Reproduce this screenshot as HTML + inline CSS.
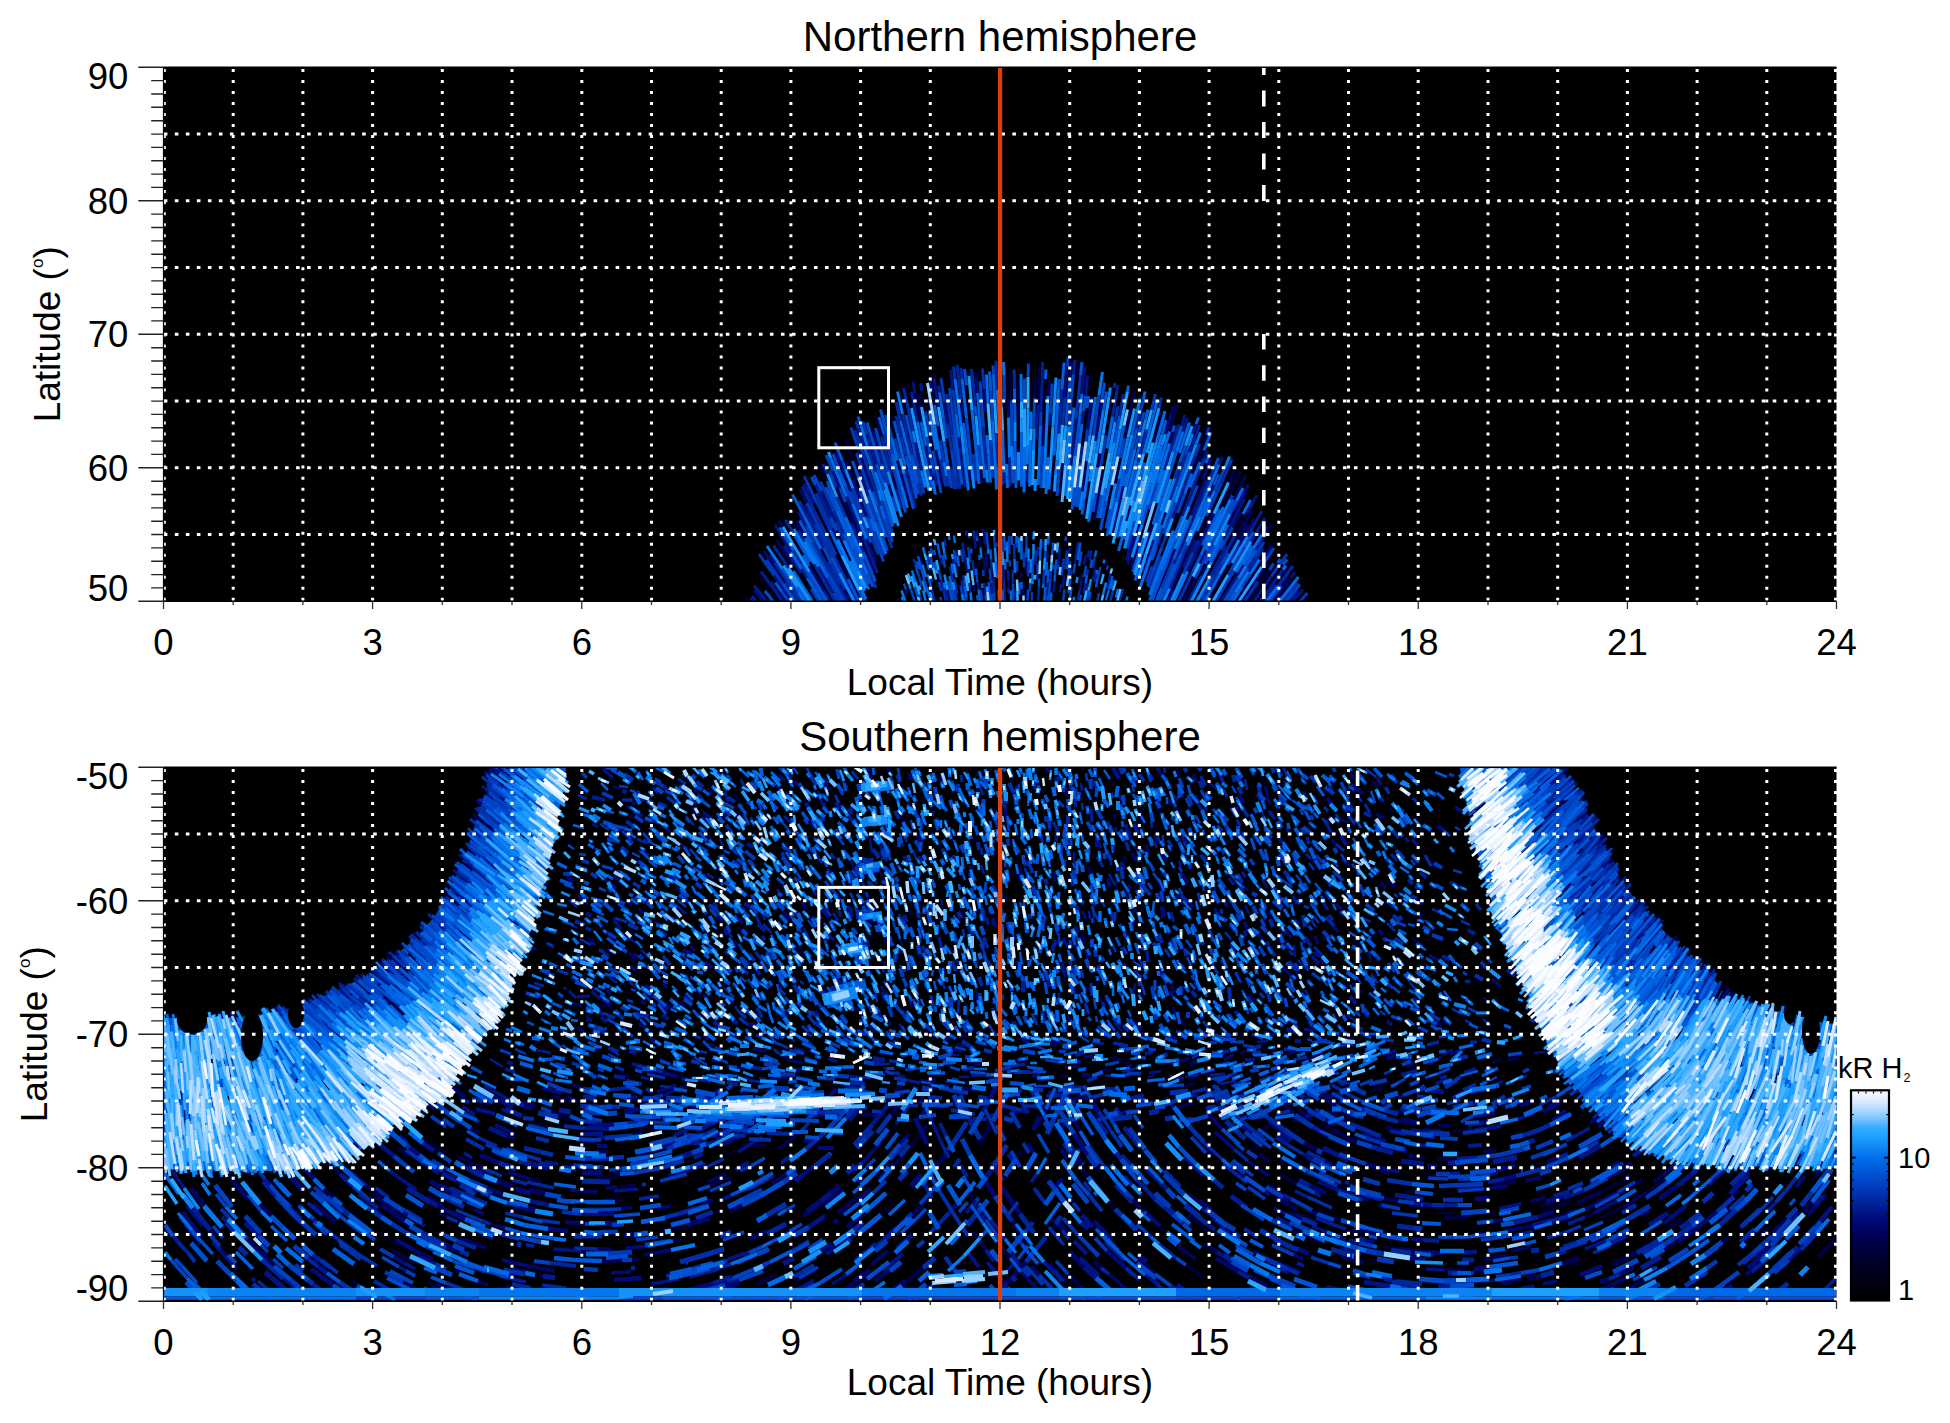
<!DOCTYPE html><html><head><meta charset="utf-8"><title>Auroral maps</title><style>html,body{margin:0;padding:0;background:#fff;overflow:hidden}svg{display:block}text{font-family:"Liberation Sans",Arial,Helvetica,sans-serif;fill:#000}</style></head><body>
<svg width="1950" height="1423" viewBox="0 0 1950 1423">
<rect width="1950" height="1423" fill="#fff"/>
<defs><linearGradient id="cb" x1="0" y1="1" x2="0" y2="0"><stop offset="0" stop-color="rgb(0,0,0)"/><stop offset="0.122" stop-color="rgb(0,0,25)"/><stop offset="0.21" stop-color="rgb(0,0,50)"/><stop offset="0.3" stop-color="rgb(0,0,80)"/><stop offset="0.389" stop-color="rgb(0,10,120)"/><stop offset="0.479" stop-color="rgb(0,40,160)"/><stop offset="0.568" stop-color="rgb(0,70,200)"/><stop offset="0.677" stop-color="rgb(0,110,235)"/><stop offset="0.779" stop-color="rgb(30,160,255)"/><stop offset="0.817" stop-color="rgb(50,170,255)"/><stop offset="0.864" stop-color="rgb(120,195,255)"/><stop offset="0.902" stop-color="rgb(170,215,255)"/><stop offset="0.949" stop-color="rgb(220,235,255)"/><stop offset="1.0" stop-color="rgb(250,252,255)"/></linearGradient></defs>
<rect x="1851" y="1090.3" width="38" height="210.2" fill="url(#cb)" stroke="#000" stroke-width="2.2"/>
<path d="M1852 1257.5h1.6M1888 1257.5h-1.6M1852 1232.4h1.6M1888 1232.4h-1.6M1852 1214.5h1.6M1888 1214.5h-1.6M1852 1200.7h1.6M1888 1200.7h-1.6M1852 1189.4h1.6M1888 1189.4h-1.6M1852 1179.8h1.6M1888 1179.8h-1.6M1852 1171.5h1.6M1888 1171.5h-1.6M1852 1164.2h1.6M1888 1164.2h-1.6M1852 1114.7h1.6M1888 1114.7h-1.6M1858.5 1091.4v2M1866 1091.4v2M1873.5 1091.4v2M1881 1091.4v2" stroke="#000" stroke-width="1.2" fill="none"/>
<path d="M1852 1157.7h4M1888 1157.7h-4" stroke="#000" stroke-width="1.8" fill="none"/>
<text x="1898" y="1168" font-size="29">10</text>
<text x="1898" y="1299.5" font-size="29">1</text>
<text x="1838" y="1078" font-size="29">kR H<tspan font-size="12.5" dy="3.5" dx="1">2</tspan></text>
<rect x="163.5" y="67.3" width="1673.0" height="534.0" fill="#000"/>
<defs><clipPath id="clipT"><rect x="163.5" y="67.3" width="1673" height="534"/></clipPath><clipPath id="clipB"><rect x="163.5" y="767.3" width="1673" height="534"/></clipPath></defs><g clip-path="url(#clipT)"><g transform="scale(0.5)">
<path stroke="#00000b" stroke-width="6" d="M2148 815l6-61m268 164l8-20m-141 27l5-19m-89 39l9-48m-143 61l2-79m-36 25l-1-61m-414 335l-20-32m30 58l-44-71m-28 71l-52-70"/>
<path stroke="#000011" stroke-width="6" d="M1974 870l-3-45m91-2l2-96m250 75l3-11m-304 110l-4-95m-381 144l-7-16m791 26l19-48m-39 168l21-48m-117 32l18-58m34 173l19-44m53 69l44-78m-102 78l24-51m-846 51l-13-17"/>
<path stroke="#000017" stroke-width="6" d="M1960 763l-3-32m-106 92l-7-41m93 35l-4-46m154 77l4-90m251 200l17-52m-194-14l9-76m-78 98l4-63m-153 57l-10-91m-218 127l-24-68m758 216l33-64m-163 85l32-87m-147 22l16-78m-618 141l-44-75m203 109l-23-60m646 119l37-72"/>
<path stroke="#00001e" stroke-width="6" d="M2177 792l6-46m-167 52l-1-47m197 120l9-54m0 0l7-41m-326 159l-9-58m481 162l32-81m-11 13l17-45m12 97l29-65m-106 103l33-86m-697 144l-34-68m0 0l-21-44m-41 135l-31-49m100 31l-14-26m663 34l23-64m188 95l35-51m45 70l9-11m-92 33l53-75m-65 75l54-78m-889 78l-46-80m-67 80l-36-48"/>
<path stroke="#000026" stroke-width="6" d="M1938 752l-2-14m-146 139l-13-51m694 123l5-11m-77-50l16-42m-695 135l-31-84m414 97l5-83m168 182l23-74m-21 148l7-23m151 60l36-59m-100 59l38-76m-910 76l-14-16"/>
<path stroke="#00002e" stroke-width="6" d="M1868 756l-2-11m-54 85l-9-42m20 28l-9-40m650 143l3-8m-454 17l0-27m-147 0l-7-35m-154 56l-16-42m-35 82l-18-41m803 97l32-69m-2 123l25-46m-798 132l-24-49m695 63l38-81m20 41l17-33m-90 105l15-32"/>
<path stroke="#000036" stroke-width="6" d="M2154 754l3-34m-87 52l0-18m-282 88l-3-10m74-7l-5-23m15 8l-4-24m158 15l-2-65m149 290l9-63m340 156l22-34m-37 6l25-41m-241 114l16-44m167 84l49-77m-106 77l42-75m-149 75l28-70"/>
<path stroke="#000036" stroke-width="5" d="M1997 1136l-1-30"/>
<path stroke="#00003f" stroke-width="6" d="M1952 753l-1-9m-188 129l-14-47m635 121l29-77m-107 15l16-61m-441 57l-5-29m244 134l5-60m106 41l10-51m206 98l34-70m-778 103l-30-72m-76 86l-13-22m117 83l-28-61m822 143l44-64"/>
<path stroke="#000049" stroke-width="6" d="M2096 792l2-34m-255 56l-5-28m198 57l0-83m40 49l1-35m323 150l8-23m-615 79l-10-35m705 54l7-14m-38 121l26-48m-85 22l26-57m-101 27l9-25m3 109l15-36m201 71l31-42m-31 77l35-45m-883 45l-13-25"/>
<path stroke="#000049" stroke-width="5" d="M1961 1095l-2-19m-3 59l-1-10"/>
<path stroke="#000152" stroke-width="6" d="M2077 774l1-41m-9 63l1-24m-228 72l-12-58m419 91l20-93m70 79l16-53m-16 77l6-23m-150 71l5-28m257 58l10-23m67 122l9-16m-87 1l14-29m-745 66l-34-82m674 125l29-67m169 110l11-16m-207 48l23-47m-666 47l-41-85"/>
<path stroke="#000152" stroke-width="5" d="M2004 1077l-1-11m-158 63l-5-21m75 34l-3-17m74 33l-2-20m63 53l0-22"/>
<path stroke="#00045f" stroke-width="6" d="M2342 829l5-17m-641 148l-14-37m125 81l-22-83m90 50l-13-71m92 68l-3-32m204 47l8-61m16 117l16-94m263 54l23-48m8 79l5-10m-21 38l16-28m-21 50l17-31m-242-7l8-31m-650 65l-19-35m-4 92l-34-53m194 63l-23-57m679 65l15-29m126 82l37-49m-250 49l33-75m-793 75l-22-30"/>
<path stroke="#00045f" stroke-width="5" d="M1949 1183l-2-13"/>
<path stroke="#00076b" stroke-width="6" d="M2140 759l3-36m-216 123l-5-46m95 35l-1-37m175 84l13-84m-119 94l2-44m-473 158l-14-27m101 3l-15-39m99 51l-7-25m162-9l-2-20m540 151l31-54m-44 18l17-32m-916 31l-8-13m13 124l-30-42m106 58l-29-49m645 3l13-42m2 43l28-87m176 155l52-77"/>
<path stroke="#00076b" stroke-width="5" d="M1971 1145l-3-30m75 39l0-9m9 2l0-32m-151 89l-6-24"/>
<path stroke="#000a78" stroke-width="6" d="M2164 788l6-55m-40 62l5-63m-180 54l-3-33m-87 33l-5-32m35 93l-6-43m82 21l-3-47m207 81l9-65m147 74l11-39m64 129l16-40m-668-27l-8-29m-60 81l-15-38m62 128l-27-73m39 23l-30-90m755 127l27-51m-86 95l17-37m-202 37l21-92m-706 151l-13-21m224 24l-19-48m522 51l24-81m120 79l13-27m108 27l23-34m-845 111l-18-34m-153 34l-19-24"/>
<path stroke="#000a78" stroke-width="5" d="M1954 1073l-2-12m-90 36l-3-13m-44 105l-3-10m145 0l-2-14m19-32l-3-31m46 76l0-17m77-37l1-19m68 56l2-13"/>
<path stroke="#001384" stroke-width="6" d="M2171 792l4-41m-269 29l-5-40m-71 46l-4-23m51 51l-9-58m232 95l1-24m63 21l3-26m196 30l7-23m-4 34l9-27m10 32l7-20m46 81l7-15m-36 3l6-15m-273 30l10-94m-229 77l-5-40m-75 66l-12-56m-203 122l-20-40m72 9l-14-34m70 50l-17-48m146 17l-13-69m531 139l29-71m6 33l10-23m66 56l20-36m10 79l10-16m-87 26l41-80m-131 108l31-74m-661 43l-34-83m-18 86l-10-22m6-13l-28-62m-14 66l-20-39m3 43l-15-28m-15 80l-32-54m0 124l-8-11m8-38l-11-16m127 76l-29-52m616-13l14-50m18 74l22-64m60 55l25-55m-17 63l36-79m171 91l8-11m-5 60l21-25m-28 25l18-22m-154 22l45-74m-150 74l11-25m-763 25l-37-53"/>
<path stroke="#001384" stroke-width="5" d="M2137 1114l3-20m-170-5l-3-31m-16 39l-2-21m-14 70l-5-30m11 69l-2-9m45 12l-2-21m26-8l-2-29m101 55l2-22m8-33l3-32m0 87l2-17m3 8l3-26m22-23l1-11m8 66l4-21m5-31l4-21m14 50l4-22m-159 67l-1-26m-233 26l-2-6"/>
<path stroke="#001c91" stroke-width="6" d="M2234 781l2-11m-89-21l3-29m-65 22l0-18m-206 61l-2-14m-33 11l-3-15m-6 77l-12-60m250 95l3-70m6 15l3-82m295 162l19-54m-70 90l28-91m-196 78l4-35m-400 35l-11-36m-1 38l-19-60m-5 27l-12-38m-107 126l-6-11m57 62l-30-65m172 46l-10-36m38 35l-21-84m63 40l-5-24m63 28l-8-60m86 52l-1-22m46 19l0-35m291 108l19-53m0 0l26-71m-25 119l23-62m0 0l11-28m-11 91l17-40m107 107l22-36m-32 19l28-47m-35 37l29-51m-138 83l12-25m-671 25l-24-58m-56 48l-44-84m-1 135l-34-54m46 64l-11-18m152 8l-28-70m622 52l8-21m62 49l34-64m79 95l34-48m-40 65l25-35m-32 35l13-17m-25 17l36-52m-883 52l-13-23m-81 23l-44-61m12 61l-26-33m6 33l-10-12m3 12l-6-7"/>
<path stroke="#001c91" stroke-width="5" d="M2176 1114l2-13m-27 15l5-31m-70 12l1-16m-154-9l-1-11m-17 51l-2-9m-28 27l-4-14m27 12l-2-10m22 72l-5-29m5-1l-2-10m45 40l-2-24m32-40l0-11m16 46l-1-21m78 51l1-25m72 20l4-19m2 14l2-12m4-48l4-20m31 76l7-30m-211 57l-1-19m-113 19l-6-27"/>
<path stroke="#00269d" stroke-width="6" d="M2228 776l2-10m-201 11l0-24m-34 27l-3-59m-45 51l-4-34m-19 19l-2-21m-4 24l-4-30m-103 63l-4-17m-94 92l-3-8m92 13l-10-42m23 41l-10-44m117-28l-4-40m32 52l-3-40m171 95l6-88m101 54l9-52m5 51l8-44m26 70l7-32m-3 98l16-65m-297 74l-2-46m-21 53l-6-86m-143 56l-9-38m-32 73l-20-72m-12 71l-16-50m-80 54l-9-20m115 83l-20-58m179 25l-6-46m106 41l-1-58m321 85l31-89m34 82l23-56m25 165l16-30m-781-5l-20-44m-27 24l-31-63m-1 99l-12-22m-7 11l-19-32m6 96l-30-45m55 35l-15-25m74 43l-32-59m51 85l-24-46m683 53l36-86m51 62l27-51m3 27l22-38m18 44l14-21m-13 29l29-45m30 74l30-40m-209 72l27-53m-690 53l-23-45m2 45l-32-60m10 60l-43-77m-31 77l-26-39"/>
<path stroke="#00269d" stroke-width="5" d="M2076 1111l1-17m-82 0l-1-9m-45-9l-2-15m-17 55l-5-31m-34 6l-2-11m-58 49l-4-11m59 59l-4-17m24 4l-6-31m15 56l-6-31m40-8l-4-29m39 17l-2-19m6 66l-2-27m17 3l-1-26m7 50l-1-26m10 29l-1-10m9-10l-1-28m46-11l1-29m69 53l2-14m46 25l4-16m-38 56l4-22m-83 22l2-29m-143 29l-2-9m-41 9l-6-27m-16 27l-7-26"/>
<path stroke="#002fa9" stroke-width="6" d="M2029 753l-1-14m-60 39l-3-41m-55 21l-3-25m-190 125l-5-16m89 0l-9-38m34 58l-15-69m87 29l-5-34m12 81l-7-47m227 28l5-55m8 58l5-59m11 23l7-66m69 93l6-32m82 4l5-21m90 75l5-15m-19 87l10-25m-19-4l9-25m-50 69l10-32m-365-38l-1-21m-90 34l-8-53m-83 65l-10-39m-21 41l-13-46m-27 85l-28-85m-110 143l-5-9m15-40l-5-10m34 58l-10-23m41-12l-14-34m32 93l-17-40m169-3l-6-24m54 6l-10-54m16 54l-4-21m16 27l-7-44m12 43l-3-25m532 13l21-47m-141 177l9-24m-19 21l13-37m-542 40l-29-84m1 97l-20-53m-48 25l-17-37m1 65l-31-62m24 10l-23-47m21 105l-34-67m31 12l-25-52m55 171l-27-52m28 32l-37-73m98 90l-25-58m572 58l24-63m242 91l30-38m-107 38l28-41m-113 41l41-75m-87 75l29-61m-783 61l-53-79"/>
<path stroke="#002fa9" stroke-width="5" d="M2132 1118l2-17m-105 17l-1-31m-27 28l-1-8m-137 33l-7-29m83 65l-1-10m136-7l1-32m26 30l1-15m23-8l2-17m3 21l2-20m42 32l2-11m10-3l4-24m23 28l3-9m22 73l8-26m-248 26l-2-25"/>
<path stroke="#0038b6" stroke-width="6" d="M2135 732l1-18m-235 81l-2-19m-165 93l-8-26m133 23l-8-43m38-19l-7-48m30 72l-6-48m103 26l0-22m59 73l0-21m13 16l1-28m19 3l3-60m48 71l2-21m126 9l7-27m16 21l8-32m-110 146l11-63m-40 12l3-24m-189 97l-5-76m-67 52l-9-63m-17 55l-7-43m-81 36l-10-40m-75 16l-13-38m-67 153l-22-46m55 61l-27-60m86 71l-21-57m32 2l-25-73m28 131l-21-56m25 37l-9-26m34-27l-12-41m20 45l-13-42m83 60l-17-73m121 48l-5-54m57 62l-3-60m229 85l8-37m175 74l30-66m18 33l4-8m45 123l18-30m-86 15l23-44m-678 18l-24-72m5 110l-18-48m4-20l-9-25m-17 33l-27-69m-47 104l-40-80m15 79l-17-33m-64 99l-30-43m48 60l-33-48m760 44l12-32m18 44l13-30m0 0l11-27m20 28l19-42m4 52l40-81m26 74l33-56m-7 65l14-24m47 17l31-44m25 96l16-18m-184 18l37-63m-70 63l28-51m-744 51l-27-49m22 49l-11-19m-28 19l-16-26"/>
<path stroke="#0038b6" stroke-width="5" d="M2053 1094l0-22m-20 24l0-9m-14 21l-1-36m-13 31l-1-26m-14 19l-2-27m-49 7l-1-9m-95 104l-5-18m26 10l-2-8m20 27l-4-18m46 24l-3-17m5-47l-4-25m7 72l-1-11m13-36l-5-30m31 58l-1-12m16 27l-3-30m55 6l0-21m14 13l0-30m8 48l1-30m3 60l0-17m27 2l1-29m19-1l0-8m9 9l1-9m6 21l2-17m12 17l4-28m79 81l6-23m-32 23l4-18m-134 18l0-20m-37 20l-1-14m-62 14l-2-24m-48 24l-5-24m-66 24l-4-15"/>
<path stroke="#0042c2" stroke-width="6" d="M2143 794l4-45m-91 5l1-27m-48 57l-1-33m-21-2l-1-18m-208 124l-7-25m12 45l-5-20m131 0l-8-60m66 59l-7-91m25 79l-3-59m21 31l-1-36m66 58l1-40m66 14l5-51m47 112l11-81m173 121l6-19m-107 6l18-74m-47 92l8-39m-225 15l-1-91m-62 135l-4-46m-14 41l-10-95m-22 117l-8-53m-4 53l-4-26m-27 20l-14-73m-23 40l-6-29m-40 23l-6-24m-3 59l-14-47m0 0l-11-40m-60 83l-7-19m-8 15l-10-27m0 34l-14-32m-9 72l-15-32m63 54l-11-28m25 31l-13-33m102 49l-9-29m18 0l-22-80m101 72l-16-85m37 75l-4-23m183 23l3-84m29 100l5-58m180 85l16-53m40 60l14-37m9 24l17-42m34 11l21-47m10 93l13-26m-110 105l10-23m-45-16l23-63m-97 92l15-55m-484 42l-15-45m5 63l-21-59m-12 42l-14-34m-55 10l-12-26m-10 103l-28-52m40 41l-16-32m120 28l-34-90m562 140l28-77m121 33l13-23m27 68l16-25m23-15l25-38m-9 44l8-13m24 77l29-35m-62 35l25-32m-110 32l29-45m-160 45l9-22m-643 22l-37-66m-2 66l-47-78m-24 78l-14-20"/>
<path stroke="#0042c2" stroke-width="5" d="M2131 1082l1-9m-42 42l1-13m-115-5l-3-33m-19 18l0-9m-73 43l-2-9m-14 4l-3-14m-50 82l-4-12m25-28l-2-10m7 24l-5-14m20 35l-4-13m15-35l-6-24m24 58l-5-20m13-5l-5-25m27 15l-4-25m47 65l-2-14m67-18l0-12m6 69l0-22m39-21l1-26m12 54l0-18m21 21l2-21m33-18l3-25m10 33l3-20m18 27l4-22m23 26l6-24m46 70l1-3m-71 3l2-9m-7 9l2-8m-14 8l2-15m-36 15l3-25m-36 25l1-13m-39 13l1-25m-67 25l-1-19m-3 19l-1-16m-11 16l-2-14m-62 14l-4-23m-22 23l-2-10m-51 10l-9-27"/>
<path stroke="#004ccd" stroke-width="6" d="M2204 798l5-33m-92 15l2-22m-117 20l-3-60m-66 53l-4-33m-207 113l-6-18m78 32l-6-23m105 35l-6-40m65-5l-2-20m99 5l0-60m83 94l3-41m32 12l4-30m3 24l3-24m168 72l4-13m79 86l9-21m-78 9l12-34m-118 56l20-89m-44 27l10-53m-89 79l7-57m-243 38l-5-37m-84 30l-13-55m-33 54l-18-65m-3 105l-24-79m-17 110l-12-33m-74 48l-8-16m41 32l-10-24m20 60l-22-48m103 38l-10-29m24-4l-16-50m58 96l-8-31m24 24l-19-71m25 50l-21-85m24 76l-15-66m16 45l-13-57m39 68l-9-44m70 35l-10-77m112 75l-1-26m119 78l5-44m1 38l11-86m-6 87l5-39m26 49l6-38m3 50l8-46m225-20l9-22m52 146l18-30m-77 12l38-77m-126 104l10-25m-68-29l11-39m-61 66l11-45m-33 26l8-38m-19 41l11-57m-615 182l-32-47m114 8l-16-31m50 9l-25-57m50 101l-31-71m39 77l-11-25m16 14l-24-58m577 15l9-27m18 89l32-75m-31 24l10-28m44 40l16-33m8 18l19-38m-6 34l24-45m108 47l6-8m5 11l8-10m-126 85l29-47m-160 47l32-76m-46 76l29-73m-603 73l-11-23m1 23l-23-46m-105 46l-25-36m-19 36l-17-22"/>
<path stroke="#004ccd" stroke-width="5" d="M2106 1094l0-9m-2 25l2-16m-54 21l1-21m-29-4l-1-18m-13 30l-2-36m-65 41l-1-10m-72 13l-2-10m-32 94l-7-20m9-36l-4-15m9 15l-7-26m13 49l-6-23m15 2l-5-20m45 50l-2-8m7 34l-5-26m61-50l-1-10m22 84l-3-30m62 25l0-24m56 1l2-27m1 55l1-16m11-31l3-28m24 67l3-24m0 0l1-9m17-21l5-29m16 92l2-12m0-47l3-17m8 56l3-17m-98 46l1-10m-142 10l-2-14m-23 14l-3-14m-23 14l-2-8"/>
<path stroke="#0056d6" stroke-width="6" d="M2161 751l3-27m-182 59l-3-40m-211 125l-10-34m118 18l-7-42m92 56l-6-80m75 58l-1-67m128 77l3-25m47-10l6-36m51 86l10-44m50 44l8-29m80 86l6-15m-10-10l14-36m-76 39l17-52m-18 76l8-25m-81 17l11-48m-47 41l12-62m-353 76l-7-44m-36 9l-10-48m-102 83l-11-31m-45 24l-14-35m-61 149l-24-45m107-15l-16-39m81 45l-17-53m258 43l-2-37m36 43l-2-93m134 146l4-31m92-5l17-69m47 69l21-65m11 44l24-68m25 187l34-73m-92 58l18-44m-18 87l36-88m-70 15l8-24m-20 92l22-64m-109 22l16-77m-444 58l-16-49m-22 39l-13-36m-39 52l-32-73m-41 100l-24-45m-12 60l-28-46m5 129l-13-19m67-33l-12-21m14 13l-30-52m135 53l-29-66m42 120l-25-55m779 8l20-32m-53 104l12-19m-159 19l11-28m-25 28l25-64m-668 64l-36-60m25 60l-30-48"/>
<path stroke="#0056d6" stroke-width="5" d="M2096 1089l1-11m-54 16l0-12m-61 37l-1-20m-89 20l-3-12m-10 0l-4-20m-12 91l-3-12m6-31l-2-9m8 13l-3-15m49 9l-3-21m18 83l-4-24m24-20l-1-14m91 41l0-14m37-43l1-23m28 65l1-16m45-27l6-35m10 82l3-17m0 46l3-15m41-2l7-27m-3 27l5-19m-88 44l4-30m-42 30l2-19m-15 19l3-30m-85 30l-1-25m-24 25l-1-10m-114 10l-3-9"/>
<path stroke="#0060df" stroke-width="6" d="M2287 799l3-16m-35 0l2-12m-133 8l4-54m-37 33l1-19m-103 60l-2-50m-100 88l-8-52m39 90l-6-47m21 8l-9-79m188 106l5-83m25 90l6-55m32 55l11-76m100 46l5-21m6 31l12-48m78 46l5-13m-38 71l20-61m-165 52l11-64m-66 54l5-39m-56 63l4-48m-34 62l3-73m-38 55l0-42m-74 91l-8-90m-7 52l-8-76m-8 98l-11-94m-73 88l-19-90m-14 78l-20-80m9 89l-16-66m1 56l-12-46m-13 164l-9-28m42-39l-18-64m173 60l-4-50m27 47l-4-56m38 67l-1-23m29 20l0-66m33 63l2-45m122 111l11-60m23 28l14-64m-1 32l6-25m16 55l20-77m80 64l15-42m-4 28l20-51m0 109l18-40m-6 107l9-19m-19 29l11-25m-107-36l18-56m-75 86l5-22m-17 45l9-33m-69-25l8-46m-414 76l-16-47m-5 36l-9-26m-34 60l-33-75m10 89l-24-51m-18 38l-33-64m-6 104l-21-34m73 51l-44-79m655 68l21-68m-17 85l8-25m141-14l37-73m16 96l32-54m-17 39l19-32m-41 106l19-30m-75 30l31-56m-814 56l-39-62m28 62l-20-30"/>
<path stroke="#0060df" stroke-width="5" d="M2190 1112l3-11m-150 18l0-25m-10-7l0-15m-19 22l0-11m-115-3l-1-9m-39 124l-6-21m7-8l-5-18m50 33l-6-29m8-5l-4-20m62 49l-1-9m30-11l-2-31m19 14l-1-21m55 41l0-12m27 4l2-27m99 24l1-8m17 64l7-25m-196 25l0-23m-62 23l-3-25"/>
<path stroke="#006ae8" stroke-width="6" d="M1922 851l-12-93m36 84l-2-21m32-14l-3-58m14 130l-2-37m58-38l-1-56m20 109l0-34m98 6l4-41m228 101l9-24m-48 38l13-40m-46 64l19-64m-26 21l17-62m-18 111l12-43m-37 18l15-58m-167 94l7-74m-117 71l0-21m-11 33l-1-25m-5 17l-3-85m-4 50l-4-88m-7 100l-3-43m-10 30l-3-39m-81 82l-5-28m-7-5l-12-70m3 51l-13-75m-124 69l-13-43m-29 142l-32-78m109 89l-19-60m64 72l-12-44m68 17l-6-28m72 20l-9-73m65 71l-3-57m58 63l1-90m10 78l2-93m31 108l4-74m2 65l2-32m30 45l5-48m77 59l8-40m0 0l6-33m26 44l18-76m-16 95l18-73m37 83l20-63m-14 26l24-79m69 113l30-71m35 73l13-26m0 52l15-28m5 98l18-29m-111 16l34-71m-53 48l35-80m-46 77l25-59m-82 56l30-84m-49 108l12-35m-40 3l23-81m-530 141l-24-65m-15 35l-28-71m22 111l-36-84m41 165l-9-19m12-31l-10-24m555 51l21-62m-2 76l16-43m0 0l32-86m-24 79l24-64m153 73l19-30m47 20l6-8m-14 73l39-50m-65 50l24-32m-947 32l-12-19"/>
<path stroke="#006ae8" stroke-width="5" d="M2097 1078l1-12m-17 32l1-20m-44 27l0-30m-61 33l-1-11m-13 19l-2-21m-51-9l-2-15m-59 36l-3-13m-15 69l-7-22m28 13l-7-25m45 48l-2-12m142-19l-1-28m37 3l1-13m19 68l1-8m120-41l2-8m-402 85l-4-10"/>
<path stroke="#0577ee" stroke-width="6" d="M2198 790l7-46m-197 7l-1-27m-202 104l-10-45m202 39l-2-42m279 45l6-28m3 75l8-32m159 95l9-22m-82-21l8-24m-82 75l21-74m-73 30l5-24m-18 83l13-59m-25 31l14-71m-47 49l14-89m-76 111l7-77m-27 97l3-29m-22-39l4-90m-29 107l1-42m-14 72l1-39m-30 30l-1-28m-5 23l-2-80m-186 50l-5-23m-71 165l-17-48m25 22l-6-21m94-5l-8-34m132 24l-2-25m114 36l5-94m68 138l5-37m3 15l10-71m7 71l10-63m100 75l25-83m-18 40l10-34m109 148l40-82m-102 78l15-38m-24 59l9-21m-40-32l30-88m-784 181l-31-46m94 35l-40-69m49 75l-28-50m104 76l-38-80m41 63l-28-61m35 99l-10-21m16 23l-28-60m770 63l26-42m-20 14l15-25m-145 72l28-61"/>
<path stroke="#0577ee" stroke-width="5" d="M1889 1107l-4-23m-34 101l-6-24m170-37l-1-30m43 29l0-26m4 49l1-28m3 50l0-9m141 31l6-25m20 30l4-17m16 26l3-11m-108 11l1-10m-205 10l-2-19m-15 19l-2-16m-72 16l-6-23m-35 23l-8-23"/>
<path stroke="#0d84f4" stroke-width="6" d="M2218 793l3-18m-115 78l6-98m212 135l7-22m-37 83l19-67m-65 56l16-71m-43 54l8-38m-10 20l11-61m-57 78l7-52m-150 13l0-39m-102 64l-6-57m-114 96l-8-30m-94 60l-15-38m112 95l-27-91m172 34l-5-46m94 30l0-57m33 78l1-24m70 40l9-87m29 52l12-81m29 137l11-52m51 50l21-74m18 79l21-64m9 47l9-27m0 0l32-89m37 201l31-62m-85 63l25-58m-48 45l26-65m-109 29l10-34m-15 107l20-66m-35 48l19-72m-471 27l-27-87m20 82l-21-68m671 169l38-68m-14 46l31-53m-102 131l26-48m-37 48l41-80m-81 80l25-57m-40 57l12-27m-630 27l-30-58"/>
<path stroke="#0d84f4" stroke-width="5" d="M2091 1102l0-12m-24 18l0-20m-246 89l-3-9m75 1l-4-20m20 31l-3-16m7-9l-5-27m30 10l-3-23m57 10l-2-29m163 70l2-12m24 19l3-15"/>
<path stroke="#1592f9" stroke-width="6" d="M1944 821l-6-69m105 113l0-28m163 32l12-76m38 82l13-58m102 74l13-39m-44 72l6-20m-52 2l24-90m-189 64l3-29m-18 70l4-54m-18 80l6-94m-51 37l1-73m-99 73l-5-58m-114 56l-15-72m-162 99l-4-11m17 90l-19-46m203 33l-20-93m227 82l2-71m42 84l2-33m203 56l26-82m33 160l10-25m-51 13l13-35m-91 20l15-55m-49 67l14-65m-498 52l-9-22m-132 140l-28-43m52 13l-35-59m148 92l-16-35m553 8l27-86m-18 89l14-45m176 33l34-58m-881 121l-44-68"/>
<path stroke="#1592f9" stroke-width="5" d="M2067 1079l1-16m-162 55l-2-10m-30 39l-2-8m23 41l-2-11m82 15l-1-11m32-43l-1-27m83 36l2-24"/>
<path stroke="#1e9fff" stroke-width="6" d="M1854 874l-11-60m150 52l-4-67m251 60l15-76m38 76l10-39m-254 75l0-78m86 181l7-66m31 106l14-91m24 29l10-53m65 38l20-76m122 142l29-62m-190 105l15-53m-36 31l14-55m-14 76l7-27m-13 31l6-25m-20 39l21-90m-663 88l-18-31m152 127l-34-70m793 93l46-70m-98 70l31-54"/>
<path stroke="#1e9fff" stroke-width="5" d="M2114 1105l2-20m-25 5l1-12m-104-9l0-9m-167 104l-5-17m13 27l-6-22m16 37l-8-26m10 17l-3-9m25 24l-3-11m17-44l-4-20m304 61l2-8"/>
<path stroke="#2ca7ff" stroke-width="6" d="M2043 837l0-33m13 13l0-63m144 153l6-38m-19 78l6-39m-74 26l6-84m-64 30l1-23m-174 26l-11-69m326 176l16-85m42 106l6-26m0 0l20-77m5 200l21-62m73 107l13-26"/>
<path stroke="#2ca7ff" stroke-width="5" d="M1871 1090l-3-12m-15 42l-4-13m87 75l-5-31m59 3l-3-29m82 34l1-9m32-8l1-17m99 43l5-20m19 33l6-20m-64 43l5-23m-138 23l0-21"/>
<path stroke="#4ab3ff" stroke-width="6" d="M2005 860l-2-46m175 113l9-56m-206 9l-5-73m148 197l7-74m116 67l5-23m16 51l18-64"/>
<path stroke="#4ab3ff" stroke-width="5" d="M1872 1159l-6-24m72 31l-3-20m12 24l-4-29m117 25l1-9m173 47l7-26m-38 26l3-14"/>
<path stroke="#74c1ff" stroke-width="6" d="M2248 851l7-32m-130 107l4-46m116 151l9-38m25 15l15-57m38 74l8-25m-53 76l22-73"/>
<path stroke="#74c1ff" stroke-width="5" d="M1818 1168l-6-18m223 33l-1-24m85-9l2-16m13 38l3-21m84-4l3-10m-385 67l-3-10"/>
<path stroke="#99d0ff" stroke-width="6" d="M1869 849l-14-83m-120 241l-18-52m443 20l12-92m20 103l9-52m23 36l12-57"/>
<path stroke="#99d0ff" stroke-width="5" d="M2110 1101l1-14m-68-5l0-10m-124 39l-1-11m161 48l1-27m23 4l1-15m-57 94l0-13m-70 13l-2-20"/>
<path stroke="#baddff" stroke-width="6" d="M2149 975l10-88"/>
</g></g>
<path d="M164.3 68.9V601.3M233.2 68.9V601.3M302.9 68.9V601.3M372.6 68.9V601.3M442.3 68.9V601.3M512 68.9V601.3M581.8 68.9V601.3M651.5 68.9V601.3M721.2 68.9V601.3M790.9 68.9V601.3M860.6 68.9V601.3M930.3 68.9V601.3M1069.7 68.9V601.3M1139.4 68.9V601.3M1209.1 68.9V601.3M1278.8 68.9V601.3M1348.5 68.9V601.3M1418.2 68.9V601.3M1488 68.9V601.3M1557.7 68.9V601.3M1627.4 68.9V601.3M1697.1 68.9V601.3M1766.8 68.9V601.3M1835.5 68.9V601.3" stroke="#fff" stroke-width="3" stroke-dasharray="3 8.02" fill="none"/>
<path d="M163.8 134.1H1836.5M163.8 200.8H1836.5M163.8 267.6H1836.5M163.8 334.3H1836.5M163.8 401.1H1836.5M163.8 467.8H1836.5M163.8 534.5H1836.5" stroke="#fff" stroke-width="3" stroke-dasharray="3.6 7.42" fill="none"/>
<path d="M1263.8 201V67.3" stroke="#fff" stroke-width="3.6" stroke-dasharray="16 15.5" fill="none"/>
<path d="M1263.8 334.1V601.3" stroke="#fff" stroke-width="3.6" stroke-dasharray="15.4 15.8" fill="none"/>
<path d="M1000.1 67.3V601.3" stroke="#dc400c" stroke-width="4.2" fill="none"/>
<rect x="818.8" y="367.7" width="69.7" height="80.1" stroke="#fff" stroke-width="3" fill="none"/>
<path d="M163.5 67.3H1836.5M163.5 601.3H1836.5" stroke="#000" stroke-width="1.6" fill="none"/>
<path d="M163.5 67.3V601.3" stroke="#000" stroke-width="1.2" fill="none"/>
<path d="M138.3 67.3H163.5M151.2 80.6H163.5M151.2 94H163.5M151.2 107.3H163.5M151.2 120.7H163.5M151.2 134.1H163.5M151.2 147.4H163.5M151.2 160.8H163.5M151.2 174.1H163.5M151.2 187.4H163.5M138.3 200.8H163.5M151.2 214.1H163.5M151.2 227.5H163.5M151.2 240.9H163.5M151.2 254.2H163.5M151.2 267.6H163.5M151.2 280.9H163.5M151.2 294.2H163.5M151.2 307.6H163.5M151.2 320.9H163.5M138.3 334.3H163.5M151.2 347.7H163.5M151.2 361H163.5M151.2 374.4H163.5M151.2 387.7H163.5M151.2 401.1H163.5M151.2 414.4H163.5M151.2 427.8H163.5M151.2 441.1H163.5M151.2 454.4H163.5M138.3 467.8H163.5M151.2 481.2H163.5M151.2 494.5H163.5M151.2 507.9H163.5M151.2 521.2H163.5M151.2 534.5H163.5M151.2 547.9H163.5M151.2 561.2H163.5M151.2 574.6H163.5M151.2 587.9H163.5M138.3 601.3H163.5" stroke="#222" stroke-width="1.4" fill="none"/>
<path d="M163.5 601.3v7.6M233.2 601.3v3.6M302.9 601.3v3.6M372.6 601.3v7.6M442.3 601.3v3.6M512 601.3v3.6M581.8 601.3v7.6M651.5 601.3v3.6M721.2 601.3v3.6M790.9 601.3v7.6M860.6 601.3v3.6M930.3 601.3v3.6M1000 601.3v7.6M1069.7 601.3v3.6M1139.4 601.3v3.6M1209.1 601.3v7.6M1278.8 601.3v3.6M1348.5 601.3v3.6M1418.2 601.3v7.6M1488 601.3v3.6M1557.7 601.3v3.6M1627.4 601.3v7.6M1697.1 601.3v3.6M1766.8 601.3v3.6M1836.5 601.3v7.6" stroke="#333" stroke-width="1.3" fill="none"/>
<text x="128.4" y="88.5" text-anchor="end" font-size="36.5">90</text>
<text x="128.4" y="213.8" text-anchor="end" font-size="36.5">80</text>
<text x="128.4" y="347.3" text-anchor="end" font-size="36.5">70</text>
<text x="128.4" y="480.8" text-anchor="end" font-size="36.5">60</text>
<text x="128.4" y="601" text-anchor="end" font-size="36.5">50</text>
<text x="163.5" y="654.9" text-anchor="middle" font-size="36.5">0</text>
<text x="372.6" y="654.9" text-anchor="middle" font-size="36.5">3</text>
<text x="581.8" y="654.9" text-anchor="middle" font-size="36.5">6</text>
<text x="790.9" y="654.9" text-anchor="middle" font-size="36.5">9</text>
<text x="1000" y="654.9" text-anchor="middle" font-size="36.5">12</text>
<text x="1209.1" y="654.9" text-anchor="middle" font-size="36.5">15</text>
<text x="1418.2" y="654.9" text-anchor="middle" font-size="36.5">18</text>
<text x="1627.4" y="654.9" text-anchor="middle" font-size="36.5">21</text>
<text x="1836.5" y="654.9" text-anchor="middle" font-size="36.5">24</text>
<text x="1000" y="695.3" text-anchor="middle" font-size="37">Local Time (hours)</text>
<text transform="translate(59.9 334.3) rotate(-90)" x="0" y="0" text-anchor="middle" font-size="37">Latitude (<tspan font-size="17" dy="-17">o</tspan><tspan dy="17">)</tspan></text>
<text x="1000" y="51" text-anchor="middle" font-size="42">Northern hemisphere</text>
<rect x="163.5" y="767.3" width="1673.0" height="534.0" fill="#000"/>
<g clip-path="url(#clipB)"><path fill="#0056d6" d="M492 760L491 767L486 790L478 815L468 848L452 885L436 915L414 940L392 958L362 978L332 993L300 1006L263 1014L231 1018L209 1018L164 1018L150 1018L150 1170L164 1170L246 1170L291 1170L314 1164L348 1158L365 1147L382 1139L393 1125L410 1119L424 1106L444 1099L456 1074L470 1053L490 1028L505 1001L518 968L530 932L540 895L552 846L560 805L566 769L567 760ZM1556 760L1558 767L1573 790L1588 816L1604 847L1620 880L1635 900L1655 921L1676 946L1696 964L1707 970L1727 997L1753 1003L1776 1011L1788 1012L1819 1022L1837 1024L1850 1024L1850 1170L1837 1168L1796 1165L1744 1167L1692 1163L1657 1154L1622 1137L1587 1102L1561 1067L1545 1040L1527 992L1508 950L1496 915L1485 880L1473 837L1460 769L1458 760Z"/>
<path stroke="#00000b" stroke-width="4.5" d="M1790 1253l9-9"/>
<path stroke="#00000b" stroke-width="3.5" d="M884 1149l7-8"/>
<path stroke="#00000b" stroke-width="3" d="M1553 796l17-17m-1083 11l17 12m-29 28l22 20m982-48l22-21m67 79l25-23m-110 34l28-26m7 59l20-17m-17 7l29-28m46 41l23-29m-21 7l17-21m-13 29l22-22m-14 14l11-11m-19 82l24-30m-33 16l19-26m-92 29l16-15m-1104-8l22 22m-40 8l26 23m-108 12l12 13m22-19l14 11m-13-16l11 10m117-26l18 16m1032 10l18-24m72 15l15-14m39 40l6-12m-1312 13l23 19m-110 16l16 21m-83-45l7 19m-38 0l2 18m30-9l8 23m1536-23l4-18m-1380 71l24 19m-252-5l3 26m1497 4l14-17m134 2l10-37"/>
<path stroke="#00000b" stroke-width="2.5" d="M1469 818l18-13m70-5l15-13m-18 67l22-28m-93 21l11-9m-1026 15l13 11m-28 31l11 8m-6-1l26 25m-128 54l17 15m-7-29l15 13m-1-1l30 27m1282 0l7-12m-1333 13l30 24m1437 62l3-12m-175 2l16-20"/>
<path stroke="#000011" stroke-width="3.5" d="M702 1091l18 0"/>
<path stroke="#000011" stroke-width="3" d="M482 808l12 12m1025-13l30-26m24 56l21-22m-16 23l13-16m-75 20l18-21m-19 30l23-25m-1074 24l9 9m-24 26l16 15m1103-8l18-16m-2 38l15-14m11 58l25-28m-32 26l16-18m-43 7l12-11m-29 23l20-22m-43-1l16-17m-1087 3l31 28m-101 1l28 25m-73 19l26 24m72-27l20 19m1164-33l23-30m18 52l14-24m84 58l3-14m-1387-9l28 25m-113-8l19 22m-131 5l2 28m92-38l10 15m3 1l10 17m45 0l18 16m1291-44l19-28m140 49l5-23m-173 38l18-22m-73 48l8-7m-1291-12l9 9m1304 20l10-10m35 28l14-14m100 31l8-16m31 29l5-11m-76 4l5-11"/>
<path stroke="#000011" stroke-width="2.5" d="M1556 837l15-16m20 43l19-20m-113 2l19-16m70 63l16-18m-14 31l30-30m-43 53l18-22m-1230 92l21 18m-5-54l15 14m1320 25l10-18m-154 44l29-24m-47 25l18-15m-1229 9l13 12m-124-10l8 24m-51 16l5 26m100-26l18 27m1406 66l5-13"/>
<path stroke="#000017" stroke-width="5" d="M552 1134l4 1m1012 133l14-5"/>
<path stroke="#000017" stroke-width="4.5" d="M909 1289l10-8"/>
<path stroke="#000017" stroke-width="3.5" d="M1305 1038l7-4m-785 4l10 6m-58 30l11 5m995 155l20-3"/>
<path stroke="#000017" stroke-width="3" d="M533 778l21 19m-37-26l15 11m-8 30l33 23m914-12l22-19m48 27l21-21m5 23l21-21m-16 12l12-11m11 45l14-16m-1143 12l19 17m1100 14l17-16m-2 37l13-15m-4 42l17-23m-40 46l23-27m-1114 1l20 15m-65 5l19 14m-38-42l14 15m-71 41l17 14m-14-16l16 17m12-27l21 18m56-20l17 14m1115-13l21-23m-20 67l24-30m-98 36l9-10m-1276 30l12 25m-65-7l4 18m8 2l4 15m190-44l34 28m1285-17l4-14m43 78l9-34m-1574 11l12 34m66-6l17 29m1386 11l8-14"/>
<path stroke="#000017" stroke-width="2.5" d="M495 820l9 8m988-16l27-24m-1045 79l12 11m-43 14l16 13m1152-14l10-12m-2 42l11-12m-1131 36l21 18m-194 28l17 20m1358-5l6-10m-1509 61l2 24m81-36l9 15m26-6l21 21m1337-27l10-19m112 71l3-16m33 81l4-15"/>
<path stroke="#00001e" stroke-width="5" d="M1287 1100l16-4m-809 86l21 7"/>
<path stroke="#00001e" stroke-width="4.5" d="M379 1233l21 13"/>
<path stroke="#00001e" stroke-width="4" d="M1385 1027l7 5m-78 136l18 8m180 59l14-3"/>
<path stroke="#00001e" stroke-width="3.5" d="M1410 1023l8 4m-537 115l15-18m470 136l12 3"/>
<path stroke="#00001e" stroke-width="3" d="M501 784l33 22m-45-37l18 14m-19-1l28 26m-13 29l26 28m983-63l25-23m29 32l15-15m8 66l18-20m-1162 47l25 22m1073-23l11-12m71 69l18-24m-1191 37l29 22m-52-34l15 16m-20-20l20 21m-36-9l11 11m-26-7l9 8m-68 27l14 14m94-34l27 21m1129-27l19-20m57 22l10-16m2 26l13-18m-6 23l13-22m93 72l4-16m-96-17l11-19m-135 23l17-17m-56 48l17-15m-1234 11l14 14m-40-19l6 7m-112 0l4 34m-26-34l4 36m75-8l11 32m165-37l29 19m1141-13l13-12m81 2l14-27m123 17l5-19m-84 92l5-15m-1324-21l10 7m-173 13l4 11m-82-26l2 30m-18-24l4 42m94 10l9 22m1376-41l30-26m16 48l10-17m87 5l6-17m-1565 45l2 8"/>
<path stroke="#00001e" stroke-width="2.5" d="M1520 788l22-20m-1009 1l7 6m-40-6l33 23m-48-18l18 14m-18 4l19 14m-14 0l23 17m1028-12l10-12m28 66l15-14m-22 8l24-22m-48 37l18-19m-1119 38l21 15m22-6l28 24m968-43l16-13m112 82l18-23m-1222 12l11 12m-45 45l9 8m18-20l21 19m-16-38l33 26m1193-9l24-26m29 18l8-12m-4 43l14-27m-153 44l18-12m-1222 0l20 19m-72 48l14 19m63-56l11 9m25-8l32 25m1377 42l6-31m-31 89l14-26"/>
<path stroke="#000026" stroke-width="5" d="M692 1148l12-4m401 54l10 11m-234 6l14-13"/>
<path stroke="#000026" stroke-width="4.5" d="M1601 1192l23-12"/>
<path stroke="#000026" stroke-width="4" d="M879 1116l21-2m380 45l20 12m124 4l24 2m-45 14l12 1m-1074 14l23 18m796 2l7 6"/>
<path stroke="#000026" stroke-width="3.5" d="M629 815l9 5m88 335l11-5m342 60l17 19m341-16l18 0"/>
<path stroke="#000026" stroke-width="3" d="M474 832l13 12m-4-9l9 8m41-8l12 9m931-33l15-11m40 34l24-22m-13 21l24-24m-17 1l16-15m18 40l11-11m-27 41l20-17m-1130 26l15 15m-13 3l19 16m1092-10l27-27m-1103 56l15 13m-98 3l14 15m-18-9l17 17m-106 33l17 17m2-25l8 9m78-40l12 11m1236 5l8-11m46 65l10-20m-17 2l9-15m-1249 16l18 15m-74 4l14 12m-53-24l12 11m-14-10l14 11m-90-16l11 15m-31-6l15 23m-35-30l13 24m-51-24l11 36m-14-36l4 16m-59-5l6 40m52-24l4 17m5 16l8 22m60-49l15 16m32-12l19 13m1205-3l13-9m33 0l27-27m26 49l20-30m33-5l11-21m82 20l6-22m-1528 85l14 23m-52-46l6 27m-88-12l2 14m0 10l0 12m31 21l4 13m1584-45l6-20m12 64l12-43"/>
<path stroke="#000026" stroke-width="2.5" d="M1260 775l4 10m-763-1l17 13m-31-30l20 16m649 41l0 11m407-21l16-15m-1110 93l30 27m1095-26l12-13m-6 15l13-13m-7 7l13-13m-151 103l12 6m304 51l2-12m-115-1l8-14m-1402-1l19 24m-75 1l4 19m4-8l10 29m1364 45l21-22m6 24l16-16m27 33l13-15"/>
<path stroke="#00002e" stroke-width="9" d="M859 921l19-2"/>
<path stroke="#00002e" stroke-width="5" d="M1005 1114l12-2m-459 5l23 4m435 38l5-8m231-6l5 4m-1030 24l6 8"/>
<path stroke="#00002e" stroke-width="4.5" d="M462 1106l11 7m-51 25l23 15m464-4l11-14m126 102l10-13m488-13l27-10"/>
<path stroke="#00002e" stroke-width="4" d="M1373 1086l14-6m95 135l14-2m-113 34l16 2m-947 9l9 4m505 22l8 11"/>
<path stroke="#00002e" stroke-width="3.5" d="M1353 1105l13 5m-42-22l10-2m-112 18l16-9m182 187l24 1"/>
<path stroke="#00002e" stroke-width="3" d="M1538 824l29-24m3 32l16-15m4 43l15-16m-17 23l14-11m-23 0l25-23m-35 36l14-15m-49 14l11-8m-1062 0l26 19m1043 2l26-28m-10 66l22-22m31 20l14-17m7 44l16-20m-29 8l17-17m-44 27l22-28m-394 10l1 5m-785 13l22 21m-55-31l26 21m-85 36l13 12m-2-17l20 19m-9-33l23 19m828-22l3 7m412 11l21-29m65 74l12-22m-1466 25l16 30m-81-29l4 40m-42-42l0 12m20-3l1 22m184 7l16 9m1238-34l22-23m14 41l15-23m19 5l12-21m101 48l3-21m16 3l3-12m-81 74l9-22m-114-3l28-24m-48 34l22-25m-1437 43l6 21m1570 1l7-16"/>
<path stroke="#00002e" stroke-width="2.5" d="M1466 794l18-13m-957 29l24 18m933 21l18-16m-491 38l6 7m-545-37l23 21m998 46l19-22m75 17l29-30m-746 48l3 6m-555 68l33 35m-24-33l18 19m1314-44l7-12m-102 46l14-15m-1370 20l3 31m114 12l23 27m1-2l21 19m1295-43l16-23m-1491 70l1 30m-1 11l0 16m1536 12l12-24"/>
<path stroke="#000036" stroke-width="5" d="M743 1091l9 1m322 66l16 23m109-14l11 9m-114-9l4 4m-696 40l6 4m252 16l25-6m982 3l13-9m-1357 69l17 11m1295-5l16-8"/>
<path stroke="#000036" stroke-width="4.5" d="M635 1132l22-5m664-3l11 6m-504 63l8-6m352 28l19 15m111-18l23 8m198-13l25-9m-1136 85l13 5"/>
<path stroke="#000036" stroke-width="4" d="M1381 799l4 4m-548 264l16 2m493-29l10-1m-520 50l2-3m-260 62l12 1m747 37l18 6m-867 2l21 7m783 29l25 11"/>
<path stroke="#000036" stroke-width="3.5" d="M1325 787l2 6m-85 57l3 6m-449 89l7 8m252 135l1-1m-254 10l15 0m-338 8l16 9m-104 101l19 12m936 2l13 4m115 40l22-2m-823-30l10-2m554 58l5 3"/>
<path stroke="#000036" stroke-width="3" d="M1540 795l25-26m-376 24l4 9m374 4l9-10m13 58l15-18m-27 16l13-12m-17 23l28-26m-61 27l8-11m-11-7l14-12m-1024 43l14 14m-75-27l18 16m-23-32l18 17m-20 4l11 9m-31 23l14 11m-10-6l7 6m33-1l10 10m1136 21l22-24m-45 27l15-16m-93 6l17-17m-1036 18l16 16m-27-28l32 31m-50 0l15 13m-130 12l25 25m4-36l15 13m27-19l14 14m-13-14l17 17m40 18l9 8m1151-11l19-28m0 20l14-20m73 64l9-27m-47 9l12-21m-15 9l8-15m-42 16l8-15m-1369 43l10 10m-62-34l31 39m-62-27l2 4m15 38l6 15m102-29l9 8m1298-3l17-25m49 44l15-39m20 22l10-39m37 29l3-12m-77 74l9-22m-132 16l11-9m-1198 2l13 13m-260-15l2 16m-11-22l5 38m74 9l6 13"/>
<path stroke="#000036" stroke-width="2.5" d="M1557 804l15-16m-2 25l15-14m-8 38l15-17m-974 31l9 7m513 43l3 10m66-22l2 9m448 59l17-21m-1219 8l24 21m-54-39l16 14m-27-5l12 10m-31 10l12 9m-50 29l16 15m-11-32l14 11m1230-25l10-12m9 36l23-27m66 57l11-19m-22 15l16-27m-117 54l10-7m-1131-18l14 12m-149 3l20 17m-76-9l15 23m-75-42l7 17m-55-1l2 28m1486 4l21-32m-85 55l30-26"/>
<path stroke="#00003f" stroke-width="5" d="M629 1099l7 1m-212 59l19 12m171 2l18-1m-36 6l22-1m-13 23l16-1m1105 3l13-12m79 67l17-17m-1106 60l13-5m577 4l2 1"/>
<path stroke="#00003f" stroke-width="4.5" d="M600 1158l10 0m752-19l19 6m26 11l18 2m12 1l20 0m49 23l10-2m-761 105l22-10"/>
<path stroke="#00003f" stroke-width="4" d="M992 808l2 7m317 43l3 5m-354 46l3 10m-103 91l2 7m249 40l12 3m65 19l9-2m-109 39l12 0m-246-7l7-10m592 32l22-1m54 42l25-9m-50 15l25-6m-249 2l17 10m288 33l9-4m-647 77l24-3"/>
<path stroke="#00003f" stroke-width="3.5" d="M1175 765l4 11m-22 31l3 6m104 245l13-6m95 39l11-4m-84 32l9-4m-85-29l9 11m-233-1l5 10m256 25l12-6m329 93l22-11m-437 58l18 12"/>
<path stroke="#00003f" stroke-width="3" d="M1560 794l10-10m-19-1l11-10m-48 17l24-21m-1032-1l17 12m-19-7l22 16m-36-13l10 8m-24 32l13 11m134 8l11 4m268-24l3 10m670 10l15-16m-42 34l13-13m-70 0l21-19m-1030 39l28 23m-55 10l17 14m20 6l25 23m995-19l23-25m101 66l27-27m-27 20l15-16m-76-14l30-29m-50 34l30-24m-1164 27l27 23m-73 10l26 17m-21 12l28 28m38-55l17 15m1055 8l14-14m97 0l22-23m89 71l9-19m-16 6l5-8m-92 7l18-24m-1263 55l32 28m-83-59l13 13m-61 6l14 21m-35-18l15 24m-20-15l15 24m-95-27l5 35m171-27l31 23m1147-18l10-8m134 57l8-9m-1492 11l4 34m106 2l16 29m1319-5l8-8m51-10l15-35m3 60l4-12"/>
<path stroke="#00003f" stroke-width="2.5" d="M1561 847l21-21m-101 22l20-20m-621 42l5 11m-437 13l20 18m-132 80l25 21m1181-12l13-13m-950 17l8 5m-352 9l8 11m-48-13l8 21m1494 30l16-37m36 75l8-33m-33 11l7-21m-1554 18l2 22m-29 33l5 35m1428-36l19-18m25 27l25-26"/>
<path stroke="#000049" stroke-width="5" d="M1335 1104l14-6m-99 3l13 12m-285 32l15-24m266 33l10 7m379 32l18-13m-198-2l12-1m-1073 10l13 9m1301 22l9-8m-95 43l23-13m-46 25l23-12m-1243 25l25 12m485-4l21-18m379 25l17 6"/>
<path stroke="#000049" stroke-width="4.5" d="M891 1115l9-12m-502 45l11 8m883-21l10 7m-978 47l12 11m-91 38l13 13m171-49l12 6m224 10l23-5m856 9l23-8m212 12l8-8m-66 25l8-6m-1289 7l15 7"/>
<path stroke="#000049" stroke-width="4" d="M1254 836l4 6m-134 14l1 5m-383 68l5 5m-117 24l4 3m696 145l19 10m-799-5l17 4m175 30l23 1m782-19l4-2m-1184 61l15 11m341 81l6-2m-377 5l8 6"/>
<path stroke="#000049" stroke-width="3.5" d="M1261 768l4 8m-356 133l2 6m374 25l3 7m-660-16l5 4m453 52l3 4m-42 66l13 5m487 45l15-7m-623-12l1-2m-205 13l11-9m-63-3l4-2m-135 11l18 6m397 88l9 15m-266-19l22-10m-112 11l16-2m-105-6l11 3m-214-19l12 11m1104 44l10 0m0 0l16-1m140 29l16-8m-182 32l26 0m-91 7l18 3m-400-38l13 16m-618-8l21 12m992 31l16 2"/>
<path stroke="#000049" stroke-width="3" d="M1541 785l15-14m-1022-2l31 23m-80-18l28 19m-9 29l25 20m207-30l10 6m785 1l31-29m-7 68l21-22m-56 21l14-14m-1090 76l27 23m239-37l5 7m835-3l19-20m28 1l13-15m33 75l13-13m-21 13l21-27m-41 24l26-25m-584 34l5 6m-675-10l24 25m-25-21l21 16m-85 26l25 26m31-63l15 12m-12 9l28 31m1179 14l20-22m-1179 6l14 14m-33-21l31 24m-269 51l2 26m33-55l5 25m106-2l14 20m-3-51l20 23m677-22l12 5m25-1l8 2m136 28l15-3m354-18l29-24m0 32l28-22m174 39l4-26m-35 38l5-25m-105 40l24-27m-61 17l20-20m-1355 25l18 19m-71 0l10 32m-1-26l6 23"/>
<path stroke="#000049" stroke-width="2.5" d="M539 775l23 17m-69 24l16 14m84-15l7 3m869-6l23-19m38 29l25-29m-723 77l3 5m-373-13l27 21m808 13l7 7m182-20l8-7m152 69l11-14m-82 3l27-32m-278 35l2 5m-251-17l0 11m-735 47l12 10m47-21l9 8m751-16l0 6m474 15l16-18m34 32l19-30m-38 31l18-27m-59 29l13-15m-1038 17l7 2m-255-5l28 25m-40-7l28 26m-76-20l16 20m-112 24l0 32m95-51l18 28m1279-31l15-13m-10 10l13-12m52 9l8-11m60 11l6-12m37 78l10-33m-211 7l35-24m-1397 89l9 32m1395-54l12-12m193 8l5-15"/>
<path stroke="#000152" stroke-width="5" d="M1396 1112l13-4m-167 8l15-1m-191-14l17-4m-447 57l13-3m86-24l17-11m435 5l13-3m173 50l17 4m-201 23l17 14m-271-41l13-18m-688 54l11 12m13-11l17 17m537-9l19-15m155 23l15 21m637 7l20-13m-129 30l25-8m-53 21l14-3m-57-17l23-3m-647 0l11-8m-130 13l17-7m87 35l23-15m634 8l20-3"/>
<path stroke="#000152" stroke-width="4.5" d="M1331 1115l18 9m-50-14l13 9m-424-14l12-19m20 49l7-10m375 17l16 8m14-20l25 12m28-15l16 4m82 21l13-2m-3 35l22-4m-239 17l20 11m-387 9l18-18m650 3l24-11m198 25l13-15m-33 44l7-7m-581 5l12 8m-123 9l11 11m-473-12l6-1m-36 2l20-1m-83 15l14 2m-98-7l6 2m-203-21l16 15m26 22l8 6"/>
<path stroke="#000152" stroke-width="4" d="M1178 808l1 6m-91 52l4 9m297 6l7 7m-314 45l2 11m-496-5l7 3m99 46l9 8m409 79l16 1m258-17l11-4m-37 55l18-3m-59 9l21-6m-41 9l8-2m-514-30l17 2m-350 33l19 11m1133 63l14-8m-32-8l9-4m-226 21l21 4m-938-17l18 8m495 40l13 18m263 28l8 4m-30-18l18 10m-486-5l9-4m-125 27l26-4m126-7l21-11m752 30l16-5m41-5l19-10"/>
<path stroke="#000152" stroke-width="3.5" d="M1372 782l6 5m-223 2l1 9m-62-18l1 6m-208-19l3 7m-153 154l11 4m351 93l2 6m-454 40l18 4m5-1l13 1m28-15l8 2m148-19l7 3m145 10l8 4m480 0l12-2m-238 45l21 16m-77-22l10 10m-63 3l20-7m-121 14l9 14m-302-42l3-3m-324 70l25 12m296-19l21-16m238-6l9-18m158 37l9 9m75 4l12 7m36-45l13 6m89-2l14 1m39-4l13-5m311 60l7-9m-203 26l24-15m-376 6l17 10m-53-28l8 6m-111 22l16 17m-250-46l11-14m-478 44l16 9m-195 34l7 7m184-33l18 9m962-16l24 1m79 21l10-3m228 10l9-8m-701 47l13 13m-500-36l14 1m826 43l22 1"/>
<path stroke="#000152" stroke-width="3" d="M503 783l15 13m-46 18l17 14m-12-8l14 12m-2-6l14 14m886-32l4 4m163-7l19-15m-15 24l9-8m9 26l17-17m-2 63l19-19m-49 20l23-19m-41-10l30-30m-1043 52l13 9m-60-10l26 19m-44-41l9 6m-12 16l25 20m313 11l5 5m762 6l24-29m54 60l13-16m-37-2l7-9m-746 22l6 10m-451-23l31 28m-151 42l27 25m16-43l7 6m7-1l16 13m-8-6l23 20m-19-19l9 8m42-33l9 10m367 2l5 9m765-5l8-9m30 14l15-16m33-11l11-12m-3 19l9-13m52 70l8-16m-67-6l19-26m-1238 29l18 19m-159 11l23 22m-39-37l12 16m-27 1l12 21m-30-20l6 14m-61-34l4 18m-26-2l2 14m53 30l11 34m27-63l13 25m20 1l22 23m259-56l7 4m119 20l17 3m314 7l9 0m55-13l7-1m-2 14l12-5m142 0l16-3m10-9l15-6m169 10l10-5m218-12l16-32m75 90l4-25m-171 72l22-30"/>
<path stroke="#000152" stroke-width="2.5" d="M734 795l5 5m582 30l5 11m247-28l10-11m9 47l9-8m-128 11l10-12m-172 1l7 8m-460 29l2 5m-368-17l20 19m-57-24l18 16m263 24l3 5m162-14l2 13m688-13l18-19m-16 35l14-15m-170 42l7 6m-87 0l8 9m-1001 28l8 8m-7-3l25 21m1160-44l24-26m131 96l9-15m-1379 0l9 8m-33-22l10 12m299 60l9 4m469-6l11-2m652 8l5-23m63 47l7-39m-655 25l14-4m-352 2l8 1m753 42l24-24m200 21l7-36"/>
<path stroke="#00045f" stroke-width="9" d="M859 914l18-3"/>
<path stroke="#00045f" stroke-width="5" d="M1321 1095l18 11m-109-10l16-2m-540 18l17-2m-140 0l14 1m-145-23l13 9m129 55l14 0m41-1l24-5m403 10l6 8m231-37l16 9m-450 43l15-16m-365 27l16 3m-48-12l15 5m-137 10l23 16m-132-31l18 21m-93-14l13 18m177-1l24 15m219 15l10 0m96-24l12-6m8 34l17-8m80-4l18-15m661 61l10-2m-185-25l23 6m-868 35l14 3m202-10l11-4m769 7l11-2"/>
<path stroke="#00045f" stroke-width="4.5" d="M1063 1087l12 23m-543 15l16 4m894 24l16 0m165 16l8-6m-510 16l5 6m-354-1l15-10m-473 30l21 18m367-5l9-3m-9-10l11-4m90 16l20-14m0 0l13-10m390 36l9 6m55-21l12 6m5-9l18 8m28 10l28 7m320 24l9-7m-369 4l23 7m-525-18l15-10m-440 15l19 10m574 23l19-21m108 35l3 2"/>
<path stroke="#00045f" stroke-width="4" d="M1169 799l2 7m-52-36l1 5m309 88l8 4m-343 28l-1 10m-271 85l5 4m345-10l1 9m180-3l5 4m78 29l6 2m-391 17l6 4m290 72l15-8m-189-3l12 16m-224-35l14 2m-86 15l11 1m-39 8l22 2m-76 0l21-1m-141-3l25-13m-195 1l18 6m650 17l12 13m44-14l4 4m338 24l17-10m-46 23l13-5m-242 3l11 5m-628 16l18-8m-526 44l15 19m610-33l18-14m548 17l8 1m132-6l15-5m59 46l21-11m-227 17l24 3m-144 11l22 9m-56 2l23 12m-90-40l18 13m-59-1l18 16m-855 17l11 9m278-2l10 0m403-18l6 8m585 4l19-7"/>
<path stroke="#00045f" stroke-width="3.5" d="M1130 777l4 9m-266-13l4 6m-95 12l8 5m-77-8l4 7m231 44l4 10m194-37l1 9m97 11l3 7m-82 14l7 8m-305 43l3 9m403-1l4 4m144-16l7 5m-298 25l1 9m-392 2l5 6m-110 6l9 6m715 24l9 10m-238 42l6 2m-62-22l3 10m-318 24l14 2m15 4l6 3m69 1l9 1m323 4l8-2m54 6l7-2m313 21l1-1m-270 13l8-4m-106-9l14 17m-127-5l8 14m-181-8l5-8m-351-12l10 5m-80 45l13 5m387 4l7-10m487-13l20 4m238 58l22-18m-326 30l19 6m-909 38l26 10m4-24l12 3m15-22l18 4m518 11l9 10m347-25l10 1m108 22l18-5m51 11l22-10m5-17l24-15m-77 53l11-5m-70 11l20-4m-481 17l16 18m-468-33l14 0m-147 28l23 8m-233-39l14 14m4 34l6 5m71-9l12 7m728-2l4 4"/>
<path stroke="#00045f" stroke-width="3" d="M1561 794l13-14m-38-1l10-9m-17 26l25-17m-314 16l1 11m-161-13l2 6m-539-22l20 15m-76-19l12 9m365 51l7 7m34-7l0 5m703 30l5-5m-20-13l11-14m-12 43l11-14m-19 9l25-25m-35-5l10-9m-29 11l26-27m-651 36l5 9m-425-14l29 26m-78-9l15 13m-23-1l21 19m702-3l8 10m400-18l21-24m1 38l18-21m-13 8l9-10m26 55l14-17m-33 7l16-19m-19 19l11-12m-44 13l25-34m-716 49l2 6m-470-17l10 10m-112 57l17 16m41-49l6 5m-5-5l13 12m73-8l22 20m1088-16l11-14m9 9l17-20m29 23l26-32m-12 59l14-23m125 49l0-3m-238 5l26-22m-926 1l6 9m-105 23l9 4m-269-4l15 22m-16-54l15 18m-16-19l19 19m-42 14l13 18m-17-27l20 34m-80-48l5 19m-47-2l3 40m1 3l3 12m38-26l3 42m355-51l7 6m701 1l11-5m476 17l7-30m42 74l11-38m-221 55l28-32m0 50l5-5m71 24l18-33"/>
<path stroke="#00045f" stroke-width="2.5" d="M1548 776l12-11m-30 21l13-13m-332-4l3 9m-147 9l0 10m-137-26l3 12m-424-8l16 12m401 21l2 6m187 0l0 6m437 50l24-22m-1134 56l20 20m18-12l30 30m495-47l2 7m108-20l1 6m95-8l3 10m373-5l24-24m9 58l15-19m-223 38l7 5m-142-5l4 5m-829 3l20 17m-59-12l15 12m-24 15l16 12m-13-25l25 19m211 9l10 4m448 1l3 10m145-14l6 8m283-39l14-15m88 50l13-15m5 11l15-24m-491 51l3 5m-228 7l10 5m-79-19l3 6m-41-22l8 7m-181-9l9 6m554 47l12-7m62 7l6-1m476 14l6-36m-47 53l5-19m-165 51l17-18m-986-17l15 3m-394 56l4 15m74-32l18 24m11-23l21 20"/>
<path stroke="#00076b" stroke-width="9" d="M851 945l17-2"/>
<path stroke="#00076b" stroke-width="5" d="M1520 1105l13-4m-208-4l18-3m-24 22l10-3m-247-16l15 1m-181-10l1-2m-150 30l18 3m-25-19l17 4m-297 51l19 8m534-33l7-14m783 62l7-10m-171 31l18-13m-130-23l10-4m-247 27l16 7m-325-7l12 18m-30-26l12 18m-136 3l11-10m-39 4l9-7m-66 2l6-4m-308-12l22 10m-261-1l15 18m266 7l21 5m152 14l23-7m124 5l4-3m175-16l7 10m50 38l14 15m-639-22l15 6m-137 44l5 4m388-15l26-9m-24 15l21-7m60 6l11-5m44-3l16-11"/>
<path stroke="#00076b" stroke-width="4.5" d="M1028 1144l9 14m372-2l4 0m177-33l10-7m24 64l6-5m-23 3l16-9m-352 22l18 10m-432-18l6-6m-323-12l9 2m-62 21l15 6m-72-13l21 12m107 37l10 1m213 6l15-9m259-10l11 14m257 0l23 8m192-23l15-5m144 16l20-16m55 22l7-8m5 7l1-2m23-16l18-21m-80 81l15-13m-83-20l19-14m-77 46l14-7m-206-12l6 0m-922 14l18 4m1070 9l9-3"/>
<path stroke="#00076b" stroke-width="4" d="M1356 787l7 7m-170-20l3 7m-287-8l2 7m-86 4l3 7m-60 1l5 4m-92-11l8 8m32 21l7 4m82 1l4 9m103 7l6 9m223 1l2 11m-129 12l3 11m-301-22l6 4m-9 3l2 6m-92 31l4 4m84 11l7 5m61-9l5 8m16-24l4 5m350-20l4 12m218-10l5 5m-65 71l5 6m-408-15l3 8m153 29l1 6m91 17l4 7m-529-16l4 3m-6 20l6 2m437 49l8 0m298-17l6-2m149 56l12-6m-349 5l16 18m-158-26l7 13m-117-18l5 13m-40-30l15 1m-15 37l11-17m-241 6l9 1m-214-8l6 3m-23 10l8 3m94 20l16 2m218 2l15 0m235-19l13 20m227-22l11-1m119 11l18 1m157-4l7-5m13 41l2-1m-254 2l15 4m-816 54l20 2m1-15l24 0m-15 15l28-1m-13-14l22-1m664 6l20 9m177-2l10-1m82-11l13-6m0 0l14-7m29 19l8-5m96 30l10-9m-352 21l12 1m-121 2l9 4m-87-1l22 14m-207-6l8 9m-167-11l16-13m-244 4l27-5m-323-2l19 13m490 33l8-6m10-7l20-15m-7 27l17-13m503 9l20 2m10-6l18 0m156 0l14-7"/>
<path stroke="#00076b" stroke-width="3.5" d="M1196 795l3 12m-50-8l3 4m-192-9l6 9m-272-15l4 5m440 29l1 7m237-15l8 4m-52 22l5 6m-205 7l4 8m-82 11l1 10m-28-23l1 6m-58 0l2 6m-237 44l8 8m59-20l5 7m508 26l3 8m-245-4l4 11m-159-27l6 8m-302 1l10 7m-16 1l5 4m356 47l1 12m328 3l7 8m-370 21l6 4m-40-40l4 7m-167 16l5 3m18 53l18-2m91-25l10 2m519 13l8-4m84 41l13-3m-111 18l16 3m-31-4l10 2m-35-12l14-3m-93-16l17 14m-466 8l18-1m-283-13l9 4m-50 6l2 0m-6 0l10 1m151 33l22-8m-19 12l15-6m359 10l6 10m412-37l9-1m-4 2l20-4m184 79l12-11m-175-6l16-4m-57 12l24-3m-260-25l21 15m-407-13l19-21m-275 46l12-1m-48 3l28 2m-90-20l23 7m-336 49l7 8m248 2l19 8m188-37l14-3m7 7l15-4m130 8l2-2m375-15l12 10m263 24l10 0m20-3l17-3m218 1l9-8m-496 30l25 13m-169 10l18 16m-106-18l18 19m-511-25l27 5m-343 27l1 2m224-15l23 9m226-4l27-7m756-1l26-2"/>
<path stroke="#00076b" stroke-width="3" d="M1551 792l20-14m-26 9l16-14m-23 7l13-11m-77 29l9-8m-333 2l1 5m-210-22l0 11m-151-12l2 10m-179 2l7 3m-81-9l10 8m-74 39l10 9m223-3l4 10m235-15l4 11m161 0l3 12m461-22l17-15m-2 43l12-12m-45 16l29-25m-1067 29l27 21m-44-15l26 17m-59-44l17 13m-25 0l33 28m629 4l3 10m6 6l4 9m404-1l30-30m-8 32l26-25m-3-8l14-14m30 46l13-14m-39 48l9-12m-11 16l19-22m-20 11l25-26m-38 7l16-16m-347 25l6 11m-836-15l28 30m-56-3l18 17m-109 27l10 10m27-24l17 13m4-5l9 7m-7-24l13 11m-1-21l19 17m-18-3l16 12m545-23l3 6m702-11l21-29m-10 29l8-12m-2 14l10-13m-6 22l15-19m-3 34l18-31m24 60l12-25m-179 14l16-17m-128 30l7 5m-582 1l8 5m-96-24l7 9m-216-13l11 3m-223-4l17 16m-34-11l29 30m-51-27l25 23m-33-25l21 21m-21-25l15 16m-41-10l2 3m-115 13l2 30m216-14l21 15m375 3l16 3m-7 6l14 0m120 9l6 2m21-36l8 2m9 18l16 0m75 3l15-1m1 4l6-3m34 2l11-4m143-6l9 0m509 30l8-37m-11 51l4-13m-866-6l7 1m-753 52l2 26m161-30l13 15"/>
<path stroke="#00076b" stroke-width="2.5" d="M1542 787l14-11m-208-6l7 10m-872 59l9 8m39-12l12 11m393-29l3 6m10 9l5 10m384-24l11 5m190 1l24-21m-429 43l7 10m-226 18l4 7m-68-20l4 12m-409 25l8 6m57 5l25 22m139-44l9 8m128 20l5 6m47-28l8 9m339-8l5 7m28-14l4 3m330-1l21-24m-17 16l15-16m-1 25l13-13m-9 19l14-14m27 59l8-10m-34-1l25-31m-68 35l13-16m-1190 34l15 13m-62 19l23 18m356-4l7 6m-1-21l3 5m42-4l4 4m701 10l6 3m34-20l20-22m54 12l12-14m44 16l11-14m31 26l8-14m-37 51l17-30m-915 24l6 6m-21 1l10 8m-95-24l6 3m-40 57l9 2m62-25l9 1m81 3l10 3m754 21l32-25m-1359 68l11 39m-19-36l7 27m60-14l20 34m-12-31l16 25"/>
<path stroke="#000a78" stroke-width="9" d="M859 871l21-3"/>
<path stroke="#000a78" stroke-width="5" d="M1548 1108l12-5m-101-8l17-8m-382 18l8 12m-69-11l21 2m-42 3l18 0m-47 1l13-25m-81 31l12 26m-180-42l8-6m-15 11l9 1m-44-9l16-9m-97 22l26-5m-157-10l20 10m-103 41l14 11m164-34l26 0m48 21l14-3m398-9l14 21m181-34l10 8m274-8l13-10m-55 49l4 0m-88 6l10 1m-526 19l10-12m-339-1l20 0m-87 16l16 4m-245-21l17 18m-117 35l15 19m171-35l14 10m421-8l14-10m725 1l24-9m112 40l10-7m50 37l16-14m-348 9l16 2m-130-12l13 6m-171 0l9 8m-839-4l22 17m-96 13l13 12m376 0l26-2m50-3l10-3"/>
<path stroke="#000a78" stroke-width="4.5" d="M1270 1086l21 18m-547 31l20-13m732 48l19-4m-40 33l14-1m-31-11l24-2m-426 4l6-10m-210-7l19-18m-567 14l12 13m125 27l24 11m17 15l9 3m41-11l26 4m536-9l18 19m100-22l14 10m133 11l15 4m5-38l9 2m179 7l10-3m87 12l22-17m103 54l15-15m-48 13l15-13m-23 23l17-15m-185 22l22-9m-128 3l16-2m-664-13l13-9m-18 6l11-7m-323 30l6 2m-91-17l11 5m-39-24l18 10m-103 19l22 16m-112-34l16 18m377 11l28-2m83 7l14-5m980 15l13-10"/>
<path stroke="#000a78" stroke-width="4" d="M1352 784l4 8m-29 6l6 8m-95-28l2 4m-550 15l7 6m181 28l3 12m556-17l8 5m-558 15l1 6m-199 16l7 2m-129 6l6 6m248 26l8 10m164 0l2 9m167-21l1 12m-87 13l-1 9m-12-2l7 11m-387 1l8 3m-89 46l9 6m20-38l5 3m91-3l4 7m430-7l1 10m39 37l2 5m-63 14l7 4m-15-16l10 8m-121 8l9 8m-326-11l5 5m-59-1l10 7m149 5l10 5m651 62l25-4m-114-5l10-4m-225-7l7 10m-52 6l12-3m-85-17l19 0m-171 1l8 1m-76 3l8-9m-15 18l12 0m-25 8l27-1m-180-9l12 1m-62 2l14-1m-77-19l20 5m-67 32l20 9m82 12l10 0m110-12l24-14m-18 25l25-13m70 16l16 0m66-4l6-7m336-11l9 8m27 0l12 8m16 15l14 7m247-6l16-8m213 37l9-11m-199-5l12-8m-114 16l12-3m-40 0l22-3m-117-5l19 4m-602 7l20-16m-248 3l12 1m-146 1l25 14m-274 24l16 20m379-12l16 0m-4 9l20 0m-16-9l16 0m125-14l18-8m127 46l21-18m44-7l10-11m185 9l16 15m246-26l14 2m-9 37l12 1m171-27l23-12m-194 51l20 1m-103-4l19 6m-92 8l22 10m-182-22l19 17m-732-11l10 6m296 26l27-8m28 18l23-10m-19 3l11-4m556-1l20 6m197-9l14-3"/>
<path stroke="#000a78" stroke-width="3.5" d="M1384 787l5 5m-232-25l6 10m-117-12l2 7m-254 9l9 9m-173 8l5 6m370 5l2 12m121 7l3 11m93-15l3 6m115 29l7 6m-241 13l2 9m-250-30l4 8m-183-21l8 7m-84 29l11 8m18-5l5 5m101 19l5 2m383-24l3 4m33 20l1 7m161-22l6 6m47 30l4 5m-51-11l6 8m-94-10l5 9m-603 54l7 10m53-33l6 6m124 11l10 8m171-26l3 12m42-6l4 10m153 10l4 7m41 38l10 4m-399-28l8 10m-46-1l4 5m-94 2l7 1m-92 47l15 5m113-8l10 2m400 1l15-2m168-15l14-5m1 48l17-8m-96 26l16 9m-272-39l8 16m-408-7l20-8m-26 5l19-7m-52 14l14-2m25 51l21-7m378-13l3-5m150 9l19 17m129-16l23 8m352 44l11-12m-40 12l7-7m-398 4l17 7m-82-5l17 11m-31-22l14 11m-196-3l15 21m-404-26l25-7m-252 16l20 10m-278 17l12 16m199-21l19 12m61-9l10 4m18 13l25 7m672-28l17 13m336 4l19-6m26-14l21-11m-156 60l14-1m-689 2l4-2m-165-3l22-2m-37 27l20-1m-129-12l26 6m304 18l22-14m227 17l9 8m249-5l14 3m90-10l12 0"/>
<path stroke="#000a78" stroke-width="3" d="M1542 792l19-15m-258 14l3 6m-65 0l3 6m-87-7l4 12m-383-33l7 6m-237-13l18 14m-68-14l6 6m-33 65l20 17m-15-56l22 18m32-17l14 11m83-6l11 7m66 1l3 7m808 16l18-18m-13-12l31-26m-15 38l29-28m-12 13l18-19m-14 48l23-23m-8 18l9-8m-22 24l28-31m-35 37l14-14m-65 5l31-28m-351 60l7 10m-169-14l1 12m-543-29l23 17m-25-6l19 16m-22 0l20 16m-22-23l16 12m-41 12l25 23m108-23l10 8m25 14l5 5m264-26l-1 5m119 2l2 8m80-1l4 8m129-11l2 6m46-2l3 8m8-29l9 8m53 5l8 8m228-17l12-14m31 23l9-8m20 49l7-10m-13-7l12-12m-42 25l27-26m-31 32l15-19m-70 5l10-10m-130 32l11 6m-306-41l-2 9m-56-3l2 6m-388 14l5 5m-299 6l11 9m-66 25l21 19m50-46l12 10m-3-14l21 16m164 14l5 3m273-31l2 6m-1 24l5 5m393-29l8 8m389 13l8-22m102 72l6-18m-88-9l6-10m-73 21l24-32m-872 12l5 8m-212 5l5 4m-144-9l33 26m-47-6l12 11m-33-23l8 8m-98-5l25 23m-116-32l5 19m-19 5l6 29m2-18l7 31m68-9l7 9m2-31l16 21m622-21l15 3m43-1l11 1m40-10l5 1m23 15l9-1m55 22l6-3m70-15l10-6m196 10l11-7m19-7l7-4m136 72l11-11m-20-6l25-23m-1211 13l26 17m-128-22l22 26m9 8l8 11m1395-5l9-20m52 17l8-22m8 72l17-43"/>
<path stroke="#000a78" stroke-width="2.5" d="M1542 790l26-22m-41 28l28-23m-226 4l5 6m-68 14l5 7m-6-18l3 11m-214-19l4 7m-281 1l6 7m-292-26l10 7m-16 20l11 7m118 25l7 5m102-29l9 5m422 28l3 6m129-14l2 5m248 5l30-26m1-9l8-9m30 81l8-8m-27 4l20-19m-44-7l29-28m-37 56l16-19m-299 14l7 10m-664-1l9 8m-154-38l22 19m-28-11l12 12m-29 31l16 16m177-4l4 4m43-13l9 8m446-24l0 6m47 10l5 7m52-13l2 7m172 10l3 11m146-32l25-26m3 47l14-15m31 35l12-14m-23 32l23-29m-284 31l2 11m-86-33l6 9m-121 1l2 8m-87 2l3 10m-381-15l7 8m-106-20l5 9m-85 3l9 6m-38-26l32 26m-183 36l23 17m11-16l25 26m179-27l9 3m68-5l4 4m214-2l3 5m410-23l7 11m191 0l9 8m160-27l8-12m59 62l7-13m-16 9l10-18m-50 20l12-18m-108 20l15-17m-314 9l3 5m-114 0l2 6m-5 23l7 3m-464-17l4 7m-140-2l8 6m-236-6l21 18m-73-16l14 16m-96-18l4 16m-41-15l2 32m-11-24l2 37m573 5l15 4m273-6l8 0m136-14l14-4m260-3l9-5m373-5l4-17m-1244 56l6 3m-266 36l23 28m1268-14l24-21m44 46l6-12"/>
<path stroke="#001384" stroke-width="5" d="M805 1105l15 3m-53-15l7-7m-40 25l13-9m-17 0l10 1m-327 33l21 15m55-23l18 8m189-5l23-11m-6 3l21-12m115 9l13-15m322 51l20 19m75-46l14 10m30 9l25 12m382 34l18-19m-71 11l14-11m-216 3l13-2m-87-15l23 3m-277 5l20 20m-175-27l11 19m-17-4l8-11m-199 15l8-6m-136-14l25-8m-161 11l17 4m-80-1l25 11m-73 18l18 10m-97-31l21 19m-64 11l19 18m492 4l15-10m-3-16l10-8m250 29l7 7m-6-14l10 12m557-2l19-12m111 18l19-20m-101 31l13-10m-63 47l22-13m-325-16l17 5m-277 12l12 11m-199-29l15-14m-129 29l11-6m-529 14l21 18m0 0l6 5m486 5l21-11m-1 1l16-9m363 4l10 7m251-6l12 0m323 13l9-8"/>
<path stroke="#001384" stroke-width="4.5" d="M1420 1089l24 3m-1066 51l16 13m5-20l8 7m176-9l20 0m269-9l16-20m461 19l21 8m11 13l26 6m172 7l22-12m129 22l1-2m-167 32l20-8m-1339 33l15 15m242-5l16 4m12-36l23 5m654 18l8 6m61-12l16 8m2-1l26 11m495-31l8-9m-8 31l17-20m-615 45l15 10m-93 7l20 16m-79-27l19 18m-25-35l13 13m-344 1l18-8m-548-5l8 9m87 43l2 1m18 0l6 4m14-4l7 4m644-8l8-8m341 7l16 4m0-12l26 4m53 5l20 0"/>
<path stroke="#001384" stroke-width="4" d="M1113 768l6 11m-334 14l4 4m-129-32l5 6m-19 29l7 8m40-1l6 8m137-13l4 11m11-6l1 5m245 26l0 9m85-10l4 6m155-7l5 9m-225 17l3 8m-377-27l6 5m-167 65l5 3m153-13l9 6m96-3l3 11m307-21l2 5m78-15l4 6m145 7l5 8m-81 49l7 8m-52-23l4 11m-303-26l5 10m-165 2l1 6m-84-17l2 8m623 61l6 8m-46 20l7 6m-31-1l12 4m-51-9l6 6m-239-9l2 8m-109-18l1 6m-93-6l4 7m-87 3l6 2m-9 10l8 4m-75-22l7 4m-11-18l10 8m-67 8l6 5m-11-15l8 9m-97 46l6 2m455-3l13-1m94 2l6-1m37-17l8 2m-5 4l8 0m116 10l10 0m145 49l21 4m-59-3l15 6m-37-22l18-7m-183 12l15-2m-99 20l6 11m-278-20l9-10m-162 13l12 1m-101 28l18 1m-10-13l24 1m65 6l13-5m1 5l30 1m-18 12l9-4m0 0l15-7m687-7l22 3m-15 12l22 1m-7-13l10 0m32-3l26-4m314 65l8-9m-227-1l18-10m-299 22l6 3m-586-26l14-8m-204 0l13 2m-134-1l15 10m-90-2l18 15m-145 31l15 16m73-16l9 8m364-13l21-6m17-6l24-11m221 24l10-12m438 2l18 2m67 4l22-5m240 42l11-10m-187 13l21-8m-143 12l14-1m-119 22l10 2m-19-36l27 7m-332 15l18 19m-75-19l15 18m-33-26l10 13m-96 3l20-16m-48 6l16-12m-162 24l9-3m-314-6l11 6m-134 7l19 15m-39-34l20 19m-29 2l3 3m1073 6l12 3m172 1l22-5"/>
<path stroke="#001384" stroke-width="3.5" d="M603 769l10 9m20 34l10 4m162-13l8 9m244 17l-1 13m40-3l5 9m25-24l1 12m151 1l7 9m127-6l6 5m-234 10l5 9m-285-8l5 9m-181-19l8 7m100 41l5 8m383-3l3 8m66-11l4 8m120 39l5 3m-108 6l6 5m-30-37l9 7m-54 3l1 6m-379 4l2 7m-43-13l8 6m-58 5l1 6m-200 46l13-1m2-5l8 8m282-7l3 9m72-41l3 4m89 12l0 11m142-16l7 6m189 44l5 4m-154-11l4 7m-172-16l-1 9m-437 50l10 2m155 11l12 3m19-22l9 4m99 3l8 0m226 11l14 3m259-25l10-4m65 69l15-6m-62-9l14-2m-50-18l12-5m-68 29l9 3m-82 5l14-3m-139-15l16-3m-207 20l11-1m-71 3l11 25m-179-39l16-14m-277 20l10 4m-27-27l24 13m-32 10l19 5m-32-7l12 8m122 23l20 0m117-4l16-9m-13-5l15-10m-14 42l24-15m134-13l7-10m400 40l12 7m153-36l16-2m232 55l12-11m-393 22l15 5m-156-27l8 7m-509-5l13-5m-92 27l24-2m-236-9l15 10m-27-19l12 9m-137-1l16 18m-108-25l11 16m229 31l12 7m551-21l10 15m288-12l20 10m18 8l15 6m205-7l19-5m-125 49l18 1m-333-25l21 19m-122-12l10 13m-17 10l15-16m-294 2l21-8m-150-1l20 0m-62-3l28 2m-164 5l16 8m-34 3l13 7m-94-7l19 14m314 3l28-5m421 2l14 13m62 4l2 1m71-11l13 6m185 5l22-1m-14-15l14-1m47 11l18-3"/>
<path stroke="#001384" stroke-width="3" d="M1556 793l17-14m-31-3l10-8m-36 19l19-18m-158 8l4 8m-431-20l1 7m-84-7l2 6m-51 20l4 12m-320-6l21 18m-34-45l15 12m-17 4l16 11m-18-25l27 23m-41 42l15 13m106-26l6 3m63-3l9 8m499-6l6 8m86-24l3 7m66 14l5 3m70 4l4 4m46-35l10 6m79-3l25-27m-14 22l22-22m0 50l13-14m7 48l14-14m-28 13l17-14m-22 24l19-17m-25 5l21-19m-22 25l9-9m-13 0l21-21m-23 29l31-28m-45 18l30-30m-402 32l2 6m-111-26l0 8m-593 13l32 21m-38-41l15 13m-33 15l23 17m-26-2l24 20m-21-16l18 16m206 1l9 8m162-33l5 6m134 30l1 8m103-23l4 4m233-25l2 6m237 21l22-21m-21-6l12-14m-8 28l29-28m-26 43l30-30m-28 17l10-10m-6 24l18-18m-16 10l13-13m0-5l7-9m10 18l9-9m-6 28l13-13m24 57l11-12m-22-9l15-18m-60 36l18-22m-33 4l20-24m-22 13l25-31m-26 38l17-25m-21 33l13-15m-467 22l3 7m-82-14l3 8m-91 2l2 5m-270 3l5 7m-77-44l7 8m-188 5l16 15m-126 49l16 18m-5-23l11 9m-5-13l18 15m-2-9l15 13m-10-34l19 16m-9-21l14 14m-3-8l26 22m-26-23l11 9m45 13l29 30m137-53l10 7m448-19l1 11m280 12l4 6m66 8l7 5m204-36l27-30m-14 55l24-35m-14 22l23-32m-19 18l22-25m5 56l12-19m-3 6l11-17m39 44l6-13m-80 21l17-27m-376 38l9 2m-318-15l2 7m-131-20l7 8m-512 23l22 17m-26-48l20 17m-60 8l13 13m-21-41l9 9m-10-6l7 7m-7 13l11 12m-12-29l8 9m-11 11l23 25m-93-35l8 27m-11-31l9 18m-18-17l11 36m0-5l3 14m62 4l20 33m68-37l26 18m248-17l11 6m23 13l16 4m17-16l8 2m162 7l8 2m187-35l12 2m573 20l16-38m0 44l19-24m65-2l8-38m30 55l1-10m-208 57l11-12m-16 22l10-9m-125-21l15-7m-465-1l16-2m-763 36l21 31m-91-38l11 32m10-4l7 18m69-10l13 22m1290-24l10-10"/>
<path stroke="#001384" stroke-width="2.5" d="M1552 776l7-7m-10 23l16-13m-281 2l7 6m-82-4l10 7m-396-12l5 5m-305-15l12 9m-22 9l13 11m-34-29l19 13m192 31l9 6m310 15l-1 6m94-12l2 6m119-27l3 10m86 3l3 5m198-5l27-29m19 42l16-15m-3 19l9-9m4 44l12-12m-35-14l19-18m-23 45l26-24m-52 11l12-11m-295 31l5 9m-87-40l5 7m-111-3l0 12m-190 2l3 9m-7-30l3 8m-13-13l2 13m-412 13l16 12m-17-23l25 17m-27-7l15 13m-22 13l11 9m-1-20l21 22m460-3l1 6m303 0l4 9m338-10l19-23m-18 16l16-18m-9 26l24-27m29 66l12-17m-24 22l27-29m-37 27l23-22m-58 33l24-33m-62 6l27-27m-286 41l1 12m-10-12l4 4m-10-22l7 7m-48 17l4 9m-11-20l3 10m-338 4l2 5m-243-37l10 7m-31 25l7 4m-12-20l7 5m-46-1l6 3m-191 2l18 18m-106 34l24 23m60-60l19 17m-5-15l20 16m128 8l4 1m4-11l7 4m546-19l2 8m9 12l-1 8m5 1l1 9m30-10l5 9m401-25l16-21m35 35l23-32m3 23l7-10m43 24l9-17m17 33l8-17m-35 13l9-13m-364 22l11 8m-244-1l8 9m-480-17l5 4m-61 2l6 1m-189 4l26 23m-71-47l15 16m-64-13l14 14m519 57l16 2m81-19l10 2m-4-5l14 0m0 22l10 0m180-4l12-2m24 6l14-2m58-33l11-1m266 12l11-1m-600 30l12 1m-289 4l12 2m955 58l13-12m165 6l10-28"/>
<path stroke="#001c91" stroke-width="12" d="M829 993l29-7"/>
<path stroke="#001c91" stroke-width="6" d="M863 869l14-2"/>
<path stroke="#001c91" stroke-width="5" d="M1310 1090l12-2m-207 20l8 12m-158-12l9 20m-39-22l14-1m-247-8l19 1m-138-1l13 2m-37 11l12 2m-66-3l17 7m182 28l3-2m357 1l10 15m-6-16l8 14m32-13l13 16m436 0l11-5m123 21l9-9m-110 18l9-5m-106-17l24-5m-218 23l11 6m-79 10l16 12m-461-33l10-7m-28 10l5-3m-254-14l12 3m-67 3l20 9m-221 5l13 15m-83 12l17 22m212 8l22 11m1236-21l9-6m-48 46l20-11m-98-10l14-4m-115 17l12 0m-26 13l12 0m-236-18l12 8m-130-21l19 18m-113 16l4 5m-145-33l5-4m-563 11l18 13m36 24l7 4"/>
<path stroke="#001c91" stroke-width="4.5" d="M1289 1085l15 13m-597 11l16-9m-136 59l22 0m134-30l21-15m360 13l16 21m232-1l21 6m64 6l20-1m52-16l6-2m-85 34l10 0m-12-11l12-1m-65 33l28 4m-99-35l13 6m-775-3l14 2m-37-6l14 3m-102 27l19 9m-20-14l25 11m-68-11l22 14m-70-8l19 14m92-6l10 4m11 31l2 1m667-37l20 18m334 4l24-6m241 48l19-18m-187-4l16-8m-68 18l7-2m-692-3l20-16m-341 45l2 0m-12-1l12 2m-242 6l15 11m1073-7l26 2m46 0l20-1"/>
<path stroke="#001c91" stroke-width="4" d="M1219 773l5 11m-562 1l6 5m-46 1l5 1m-35 5l13 3m248 19l9 10m56-11l5 6m142 35l-2 7m-109-11l-1 6m-70-13l0 12m-244-10l9 6m-7 41l8 4m177 6l2 4m76 4l3 7m76-12l1 11m48-36l4 11m372-16l5 4m55 46l7 4m-33 22l8 4m-145-23l6 9m-255-6l-4 11m-16-3l-1 5m-277-29l7 7m228 54l3 9m27-15l0 13m75-27l3 6m34-3l3 9m369-7l8 6m-473 35l3 12m-265-10l4 5m-6-12l8 7m-139 20l6 1m-39 42l11 2m4-27l7 2m110 13l16 3m111-11l12 2m8-18l6 1m72 32l17-1m6 4l10 0m71-23l14-4m69 6l10-3m233 21l16-4m47 2l12-4m-243 43l11 11m-119-23l19-5m-98 1l18-1m-60-2l18-2m-32-11l11 2m-28 37l14 0m-228-8l17 2m-51-14l19 4m-44 6l24 1m-113-20l20-3m-126 12l19 7m169 37l27 1m-26 14l9-4m27-25l21 1m189-7l6 13m152-15l9 13m15 21l12 14m256-38l16 3m17 2l12 1m33 9l14-1m45-10l20-8m86 29l12-8m-157 34l16-3m-149 13l22 6m-32-16l4 1m-212-3l18 19m-31-23l8 9m-172-20l7 12m-46 1l11 20m-151-35l11-8m-210 12l22 0m-112 11l1 0m-328 47l13 17m130-39l14 12m809 8l7 7m26-23l19 17m37 4l12 8m127 2l6 2m79-35l14 0m56 31l19-4m35-8l17-7m181-4l10-11m-24 70l16-14m-345-18l16 1m-55 38l8 2m-95-18l7 3m-66 6l11 6m-114-2l5 4m-154-30l8 11m-252 14l17-6m-514-27l16 15m910 29l20 13"/>
<path stroke="#001c91" stroke-width="3.5" d="M1378 798l6 3m-127-6l7 7m-44-28l2 6m-131-1l6 9m-23 7l2 12m-19-30l3 4m-26 2l2 7m-57-6l4 11m-259-3l5 10m-31-8l5 7m-56-3l7 6m-3 16l9 3m163-20l4 10m21-4l4 5m-3 2l3 5m239-12l1 13m15 0l4 6m23-4l4 10m131-23l6 8m51 4l5 9m16-29l8 8m65 61l6 6m-208-7l3 6m-123-2l3 7m-221-30l8 9m-220 14l9 7m-34-42l5 3m65 60l5 4m37 6l5 12m36-14l2 5m195-31l3 7m454-10l10 5m-229 57l4 10m-88-3l1 11m-209-25l3 12m-178 9l7 7m-9-29l3 4m-40 11l4 3m-45 42l7 7m63-37l6 9m-4 4l5 6m8-21l6 10m130 9l2 5m47 8l2 6m292-6l5 11m7-23l4 7m155-26l7 4m-14 37l7 5m-57-1l7 7m-134-6l6 7m-43-9l5 10m-100-17l1 12m-214-7l2 8m-178 7l10 6m-219 41l10 3m150-30l7 4m339 20l14-2m-13-18l7 3m126 5l8-2m62 1l14-2m66-10l6 0m-69 56l20 19m-31-36l16-8m-183 34l21-4m-45-15l6 14m-19-8l10 20m-124 1l10-15m-186-17l11 3m-15 17l16 3m-275 8l15 9m-15 31l8 5m469-16l8 16m59-4l5 8m263-25l12 8m278-4l24-13m227 56l12-16m-275 28l15-5m-205 4l18 5m-87-9l13 6m-24-2l21 11m-190-21l17 18m-101-21l6-8m-556 19l19 7m-58-26l14 7m-116-7l13 12m-65 20l13 12m690 2l14 19m311-21l21 8m0 0l9 3m222-13l16-7m-307 58l9 4m-232 0l10 10m-375-4l25-7m-215 6l27 6m-52-14l11 4m-128 21l12 7m344-17l17-6m128 23l14-9m260-2l9 7m15-12l18 13m651-8l10-10"/>
<path stroke="#001c91" stroke-width="3" d="M1550 787l14-13m-17 10l17-15m-29 15l18-16m-30 28l24-24m-31 5l10-8m-197 15l4 9m-50-26l4 9m-169 19l5 6m-68-13l-1 8m-401-8l5 5m-167-3l10 9m-25 21l17 15m-10-31l12 9m16 14l11 8m262-19l8 8m22 13l6 9m183-43l3 6m42 9l2 13m6-4l3 8m140-29l4 5m323-6l22-24m-21 46l27-32m-25 27l16-15m10 14l28-30m-11 46l24-20m-12 17l14-14m3 58l13-16m-27-2l15-16m-16 27l9-8m-9-7l21-18m-45 7l10-12m-18 18l18-18m-25 12l21-19m-39 27l17-16m-155 17l6 7m-91-7l5 5m-69 13l4 5m-17 1l5 7m-372-28l7 11m-9 6l4 12m-8-35l4 12m-12 14l7 7m-69-36l4 4m-83 22l7 4m-18-34l6 3m-218-4l16 15m-24 33l17 14m189-10l7 8m38 13l4 6m102-9l5 8m2-10l0 6m237-11l2 12m92-6l3 10m43-10l1 6m103-19l7 11m258 3l25-29m-24 20l15-16m-14 23l14-14m-13-12l9-8m-7 35l16-16m-7-1l14-17m-12 27l24-28m-16 42l20-24m-14 4l14-15m33 73l12-13m-12 5l10-11m-35-8l10-11m-16 15l10-10m-20 10l26-28m-28 30l25-30m-45 36l8-9m-46-4l28-31m-62 57l28-28m-485 28l4 6m-347-30l4 7m-293-8l11 11m-22-15l13 12m-44 12l25 21m-83 12l29 22m-14-27l15 13m-13-16l22 20m-19 0l26 25m-21-36l10 10m-10-17l9 8m40 6l11 10m715-35l2 5m94 2l7 10m48-7l3 5m121-3l4 4m182-22l24-27m-10 52l20-25m-13 18l12-14m-4 21l12-14m24 2l10-13m-9 25l21-30m-16 13l10-17m15 44l19-26m-24 38l7-10m-38 21l18-26m-41 39l25-34m-311 29l12 3m-401-5l10 9m-48-8l8 7m-91-13l6 5m-62 10l10 7m-60-35l3 5m-316 21l15 14m-59-33l19 21m-92-24l16 15m-23 6l26 25m-43-45l10 13m-15-17l9 14m-105 30l3 26m226-1l35 23m238-20l10 1m180-19l12 3m18 15l18 4m101-11l19 1m170 2l15-1m114-30l14 1m87 33l7-2m129-5l14-12m117 14l9-16m117 14l3-16m-52 56l8-39m-38 35l10-24m-48 33l9-16m-57 2l29-28m-99 40l19-18m-25-12l32-28m-556 31l18 0m561 35l25-23m109 55l8-35"/>
<path stroke="#001c91" stroke-width="2.5" d="M1562 798l11-9m-106-9l13-10m-310 22l8 8m-97-17l1 8m-66-5l2 10m-177-17l7 9m-71-22l9 6m-68 20l4 4m-233-14l24 21m-31-17l24 18m-20 30l15 13m1-44l9 8m97 26l5 3m88-23l7 9m12 13l3 7m174-8l7 8m29-35l0 5m270-13l4 7m135-3l9 9m164-12l28-22m-2 37l33-33m-21 17l12-11m-12 42l24-22m-14 14l21-25m-12 30l16-15m-16 1l11-10m-7 10l8-9m-4 46l16-18m-301 25l3 6m-143-25l2 6m-46 10l0 7m-2 9l6 11m-134-20l3 9m-15-1l2 7m-52-24l3 6m-48 17l3 5m-8-23l4 3m-46 5l7 7m-117-30l7 4m-233 28l18 16m-32-31l21 15m-34-19l20 19m211 13l5 3m61 16l4 10m12-31l4 6m32-5l3 5m241-1l0 8m32 9l1 8m20-7l4 12m430-26l12-12m22 6l15-19m18 10l7-8m0 79l18-24m-37 26l20-22m-20 10l28-32m-31 31l23-27m-324 4l4 4m-316 14l1 9m-40-22l1 6m-141-3l5 11m-41-10l4 5m-51-1l2 5m-82 12l8 7m-41-8l7 5m-16-5l10 7m-39-32l7 4m-31 15l8 5m-115-8l16 15m-68 4l21 19m-82 14l23 22m5-24l17 17m11-45l24 21m-11-11l24 22m-12-30l34 25m128 2l7 7m34-20l7 5m12-1l9 6m66 8l5 4m15-12l9 8m326-3l0 11m162-44l5 10m72-10l8 9m-1 21l5 8m313-29l29-31m42 53l8-14m19 33l9-18m-133 39l10-10m-124-2l8 7m-592-2l6 6m-290 3l6 4m-307-36l6 7m-11 1l20 19m-26-6l12 12m-6 6l23 25m158-6l13 8m34-17l14 3m90 24l8 2m110-1l7 1m108-14l16-1m-6 4l11 1m80-27l12 3m118 31l9-1m8-3l16-4m49-14l10-1m115 26l9-3m199 3l7-4m69 4l21-15m-277 21l9-2m-95 4l10-3m-45 0l17-3m-305 4l18 1m-105 0l18 2m-113-7l18 1m-541-1l7 21m1378 29l25-22m74 27l16-35"/>
<path stroke="#00269d" stroke-width="9" d="M856 865l18-3"/>
<path stroke="#00269d" stroke-width="5" d="M1453 1099l10-6m-196 24l13 9m-23-19l10 10m-59-9l20 1m-22 0l10-2m-67 6l10-2m-47 8l20-2m-29-28l13 1m-138 7l9 2m-269 20l8 1m-82-22l7 2m-261 32l20 16m85 4l13 5m73-36l16 0m31 3l21-4m45 20l22-10m150 8l7-7m27 25l9-11m317-24l19 18m486 46l18-18m-585 4l16 16m-131-6l6 8m-208-16l8-8m-42 3l17-14m-82 35l20-11m-134-16l16-2m-68 21l28 1m-111-19l17 6m-50 14l26 11m-32-9l12 6m-26 7l18 9m-137-10l22 18m73 18l23 12m322-11l19-10m68 6l9-8m104 3l12-14m27 2l6 8m8-7l14 19m240 6l24 11m99-24l16 2m266 7l13-9m28-1l16-15m7 53l21-18m-223 31l13-4m-23-21l8-1m-165 2l28 5m-71-8l21 7m-510-10l9-7m-391 12l9 4m-230-8l8 8m61 25l5 4m1079-2l28 3m350 14l18-16"/>
<path stroke="#00269d" stroke-width="4.5" d="M1384 1110l14 4m-818-8l20 1m-76 41l17 4m265-3l19-17m29 13l18-20m206 26l1-2m192-29l21 15m56-12l18 7m0 0l9 4m-5-2l11 4m137 1l21-7m0 0l11-5m-336 55l9 8m-269-21l6-8m-485 40l12 5m209 14l17-6m308 26l12-16m23 2l5-8m124-10l22 18m28 10l5 3m62-18l15 6m305-12l14-8m180 24l3-3m-46 43l17-16m-18-9l15-14m-47 12l15-13m-97 12l10-7m-26 19l21-12m-26 12l21-12m-49 38l11-5m-229-24l20 3m-123 16l11 5m-188-31l7 7m-81-2l9-11m-415 31l4 0m-178-27l19 7"/>
<path stroke="#00269d" stroke-width="4" d="M1258 785l3 11m-23-9l4 7m-9-19l2 7m-36-1l4 7m-306-13l3 7m-114-9l6 10m-155 8l6 10m-15 38l5 5m25-41l9 4m59 18l6 8m89-17l3 5m244-6l0 12m233 1l4 6m59-21l7 3m-87 55l7 8m-90-24l5 7m-18-1l3 8m-146 10l2 5m-23-23l2 5m-48-24l1 8m-37-1l6 9m-75-9l6 9m-258-11l7 6m23 35l8 8m299 16l3 6m68-4l2 5m40-17l1 6m36 1l7 9m1-29l2 8m63-2l7 8m82 16l3 8m30-12l2 12m94-11l3 4m-19 18l4 3m-157-16l7 7m-40 4l7 9m-45-11l3 9m-134 16l2 7m-163-16l3 4m-295-33l10 4m198 58l4 3m7-1l6 10m152-34l4 10m23 6l3 9m210 5l4 6m-41 14l1 9m-33 5l6 6m-314-8l8 5m-19 11l9 8m-178-34l10 4m-30-7l8 9m-13 29l8 4m176-2l7 3m100 3l11-4m50-11l12 8m-12 20l12-1m40 4l16 0m126-10l17-1m78-12l10-3m-9 8l9-2m84 6l15-2m95 4l13-4m2 36l16-3m-40-3l11-5m-40 15l12 2m-52 18l21 6m-192-29l10-1m-129-11l10-4m-35 11l12-2m-71 20l19 4m-94-13l14 1m-85 9l10 1m-18-25l16 1m-19 34l8-9m-22 1l11 0m-37 3l24-1m-156 2l15 1m-43-26l7 3m-27-11l16 3m-59 5l28 1m-139 9l11 2m81 25l21 2m137 7l23 1m11-2l19-14m-8 13l27 1m325-1l8 11m117-21l22 18m41 11l18 9m460 31l11-14m-193-2l20-13m-303 15l17 8m-31-15l14 7m-265 12l16 21m-37-23l11 15m-155-43l18-21m-163 50l7-3m-526 37l8 9m3 1l8 9m433-28l27-8m200 14l7-7m19 19l18-19m295 16l14 8m174-32l12 0m362-5l12-16m-17 66l15-16m-306 41l11-2m-395-5l9 8m-342 1l9-5m-10-21l17-10m-259 22l26 3m-314-6l21 19m-105-37l11 12m185 27l16 9m0 0l3 2m119-8l19 4m36 5l28 1m132-13l15-6m536 6l16 7m102-7l26 3m162 11l9-3"/>
<path stroke="#00269d" stroke-width="3.5" d="M1279 797l5 6m-9-37l7 10m-81 0l4 10m-26 3l3 8m-36-27l7 10m-83 3l2 9m-344 5l7 5m-38-21l6 6m-81 13l10 0m-6 21l9 7m260-17l4 8m22 1l2 4m56-16l2 5m253 0l3 4m5-10l6 10m76-10l4 4m63 18l8 9m-4-33l9 7m-128 63l7 6m-115-41l4 7m-46-5l3 9m-211 17l2 7m-72-4l6 9m-8-6l2 4m-66-26l4 12m-106 30l9 2m167 11l2 9m10-35l3 6m-2-5l5 5m33 1l3 9m4-1l4 9m-1 6l2 7m302-9l1 5m103-23l6 9m-5 17l8 9m142-22l5 6m-83 48l5 7m-218-16l1 7m-264-10l6 8m-16 3l1 5m-164-8l6 7m-36 6l4 5m17-5l8 7m183 21l2 12m53-47l6 7m4 29l-3 8m9-10l1 6m67-39l2 11m19 11l1 13m103-14l5 9m89-30l7 9m11 10l5 5m74 17l7 4m-76 33l13 3m-41-23l4 3m-186 2l3 5m-24-23l3 8m-332-6l5 9m-155-2l8 3m33 49l14 5m53-25l7 4m167 10l13 1m211-19l15 3m156 3l9 0m43-3l13-2m78 1l12-3m101 63l25-13m-102-2l13-6m-138-2l9-1m-15 4l19 11m-36 13l21 12m-28-26l18-4m-24 28l18 12m-37-36l15-8m-22 27l14-3m-98-19l14-3m-107 23l12 19m-88-25l18 0m-85 10l19-2m-24-4l13 2m-56-7l10 1m-178-14l8-6m-288 14l9 2m10 36l18 8m69 11l24 2m209-26l10-10m392 17l21 19m12-10l14 12m40-16l15 9m360 32l15-12m-333 21l18 5m-140-36l19 15m-158 3l7 9m-387-23l20-9m-85 40l20-3m-132-14l27 6m-42-8l15 4m-151 4l13 10m-156 24l15 17m86-3l9 7m104-26l11 5m23-2l9 4m6 9l11 3m-2-23l18 4m19 20l12 2m508-9l7 9m117-35l14 12m345 7l23-7m-21 22l17-5m29 20l17-7m-29-6l15-6m-108 16l6-1m-112 28l10 1m-233-34l17 14m-75 10l8 6m-395-4l17-6m-65 12l18-4m-110-24l24 1m-72-4l8 1m-227 12l11 9m-60 14l15 13m269-9l24 3m349 12l21-18m508 1l16 0m186 10l10-6"/>
<path stroke="#00269d" stroke-width="3" d="M1546 793l20-18m-37 9l18-15m-19 9l12-10m-13 14l15-14m-129 30l7 8m-213-41l8 9m-93-7l2 6m-163 2l1 7m-110-11l6 8m-180 0l8 5m-108 11l9 4m-71-4l10 7m-47-3l17 11m-23 25l23 22m-15-47l17 11m-17 14l9 7m-7-15l21 15m7-36l15 13m291 19l7 6m217-10l2 12m10-24l4 7m180-9l3 6m67 11l2 7m56-40l5 9m161 3l10-8m-2 29l17-14m-7-21l20-20m-11 52l29-25m-9 30l13-14m-4 42l19-19m-23 1l12-13m-14 20l17-16m-20 33l12-13m-20 18l15-17m-21 15l26-27m-27 27l33-27m-42 30l22-26m-29-11l19-20m-230 22l8 7m-11 20l4 4m-58-25l7 4m-66-7l4 7m-127 3l6 10m-33 11l3 8m-11-41l-1 12m-36 11l4 12m-30-29l1 6m-186-4l8 10m-328-20l16 15m-44-2l26 20m-64 38l20 17m-6-30l9 7m-3-7l9 8m872 6l4 5m78-24l6 2m15 11l11 5m108-4l8-9m21-9l18-21m-12 47l16-21m-13 11l11-11m-2-5l12-14m-7 33l28-27m-16 30l12-14m-8 17l15-19m-15 14l13-17m-3 24l12-13m7 45l12-16m-15 17l18-19m-40 17l17-19m-26 15l16-22m-39 16l17-21m-183 1l4 4m-128 10l4 9m-34 6l4 7m-220-31l3 10m-74 2l4 11m-233 4l7 8m-18-1l5 6m-150-15l5 2m-18-24l5 2m-152 14l16 13m-24-34l19 19m-26 9l8 8m-12-33l16 14m-25-6l17 16m-19-14l30 28m-122 30l19 20m12-15l24 21m16-58l13 12m-8 19l23 20m197-16l6 4m230-16l8 9m58-5l3 8m220-20l1 9m89 4l3 7m234-16l5 1m113-14l18-21m5 15l15-19m5 48l8-10m-6-8l23-27m-19 20l25-31m-19 25l15-18m8 51l18-31m-16 10l17-23m16 37l10-22m-6 26l8-14m-8 12l9-14m21 36l6-10m-43 6l6-12m-302 8l5 3m-226 26l7 3m-54-12l5 4m-142-18l5 11m-127-9l9 7m-67-6l3 5m-59 19l12 5m-128-29l9 5m-52 13l10 5m-281-34l22 23m-26-1l14 14m-16-2l14 17m-37-22l13 20m-37-36l5 8m20 30l24 35m293-19l9 3m13-4l16 2m121-19l5 5m68-10l14 2m8 26l16 3m2-2l13 0m393-13l14-3m25 11l7-2m131-24l7 0m127 77l20-21m-365-17l14-5m343 55l7-6"/>
<path stroke="#00269d" stroke-width="2.5" d="M1520 790l26-22m-37 18l25-18m-35 16l22-16m-165 26l6 8m-117-23l2 11m-23 0l3 7m-63-32l1 8m-241 9l4 9m-187-12l4 9m-270 20l12 10m150 21l9 4m40-27l8 9m5-5l9 7m43-10l3 9m150 9l3 7m244-21l1 7m6 8l1 5m383-16l18-18m-5 6l27-23m11 69l13-14m-28 14l22-25m-22 38l26-26m-46 0l23-25m-30 26l21-18m-24 18l20-19m-24 31l17-15m-22 2l11-11m-475 35l0 10m-94-32l1 7m-70-6l5 11m-74-9l7 9m-19-7l4 6m-372 16l31 25m-37-28l11 8m101 20l8 7m131 10l5 5m40-27l4 9m142 10l4 10m97-38l2 11m0 12l0 12m97-24l6 10m171-7l6 6m-2-4l3 5m80 11l8 4m202-11l28-32m-27 10l26-22m-25 24l14-12m-10 15l24-24m-22 38l8-11m-6 19l10-10m-5-2l19-20m-9 31l11-14m-5-18l15-14m-9 33l15-18m2 30l12-14m3 33l13-16m-28 8l14-19m-17 23l21-28m-35 23l18-21m-18 21l18-19m-241 18l8 8m-81 16l8 8m-11-35l5 7m-27 24l4 4m-154 4l6 10m-125-11l3 7m-21-6l-2 8m-158-38l5 12m-24-5l5 11m-31-24l5 10m-39-9l6 6m-87 26l6 4m-280-2l9 8m-28-14l19 15m-89 30l11 11m3-18l17 16m29-38l19 16m-19-9l19 15m136-7l10 3m208 8l5 7m43-20l4 3m10-24l7 11m119 6l5 12m426-15l7 9m269 3l23-33m27 40l12-21m-13 32l19-31m-603 45l9 7m-162-25l-1 13m-219 5l9 7m-188 3l7 5m-173-32l19 20m-103-4l16 17m265 40l9 3m8-29l11 7m93 22l13 2m131-2l15 1m321-20l11-5m399 63l12-10m-17-5l18-19m-22 36l21-20m-383-12l16-7m-587 7l9 1"/>
<path stroke="#002fa9" stroke-width="9" d="M855 871l21-3m-20 47l18-2"/>
<path stroke="#002fa9" stroke-width="6" d="M862 823l15-2"/>
<path stroke="#002fa9" stroke-width="5" d="M1453 1108l20-5m-57-11l9-6m-76 0l17 8m-17 17l15 6m-69-2l8 6m-88-22l15-4m-60-2l18-2m-23 28l11-2m-216-22l5 13m-43-20l11 2m-78 1l20 3m-135 19l9-7m-79 8l12-4m-16-12l17 1m-101 13l24 1m-68 0l20 4m-52 32l19 7m80-18l28-2m90-2l12-7m213 23l6-8m0 0l13-20m7 6l6 11m67-5l8-18m33 39l8 12m33-39l9 12m147-10l19 13m-1-22l10 6m4 23l5 3m108-20l20 1m296 57l6-7m-294-5l10-1m-474-12l13-21m-108 35l8-9m-333 65l28 0m118 0l11-4m36-17l19-11m329 5l8 8m0 0l13 13m124 0l20 11m-12-23l18 9m127 1l9 1m204-9l24-14m39 16l11-9m3-11l10-9m17 17l15-14m56 10l11-14m-54 57l14-13m-113 12l20-13m-313 16l18 3m-361 14l7 8m-107-8l12-10m-230-3l19-6m-44 13l25-7m-188-11l4 1m-17 25l20 4m-184-30l21 15m-66 6l8 6m494 23l17-9m871 1l22-14"/>
<path stroke="#002fa9" stroke-width="4.5" d="M1308 1110l17 10m-314-8l9 16m-584-24l20 14m30 26l15 7m40 1l12 3m27 3l20 0m10 0l14-1m43-8l24-8m186-8l14-18m230 21l9 12m59-22l15 16m109 17l11 5m77-33l16 3m-30 46l25 4m-181-22l14 11m-777 7l19 8m-21 2l9 4m-295 22l15 19m163-35l23 17m11 7l16 10m9-1l23 11m941-9l21 4m41-39l20 0m146 31l19-10m89-9l17-15m7 30l19-18m27 21l12-13m-12 1l10-10m7 37l14-15m-47 15l13-12m-22 26l13-12m-215 3l27-9m-325 16l26 12m-262-7l11-14m-575 13l25 9m-52-6l11 5m-17-29l17 8m-147 25l14 11m-60 0l19 15m1357 0l15-7m0 0l16-8"/>
<path stroke="#002fa9" stroke-width="4" d="M1391 775l6 8m-213-15l3 4m-68-7l4 9m-48 15l1 5m-12-13l-1 11m-54-9l5 10m-56-9l0 8m-149-18l8 11m-37-18l5 5m-97 5l7 8m-40-4l9 6m-40-13l9 6m93 28l4 8m8-12l4 3m252 10l5 11m23-15l0 5m195 8l5 5m177 1l4 5m-33 31l7 6m-97-20l7 11m-166 2l2 12m-17-29l5 10m-247-2l4 6m-74 14l5 3m-97-7l6 8m-126-22l7 3m-26 11l11 0m128 35l5 5m2-9l8 5m184 9l6 10m330-15l3 7m10 27l4 5m-101-10l8 7m-66 0l1 7m-438-27l8 6m-27 19l4 4m-15-35l10 5m-95 42l11 5m278-9l7 10m53-8l3 5m224-3l2 5m354-1l8 5m-2-18l5 6m-4 71l9 3m-62-28l11 6m-134-5l6 7m-349 3l4 7m-66-21l7 10m-32-14l3 6m-36 25l12 8m-36-25l5 6m-172-25l3 5m36 54l9 2m80 11l15 1m189-25l8 2m3 19l16-4m204-1l15-3m139-7l5-3m118 51l13-8m-21 13l13-3m-52-18l15-11m-205 15l9-5m-16 10l20-1m-106 10l18-7m-42 5l15-1m-60-15l12-1m-74 3l12 0m-95 0l20 3m-144 20l25-1m-135-5l20 1m-80 3l24 1m-71-6l13 1m-64-19l16 4m-49 26l11 1m-128 31l18 13m42-24l18 10m52-11l13 3m93-19l28 1m19-2l26 1m-23 15l15 1m28-8l19 1m-5 8l22 1m408-20l14-1m270 14l24-3m101 18l10-6m220 42l12-16m-262 21l15-6m-67-7l26-7m-223 4l22 10m-186 16l9 8m-38-15l7 7m-44-4l13 16m-162-19l15 24m-82-23l13-12m-215-16l13-4m-23 7l10-3m-357 22l8 7m-112 41l10 11m134-25l14 11m139-29l13 3m42 6l20 2m80 4l16-4m277 2l13 20m8-35l3-3m36 38l13 15m35-33l16 18m697-34l9-10m-47 73l14-11m-713 21l18 19m-112-37l11 15m-154 0l12-7m-126 5l13-4m-240-4l23 8m-163-10l17 13m-149-19l6 8m251 21l16 6m392 2l10-7m582-4l10 0"/>
<path stroke="#002fa9" stroke-width="3.5" d="M1310 776l6 6m-45-16l3 7m-69 20l7 6m-73-25l5 7m-33 12l2 5m-275-14l4 9m-175 4l10 8m166 23l5 11m160 0l0 7m40-30l2 12m261-13l2 5m22 52l8 9m-105-7l4 9m-104-27l1 6m-66 8l3 9m-48-18l5 12m-248-26l6 5m-9-6l4 3m-56-2l8 7m-100 7l9 6m-14 16l7 4m192 2l6 8m144 11l0 11m51-32l3 12m56 19l1 5m19-6l3 4m28-36l7 10m48-2l4 12m69-19l7 7m115 22l7 6m-634 31l9 7m-112-3l7 9m-124 31l6 5m164-11l9 5m108-18l6 9m280-17l2 7m31 10l2 13m75-12l1 13m38-7l2 9m115-20l8 6m23-17l4 5m-357 45l3 8m-84-23l0 7m-96 19l8 5m-26-33l4 7m-15 19l9 5m-243-7l10 9m171 21l12 4m2 16l17 1m59-1l12 2m46-1l6 1m169-7l14 1m66-31l10-1m95 1l15-3m243 55l7-5m-130 14l13-4m-25 10l12 0m-96-14l11 5m-58 5l16 11m-72 1l20-2m-32-19l10-1m-30-10l9 11m-12-12l16 19m-136-7l15-4m-123 16l12 25m-125-23l9 1m-170-2l19-11m-90 2l23-6m-149 57l27 8m482-17l6 10m60-7l17 23m-9-49l17-4m-3 15l11 16m244-9l21 7m231 47l17-10m-327 15l24 11m-32-42l9 5m-454-1l7-7m-122 8l11-5m-94 3l21-6m-36 22l4-1m-37-14l28-3m-64-2l20 1m-111 2l20 8m-33 4l16 7m-53-27l15 9m-86 23l9 8m-111-28l6 7m-44 30l12 13m93 8l8 6m71-26l17 10m34-10l26 11m56-1l22 3m407-20l1-1m40 13l10-13m31 25l15 18m9-42l7 8m484 22l17-7m181-17l11-12m-321 77l22-1m-163-16l17 6m-245-23l15 16m-72 10l17 19m-357-22l2 0m-327-7l16 10m-34-23l18 13m-24 25l13 9m-10-8l17 11m103 1l17 6m1121-5l16-7"/>
<path stroke="#002fa9" stroke-width="3" d="M1521 796l15-13m-17 9l25-24m-158 19l3 7m-153-19l5 10m-53 10l4 10m-44-30l3 7m-160 5l-1 11m-155-3l4 8m-191-21l6 1m-160-1l15 11m-21-2l28 23m-34-37l21 16m-33 26l14 11m-2-22l24 18m-22-23l29 24m-24-27l19 17m-8-14l26 18m-12-15l14 12m-4 6l9 8m201-8l4 4m383 1l5 11m117-8l1 8m85-23l5 4m14-6l7 9m169-20l30-27m-25 23l15-14m-4 19l13-12m0 22l11-10m-9 10l23-23m-12 34l22-23m-19 29l13-13m-6-7l11-11m8 59l10-11m-19 27l26-23m-50 20l15-16m-18 22l18-19m-18 4l29-28m-31 11l12-12m-13 13l10-9m-17 29l17-20m-22 4l25-27m-35 32l20-20m-129 18l6 11m-115-11l6 7m-57-8l3 5m-89 8l3 5m-45 3l4 12m-52-12l4 12m-177-47l5 12m-125 7l5 11m-104-25l11 6m-210 11l18 15m-50-34l32 31m-35-19l25 19m-44 28l17 13m-14-34l15 14m22 17l9 8m250-11l4 8m345-11l3 11m-2-6l6 10m205-15l5 2m77-7l5 3m169 6l31-28m-25 26l11-9m5 20l22-24m-12 17l15-16m-13-15l12-11m-10 43l14-17m-13 17l11-12m26 58l7-9m-13-24l15-19m-34 25l19-22m-26 46l16-20m-17 18l26-28m-36 7l27-32m-32 30l21-21m-26 39l31-29m-43 17l20-20m-194 21l8 6m-35-5l3 4m-206 6l5 8m-47-10l4 7m-52-21l5 11m-10-4l1 8m-64-26l3 11m-52 6l1 10m-123-5l4 4m-263 7l9 6m-154-35l21 19m-37-13l24 23m-30-14l25 22m-33-4l11 9m-11-17l19 18m-39-10l17 16m-73 16l18 16m-18-12l28 26m-12-25l19 17m-18-15l20 13m-17-25l23 22m3-33l31 27m-27-33l15 14m-12-15l17 17m-7-24l20 15m-3-15l17 15m-3-16l19 15m118-5l11 4m95 7l5 2m62 11l4 3m14-18l6 9m57-13l5 8m180-3l3 6m131 2l4 11m78-35l6 10m30 7l2 6m10 6l4 5m31-35l4 8m127 6l5 3m172-2l18-26m-16 14l22-28m-10 26l20-25m-17 38l19-20m-11 18l13-15m6 29l19-25m-12 15l17-20m-3 15l11-14m-9 29l11-17m-3-4l7-10m2 41l12-23m-9 14l9-13m-11 38l15-27m-29 25l11-18m-41 22l23-28m-33 26l23-28m-127 32l5 3m-153 17l12 2m-142-7l11 5m-165-13l8 10m-74-23l5 12m-112-2l7 9m-112-25l8 8m-12-15l6 8m-14 7l7 9m-13 2l7 6m-64 5l9 4m-14-23l5 5m-7-12l8 7m-26-16l5 4m-15 8l7 6m-96-13l6 4m-31 16l6 1m-15-24l7 5m-265-3l27 28m-35-31l14 15m-17-13l36 23m-44-28l10 8m-12-4l16 15m-20-3l26 31m-39-22l11 19m-15-8l11 19m-15-48l5 7m-10-9l11 15m283 43l14 5m61 6l18 4m112-35l11 5m1 2l10 3m106 17l15-2m84-4l14 0m225-19l11 2m54 22l9-4m278 11l15-13m12 50l15-16m-29 36l18-16m-15 9l10-9"/>
<path stroke="#002fa9" stroke-width="2.5" d="M1536 779l11-11m-26 17l17-17m-31 29l31-26m-172-2l10 8m-31 12l4 10m-212-4l3 12m-8-22l2 7m-131 5l4 6m-108-28l2 4m-381 15l10 7m-28-33l14 11m-28 9l11 10m-12-14l29 22m-38 1l18 15m-6-4l20 16m90-10l9 6m16-4l7 8m328-10l3 8m119-29l1 7m80 25l0 11m8-29l6 6m114-9l3 6m28-2l4 5m10-9l3 7m171-15l27-24m-3 54l21-22m10-3l10-13m8 65l14-17m-22 29l21-24m-25-9l28-23m-30 35l8-10m-13 26l11-11m-243-1l6 9m-29-4l5 7m-110-6l6 8m-12 2l8 8m-22-40l3 6m-514 28l5 4m-26-24l9 8m-191-9l23 20m-37 1l13 10m-30 30l14 14m-9-31l25 28m-22-29l16 16m-14-23l20 17m-6-6l17 16m-14-12l23 20m-8-32l29 21m105 3l12 4m200-11l4 5m35-24l2 5m203 1l5 9m39 5l0 8m87-38l2 9m108 24l7 8m8-43l4 6m63 8l4 3m17-10l8 2m124 23l31-26m-14 17l22-22m-18 12l14-14m6 40l25-26m-19 17l24-30m-23 1l14-17m-3 32l10-10m24 59l19-23m-25 28l22-25m-46 27l25-31m-33 7l8-11m-48 12l15-14m-116 6l9 4m-165 34l3 12m-83-39l6 7m-20-4l3 5m-103 2l5 10m-57-19l0 12m-27-21l1 8m-20 1l1 8m-6-4l1 11m-29-4l5 10m-22-25l1 8m-81-17l2 10m-305 9l11 6m-164 2l31 26m-47-29l14 15m-99 38l18 17m-4-28l25 26m1-36l22 20m48-15l14 12m155-26l5 4m156 13l3 4m8 11l6 4m67-15l6 8m19-2l2 8m5-35l2 5m16-7l5 7m145-3l1 11m31-10l1 8m35 13l5 6m220-32l5 7m9 5l4 7m49-1l7 8m194 1l24-27m-10-1l10-12m19 43l8-14m8-16l15-19m-11 33l15-22m-13 30l16-26m13 31l8-17m-15 43l18-33m-251 35l7 4m-20-15l10 5m-82-3l5 4m-78 24l5 2m-20-21l6 8m-95-7l7 10m-125-28l3 9m-229 8l7 4m-60 9l6 3m-120-1l9 3m-98-25l5 2m-237-8l12 13m-67-9l17 18m-18-6l13 14m-18-21l11 12m-33 16l21 29m-6-26l18 26m194-24l11 5m82 0l10 5m81-8l8 2m165-13l7 1m155 4l11 5m339 24l9-4m210 20l16-12"/>
<path stroke="#0038b6" stroke-width="12" d="M826 1003l23-6"/>
<path stroke="#0038b6" stroke-width="5" d="M1402 1106l19 4m-40-7l8-5m-25 11l11 5m-315-3l14 23m-19-18l12-26m-63 28l9 3m-59-26l10 22m-152-15l12 1m-52-15l17 1m-261 37l19 5m107 14l23-7m180 10l9-10m96 1l8 16m23-34l12-23m330 22l20 10m466 53l11-14m-352 8l10-1m-335 17l15 14m-175-11l11 17m-222-31l13-9m-53 26l18-9m-131-28l10-1m-365 35l19 20m-50 0l16 17m34-17l21 19m-2-13l13 12m466 2l16-9m364-13l9 8m24-13l19 15m0 0l10 6m55-8l20 9m267 12l25-11m-225 27l17 3m-519-11l12-10m-279 13l24-2m-179-7l11 5m-170-4l14 12m236 36l6 1m736-7l15 6"/>
<path stroke="#0038b6" stroke-width="4.5" d="M1336 1106l23 11m-559-15l10-10m-367 27l11 8m-60 29l12 10m32-13l13 9m271-35l23-13m80 18l20-21m632 47l22-3m0 0l25-6m12-1l17-7m93 57l13-9m-75 1l23-12m-67-4l11-4m-30 1l2 0m-62 14l22-1m-44 2l22-1m-25-11l14 0m-87 5l17 5m-114 3l17 10m-119-22l20 20m-757-34l16 9m163 62l12 0m-6-7l12-1m477 9l10 10m663 30l15-13m-15 9l20-19m-23-4l7-7m-71 29l10-7m-361-13l21 5m-108 22l9 4m-656-19l10 0m-48 9l14 1m-172-24l24 11m-159 23l9 8m1416 1l8-5m36-3l14-12"/>
<path stroke="#0038b6" stroke-width="4" d="M1325 787l9 7m-136-28l3 5m-111 8l1 10m-232 5l1 5m-181-13l6 3m-83 4l11 5m301 14l7 10m45 1l2 8m128-23l6 11m118-6l8 8m50 0l4 7m63-22l8 5m81 52l8 5m-46-18l8 9m-70-11l3 5m-127 26l3 7m-331-36l4 8m-104-1l9 10m-43-7l6 6m-9-15l10 8m-23 2l8 6m-125 5l7 1m-47-7l12 4m-5 25l6 4m20-13l4 6m2 7l11 5m10-7l10 5m2 0l6 6m17-7l7 7m19-25l6 5m75 15l7 7m130-13l3 12m79-12l3 9m24-3l1 5m20 11l-2 11m37-30l5 3m73-10l1 6m94-6l5 3m-4 10l4 8m16-13l9 8m67-1l6 10m11-14l8 7m58 24l11 4m-20-12l7 4m-57 21l7 8m-57-29l5 6m-67-11l6 6m-12 18l4 5m-49-7l3 7m-295-10l2 9m-31-15l4 7m-152 11l6 11m-69-11l6 8m8-3l8 5m10 16l8 8m182-23l3 9m23 2l1 9m24 9l0 11m94-38l3 10m26-12l3 8m75 13l3 7m272 23l10 5m-74-16l6 7m-60 6l4 4m-89 9l7 2m-13-21l2 6m-5 14l9 4m-30-1l10 0m-16-26l0 6m-72 14l4 6m-96-22l3 7m-84-1l7 7m-153-27l6 5m-28 24l9 7m47 37l18 2m38-34l14 4m64 10l8 1m158-5l9 0m74 26l14-2m174-12l9-4m94 46l12-3m-96 9l24 1m-62-4l9-6m-23-20l18-4m-87 6l19 14m-108-4l17-5m-124 18l10 15m-305-31l15-1m-97-3l5-4m-11 24l19 4m-39 3l21 0m-30 1l13 1m-43-2l11 0m-20-19l16 7m-26 5l23 3m-81-4l20 0m-58-25l17 7m-23 18l10 4m-112-5l21 15m-29-6l15 11m238 8l13 1m109-15l13-13m178 17l8 16m6 10l9 16m37-46l20-2m168 13l17 14m-15 5l10 7m82-4l27 10m74-26l18 1m73 19l22-8m3-1l11-5m-217 42l15 5m-68-7l18 9m-24 6l21 11m-264-29l7 9m-129-25l5 11m-241-9l13-5m-69 11l27-5m-31-3l26-4m-334 33l21 18m7 12l11 8m224-8l10 0m325-20l16-18m143 50l20 20m-4-18l12 13m291-50l16 2m357 37l19-20m-38 34l9-8m-265 31l14-2m-29-35l14-2m-142 35l17 4m-98-32l22 10m-377-8l7-6m-172 29l18-8m-364 9l9 5m-30-4l18 10m-23-33l14 8m-55-16l9 7m76 40l11 5m182 1l26-2m823-12l16-1"/>
<path stroke="#0038b6" stroke-width="3.5" d="M1449 774l5 2m-113 6l4 8m-13-26l3 8m-22 24l4 8m-45-24l5 10m-27-22l4 7m-75 3l4 10m-216-15l2 7m-56-7l2 7m-78 4l6 11m-44-12l7 10m-114-18l4 3m-4 6l10 6m-37 1l12 5m-95-23l5 5m48 38l8 6m14 14l7 6m72-22l10 6m294 6l-1 5m185-14l7 10m0-25l4 6m75 34l3 5m-26 23l5 8m-42-25l4 6m-92 4l6 10m-28-5l4 6m-27-15l1 6m-14-18l1 6m-189 16l4 8m-24-6l2 5m-136-33l6 8m-31 2l9 7m-24-11l6 6m-50-5l6 7m-93 10l6 5m113 31l7 7m34-11l6 8m31-20l8 8m29-9l7 10m99-22l4 6m36 2l3 11m52-8l2 6m15 18l3 4m115-28l2 11m98 17l4 8m35-46l4 7m53 62l3 10m-34-26l4 5m-21-13l3 4m-53 16l6 10m-56-26l4 11m-89-11l1 6m-6-12l6 8m-141 21l2 8m-13-33l3 5m-81 20l0 9m-31-41l7 6m-144-2l3 7m-122 1l8 5m-7 30l10 5m-8 25l8 5m200-13l7 6m-1-29l3 7m25 20l7 9m44-37l1 5m116 6l2 4m83 14l2 6m73-15l0 9m11-20l3 5m91-17l7 5m125 59l10 5m-68 0l11 6m-126-10l4 3m-84 7l12 4m-211-22l3 6m-74-21l8 9m-95-3l4 4m-76 17l5 3m-86-11l4 3m-92-17l8 5m189 49l10 1m23-14l7 3m24-12l12 5m219 4l7 1m172-10l6 0m6 29l9-1m183 2l8-4m73 4l6-3m-7 20l9-3m-128 9l15-5m-50 21l19 6m-55-24l21 12m-215-6l8 1m-62-14l7 12m-108 5l10-1m-98-9l15-2m-83 25l15 2m-24-21l19 3m-142 2l17 0m-19-2l10 0m-60-2l13 0m-29 18l15 5m-53-3l13 3m-23 18l22 1m82-20l22 0m339 2l6 10m141 5l15 16m27-30l14-6m5 16l19 15m116-3l18 4m56-27l15-8m-14 65l22-2m-26 14l26-2m-56-11l20 1m-82 15l18 4m-136-11l17 12m-23-20l5 3m-14-22l20 16m-84 3l19 18m-320-17l11-12m-13 0l9-9m-165 32l21-9m-71-1l27-7m-334 12l8 6m-45 0l10 10m-45-5l10 10m-78 19l10 12m284-2l12 3m78-29l24-1m165 1l9-5m191 15l15 21m136-17l14 13m231-32l18 4m-8 4l26 3m331 5l13-12m-99 36l9-6m-162 19l8-1m-159-14l14 3m-103 33l9 4m-223-22l12 13m-269 4l19-11m-104-1l13-5m-22 6l19-6m-88-21l22-3m-385 22l10 9m-22-23l7 7m809 41l8 7m217-8l18 7m139-3l16-1m158-15l24-13"/>
<path stroke="#0038b6" stroke-width="3" d="M1527 778l12-10m-25 8l11-8m-29 20l26-19m-285 8l4 7m-40 6l6 11m-21-3l4 9m-292-39l2 13m-111 0l3 5m-65-11l4 5m-30-7l6 3m-221-1l12 9m-16 20l13 10m1 0l29 28m82-3l13 3m23-9l8 9m93-28l5 11m-2-23l10 7m0-8l5 9m42 9l4 5m33-19l6 8m72 5l3 11m48 5l2 5m86-38l6 6m7 32l0 9m16-26l5 9m103-16l5 8m13-14l6 7m303 19l18-21m-14 11l23-20m5 14l30-27m-24 34l27-23m-22 6l19-16m-1 63l18-22m-37 9l8-9m-9 28l12-11m-14-9l9-8m-17 20l10-10m-10 7l25-29m-29 37l27-27m-441 40l1 10m-166-13l5 11m-15-35l4 8m-49-12l3 5m-33 4l6 10m-62 18l4 7m-26-40l5 5m-233 4l7 1m-74-7l10 7m-46-7l32 28m-35 0l21 19m-36-26l25 17m-34-9l28 23m-40 15l15 16m-12-18l19 18m-18-22l13 12m9-4l20 19m-7-55l24 18m135 15l4 6m27-5l11 6m74-26l5 7m-2-15l5 6m4 20l6 4m21-2l6 7m22-9l3 6m4-38l7 10m5-5l3 5m20 27l2 6m61-17l10 8m255-1l3 5m49-6l0 6m24-28l3 5m30 4l3 4m60-20l4 12m192-12l26-27m-21 44l16-16m-13 26l14-11m21 17l9-10m-9-23l19-21m-13 18l13-14m-5 47l17-22m34 65l12-13m-22 11l9-16m-31-16l9-11m-17 17l10-9m-19 35l11-14m-17 6l11-12m-19 18l14-14m-19 3l27-32m-31 48l19-21m-21 22l21-32m-28 28l13-17m-22 14l10-12m-13-5l23-25m-43 19l23-27m-178 20l10 4m-103 21l4 9m-154-35l2 12m-31 1l6 7m-28 16l2 4m-660-31l11 11m-14-21l15 13m-26 1l15 16m-18-24l30 24m-31-21l7 6m-11 4l25 23m-41-6l13 12m-26-12l12 11m-73 20l28 24m-14-24l12 11m-10-14l27 21m-16-25l8 8m-5-9l25 24m-2-39l20 18m-15 12l17 17m-16-51l16 16m-11-11l24 22m-18 4l27 23m-11-38l22 20m88-11l12 4m113 7l10 7m27-26l7 4m38-14l3 5m97 5l3 10m3 7l8 10m19-34l5 9m66-11l3 9m38 16l-1 12m161-30l1 11m132 1l3 5m0-2l6 9m30-26l9 7m67-17l7 9m68 0l4 3m146-8l11-11m-6 29l16-18m-15 0l19-23m-16 25l27-32m-25 40l14-15m-8 16l20-25m-15 39l15-18m-15 1l12-14m-8 16l7-9m-4 0l24-28m-17 33l16-23m-12 44l14-22m0-12l10-14m-10 52l10-15m-8 15l11-20m6-7l8-13m13 54l14-31m-27 32l19-38m-91 40l23-31m-177 24l8 4m-37 25l12-2m-111-5l10 5m-26-19l7 5m-102-7l4 6m-345-14l4 11m-58 16l6 7m-135-29l10 5m-14 4l6 4m-33 5l12 2m-79-12l11 6m-21 4l10 0m-252-24l28 29m-64-31l18 22m-20-25l13 13m-13-13l21 16m-22 6l13 17m-15-22l13 15m-13-5l11 13m-15-36l21 18m-25-18l18 20m-18-15l10 12m-11-6l9 10m-9-10l12 14m-14-6l8 9m-14-3l14 19m-33-42l12 16m13 31l19 29m-14-14l14 18m-11-44l26 28m163-20l11 4m65 12l12 3m10 0l6 2m113-13l11 5m377 2l14-3m0 14l11-2m18-25l8 1m22 3l5-2m155 7l15-3m201 17l27-21m-13 26l21-16m15 46l11-9m-15-9l14-11m-16 22l16-11m-16 9l14-11m-221-1l14-7m-45 6l13-5m-156 2l14-7m-1057 23l6 31m1425-7l11-11"/>
<path stroke="#0038b6" stroke-width="2.5" d="M1546 797l19-20m-441-12l1 7m-39 1l1 8m-20-13l3 10m-51 6l-1 9m-212-27l4 8m-155 4l6 4m-42 4l9 1m-127-15l34 24m-42 2l21 21m-36 12l24 21m-22-40l18 17m3-25l23 19m-20 2l29 24m89-18l9 8m151-17l6 7m48 0l6 10m43-20l2 11m24-10l2 9m40-26l1 6m53 10l2 12m36-15l1 6m218 7l8 9m183-11l5 3m57-25l15-13m34 16l11-12m-8 76l26-22m-44 27l22-24m-26 4l22-18m-116 31l9 3m-51-13l4 5m-63-1l3 4m-14-14l5 8m-50 13l5 6m-33-39l2 4m-25 21l7 6m-442-24l4 4m-55-11l4 4m-42 10l4 4m-35-11l7 8m-200 9l9 10m-13-29l13 10m-31-14l23 16m-31-6l13 11m-15-8l17 13m112 31l12 3m72-3l8 7m30 2l6 8m63-12l5 4m60-16l3 5m36-1l6 9m154 1l5 12m75-26l3 8m7 15l4 7m36-35l3 6m82 9l2 6m16-29l10 7m56 15l5 8m196-30l25-29m-18 57l30-29m-24 40l28-25m-22 19l9-8m-2-23l16-15m-11 21l21-24m-13 44l10-11m4-3l10-10m11 42l10-13m-30 36l12-11m-12-15l16-18m-29 39l14-17m-25 5l20-25m-30 26l24-24m-106 49l5 5m-256-8l3 12m-55-18l6 5m-35-19l3 6m-21 3l7 6m-149 0l2 5m-18-18l5 12m-11 10l2 5m-73-15l6 9m-15-36l4 11m-89-13l5 7m-74 17l5 9m-196-10l5 3m-111-25l19 20m-37 11l20 19m-43-12l9 8m-64 25l26 25m-7-24l29 25m-16-53l32 30m221-6l5 2m7 2l8 9m89-25l6 5m9 8l4 6m21-26l4 9m-4 10l5 6m38-4l2 7m59-17l3 6m246-26l8 6m-3 7l4 6m0 5l3 10m35-31l5 5m15 18l7 10m29-25l4 10m82-3l6 7m22-1l3 5m18-6l5 6m205-18l20-25m9 18l21-20m37 30l7-10m19 11l8-13m5 43l6-11m-37 6l15-26m-17 26l6-10m-324 20l4 5m-113-8l1 6m-60 16l6 5m-90-4l8 6m-33-7l9 7m-10-2l11 7m-100-17l7 11m-94-10l3 6m-69-6l8 10m-76-2l9 10m-132-27l7 7m-25-24l6 2m-202 15l16 18m-61-26l27 24m-70-15l10 10m-37 7l10 9m-22-31l18 17m-50-17l21 32m269 0l11 8m121 4l13 8m62-3l11 2m105 7l8 3m62-27l11 3m79 10l13 2m153 17l8-1m11-36l8 0m82 0l15 1m-14 33l18-3m267 34l17-14m-25 11l10-8m-26-15l26-22m-4 62l12-11"/>
<path stroke="#0042c2" stroke-width="5" d="M1417 1116l18-6m-184 8l20-9m-178 10l15 24m-20-31l13 20m-124-28l15-3m-43 16l20-1m-90-26l8 1m-41 9l15 1m-187 8l24-10m-46 9l21 4m-24 4l25-7m-47-24l15 8m-35 21l10-1m-141-21l17 10m156 43l23-6m7-12l20-8m-17 24l21-8m-11 18l11-4m267-15l13-22m138 47l12 15m196-38l20 9m-182 44l8 9m-93-34l1 1m-10 19l15 19m-33-14l9 13m-59-26l11-17m-471 35l16 3m-177 1l20 13m-189-26l17 22m27 29l10 10m141-20l12 7m320-28l18-9m219 15l9-11m473 13l26-2m205 15l11-9m2 38l17-13m-53 19l19-12m-75 23l25-12m-304-19l23 7m-349 4l18-21m-136 40l11-9m-92-13l14-9m-65 14l11-5m-334 19l17 7m-163-10l19 15m-91-19l20 20m120 5l10 6m342 0l9-2m-2 10l15-5m177 5l18-16m519-3l22-1"/>
<path stroke="#0042c2" stroke-width="4.5" d="M600 1107l12 0m745 35l15 5m9-3l22 5m108-11l12-3m136 54l8-6m-212-20l10-1m-1023 32l9 4m-45-32l8 6m30 63l13 6m61-4l23 5m55-9l10-1m711-18l17 6m7 0l25 8m448 2l7-8m-22 22l16-17m-270 30l14-4m-281 26l17 7m-63-24l16 9m-111-8l19 15m-511-33l26-4m-397 25l17 14m42 5l15 10m360-5l17-5m14-5l24-9m525 19l18 7m410-8l23-17"/>
<path stroke="#0042c2" stroke-width="4" d="M1359 775l7 9m-87 10l7 7m-70-18l7 9m-100 3l1 10m-45-13l-1 9m-94-2l-2 8m1-30l5 10m-37-6l4 9m-15 5l3 10m-8-18l2 11m-47-21l1 5m-33 2l2 7m-107-8l3 7m-35-16l8 8m-73 6l7 5m219 19l4 11m99 12l9 8m70-9l3 11m-2-14l4 9m-3-15l-2 11m8-10l3 5m34-5l4 8m38-22l2 10m3-21l4 7m29 20l3 8m24-26l1 5m21 11l0 11m65-10l9 7m62-10l11 8m-59 23l2 5m-6 0l6 7m-35-14l5 12m-38-16l5 11m-47 19l7 9m-181-43l3 10m-126-13l-1 9m-35-4l4 9m-146 10l8 8m-14-32l6 5m-57 10l4 5m-106 20l5 2m92 6l7 6m37-14l10 8m43 3l4 3m146 16l3 13m0-21l4 11m55-7l1 5m146-23l3 8m77 18l10 5m1-31l1 6m4 7l6 10m58-23l4 3m3-10l3 7m39 22l8 3m121 28l7 6m-130-3l10 6m-109-22l4 5m-17 2l3 9m-74-4l3 5m-31-13l3 6m-52-1l0 8m-6 12l3 9m-11-23l2 10m-24-32l2 8m-115-8l4 11m-37-7l3 9m-58 19l7 9m-7-5l2 5m-58-7l4 6m-51-24l11 7m-21-16l5 5m-47 0l9 7m-71-21l9 6m-45 28l6 4m-36-1l10 4m-47 31l6 3m106-30l10 8m64-12l2 7m1 11l6 4m-5-21l6 9m106 1l3 5m106 19l3 9m21-33l1 5m2 0l1 7m37 0l1 6m0 8l4 11m0-40l3 7m51 6l3 11m91-9l4 11m17-10l4 6m73-28l4 10m20 9l9 8m70-21l2 10m-1-4l8 10m-12 18l2 8m-53 21l10 6m-55-21l5 7m-248 11l7 2m-189-23l6 8m-14-23l7 10m-73 22l12 6m-35-30l9 8m-35 10l12 3m-142-4l8 2m-41 37l11 3m7-19l13 4m16 4l14 5m26 8l11 0m111-13l14 6m86 0l10 2m64-6l13-4m-5-4l7 2m70-1l10 2m-7-2l9 2m47-5l10 0m304 9l16 0m10 52l14-3m-26-21l9-4m-115 4l8-1m-157 23l10 0m-39 6l13-2m-153-29l12-2m-79 37l17-2m-39-32l8 1m-112 23l21 2m-72 6l18 1m-21-10l16 1m-59-11l9 1m-90-2l12 3m11 25l10 0m15-3l13-4m45 9l23 1m-3-4l13 1m36-3l29 1m70 36l11-13m186 2l13 18m88-42l21-6m14 13l18 16m303 10l13-6m-14 20l26-11m-120 19l28-1m-111 15l16 4m-254-27l10 12m-61 0l13 15m-158-19l9 16m-629 0l12 11m-4 22l9 7m5-22l17 14m58-9l10 6m0 0l4 2m761 1l8 7m286-8l16-2m2 17l17-3m-12-23l19-4m87 33l23-12m-38 12l25-12m-95 44l18-3m-303-25l17 10m-98 19l16 12m-217-14l12-1m-175-18l18-10m-61 15l11-5m-22 10l11-5m-15 20l19-8m-218-9l16 2m-66 7l25 7m-119-6l23 12m-185-28l8 8m339 34l14 1m809-10l10 1"/>
<path stroke="#0042c2" stroke-width="3.5" d="M1258 793l7 7m-168-12l-1 9m-154-16l2 7m-107-19l2 10m-140 53l8 9m63-39l8 7m19 23l5 9m10-22l5 5m-4-2l4 7m40 0l9 6m33 2l0 10m36-28l3 11m37-4l3 9m109-13l3 4m164-18l3 5m-108 49l5 9m-131-16l1 9m-9-19l4 8m-32 23l1 5m-80-26l2 6m-45 6l8-1m-79-17l3 10m-101-2l5 4m-61 4l4 3m-4-6l8 8m93 40l8 7m93-12l5 3m16-2l3 7m14 4l3 8m41-17l0 6m20-4l1 8m29-24l1 5m62 3l5 10m50-18l0 10m219-1l6 9m10 33l6 6m-167-26l4 8m-12 10l3 10m-15-11l2 6m-194-15l2 9m-104-14l5 6m-25 21l5 10m-30-23l7 8m-17-24l2 5m-38 24l7 8m-149-16l8 5m-30-31l5 6m-76 66l13 4m19-4l5 4m12-15l12 4m97 13l8 6m8-44l5 4m10 3l10 8m87 16l3 10m31-41l4 9m14 24l4 5m35-21l4 8m190-10l1 5m46-7l2 5m155 14l8 9m22 30l8 2m-106 0l5 0m-15 5l13 1m-91-3l9 3m-109-3l5 2m-66-1l11 10m-187-23l4 6m-37-1l8 4m-110-28l10 4m-50 3l6 6m-51 23l11 5m216 9l6 2m382 2l10-5m34-5l9 0m15 20l8-3m-4-3l14-4m-4 14l13-3m-3 4l17-8m53-17l14-2m129 7l14-2m-160 48l17 7m-66-15l11-6m-17 7l13-7m-186 28l9 13m-85-38l14-1m-28 26l5 11m-50-29l21-3m-80 12l13-2m-14-16l10 1m-78 10l15 2m-98-19l9-1m-147 23l18-1m370 31l11 19m186-11l9 8m14-21l16 12m46-10l11 5m380 43l14-13m-489 17l10 7m-495-24l14-8m-67 32l12-4m-440-1l18 21m-40-11l13 16m-45-17l10 13m73-1l15 13m53 15l8 6m92-38l15 6m308 23l12-7m114-5l10-10m33 3l8-9m13 35l8-9m156-17l2 2m70 5l10 7m15-21l23 15m105 16l8 2m44-33l2 0m15 32l16 0m130-7l19-8m-8-15l24-13m80 67l19-14m-542 11l10 7m-168-6l10-13m-279 7l13-6m-39-7l21-8m-291 29l21 7m-92-11l17 10m-224-8l7 7m-11-6l16 18m618 22l17-10m457-7l23 9"/>
<path stroke="#0042c2" stroke-width="3" d="M1554 798l20-17m-25 15l16-18m-24 18l14-11m-38 10l17-14m-38 14l32-27m-179 18l5 4m-53-12l5 6m-8-16l6 10m-125 8l0 12m-7 1l4 8m-138-22l2 6m-132-4l3 10m-89-3l6 7m-77-19l4 5m-144-17l11 6m-103-8l13 10m-30 15l15 13m-25-19l25 19m-28-13l34 25m-37-22l13 13m-16-11l18 16m-31 17l36 30m-32-32l29 24m-22-16l22 18m-5-50l17 14m-16-5l30 23m-21-1l26 17m-22-37l14 12m86-3l12 3m100-25l10 5m57 10l5 11m-3-29l7 7m374 5l4 10m25 8l1 5m60-9l8 8m3-29l5 3m29 14l7 6m209-17l14-11m8 11l25-23m-22 18l25-21m-15 25l15-14m-14 27l21-22m-14-1l7-6m16 70l10-10m-15 19l24-21m-43-7l25-22m-27 56l28-25m-37 10l22-20m-221 25l2 6m-288-2l4 10m-248-12l2 6m-43-13l3 10m-12 4l7 6m-91-16l9 5m-49-11l11 2m-62 2l11 3m-107-4l19 18m-21-38l12 10m-15-12l21 19m-49 16l25 20m-36-44l15 11m-40 48l16 13m-13-27l15 13m-11-7l23 22m-18-19l11 11m-10-8l11 12m-8-40l17 17m-16 6l32 27m-29-44l22 18m-21-10l12 13m-9-29l19 15m-17 7l27 24m-25-41l16 15m-2-9l30 27m-24-21l26 19m-26-4l15 11m92-15l12 6m75-20l8 6m195-20l7 5m85 24l1 7m11-35l-1 11m106-8l1 8m56-10l4 6m83-9l9 8m16 16l4 5m17-11l8 9m51 5l9 5m22-5l6 3m16-10l5 5m161-6l15-16m-11 13l27-24m-4 20l26-27m6 84l24-26m-30 16l16-15m-21 4l11-14m-13 26l24-26m-25 32l19-23m-44 9l17-20m-20 13l28-32m-48 28l15-16m-180 11l3 5m-473 1l4 12m-106 12l5 4m-29-4l5 8m-12-16l3 4m-62-9l6 10m-34-23l3 6m-29 21l10 3m-209-34l26 25m-70-13l29 27m-31-18l30 26m-36-41l18 16m-21-21l25 22m-29 11l17 17m-19-26l30 26m-30-32l16 14m-18 0l16 13m-20-20l15 15m-26-11l19 17m-97 27l15 14m-6-14l30 28m-7-27l30 30m-23-46l8 7m-6-4l9 8m-6-12l19 18m-16-21l10 8m12-11l28 22m-24-20l15 13m-11 4l24 21m-6-30l27 21m-26-21l22 20m-12-27l13 11m101-17l10 2m112 0l6 4m17-1l3 6m110 5l4 6m91-3l5 8m157 2l2 6m98-25l0 10m68-23l6 10m140 16l10 7m219-33l25-31m12 35l20-30m-8 25l22-30m-20 51l18-21m-17-5l13-20m-10 45l21-30m-19 11l15-19m-6 18l14-18m-12 12l13-19m-7 45l20-31m-14 43l15-24m2 22l8-14m0 18l13-27m-59 32l17-32m-39 32l10-13m-214 33l7 5m-13-24l7 3m-41 7l8 3m-172-5l6 10m-145-7l3 4m-20-1l4 9m-124-22l5 7m-10 5l6 9m-173-17l8 8m-129-15l8 10m-14 9l12 4m-110-14l7 1m-188-8l8 9m-43-2l13 10m-19 1l15 14m-18-28l29 27m-32 2l9 9m-10-13l9 8m-22-14l17 17m-41-13l17 30m-22-27l9 13m-12-42l9 10m-23-9l19 34m-13 18l13 27m4-16l15 28m-6-36l8 11m200 4l13 2m70-6l7 4m64-17l10 3m33-23l9 9m175 19l7-1m113 4l13-2m13 1l13 1m89-15l11 1m128 18l11-1m334-5l9-8m142 53l9-26m-184 14l18-16m-448-1l19-1m-25-1l13 0m-839 2l19 26m1260 17l13-14"/>
<path stroke="#0042c2" stroke-width="2.5" d="M1236 797l4 6m-8-17l4 7m-178-22l5 10m-271-15l6 8m-82-3l7 9m-93 10l5 2m-120-24l17 11m-25 11l13 9m-15-8l11 9m-48 28l30 31m-13-39l30 24m-29-13l21 21m-17-29l30 24m-2-43l24 20m144-6l4 4m-3 14l8 6m92-40l2 6m48 28l7 9m13-32l2 7m41 13l2 10m390-43l8 6m0 3l3 6m40-11l3 6m9 8l6 10m144-24l29-24m-26 30l26-23m-15 47l27-31m-13-1l9-10m18 22l18-19m-11 36l9-8m14 50l22-25m-27 5l14-16m-40 6l21-18m-40 40l10-10m-25-1l28-31m-313 33l7 9m-12 10l4 4m-11-8l7 8m-67-34l3 6m-18 22l7 9m-87-19l2 5m-69-13l-1 12m-51-27l4 12m-60 13l4 7m-50-2l5 7m-60-4l4 6m-19-36l5 6m-23 14l9 8m-49-20l6 2m-12 3l9 7m-79-22l11 6m-27 6l8 4m-45-8l6 2m-33-6l6 4m-93 17l19 14m-27-15l28 23m-44-26l9 8m-34 45l23 20m1-55l21 20m-13-11l11 9m89-14l10 4m25 0l7 3m260 12l5 9m5 3l3 9m2-39l2 11m1 7l3 6m67 6l4 13m57-24l1 8m4-10l1 5m300-11l4 6m209-20l26-22m-8 59l29-27m-25 21l14-15m102 61l9-12m-55-6l17-20m-32 8l18-22m-42 25l14-17m-14 23l9-10m-17 18l10-13m-29-6l22-20m-174 17l7 2m-30 13l8 3m-92 0l2 9m-68-28l2 13m-41-2l3 11m-12 12l4 9m-5-26l6 8m-64-2l4 4m-70-26l1 5m-54 24l2 5m-42-16l4 11m-6-5l4 12m-146-19l3 11m-127-28l5 5m-144-8l12 4m-30 4l12 4m-89-1l25 23m-59-28l26 21m-27-26l32 27m-35 2l16 16m-19-18l10 9m-13-26l20 16m-44 7l21 17m-108 23l18 21m33-40l31 26m-29-7l19 21m-7-47l17 15m19-16l10 10m7-14l31 25m242-5l4 4m47-25l6 4m-3 27l4 6m24-3l6 7m2-27l3 6m79-16l4 6m34 26l4 9m103-35l5 8m69 18l2 10m146-19l6 11m15-36l5 9m21 18l5 6m-2-23l4 4m35-12l9 8m53 12l7 6m250 4l16-20m-13-13l18-26m24 55l14-25m31 48l10-20m-15 27l9-22m-65 14l14-22m-19 15l7-12m-33 16l12-17m-29 27l24-35m-322 27l4 8m-241-6l1 6m-49-2l4 11m-134-31l0 5m-51 28l7 7m-28-5l8 5m-18-10l7 6m-20-29l8 10m-64-14l3 9m-184-5l8 5m-245-4l13 13m-34-9l13 12m-22-16l18 16m-33-7l18 23m-18-28l12 13m-13-22l26 28m-35 34l20 30m284-20l10 4m121-13l8 1m213 0l10 3m170-11l9-1m286 20l17-6m168 18l20-19m-44 35l20-16m-29 9l33-30m-121 12l8-4m-463 9l18 0m-131-4l10 1m-638 29l13 20m1314 2l11-10"/>
<path stroke="#004ccd" stroke-width="5" d="M1385 1097l13-4m-58-1l18-5m-38 24l15 9m-227-5l10-2m-82-21l6 13m-120 0l18-1m-55-8l15-1m-205-4l20 4m-75 12l14-3m-40 21l14-1m2 14l12-2m31 10l9-3m-7-2l12-4m143 17l1-1m44-8l13-16m250 11l7 9m0 1l11 13m423-16l23-13m-624 54l8-11m-65 8l14-17m-175 28l24-14m-162-13l10-1m-203 20l17 10m-175 18l11 11m446-20l16-8m185 13l10 17m106-24l9-13m682 18l9-8m-95 55l14-8m-245 30l26 2m-454-31l8 11m-316 14l27-7m-519-25l16 18m1243 25l24-1"/>
<path stroke="#004ccd" stroke-width="4.5" d="M1581 1108l6-5m-733-3l10-14m-408 32l15 10m-81 3l16 15m13 9l8 6m65-11l17 6m255-34l12-10m403 35l17 17m199-25l15 3m7-8l16 1m177 5l8-5m-148 38l26-3m-36-8l28-2m-150 33l21 7m-114-23l20 14m-126-17l9 10m-213 7l8-10m-610 17l9 7m215-5l18 2m-3 8l26 1m42-3l21-3m840 20l13-2m71 55l17-6m-735 7l22-17m-703 20l9 10m941 5l3 3m425 0l23-8"/>
<path stroke="#004ccd" stroke-width="4" d="M1427 790l9 5m-68 3l6 5m-45-26l7 4m-44-16l5 8m-24 12l3 6m-40-23l6 10m-77 0l5 11m-102 10l1 10m-42-19l4 11m-14-4l-1 8m-45-15l3 4m-5-4l2 6m-58 0l3 6m-97-8l2 5m-55-20l9 7m-51 1l4 3m-125 32l9 3m33-7l7 3m66-3l6 5m69 0l2 9m136 2l4 6m15-40l3 8m32 18l4 10m19-16l4 5m84-1l7 6m78-1l4 7m28-2l3 7m131-40l3 4m51 8l7 11m-93 36l6 9m-44-13l2 10m-62-19l3 4m-29-9l3 5m-15-5l5 11m-116-4l1 7m-29 19l2 5m-101-21l3 6m-60 2l9 9m-33-12l3 6m-17 4l3 6m-240-34l4 5m-53 29l12 5m22 17l8 5m2-4l9 8m37-22l8 5m76 22l3 6m60-3l5 8m58-15l4 8m82-35l4 8m40 13l3 8m46-2l1 12m173-33l6 12m41 5l6 10m169-33l8 4m18 15l8 7m-188 34l4 4m-5-15l3 9m-213 11l3 6m-92-34l3 9m-58 14l5 7m-55-31l2 7m-208 67l9 8m135-9l3 7m96-18l3 4m76-9l0 9m63-24l3 6m0 3l1 11m38-19l7 10m14-18l4 7m245 10l8 5m9-5l4 5m92 50l9 3m-172-9l7 5m-164-7l4 7m-62 0l9 6m-35-16l4 12m-77-13l6 5m-116 9l8 2m-79-7l9 6m-57-27l10 7m-30-1l6 8m-33 16l4 4m-50-18l4 2m-144 49l12 5m-1-23l13 2m64-12l13 2m85 3l13 3m203 8l13-1m5 5l6 0m126-27l7 1m112 12l11 3m50 23l15-6m197-1l7-4m-71 35l17-3m-203 9l11-2m-236-24l14 1m-252 31l17 1m-26-2l28-1m-65 5l26 1m-37-3l13 0m-105-33l16 1m-26 11l18 1m-61 20l14 6m-128-10l21 8m156 6l12-2m8 32l19-5m62-30l13 1m27 2l21 0m10 13l14 1m67 11l12-16m48 3l8 16m112-10l5 9m43-27l5 9m454 59l9-4m-167 4l18 2m-97-28l16 7m-602 13l23-13m-298 15l13 6m-323 31l8 11m671-21l14-11m0 0l2-1m105 20l2-3m265 16l15 10m32-22l13 6m89 5l25 4m52-34l14 0m-218 65l24 11m-322-9l10 12m-360-26l22-2m-197 21l15 6m-59-5l22 11m411-6l22-14m148 16l12 14m6-11l4 4m328-2l25 6"/>
<path stroke="#004ccd" stroke-width="3.5" d="M1302 774l6 5m-103 16l5 5m-53-12l3 13m-87-14l2 12m-33 0l2 7m-65-35l3 9m-296 13l7 7m6 27l7 5m33-27l7 9m56-2l6 9m30 1l5 5m35 5l2 8m24-8l2 6m50-24l6 9m71-8l3 9m51-18l1 8m8 19l3 7m20-36l6 11m152 7l2 7m9-6l1 6m14-23l11 5m-9 0l5 9m-2-16l5 9m62 16l7 6m30 20l7 7m-32-3l6 6m-91 0l4 7m-34-6l3 10m-137-25l3 8m-84 11l5 10m-33-4l5 7m-219-38l6 6m-6 21l5 6m-57-28l5 8m-153 34l4 7m10-5l4 2m319 22l1 6m22-16l-1 11m141-18l4 11m166-15l3 6m116 46l10 7m-16-26l8 4m-188-1l4 7m-49-14l5 4m-5 8l4 12m-90-1l3 6m-47-14l-3 12m-31-31l2 9m-92 5l0 7m-89-22l5 10m-17 16l5 5m-38-13l5 12m-12-15l4 5m-11 7l5 11m-120-34l12 2m101 54l3 5m166-7l4 6m27-7l4 6m104-17l3 11m14 10l3 11m11 0l5 11m6-29l3 9m38 2l3 6m0-24l9 9m84-14l1 5m0 5l6 9m45-7l5 5m13-20l4 9m85 62l8 1m-26-21l5 3m-59-5l3 6m-28-5l6 7m-37-5l10 5m-99 6l9 8m-20-35l9 9m-19 1l3 12m-16-10l5 8m-222 11l9 6m-57-8l10 8m-249-38l6 5m-32 33l5 2m-14-17l7 2m-80-23l10 4m-91 60l11 6m33 5l14 3m9-21l15-1m19-5l12 9m118 13l7 3m61-10l7 1m194-19l7 4m8 20l17-1m15-14l10-2m30 4l8-1m187 6l17-1m51 4l7-3m111-15l7-1m36 25l16-8m59 28l14-9m-146 4l14-5m-128 5l8-3m-42 13l10-2m-151 7l15-2m-71-10l8-2m-42 17l9-21m-97 16l21 3m-135-17l11 1m-118 14l8 1m-45 11l21 0m-47-28l13 2m-13 10l10 0m-34 16l11 0m-82-28l18 6m-130 36l12 7m23 11l25 8m828-23l11 4m99-15l14-1m57 67l14-4m-203 3l19 6m-57-23l25 12m-228-14l10 12m-153-5l9 15m-241 4l20-9m-173-20l22 1m-167 23l16 8m-257 32l6 8m0 0l15 16m258-30l25 9m9-5l16 5m2-16l19 5m72-6l26-2m261 19l15-14m55-14l12 18m-4-20l12 17m105 9l15 16m355-8l20-2m304-30l5-6m-271 45l12-3m-43 20l17-3m-53 5l12 0m-116 7l13 4m-38-11l13 4m-110-9l18 10m-227-23l16 19m-28-6l11 14m-250-30l11-5m-98 35l21-5m-523-1l15 17m159 15l69 0m194 0l44 0m199 0l154 0m0 0l43 0m117 0l104 0m-47-2l7 4m108-14l19 4m298 8l49 0"/>
<path stroke="#004ccd" stroke-width="3" d="M1557 789l14-13m-26 3l14-12m-19 17l15-16m-27 19l19-17m-22 6l10-8m-19 9l10-9m-89 25l7 6m-33-21l7 7m-88-10l4 7m-146 3l3 11m-37-7l6 8m-27-3l5 9m-53-15l6 12m-72-35l3 9m-84 23l1 10m-44-18l6 6m-36-5l5 8m-26-15l2 8m-32-6l2 5m-11-1l9 8m-114 2l10 8m-177-39l5 4m-12-4l9 7m-12 9l21 16m-31-14l11 9m-12-27l23 18m-27 5l27 18m-31-25l18 14m-19-9l20 14m-47 18l29 22m-22-17l27 24m-11-11l18 16m-17-23l22 17m-13-29l23 22m-22-10l9 8m-9-9l20 17m187-35l4 6m52-2l5 6m32-12l8 8m69-3l3 12m17-23l9 7m73 16l2 5m-1-12l1 7m26-19l5 7m100 5l1 6m106 2l3 11m19-2l4 12m23-34l5 6m234-19l13-10m0 34l18-15m-1 22l25-24m-20 26l23-19m-19 8l25-29m-2 34l15-16m15 65l8-7m-46 7l21-24m-33 11l9-8m-23 0l29-25m-435 15l5 5m-66 6l5 10m-72-12l-1 10m-8 6l2 7m-95-36l3 9m-126-1l6 9m-72-5l7 6m-8 16l4 7m-51-37l6 3m-169 2l17 14m-27-17l31 28m-31-22l16 13m-18-21l17 17m-28 6l33 25m-47-25l24 23m-26-53l17 14m-17 0l30 24m-36-8l25 19m-48 16l34 26m-30-44l34 31m-34-19l22 20m-8-30l29 28m-26-1l12 10m-7-34l9 7m-7 1l23 22m-15-41l13 8m-7 4l20 17m-11-10l23 20m-21-20l20 17m-10-33l25 22m97 10l9 7m24-21l9 7m29-17l7 5m222-15l3 9m186 5l0 8m176-1l3 12m265-36l26-22m-13 31l11-14m7 39l7-10m-5-24l11-12m17 72l17-22m-23 23l16-21m-20 23l23-27m-50 25l24-26m-30 28l12-14m-14 17l11-11m-14 0l18-24m-163 11l7 7m-8 29l5 3m-38-21l4 6m-108-19l9 8m-68-12l7 9m-121 5l4 9m-48-14l3 13m-67 8l1 11m-100-9l4 12m-132-32l9 7m-113-4l7 4m-28-9l7 4m-56 1l9 7m-13-15l4 3m-176-11l18 15m-22-11l27 23m-29 3l17 14m-20-20l20 22m-28-23l23 22m-33-22l27 24m-101 21l21 18m-21-17l22 19m6-30l13 12m-5-5l31 27m-13-53l29 28m-18-14l28 28m-27-30l12 11m-7-6l27 24m-20-35l25 23m-24-17l30 27m-29-9l9 8m-4-11l25 26m-23-23l24 21m-20-30l26 25m-14-38l10 7m-7-11l12 12m-1-1l17 15m-8-11l15 14m101-18l7 4m21 15l9 7m50-40l8 7m17-7l9 8m23-3l10 7m83 23l3 4m113-18l4 8m20-5l5 11m91-15l2 12m115-19l5 8m118 15l2 9m97-8l8 7m17-16l5 3m3-21l8 6m152 12l22-36m-20 11l16-23m-7 46l18-24m-9-2l16-20m-8 54l20-23m-19 10l18-19m-15 19l20-22m7 0l26-30m-16 48l22-28m-21 19l15-20m4 48l13-18m-1-4l11-19m42 62l8-14m-73 12l20-25m-26 21l11-23m-44 14l25-32m-31 35l22-26m-23 24l10-13m-220 16l10 4m-19-10l6 5m-69 18l5 6m-9-27l5 8m-209 7l6 9m-74-6l4 10m-33-1l6 8m-9-2l7 4m-82-15l6 11m-26-31l1 6m-190 17l5 10m-58-29l6 7m-38 6l5 2m-109-9l5 4m-151-19l26 25m-57-25l27 24m-27-11l20 19m-24-18l17 14m-19-23l17 13m-17-8l16 15m-31-8l16 10m-20-23l15 13m-30-7l10 10m-14-14l16 17m-23-7l28 25m-28-11l17 14m-26-21l27 24m-31-39l17 17m-20-25l19 17m-27-2l20 22m-25-11l18 20m-20-16l16 16m-17-19l7 9m-42-29l22 32m12 24l12 20m-3-31l12 15m0-19l27 33m-27-30l9 11m309 7l7 2m30-21l10 6m80 12l16-3m127-14l14 4m19 9l6-1m32-23l10 3m41 0l6 1m-6 22l16 2m83-20l13-1m38 2l12 4m35 12l13-4m37 14l13-8m10-12l8-3m118 10l15-4m129 14l18-17m18 19l21-19m1-16l16-18m34 49l19-35m8 39l21-34m56 42l5-24m-154 26l10-10m-29 43l9-8m-16-4l11-11m-17 18l20-21m-25-6l30-26m-30 33l31-26m-32 19l32-27m-37 22l27-27m-41 35l12-9m-790 5l18 4m-501 16l12 15m-37-3l6 15m-118 23l4 16m1633-47l6-31m-2 58l14-31"/>
<path stroke="#004ccd" stroke-width="2.5" d="M1518 790l21-22m-34 20l24-20m-158 23l4 12m-27-38l4 6m-26 7l5 8m-44-15l4 9m-8 11l8 9m-124-3l0 7m-4-12l3 4m-137-2l-1 12m-152-20l0 7m0-4l3 6m-64-23l8 9m-33 9l4 6m-286-27l16 14m-41 18l28 22m209-22l7 10m75 20l5 7m7 1l4 3m14-12l9 9m158-27l3 7m78-7l2 12m139 11l0 5m132-2l5 9m161-36l29-24m22 34l14-13m-319 41l3 12m-43 9l3 4m-49-1l2 8m-69-35l1 7m-9-10l3 11m-18-6l0 7m-62 17l3 10m-69-13l4 11m-33-1l3 9m-18-30l3 6m-97-7l4 10m-104-9l3 5m-42-16l6 9m-41 5l8 6m-16-16l9 9m-139 1l18 16m-34-12l24 21m-26-44l9 8m-17 27l18 13m-33-45l14 11m-23 10l15 11m-37 35l14 14m3-11l12 11m-2-43l25 19m-3 5l16 15m-8-41l9 9m113 14l11 7m160-7l5 12m68 0l2 5m110-37l5 6m189 22l2 7m47 0l4 8m20-17l3 9m71-36l7 9m77 1l5 3m-1 2l5 4m152-20l11-11m12 27l22-22m-4 42l11-12m-7-19l13-13m2 71l29-34m-64 13l10-9m-264 20l4 6m-166 2l8 10m-111-32l3 7m-30-7l5 10m-24 21l2 12m-27-17l6 10m-83-29l3 10m-15-13l3 7m-43-3l5 6m-47-12l6 9m-59 3l5 9m-64-19l5 4m-8 16l8 7m-14-26l5 3m-275 17l24 27m-26-25l10 9m-17-27l21 15m-34-6l16 14m-25-10l36 30m-135 26l19 22m44-43l22 18m-3-4l12 11m4-27l23 20m3-3l29 27m-19-56l20 19m-5-22l28 25m106-17l7 2m2 17l10 7m0-21l10 2m71 17l7 7m66-18l9 7m9-5l3 11m47-8l5 7m42-8l2 7m31 0l5 8m-1-23l5 10m1 5l0 7m16-30l-1 6m2 5l2 9m39-28l2 6m62 2l3 8m148 5l5 6m132-11l4 4m122-21l9 7m136 6l17-23m-16 32l27-29m-20 38l22-24m-13 18l28-29m-11 39l22-23m-22-13l18-22m-11 55l11-15m-9-2l25-26m-22 13l13-15m20 36l14-24m-13 32l12-23m-11 3l11-15m-7 26l18-25m-1 26l8-13m-26 29l14-27m-262 55l8 1m-79 5l13 0m-27-11l11 5m-87 2l7 5m-15-31l2 5m-46 18l7 8m-100-25l3 7m-4 1l2 7m-22-5l8 11m-55-4l3 5m-86-26l4 5m-14 12l6 6m-32-20l4 9m-305 1l6 6m-105-6l10 5m-24-2l7 3m-198-24l20 18m-33-8l9 8m-11 9l11 11m-25-15l11 9m-14-18l12 14m-16 0l10 14m-11-12l16 18m-32-16l24 27m-25-49l13 28m8 27l12 16m238-9l15 5m15-8l10 4m377-2l15 1m59-19l10 3m8-10l9 1m-7 7l13-3m12-1l6 0m320-3l8-5m2 18l6-5m167 10l27-24m-21 30l10-9m149 3l4-20m-155 61l16-16m-237-4l8-4m-1086 20l21 24m-18-7l16 23"/>
<path stroke="#0056d6" stroke-width="12" d="M839 991l27-7"/>
<path stroke="#0056d6" stroke-width="9" d="M871 822l21-3m-32 50l19-2m-33 81l17-3"/>
<path stroke="#0056d6" stroke-width="7" d="M833 995l17-5"/>
<path stroke="#0056d6" stroke-width="5" d="M1317 1090l13-3m-267 5l18-2m-446 62l16-3m469-14l12 16m680 41l11-14m-224 1l21-12m-532 10l17 21m-79-28l10-17m-88 32l12 20m-59-32l8-9m-24 8l4-5m-483 28l17 11m-80-38l20 18m-27-25l7 7m-61 59l13 12m54-24l22 17m94-13l20 8m149 8l14-2m211 0l22-18m-16-3l21-19m19 32l7-7m256 19l9 8m533-22l17-14m18-7l12-13m-112 68l19-12m-995 33l14-3m-380-29l10 9m-120 28l8 8m1080-6l21 8"/>
<path stroke="#0056d6" stroke-width="4.5" d="M1496 1086l3-1m-137 17l22 8m-106-24l15 13m-483-7l5-6m-15 4l4-4m-303 65l26 9m993-15l9-3m-5 7l6-2m20-22l21-11m30 32l9-6m137 44l4-4m-339 4l22 2m-983 12l11 5m-81 14l11 7m195-22l28 0m56 23l19-5m-2-7l21-7m185 26l15-14m376-3l16 8m2 8l22 10m461-2l13-13m13-24l17-22m-68 82l18-16m-289 21l28-4m-224 16l23 8m-523-18l22-13m-146 18l22-5m-118-9l28 1m-48-3l20 2m-111 2l23 8m1213 30l17-11"/>
<path stroke="#0056d6" stroke-width="4" d="M1210 766l5 11m-37 7l5 10m-56-21l5 9m-136-12l3 12m-66-9l1 9m-4 11l2 10m-55-14l0 7m-21 1l3 12m-241-37l7 5m-19-10l11 2m-9 56l10 6m32-4l9 7m-2-28l7 3m-3 27l6 6m120-12l3 4m192-25l-1 9m170 21l1 7m20-16l6 11m29-5l6 5m50-24l3 5m29 6l5 8m-3-34l8 8m-8 27l5 11m121-23l8 5m-121 18l5 11m-15-19l6 9m-12 2l5 7m-87-8l4 5m-130-6l2 13m-6 3l1 7m-24-29l0 8m-109 7l4 7m-43-2l1 12m-21-12l4 11m-35-3l3 8m-20-28l8 9m-88 16l6 6m-76-5l5 3m100 33l4 9m83-5l3 4m1-13l3 8m4-32l4 7m63 6l6 12m79-9l2 7m87-11l0 5m48 6l4 11m132-1l4 4m20-23l5 5m20 26l4 5m-7 5l8 8m-73 10l5 9m-52-9l5 9m-46-27l5 9m-44-11l6 8m-155-23l1 11m-30 21l5 10m-39-11l2 9m-28-37l0 9m-77 1l3 6m-72 3l4 4m-91 0l12 5m-33-18l5 7m-35 22l8 8m100 20l4 8m12-29l6 11m-3-3l6 8m136-16l5 6m23-16l-1 12m49 18l1 9m53-23l2 12m278 8l4 5m11-30l10 7m27-12l6 4m16 2l7 5m6-7l10 9m-196 41l4 4m-28 4l5 4m-35 0l8 5m-36 1l9 1m-103-30l1 12m-12-17l4 12m-122-3l3 11m-43 9l5 5m-55-33l4 5m-249 20l7 2m115 42l18 2m27-18l12 1m57-14l8 6m75 5l7 1m23-11l10 2m204 10l9-3m65 12l15-4m55-15l11 0m-9 15l7-3m108-18l6 1m88 62l8-6m-76-17l9-3m-111 20l21 10m-165-11l15-5m-259-7l9 2m-165 21l20 3m-52 1l25-1m-35-16l8 2m-32 10l13 0m-26-17l7 3m-57 24l25 1m-68-4l27 1m-33-13l15 2m-69 51l20 2m24-30l24-3m51 1l18 1m-2 18l6-2m35-24l17-11m-10 23l15-11m29 11l16 0m12-1l3-2m5 0l13 1m479 34l22 10m-715-14l26-4m-33 18l14-1m-310 29l9 8m176-9l19 5m21-1l19 3m604 16l22 17m228-18l19 1m71 15l20-4m85-34l19-11m53 64l20-14m-42 28l22-14m-200-3l16-2m-48 24l14 0m-56-20l16 2m-181-15l13 7m-417 27l15-11m-91-1l22-11m-91 15l12-3m-258 3l19 7m121 21l22 0m231 5l9-5"/>
<path stroke="#0056d6" stroke-width="3.5" d="M1374 768l8 9m-126-12l8 8m-41-4l3 6m-64 0l3 4m-32 2l2 6m-3-11l5 4m-42-12l0 9m-6-8l4 8m-48 18l3 7m-34-8l2 7m-15-35l5 5m-110 19l5 8m-58-33l5 11m-269 8l9 8m86 38l9 7m43-20l6 5m57-17l6 6m23 12l8 9m115-29l6 8m156 21l2 8m13-8l6 9m1-9l3 8m65-19l5 11m53-18l5 11m7 12l8 9m13-43l9 7m0 7l4 9m35 49l3 6m-12-17l1 5m-12-28l6 3m-18 0l5 8m-245 1l4 13m-35-13l6 10m-29 7l1 7m-1-6l2 11m-146-19l4 11m-28-16l3 10m-42-7l3 6m-58 12l2 8m-73-24l8 4m-57 7l6 6m-23-38l5 4m100 44l7 7m61 18l7 8m25-5l4 9m31-14l4 8m6-27l7 9m3-3l3 7m24-8l3 11m81-12l2 11m0-17l3 8m-2 14l1 7m56-25l3 6m8-13l2 10m99 12l2 7m198-4l8 6m91 35l5 7m-83-11l5 5m-133 3l5 4m-56-39l4 8m-16 10l2 7m-82 6l0 7m-3-27l2 5m-20-2l2 9m-68-25l-1 12m-2 14l3 6m-90-1l4 8m-17-32l4 8m-210 17l5 4m-17-29l9 6m-152 28l8 4m96 4l7 8m46 12l4 4m12 0l12 5m27-39l6 11m141-11l1 9m37 7l1 5m73-20l-1 13m52-2l7 11m4 8l6 10m89-12l2 5m5 1l4 4m58-22l7 6m140-7l9 9m102 39l7 3m-67-11l7 7m-128-15l6 3m-63-6l7 10m-23-8l4 4m-70 18l5 5m-23-23l2 5m-51-14l2 6m-68 29l9 2m-43-24l5 9m-24-22l1 8m-33 13l6 7m-173 6l9 5m-124-3l10 6m-17-25l9 6m-13 36l13 2m139-16l7 3m-3 17l16-1m83 6l17 0m52-25l14 0m52-2l14-4m1 28l8-1m6 7l11-4m63-11l13-1m53 19l11-4m30-21l10-2m-10 11l14-7m125 20l14-4m114 27l7-3m-49 8l16-6m-34-13l7-3m-120 18l10-3m-27-10l7-3m-53 6l16-8m-79 0l10-4m-135 8l7 12m-47 8l8 15m-160-19l6 15m-83-11l12 1m-73 3l14 2m-59-23l17 2m-28 26l24 0m-63-15l16 0m-22 14l22 0m-238-26l18 11m593 30l9 15m-5-25l9 14m533 10l3-2m-38 38l18-10m-78-4l3-1m-357 30l9 8m-38-37l15 16m-69 9l3 3m-244-2l15-13m-490-19l12 10m-119 55l16 15m265-3l14 2m5-39l26 1m181 13l8-5m352 0l12 11m206 4l27 7m71 5l12 0m175-3l21-13m-289 25l4 1m-249 6l9 8m-30-21l17 17m-797 16l13 9m-93 6l9 8m803 2l117 0m-81-5l8 6m611-1l122 0"/>
<path stroke="#0056d6" stroke-width="3" d="M1503 787l22-19m-208 18l7 10m-66-13l3 4m-226-13l3 9m-23 11l1 9m-13-12l3 9m-109-2l3 12m-21-18l1 9m-7-34l1 8m-105 21l2 5m-53-8l3 8m-18-11l6 5m-71-23l5 8m-115-2l20 17m-22-22l11 8m-15-8l15 9m-23 16l26 21m-28-41l29 24m-37-33l15 10m-26 5l17 15m-30 27l30 29m-23-24l26 19m-19-12l11 9m-8-39l9 7m-9 4l14 11m-12-6l26 22m-22-16l24 21m-22-20l33 26m-30-48l16 14m-1-15l16 12m-3-8l10 9m131-20l4 3m95 13l2 7m41-5l5 10m-1-22l5 6m81-4l1 5m12-4l1 7m9 17l4 8m106-19l3 6m17 10l5 11m25-25l3 7m8 1l4 12m147-11l7 11m1-45l3 9m1 27l5 7m77-16l3 6m169-20l30-29m-15 37l25-23m1 27l16-18m14 64l16-17m-24 22l22-23m-38 8l12-12m-20 13l9-11m-10 17l31-29m-45 31l16-17m-30-11l9-10m-10 12l8-9m-128 40l4 5m-99-36l7 7m-82-7l6 7m-129 23l3 8m-81-28l-1 10m-52-20l4 12m-77 12l2 6m-101-27l3 8m-38 6l5 8m-78-26l11 5m-90-8l5 5m-24 30l6 4m-93-32l11 9m-30-6l30 23m-31 0l25 20m-26-19l32 28m-40-43l24 21m-26-39l25 20m-29-7l18 13m-24-20l22 21m-27 5l24 19m-28-13l24 18m-24-36l10 7m-25-4l22 18m-38 24l17 17m-16-13l9 9m-2-8l27 24m-26-43l18 16m0-3l9 8m-7-28l9 8m-1 11l12 11m-12-35l30 29m-27 10l9 9m-8-9l21 19m-19-20l20 20m-17-50l29 25m83 3l11 6m23-23l7 5m109-24l6 10m127-1l4 10m29-4l4 6m53 7l2 7m87-23l-1 11m6-20l2 6m11 21l2 9m0-29l2 10m59-13l4 6m37 17l3 5m27-20l4 3m228 15l9 5m78-24l25-26m-17 15l24-22m-3 23l30-30m-30 52l16-18m92 65l9-12m-39-17l8-11m-17 32l26-31m-44 42l14-17m-37 4l23-28m-24 40l8-11m-10-8l14-15m-22 25l9-11m-298 8l6 7m-25-3l4 7m-24-13l7 6m-15-12l4 3m-108-6l3 7m-137-15l1 9m-105 13l-1 7m-10-21l4 8m-85 12l5 5m-33-35l4 7m-51 27l10 7m-125-22l9 6m-146-19l11 11m-11-18l17 15m-32 1l10 9m-25 2l28 23m-47-40l25 20m-26-5l30 29m-43-16l26 24m-37-25l27 23m-100 14l20 22m-12-22l11 9m18-9l26 19m-25-40l22 16m-19 3l12 10m6-25l20 20m-14-4l8 9m-5-35l22 21m12-17l29 25m-24-13l12 11m-8-31l18 19m-8 14l14 12m99-45l6 3m34-5l6 4m-1 6l7 6m-2 8l6 6m75-20l6 1m85 1l7 9m28 15l6 8m1-34l7 10m221 16l5 7m81-44l2 13m27 23l9 8m-4-17l2 7m46-21l3 8m40-8l4 5m48 12l3 5m284-16l20-21m-5 26l14-17m-12 24l10-13m-6 10l11-14m-8 4l17-20m-11 29l18-25m-17 20l12-14m24 23l15-22m-2 29l12-21m-3 14l12-27m-9 32l12-20m-3 19l8-13m-30 53l15-29m-34 8l18-36m-39 28l19-31m-20 35l18-24m-26 34l12-16m-15 5l16-21m-182 35l9 4m-212-21l4 8m-12 5l4 4m-4-7l4 6m-160-16l6 8m-106 7l7 7m-133-1l9 8m-48 2l10 6m-31-28l4 6m-22-9l6 7m-106-15l9 6m-201 18l6 2m-68-28l22 18m-31-3l16 12m-18 4l28 22m-109-50l20 19m-40 8l16 15m-18-32l13 12m-21 0l19 21m-23-18l28 31m-35-30l22 23m-29-40l12 15m-15-3l15 21m-23-16l16 21m-31-20l21 29m-31-49l15 23m-62-11l7 25m-21-22l3 24m-24 8l5 36m73-54l12 23m-7-16l6 15m4-21l13 23m-10-3l19 30m-17-41l10 21m-8-23l11 16m-10 3l10 22m-5-41l19 26m-18-26l18 31m-12-30l16 25m-11-18l22 34m-19-50l26 33m-22-35l9 10m232-9l9 7m4 21l7 2m62-23l8 2m26 17l16 4m112 7l17 3m-11-38l14 6m34 30l13 1m80-39l5 3m305 11l14 0m172 14l6-4m124-1l9-8m6 20l11-8m34-14l32-28m-11 31l19-26m31 11l18-29m8 50l11-22m48 47l2-12m-187 32l22-21m-38 17l28-26m-43 3l10-10m-421 14l7 0m-847 5l17 19m-161-23l2 32m-12 9l3 19m4 3l2 21m20-15l2 11m1424-29l21-23m-13 26l19-22m-3 23l22-24m79 31l12-28m66 29l8-23m-1573 36l5 11"/>
<path stroke="#0056d6" stroke-width="2.5" d="M1512 788l23-20m-100 4l12 5m-343-7l6 9m-195-12l2 7m-58 20l2 5m-24-15l6 7m-115-11l8 7m-26-15l6 3m-219 12l28 23m-38-1l28 26m-16 0l26 25m-14-41l12 9m5 0l11 10m65-28l10 3m10 16l8 1m-2 4l6 4m19-4l7 3m290-8l3 7m52-20l4 9m2 14l2 12m5-37l1 5m46-13l5 8m9 19l3 11m195-44l3 5m162 26l6 5m48-32l24-18m-7 33l20-17m-1 20l19-17m-3 16l13-11m22 65l22-24m-42 19l14-16m-19-5l20-17m-24 45l14-14m-211-17l4 9m-147 1l3 8m-60 15l5 12m-161-16l4 4m-15-34l2 6m-31-7l4 12m-6 9l1 7m-50 5l3 5m-115-23l4 11m-161 5l7 4m-145-22l24 18m-62-23l21 15m-36 9l30 26m-23 4l28 22m-26-28l10 9m-1 10l15 10m-13-18l18 15m175-44l4 5m173-7l3 7m114-3l1 6m77 0l3 11m6-16l1 5m180 3l5 10m22-21l6 7m55 21l6 8m12-14l3 6m124-23l7 3m100 29l25-26m-21-9l26-21m-25 30l19-16m0 23l12-14m-1 26l20-21m23 43l15-15m-35 22l18-21m-226 0l7 2m-8 22l10 6m-64-19l9 7m-22-6l11 7m-33-1l5 8m-197-3l4 11m-30-5l2 6m-65-10l2 11m-17 3l-3 8m-94-14l2 7m-39-33l3 12m-80 10l9 7m-37-7l3 4m-130-5l5 4m-224-16l14 11m-20 7l32 26m-37-29l26 22m-37-49l32 27m-106 39l9 8m5-4l18 18m-11-17l8 8m17-21l28 22m-6-14l20 23m3-36l15 13m-4-5l23 19m-23-26l16 15m204-7l5 5m20-8l7 5m29-5l4 4m151-20l2 8m0 1l1 7m30 16l3 7m69-8l3 6m46-31l2 8m35 13l3 9m19-30l4 12m34 10l3 6m23-25l3 5m44-8l4 10m160-13l3 6m25-2l6 7m34 10l7 10m10-5l7 3m134-38l20-30m-13 46l18-22m-9 37l13-15m-4 13l11-14m-7 22l19-28m27 20l13-23m-5 8l8-16m-8 32l16-21m-60 33l20-32m-29 31l24-30m-249 47l7 6m-372-11l0 9m-11 9l8 6m-10-36l0 6m-53-1l2 6m-71 1l4 9m-5-6l3 5m-20 8l7 2m-46-3l8 7m-37-5l13 3m-78-33l4 7m-132-3l12 5m-262-6l19 15m-32-12l10 10m-31-2l12 13m-17-8l13 10m-13 2l10 10m-12-31l27 24m-34-31l23 19m-23 0l20 16m-47-15l13 13m-15-4l20 25m-38-28l13 18m-18-30l9 14m-120 37l0 26m93-39l10 22m-1-33l17 34m-10-19l4 11m1-29l8 12m-1 8l13 20m-3-36l17 23m-1-28l19 23m20-12l32 23m314-17l6 1m1 16l12 2m8-2l11 1m43-21l8-1m186 15l13 0m129 0l14-1m6 0l14-3m51 8l13-4m54 9l17-1m123-23l10-3m42 25l18-5m81 4l15-13m-7 13l21-18m105-2l7-13m69 29l12-36m-8 6l4-14m33 87l4-11m-14-4l10-41m-104 28l20-32m-57 58l9-10m-71-14l18-16m-31 17l18-16m-31 17l19-17m-29 9l9-8m-230 10l10-3m-127 5l18-3m-231 4l16-3m-685 8l26 31m-79-30l21 29m-97-42l7 27m0 25l18 41m13-35l5 19m63-29l13 17m1264-15l27-23m-19 27l18-18m-15 20l23-24m66 52l9-20"/>
<path stroke="#0060df" stroke-width="6" d="M859 869l15-2m-15 51l13-2m-27 33l14-2"/>
<path stroke="#0060df" stroke-width="5" d="M1524 1115l18-8m-210 2l9 0m-120 9l15-5m-112-24l11-1m-14 13l9-4m-27-3l10-2m-308 8l19 4m-32-10l16 3m-104 22l14 0m-136-5l10 4m-75-30l13 4m-34 23l22 10m74 31l14 0m1112 15l6-6m-387-2l19 7m-901-8l9 5m-185 17l11 12m115 24l8 5m344-4l10-6m835 17l24-12m-269 28l9 3m-270 27l15 13m-161-47l9-10m-64 19l13-12m-322 13l22 0m-275-5l21 15m-77-10l12 11m-52 16l11 11m1219-12l22-1"/>
<path stroke="#0060df" stroke-width="4.5" d="M1482 1111l12-2m-190-24l15 11m-145 11l15 19m-344-15l9-11m-445 32l14 11m1087 4l10-2m147 38l14-11m-211 7l18-1m-701-4l8-6m-481 11l10 10m200 36l24 4m36 3l12 1m45-11l24-4m189 17l1-2m742 16l14-6m-375 6l24 14m-26-7l16 9m-412-23l13-10m-154 38l27-8m-265 12l19 7m441 0l10-9m808 27l12-8"/>
<path stroke="#0060df" stroke-width="4" d="M1322 775l8 7m-212 4l-2 11m-13 2l6 8m-39-33l1 11m-74 6l5 12m-25-24l1 9m-11-5l1 7m-39-8l1 8m-6-2l3 9m-109-24l2 8m-38-12l6 6m-20 16l7 9m-15-36l2 12m-7 3l5 8m-97 36l5 4m149-16l8 6m28 4l8 10m13-25l1 6m6-6l2 7m4 18l6 11m105-30l-3 8m53 15l0 7m73-35l3 12m25 18l3 6m35-33l3 6m12-6l4 11m171 30l3 5m-118 18l3 5m-121-12l3 12m-8-6l5 11m-201-44l6 10m-246 1l5 5m-163 37l7 7m89-20l5 3m15 28l7 9m72-30l6 6m47 23l8 8m195-26l4 9m39-6l3 12m51-23l4 11m25-13l2 6m95-13l7 11m121-3l6 9m38 18l5 6m28 5l5 3m-244-9l5 10m-61 11l1 6m-112-17l3 10m-178-15l2 6m-252-15l7 1m3 63l7 3m31 0l10 7m196 2l5 9m74-26l4 12m57-16l1 10m1-15l0 9m9-19l-1 9m32 13l5 7m360-27l4 4m61 44l11 5m-28-13l6 4m-144-5l2 7m-94 29l11 5m-16-34l6 8m-95-1l1 8m-18-3l4 6m-233-11l11 6m-71 9l9 7m-33-28l4 5m-86 19l9 7m-70-11l4 2m-63-21l7 2m-61 26l8 1m-20 24l13 4m49-21l13 4m3 15l14 5m35-2l9 1m56-2l9 1m129-26l14 4m44 20l8 1m54-19l6 4m283 23l10-4m208-13l15-4m-441 54l15 0m-124-21l1-2m-160 28l24-1m-44-15l15-1m-20-9l16-2m-46 30l13-1m-58 2l15 1m-160-17l14 5m208 25l16 0m-11-4l17 1m138 26l6 12m478-23l14 3m275 40l6-5m-584 0l11 12m-64-32l14 20m-215 5l15-14m-602 8l12 14m-122-20l15 21m182 38l2 1m596-31l16-20m147 33l9 8m45-11l14 12m378-8l17-7m170 22l20-20m-556 34l11 8m-40-13l11 8m-404 47l23-12m134 2l13-1"/>
<path stroke="#0060df" stroke-width="3.5" d="M1405 773l9 6m-223 15l7 9m-189-35l2 10m-84 19l5 10m-20-37l5 12m-32 3l4 8m-132 23l6 7m0-19l3 5m12 6l4 7m66 13l4 8m10-17l4 10m15-9l5 8m72-22l4 12m8-12l3 10m8 9l4 10m-2-38l1 12m13 13l2 7m49-28l3 13m177 9l1 5m-1-5l6 5m20-13l4 9m147-17l7 10m-121 54l3 5m-11-38l3 6m-48-2l8 8m-86-16l4 5m-114 4l2 9m-63-12l4 8m-20 3l1 6m-51-9l3 5m-43-18l6 11m-180-13l7 7m-19 18l5 3m-48-11l11 3m-45 12l6 5m-69-14l10 5m54 41l11 6m65-22l8 7m5 16l4 8m20-19l3 8m34-11l4 5m4-7l6 5m124-10l2 6m7-6l2 6m68-7l4 5m-2-12l4 6m11 20l-2 6m67-20l6 6m29 13l2 10m45-17l2 5m145-32l6 7m12-1l3 5m13-15l10 8m5-4l6 1m52 23l10 6m1-31l5 5m17 22l4 4m-24 40l4 4m-90-10l5 5m-199-18l6 11m-15-24l2 9m-92-6l-2 12m-6 19l7 9m-120-45l1 7m-72 25l5 5m-87-2l4 6m-120 25l6 4m121-30l6 7m17 24l6 7m118-29l4 6m35 15l2 8m15-2l2 12m93-43l5 9m78-3l1 5m14-16l5 10m83 12l6 11m11 25l9 5m-15-4l11 7m-68-21l6 7m-121-3l3 7m-52-4l3 5m-5-6l6 10m-90-15l0 9m-114-10l2 6m-43 17l4 5m-30-15l4 6m-112 4l11 6m-172 8l6 3m220 20l10 3m114 4l18 1m255-25l11-2m169 14l13-7m11 21l9-4m8-3l18-9m35-13l13 2m14 20l14-3m-1-4l10-9m-56 57l14-7m-66 13l12 0m-73-9l17-5m-35 18l19-3m-19-9l15-7m-244 17l11-1m-67-13l13 0m-288 15l19 0m-20-10l18 0m-19 1l12 0m-40-4l14 0m-107-18l9 4m-75 38l27 7m62 5l24-3m63 2l16-8m504 28l9 8m97-44l16-6m346 81l21-19m-401-15l16 8m-289 2l9-16m-167 24l15-16m-340 18l22 3m-129-18l22 11m63 55l10 2m-2-1l12 2m337-23l16-15m140 24l15-21m91 34l8 7m340-30l12-2m23 16l18-5m-428 34l21 18m-22-19l15 13m-376-22l9-5m-123 4l25-5m-240 11l20 9m-29 7l13 5m-201-21l17 17m-66 9l7 7m-30 13l44 0m217 0l54 0m184 0l41 0m0 0l158 0m633-18l26-4m78 22l66 0"/>
<path stroke="#0060df" stroke-width="3" d="M1540 789l22-19m-28 12l16-13m-163 5l7 5m-262-10l5 11m-157 1l7 8m-28-1l5 11m-22-26l2 5m-11-4l3 7m-183-11l5 10m-75-7l4 4m-16 14l7 10m-141-29l20 17m-38-7l12 7m-26 10l29 21m-35-32l20 16m-52 29l19 16m8-20l29 22m-29-41l26 21m-23 5l25 20m-21-42l24 21m-21-12l13 10m-13 6l30 26m-9-32l18 16m87-42l10 6m131 13l5 10m20 2l6 11m59-47l2 6m240 12l1 6m59-7l4 11m126-14l6 7m202-12l32-27m-22 18l16-13m2 28l16-15m15 28l24-28m-19 63l11-11m-24 23l21-21m-21-3l12-10m-26-3l25-28m-25 57l19-17m-27-11l24-24m-29 43l28-26m-33 41l30-30m-170-5l7 10m-13 18l5 4m-233-20l1 5m-70 4l0 13m-27-5l0 5m-210-13l3 6m-30 2l8 10m-31-22l7 7m-57-11l4 8m-8-14l6 10m-67-10l5 2m-35 24l11 5m-68-34l6 4m-81-3l10 8m-10 20l24 21m-34-50l30 23m-31-19l31 29m-33-24l9 8m-14 9l20 17m-20-13l16 12m-18-44l27 22m-30-20l30 22m-31 8l26 24m-27-20l32 21m-35-52l31 26m-76 38l12 10m-6-13l9 10m-1-22l12 11m1-23l14 15m-13 15l19 18m-11-42l32 28m-19-19l25 21m-25-24l28 23m63-26l5 3m71 5l5 8m104 0l4 5m116-8l3 4m282-18l5 7m109 10l5 8m252-8l22-21m-13 22l10-12m10 12l21-24m63 57l10-12m-22 10l14-18m-19 27l19-26m-41-1l19-22m-24 24l25-28m-49 30l11-12m-25 28l19-20m-20 22l16-15m-24 6l18-16m-27 3l28-26m-32 39l17-20m-177 27l6 5m-108-22l7 9m-102 15l2 10m-136-6l2 8m-318-25l9 5m-109-12l7 5m-169-8l18 14m-33 16l19 18m-38-46l16 15m-17 6l22 21m-22-49l13 12m-14 11l9 8m-12-21l16 17m-18-19l21 22m-26 0l32 28m-33-47l17 16m-28-17l9 8m-104 55l10 11m43-21l23 22m-19-22l12 11m-11-7l23 22m-16-14l13 13m1-28l29 25m-11-34l15 15m-11 0l30 27m-20-26l27 26m-27-34l13 12m186-29l8 2m170 2l8 7m96-1l4 6m73 1l2 7m8-17l2 6m24 5l1 9m22-31l4 9m269 12l4 10m60-28l6 11m67 25l7 6m100-26l24-25m-16 12l28-31m-20 27l20-25m-17 49l22-33m-15 41l21-19m-6 22l10-13m3-1l22-26m-9 42l21-27m-6 13l12-16m-8 6l18-29m-15 27l13-20m-7 25l20-29m-17 42l15-26m-7 22l18-29m3 41l10-19m1 10l5-8m31 48l5-13m-52-9l15-22m-59 52l6-9m-7 4l6-10m-10-13l9-14m-22 4l9-13m-148 19l10 5m-296-10l8 7m-144-5l3 6m-79 0l6 7m-10-16l1 11m-3 4l4 10m-21 7l11 5m-12-5l6 8m-44-40l1 6m-76 23l6 7m-92-34l6 9m-25-5l8 5m-46-1l8 8m-30-12l5 4m-19 5l6 4m-168-8l5 3m-151 2l10 9m-21-4l23 22m-37-5l29 25m-53-53l18 21m-18-7l22 18m-26-5l14 14m-21-27l21 26m-26-22l22 26m-33-28l18 22m-106-32l6 27m-21-9l1 23m-7-19l0 36m-25-60l3 22m0 32l2 12m7-38l2 20m2 8l1 18m1-37l3 40m-2-17l3 32m3-65l3 17m16 14l3 22m-2-19l1 22m2-47l3 42m30-24l13 37m0-44l12 38m-9-54l10 24m-5 2l9 27m-5-49l5 10m7-15l10 19m-6-14l7 10m-3 1l19 28m-5-42l8 9m-1-10l27 32m-26-13l15 19m-14-32l17 20m-2-22l24 24m195-10l12 6m32-22l8 0m62-5l10 3m60 2l5 3m29 25l13 1m55-36l12 6m32 5l13 3m26 8l8 1m-7 8l6-1m1 3l14-2m264-15l17 0m62 7l12-2m-8-14l12 3m80 0l10 0m173 18l10-8m-10 18l32-21m-24 21l32-27m5 10l19-18m-17 28l10-8m57-8l7-10m2 32l13-18m117 18l6-28m-111 69l8-13m-16-15l13-18m-44 22l17-17m-20 8l16-18m-28 37l26-22m-84 21l10-10m-18-12l9-8m-14 27l13-9m-22-4l31-22m-36 17l17-16m-442 15l18-2m-822 13l19 23m-30-8l10 13m-26-31l13 15m-18-3l20 25m-32-26l7 10m-17-28l19 28m-19-21l22 36m-111-16l4 28m-40-7l5 33m6-31l7 31m5-12l5 20m3-28l4 28m21-47l8 33m10-16l10 32m-8-38l9 27m26-27l8 20m6-32l14 29m1294-30l16-13m40 44l19-19m-14 20l19-19m31-7l15-31m4 54l8-19m-2-7l16-36m13 62l8-14m50 17l13-29m-2 40l5-12m-53 12l5-14m-18 15l7-14m-10 10l6-11"/>
<path stroke="#0060df" stroke-width="2.5" d="M1524 798l16-15m-226-5l7 9m-43-2l8 9m-187-16l5 12m-29-11l2 8m-159-17l3 6m-41 21l3 11m-20-27l4 9m-40-16l4 8m-175-14l10 5m-65 10l7 7m-88-8l26 22m-27-25l26 22m-59 9l19 15m-5-1l20 16m2-29l19 14m-5-9l12 10m25-1l11 3m49-4l7 6m83-22l9 5m77-4l7 11m62 15l7 10m34-17l6 11m32-20l9 8m0 8l4 4m2-23l1 11m3-17l8 10m47 9l1 9m33-14l2 7m74-15l4 7m140-15l4 3m25 2l4 5m188-13l22-17m-16 24l9-8m-8-4l17-14m-15 29l31-28m-31 39l14-15m35-11l15-12m-24 87l23-26m-53 6l27-24m-247 44l5 8m-37-10l9 9m-92-36l6 9m-9 6l3 4m-8-11l0 6m-11 2l3 6m-77 5l3 6m-52-23l2 11m-14 4l0 6m-6-21l1 8m-16-15l2 6m-78 18l1 5m-130-13l5 8m-175-26l5 3m-144 16l17 13m-20-31l19 14m-30 3l26 22m-30-25l12 9m-35-22l23 21m-42 27l15 14m39-30l25 19m125-9l9 8m15-19l4 3m19 3l4 8m18 0l6 5m24-18l5 6m4 13l5 6m2-7l9 8m160-5l-3 9m71-14l3 8m75-16l5 12m42-20l7 11m25 9l-1 10m30-10l8 9m5-9l2 9m1-30l2 5m41 9l2 5m17 0l3 12m262-30l24-24m55 44l19-20m-50 59l24-27m-100 16l7 7m-211-15l4 9m-46-2l7 5m-197 8l-2 6m-85-17l4 9m-34 6l6 9m-9-33l1 8m-1 23l1 10m-64-38l2 8m-44 13l5 9m-55-20l2 11m-107-3l4 4m-50-5l6 7m-160-19l17 14m-35 9l23 23m-27-17l29 28m-95 2l31 25m-30-20l30 27m-23-26l11 9m6-28l19 18m-18-25l18 19m-6-21l10 9m238-1l7 3m-4 2l4 6m51 5l5 7m91-32l6 10m6 20l4 4m115-35l2 7m74-8l4 9m14 11l3 9m129-23l4 5m80 19l3 7m12-21l3 8m303-27l15-16m-12 39l8-11m0 21l21-26m-12 12l10-14m83 65l15-21m-46 22l16-32m-19 26l8-14m-34 0l21-36m-56 30l28-28m-246 23l7 7m-62-5l9 7m-33 14l6 5m-150-14l2 6m-79 9l4 4m-26-19l1 9m-374-2l10 7m-40-19l6 3m-106 8l7 1m-127-16l28 26m-161-17l27 24m-39-24l27 26m-51-29l8 10m-9 1l15 21m-22-13l14 27m-58-40l4 14m-43 5l5 32m-10-34l1 30m50 7l5 17m14-10l4 13m16-49l12 23m-11 5l16 35m15-47l15 15m-6-15l12 16m-10-24l14 15m-10 12l6 10m381-38l13 3m94 25l9 1m537-16l10-3m230 8l9-8m72-13l17-39m8 52l13-20m103 11l3-14m-3 48l11-27m-28 44l11-40m-82 34l12-36m-27 32l13-25m-17 35l7-16m-14 25l14-25m-93 8l24-24m-29 26l27-29m-48 39l27-25m-36 23l29-24m-54 9l24-20m-1312 20l14 37m-24-35l7 25m-37-12l6 21m-16 19l5 19m27-14l9 25m1-47l13 32m1341-34l25-26m5 44l27-30m1 21l18-26m90 14l8-31"/>
<path stroke="#006ae8" stroke-width="9" d="M872 822l16-2m-40 132l19-3"/>
<path stroke="#006ae8" stroke-width="8" d="M1176 1292l104 0m385 0l49 0m0 0l122 0"/>
<path stroke="#006ae8" stroke-width="5" d="M1109 1094l18 1m-122 3l2-5m-35-6l14 2m-148 2l20 0m-33 26l12 0m-76-16l14-12m-25 22l20-1m-26-9l17 3m-80-7l7 3m282 55l13 23m73-55l12 19m598 38l20-17m-507 52l4 4m113 16l9 4m25 0l21 7m1 10l2 0m-834 34l24 4m224-9l17-8m99 22l18-13"/>
<path stroke="#006ae8" stroke-width="4.5" d="M1470 1090l26-4m-65 26l28 1m-33 31l18 2m116-7l11-5m-440 31l8 9m-28-9l17 20m-68-1l11 14m-663 36l21 11m76-26l19 6m729-16l19 11m130 19l6 0m282 40l17-11m-267-17l24 0m-939 22l10 2m-51-8l25 7m-92-33l9 5m-140 2l17 14m1087 24l11 2"/>
<path stroke="#006ae8" stroke-width="4" d="M1151 788l6 11m-104-12l2 9m-157-9l10 8m-144-18l6 5m-72-12l7 7m-59 0l9 7m-21 9l6 11m117-4l6 3m7 28l7 10m109-24l9 9m26 6l3 7m73-1l6 8m56-26l1 6m263 8l3 5m73-21l5 9m-2 35l10 6m-21 4l4 7m-6-14l7 8m-321 6l1 5m-55-9l5 11m-22-9l1 7m-38-42l2 7m-59 28l6 12m-62-37l5 10m-60-19l8 8m-12 7l8 6m-75 15l7 6m-33-31l9 9m-67 53l7 7m103-18l10 8m7-11l5 7m203-23l4 10m293 22l8 9m13 4l7 8m-104 19l4 9m-225-14l2 6m-10-35l2 7m-85 19l2 11m-24-2l2 10m-163-35l3 9m-51 5l7 3m-20-25l8 3m-61 28l8 5m154 35l5 7m23-35l6 8m19-6l5 11m33-6l1 7m22-12l2 5m4 6l3 9m9 4l5 9m-1-34l5 10m196-12l3 4m157 0l3 5m122 19l7 8m54-21l4 3m-1 7l4 5m-72 29l10 4m-143-17l7 9m-51 12l7 1m-36-9l4 6m-10-4l8 6m-90-20l0 12m-8-21l2 5m-59-8l4 11m-38-14l5 11m-33-3l3 10m-20 15l6 4m-76-21l4 11m-11 11l7 3m-102-17l4 10m-91 0l5 1m-99 26l10 6m36-24l14-2m32 9l7 10m195-17l8 3m291 19l6-1m51-14l7-2m-4 23l9-2m84-10l10 0m-260 46l17 2m-300-16l18 2m-56 21l13-1m-20 1l13-1m-34-15l26-1m-46 7l21-12m-40 7l19 3m-53 25l25 1m40-2l17 0m94 6l13 1m430 10l22 14m-13 0l24 14m-201-4l10 13m-692-20l13 8m252 36l19-6m364 13l10 12m86 9l13 10m323-22l28-6m135-8l15-11m135 39l13-15m-203 59l9-4m-96-4l23-7m-190 9l20 4"/>
<path stroke="#006ae8" stroke-width="3.5" d="M1423 790l5 6m-89-7l4 5m-121-11l5 4m-151-13l1 5m-110-5l4 12m-22-19l1 10m-8 6l1 5m-42 3l7 10m-101-28l3 4m-63-5l10 6m-45 8l7 7m-44-6l8 7m-56-29l9 7m39 48l9 6m74-6l6 5m-3-12l3 5m139 4l5 11m29-13l2 6m22-1l-1 11m61 1l5 7m3-35l3 10m2-19l3 10m19-8l0 6m106 5l1 6m-435 44l10 4m-19 1l9 5m-43 2l3 4m-28-3l10 7m-1 22l7 3m33-22l5 6m102-8l3 7m43 26l7-1m46-28l5 10m28-15l2 6m150 22l0 11m49-3l5 7m13-30l3 6m140-7l7 10m22-23l6 8m85-7l6 4m-133 65l4 6m-301-19l1 7m-103-17l3 5m-102 17l6 12m-16-30l5 4m-20 16l4 6m-80-25l3 6m-5 5l7 9m-136-16l5 6m-6 27l10 5m146 11l2 5m8-26l6 7m64 15l4 9m11-23l5 6m68 19l-2 7m182-12l0 5m28-25l2 7m313 36l7 6m-36-23l4 3m-147 20l5 6m-168-2l3 8m-41-14l5 12m-92-14l6 4m-18-2l4 7m-215 0l6 5m-94-27l8 5m-40 13l6 7m-77-20l5 4m106 50l8 3m44 11l17 4m46-12l9 3m25-14l12 3m2 8l8 1m17-5l10 0m183 11l17-1m137-23l14-6m116 24l14-7m32-16l18-8m66 71l17-9m-138-21l17-8m-35 11l7-1m-10-3l9-5m-48 33l11-5m-12 2l11-6m-45-11l11-5m-210 17l8 14m-343-1l10 0m-22 6l22-10m789 13l18-4m-854 43l19-5m-505 56l14 17m34-23l11 12m234 9l22 8m61 3l12 1m439-1l11 14m0-29l16 21m295-13l13 5m364-1l13-10m-986 38l26-10m-526 19l16 15m625 3l13-9m395 16l146 0"/>
<path stroke="#006ae8" stroke-width="3" d="M1027 769l0 9m-493 15l16 13m-18-38l21 15m-22-5l23 19m-25-29l34 25m-36-21l13 9m-19 18l17 14m-17-28l22 17m-23-15l19 14m-28-26l33 23m-35-5l12 10m-15-10l30 29m-34-33l13 12m-21 38l30 29m-25-29l23 19m-16-31l28 23m-18-38l15 11m-15-8l19 15m-19 8l9 8m-1-7l25 20m35-44l12 2m23-5l9 3m31-1l7 3m105-16l4 11m93-6l8 9m30 12l5 6m22-32l8 8m7 21l3 9m45-7l4 9m141-12l2 9m22-19l4 6m51-10l5 10m280-11l29-21m-23 17l26-23m-11 45l9-8m-5 7l12-11m5 28l19-21m-30 25l24-24m-26 36l24-23m-79 26l18-14m-128 20l4 4m-146-18l5 10m-87-14l3 8m-17-23l4 6m-6 29l9 8m-39-32l1 10m-93 9l1 10m-46-23l1 12m-70 9l0 8m-85-32l3 5m-4-17l3 4m-66 16l1 9m-71 2l7 5m-178-28l9 7m-11-5l17 16m-19-16l25 20m-30-19l11 12m-31-4l23 22m-32 3l18 16m-16-7l31 29m-22-34l25 19m-12-4l20 19m-16-40l20 16m-17-6l26 21m-20 3l13 13m70-13l6 5m0-19l10 8m8-26l6 6m227 7l3 12m71-10l3 12m184-29l2 7m93 21l2 7m71-9l6 11m212-26l16-15m21 10l30-27m81 90l25-29m-30 5l7-10m-55 36l8-8m-12 3l11-14m-24 15l10-13m-378-3l2 7m-106 2l1 7m-99-13l0 7m-92-12l0 6m-45 15l6 9m-72-8l6 11m-24-35l3 6m-87 17l8 6m-25-40l10 7m-16 19l8 6m-62-24l4 5m-26 25l10 2m-95-18l8 8m-25-28l9 8m-24-1l10 9m-12-6l28 26m-47-28l30 26m-47-2l23 23m-36-31l23 24m-69 28l29 28m-28-27l9 9m1-23l17 16m-12-7l25 20m3-37l26 22m-22-25l26 28m-25-35l9 7m-2 4l22 20m-22-15l11 8m-8 0l10 8m-10-19l22 17m-10-29l31 29m-16-18l30 23m103-16l7 2m148-14l5 11m45-16l7 8m42 3l2 8m118-10l5 10m49-12l2 12m26 5l0 6m13-32l3 11m10 3l5 10m74-1l0 7m256-5l6 7m145-37l23-30m-22 30l21-29m-12 30l17-24m-16 39l17-19m0 10l22-26m-18 33l15-19m45 20l14-19m-2 14l15-18m40 65l9-16m-53 13l6-11m-13 4l15-31m-17 55l19-33m-36 39l15-26m-31 9l14-19m-17 10l22-23m-43 22l19-25m-21 28l27-30m-32 25l18-17m-33 20l23-30m-268 26l7 6m-73-1l6 7m-21 4l9 7m-75-21l1 6m-93-16l3 5m-52 32l11 4m-85-30l1 7m-129-15l7 8m-75 19l11 7m-17-20l8 7m-18 2l6 8m-18 3l12 5m-24-4l12 8m-198-37l11 5m-146-5l8 9m-18-4l11 11m-18 5l24 29m-45-52l14 15m-23-9l19 17m-23-20l11 12m-23 16l9 8m-14-23l17 16m-20-11l10 7m-13 3l15 10m-19-29l17 17m-24-23l30 29m-38-31l18 16m-33 7l27 23m-46-33l11 12m-11 2l31 29m-33-35l11 15m-33-13l12 19m-17-45l16 25m-57-4l11 28m-11-39l7 18m-25-23l5 14m-44-10l3 34m-14 7l3 28m3-37l1 38m13-15l0 30m7-44l4 34m64-36l8 27m-6-31l12 30m-12-28l2 7m8-11l16 39m-14-12l5 13m10-30l16 22m-13-4l14 22m-4-34l22 29m-16-42l24 34m-20-38l11 14m-7 4l24 30m-24-21l16 21m-5-55l20 22m172-23l6 3m52 7l13 2m184 15l12 2m46 0l6 2m11-25l7 4m65 16l17 0m66-4l13-1m95 12l14 1m40-28l13 1m281-1l14-3m134 21l14-14m-13 19l14-11m2-3l10-8m6-8l24-34m5 61l12-16m-1-11l13-23m-5 54l12-18m30-4l10-17m53 16l4-24m32 26l4-18m-21 67l5-26m-9 29l3-12m-23-1l5-25m-37 41l6-13m-12 10l8-14m-15-3l3-12m-3 35l12-28m-17 20l7-18m-12 32l16-32m-34 33l19-33m-73 6l20-20m-61 19l9-8m-11 32l16-16m-25 15l17-17m-21-1l18-13m-39 24l10-7m-25-13l29-22m-29 21l11-9m-1247 18l23 30m-31-6l22 29m-24-46l8 8m-13 11l22 28m-31-44l7 12m-8-31l16 23m-31-23l28 30m-29-1l8 14m-11-34l17 27m-42-9l6 19m-7-43l4 13m-14 4l12 40m-21-37l6 19m-28-21l10 26m-17-41l2 15m-14-15l4 35m-14-30l2 40m-17-2l1 20m42-19l7 31m6-33l6 24m1-30l15 35m19-21l9 20m3-38l18 36m4-29l6 10m-3-3l10 15m0-21l8 11m1279-13l17-17m-10 22l25-26m12 33l16-17m22-1l14-17m10 34l9-33m-5 23l19-31m-17 28l17-32m3 48l8-21m36 3l7-16m-5 48l8-16m7-5l10-31m-3 53l5-13m-2-21l9-31m2 43l5-17m-1 51l5-11m-65 12l13-28"/>
<path stroke="#006ae8" stroke-width="2.5" d="M1277 766l3 12m-211-9l3 9m-72 4l2 6m-50-25l2 11m-167 2l6 11m-22-15l9 9m-40-12l9 8m-60 22l4 6m-152-36l14 11m-31 8l26 22m-75 18l27 24m-3-39l32 25m-32-1l29 27m-23-64l20 16m-7 10l27 23m-20-28l15 10m69 4l10 6m60-14l7 6m20-15l8 10m17-8l9 9m13 5l2 5m63-20l6 11m64 0l3 8m45 1l2 6m7-25l2 8m9-27l3 7m56 16l2 11m196-20l6 8m158 3l5 4m87 6l22-20m33 41l29-27m-153 37l9 6m-126-31l7 10m-23 20l0 6m-191-36l3 6m-23 23l5 8m-17-11l7 10m-26-29l5 7m-14 8l2 10m-59-4l2 5m-47 3l3 9m-70-16l3 12m-111-36l4 6m-17 8l8 7m-145-28l4 2m-93 30l26 18m-40-33l31 25m-31-13l29 21m-35-32l21 21m-53 2l28 23m-16-12l26 21m-24 6l25 23m-17-26l25 25m-23-51l28 28m-27-6l16 13m5-10l26 20m-19-41l22 18m-20-10l12 11m-9 5l14 12m23-19l11 4m37-17l12 3m77-13l6 4m17-9l5 3m118 8l6 4m21 1l4 9m99 10l3 5m15-40l1 7m10 6l2 9m19-22l1 5m168 2l4 4m98-1l2 6m271 17l20-22m13 17l27-27m25 70l9-11m-66-7l8-9m-16 23l16-18m-23 26l23-27m-27 0l16-18m-128 16l11 1m-205 17l5 7m-36 3l5 11m-36-41l3 8m-126 15l4 11m-38-14l4 9m-97-35l1 6m-31 29l5 12m-65-36l7 9m-27-21l10 6m-17 6l2 6m-62 9l7 5m-124 3l5 3m-17-24l8 5m-85 14l9 5m-80-33l29 21m-53-15l16 12m-18-8l23 22m-27 1l24 24m-24-57l32 23m-80 0l29 24m-29-15l11 11m8-1l21 24m-12-5l25 26m-18-14l24 20m-11-47l30 26m-25-26l23 22m101-30l7 3m97 19l6 6m16-6l8 7m33-14l5 9m49-16l3 10m133-13l0 12m141 7l1 7m28-9l0 11m9-1l2 8m31-8l2 7m20-42l6 11m-3-3l6 5m9-4l2 11m184 8l5 4m25 7l8 9m10-48l4 3m143 8l24-24m-19 50l26-33m-16 19l15-16m26 2l10-10m17 40l7-10m21-10l8-16m31 61l6-11m-46-12l14-22m-27 37l19-33m-57 17l20-23m-21 55l11-14m-18-14l10-13m-13 36l30-28m-45 9l10-12m-215 6l9 4m-28 2l5 6m-17-6l6 7m-242 20l10 5m-116-9l5 6m-25-33l4 11m-22-2l2 7m-38 1l4 7m-21-15l1 8m-57 2l4 3m-44-1l9 9m-32-26l7 8m-55-14l1 7m-5 2l4 12m-151 7l6 3m-43 3l11 5m-182-20l12 9m-50 3l17 14m-26-33l11 11m-12-10l24 26m-34-26l28 29m-33-22l28 22m-32-5l16 13m-32-38l20 19m-67-17l9 13m-12 7l10 15m-12-21l21 31m-25-49l13 17m-27-14l15 34m-38-30l4 10m-53 7l4 32m-28 5l1 14m59-32l7 37m24-29l13 40m17-48l6 13m-2-15l11 16m-8-27l21 29m-9-1l16 21m-5-16l8 12m-1-13l26 31m-14-28l16 20m-15-57l21 18m26 4l27 24m233-45l12 7m127 3l14 4m212 6l7 0m104-12l6 0m279 29l7-4m171-9l15-13m16 15l9-10m15-17l11-14m103 42l8-35m29 29l4-13m1 10l6-25m-2 50l3-14m-25 27l4-18m-38 11l6-17m-95 10l21-19m-91 24l17-14m-17 27l31-26m-334 13l10-2m-358-1l10 2m-460-6l15 7m-150 3l8 11m-10-11l24 29m-28-32l19 26m-24 0l13 18m-16-23l14 17m-75-42l10 39m-12-24l8 25m-69-13l4 32m-29-43l0 42m-19-57l0 16m65 34l4 17m70-24l6 11m1304-19l24-22m-23 37l23-23m-5 29l21-18m8 0l14-15m31 12l6-12m33 40l9-21m25 16l5-11m6 19l6-17m-5 9l12-34m-4 20l5-13m-3 38l11-24m-7 15l13-38m4 14l12-28m-1623 71l1 8"/>
<path stroke="#0577ee" stroke-width="12" d="M828 1000l27-8"/>
<path stroke="#0577ee" stroke-width="9" d="M873 788l21-3m-24 3l21-3m-23 2l19-2"/>
<path stroke="#0577ee" stroke-width="8" d="M479 1292l140 0m243 0l154 0"/>
<path stroke="#0577ee" stroke-width="6" d="M869 866l13-2m-13 52l13-2"/>
<path stroke="#0577ee" stroke-width="5" d="M588 1107l20 7m-33 39l24 1m827-31l18-9m-487 73l6-8m-331-11l15-3m-443 41l18 21m95-4l5 3m1388 6l10-7m21 22l4-4m-261 29l18-2m-184-20l13 4m-1057-8l7 7m1345 46l11-5"/>
<path stroke="#0577ee" stroke-width="4.5" d="M1169 1135l10 12m-389 14l16-12m-247 20l12 2m-217 66l10 7m854-14l22 14m80-8l19 7m-79 20l20 9m-24-17l9 5m-15 5l19 10m-414-12l19-15m-423 7l16 7"/>
<path stroke="#0577ee" stroke-width="4" d="M1286 783l4 6m-6-2l7 7m-51-12l3 5m-104 9l3 9m-506-30l4 3m-17 1l7 4m143 51l6 4m29-31l2 5m33 6l5 3m52-14l4 5m113-6l1 6m55-2l3 7m-2 1l3 10m348-26l7 9m-153 38l9 9m-65-1l5 8m-127 10l-1 6m-56-36l6 11m-276 5l5 11m-81 1l8 8m-108-11l9 7m118 24l8 6m2-7l5 6m79-2l3 5m139-10l1 9m53 1l1 11m41-19l1 8m117-9l2 6m67-11l8 10m152-17l7 6m-103 54l3 6m-150-32l1 5m-90 2l4 7m-70 5l3 10m-7-18l0 9m-108 7l3 5m-56-23l7 7m-53-2l6 9m-73 3l8 7m-150 24l7 3m-5-9l7 4m22-1l7 6m14-19l6 2m42-5l7 5m111 25l3 4m11-19l5 10m88-5l1 7m102 8l6 11m-4-21l3 5m14 9l1 10m16-35l3 6m66 3l0 9m219-9l7 6m94-29l8 7m-120 66l9 1m-72 1l8 4m-351-33l-2 8m-80 7l6 8m-117-15l6 6m-142-16l7 6m-48 18l7 1m-9 9l6 5m-25 3l6 4m140 13l7 2m57-19l9 0m76 22l16 1m67-19l9 2m50 8l15 0m321 18l18-2m-424 43l12 1m-101-37l12 2m-18 11l22-1m-222-9l7 4m-19 1l16 3m124 33l12 0m12 4l11 0m-7-4l22 0m47 11l19-20m722 40l20-10m208 30l9-11m-952 14l13-12m-376 28l17 6m-206 5l9 9m13-14l16 15m691 28l14 16m-373-12l24-5"/>
<path stroke="#0577ee" stroke-width="3.5" d="M1389 776l6 4m-332-11l5 7m-12-10l0 9m0 6l1 7m-285-12l8 10m-133-10l5 3m-59 36l7 4m11 13l7 5m31-23l9 6m93-19l2 8m89-2l6 9m9 18l3 6m9-23l8 8m-3 13l6 6m38-26l1 8m96-19l4 6m78 9l4 7m224 6l5 2m81-7l5 7m-53 21l6 9m-131-9l5 4m-152 12l4 12m-53-33l2 13m-78-12l3 10m-176 4l3 5m-27-20l7 6m-79-9l9 7m-85-7l5 6m100 32l6 5m70-1l5 6m2-15l6 7m188 25l0 7m61-9l-2 6m32-37l2 7m42 23l3 10m6-16l3 11m47 0l3 7m167-37l3 7m-31 43l4 4m-106 12l8 8m-30-12l3 8m-117-19l-2 10m-106 6l2 8m-51-15l2 7m-19-21l1 11m-124-8l6 7m-156 1l11 6m-17 3l5 8m45 3l9 5m9 23l5 4m77-2l2 9m22-39l4 11m35 13l2 6m30-9l6 7m316-12l7 10m-3-9l5 8m16-28l4 10m62 25l4 6m116-35l10 3m-152 65l5 2m-24-30l2 6m-105 18l9 5m-21-28l5 6m-236 5l6 9m-10 2l4 5m-11-7l5 7m-39-28l3 5m-148 25l13 6m-45-41l9 7m-23 10l10 6m-69-11l8 1m-119 17l6 1m-1 23l16 5m5-3l6 3m119-15l13 2m106 5l10 2m69-14l10 7m41-3l14 6m43 6l10-5m39-5l13-2m6 8l14-3m136 24l16-5m97-1l12-5m7-4l9-4m75 59l10-4m-122-26l11-6m-25 22l16-8m-22-2l17-8m-24 5l11-5m-12 23l8-4m-555 11l12 0m-15-1l10-6m-42-2l10 0m-23 1l14 5m-43 3l18 0m681 60l7 3m-698-13l24-6m-211 39l23 11m-282-23l8 12m-10-23l9 13m52 26l11 11m711 1l14 19m489-7l22-3m174-28l8-6m-1 48l15-10m-756 35l16-15m-799-4l6 8m37 38l148 0m23-7l16 9m1097-2l107 0"/>
<path stroke="#0577ee" stroke-width="3" d="M1503 797l23-20m-63 4l13-9m-17 5l10-8m-128 23l7 10m-74-3l4 5m-91-27l6 5m-19-11l2 6m-28 20l3 7m-115-28l-1 6m-25-9l2 4m-27-8l4 12m-195 14l7 7m-247-34l12 9m-38 3l37 25m-66-31l22 16m-29 47l22 20m-10-33l19 16m-18-2l19 17m-4-50l22 17m-19 3l15 13m200-1l7 2m112-24l6 8m86 4l0 9m28-34l3 7m169-6l2 10m25 1l1 10m60-24l6 10m255-7l20-17m-13 19l32-23m-31 52l26-28m-15 26l25-20m-21 6l30-25m-3 81l11-10m-23-5l23-22m-109 10l4 5m-71-1l3 8m-28-12l7 9m-100 7l2 11m-238-28l2 10m-60 14l2 12m-43-24l2 5m-322-7l8 8m-16-21l7 10m-84-7l11 8m-13-2l23 21m-31 6l22 16m-35-40l31 25m-59-16l30 23m-64 22l14 12m6-6l26 27m-21-47l24 18m-21-29l19 15m-14 1l13 10m8 9l27 30m-26-31l14 14m-7-15l27 23m95-26l6 6m21-25l5 3m147 13l6 7m2-18l1 6m59 7l4 8m91-33l7 10m42 5l3 12m17-16l5 10m-3 9l4 8m10-40l1 8m26-2l0 9m19-12l-1 11m268-10l8 7m181 1l23-24m-22 44l15-13m-11-12l8-9m-5 2l16-15m0 79l24-24m-36 0l10-9m-10 7l9-9m-13 24l22-23m-22 16l13-12m-25 19l9-11m-55 6l17-15m-20 22l18-21m-22 9l10-11m-145 23l6 11m-176 2l3 9m-241-32l-1 7m-209 12l8 10m-8-9l5 5m-61-1l8 3m-23-21l7 5m-22-11l6 5m-163 11l9 8m-19-4l19 15m-33-34l17 17m-35-2l8 8m-8-3l19 17m-29-29l30 23m-43-22l28 31m-75 4l22 17m-4-4l25 23m-22-49l18 18m-3-11l20 20m-16 3l12 11m-8-16l23 25m-18-29l9 8m-5-25l23 22m-20-20l9 8m-4-15l16 13m-8 5l24 25m-22-43l23 19m-13-16l14 10m-10-4l29 25m216-14l3 5m49-18l5 7m27 13l6 10m183-21l4 10m39 10l2 11m160-30l5 11m129 4l8 6m77-11l9 7m30-19l3 5m60-9l17-18m30 18l24-29m25 46l14-14m-3 21l19-28m-7 7l25-31m8 31l19-28m93 85l2-12m-27 15l8-28m-25 31l10-19m-37 17l13-25m-74 22l19-31m-24 10l11-15m-27 29l19-23m-24 35l24-24m-33-14l23-26m-31 34l17-20m-17 37l27-31m-38 14l24-24m-180 46l8 1m-65-27l3 5m-158 12l7 6m-200-19l0 6m-109-2l3 8m-100-18l8 6m-215-4l7 4m-91 19l12 4m-107-20l14 10m-22-13l15 13m-20 7l31 23m-41-30l27 21m-33-4l16 15m-25-38l8 8m-9 3l10 9m-36-19l31 29m-34-40l14 14m-16-6l29 24m-44-27l13 12m-20 6l14 13m-14-21l26 21m-28-34l21 23m-23 7l11 9m-27-24l13 13m-23 3l17 22m-20-56l23 23m-29 7l26 25m-57-35l16 23m-18-31l16 23m-19-16l13 20m-54-13l6 14m-6-23l3 12m-23-2l3 17m-7-30l5 18m-45-12l5 40m-12-20l1 28m-1-7l4 40m4-27l2 18m-1-50l1 12m8-9l2 14m11-2l2 34m21-29l2 12m-2-21l7 33m-7-42l3 14m6-8l8 27m-1-26l8 42m2-37l9 19m2-8l6 24m-5-22l4 12m3-12l4 11m9-22l4 12m1-34l14 22m0 6l12 16m-12-23l10 12m-3-16l25 34m-17-34l12 16m-10-18l21 34m-12-21l20 22m-18-30l8 9m-8-16l25 28m-18-5l19 23m-18-30l23 26m43-55l9 8m26 15l28 20m212-20l13 6m4-17l6 2m22-2l11-2m0 17l11 3m3-30l6 3m291 0l10 0m18 17l9-1m420-17l11-3m49 20l21-17m-19 22l24-20m-5 34l12-11m-7 10l17-14m-15 8l21-16m10 10l17-14m-7 16l21-22m4 25l24-25m-23 27l18-21m67-3l4-11m2 27l10-34m-10 45l10-36m24 32l6-34m-1 36l8-38m-5 13l5-23m3 51l4-22m0 13l6-19m15 18l3-15m5 54l10-30m-14 22l6-29m-6 41l6-26m-28 35l6-21m-12 6l13-40m-17 20l4-20m-38 21l9-28m-37 39l11-24m-17 10l11-23m-33 27l21-29m-21 39l12-18m-15 24l15-19m-24 20l27-29m-30 12l13-18m-33 20l10-12m-17 34l11-11m-21 11l15-17m-43 12l23-22m-24 25l11-11m-16 9l11-11m-14 17l10-11m-16 13l29-27m-35 29l23-23m-24 1l28-25m-37 43l19-18m-23 8l17-13m-1047-9l17 2m-215 4l18 19m-33-7l18 24m-31-10l12 16m-31-30l11 12m-12-13l21 29m-26-27l15 21m-16-38l9 11m-12 26l14 24m-16-54l19 21m-22-6l24 29m-31-20l14 29m-32-27l7 19m-14-45l4 14m-13 7l4 14m-39-20l6 27m-22-41l4 29m-5-20l2 17m-3-5l3 34m-17-28l4 39m-20-52l1 32m-2-20l1 12m20 13l5 34m10-46l5 34m-5-4l3 17m-2-23l5 25m-4-56l9 27m-2 1l7 27m5-35l9 29m-9-49l13 34m-12-28l4 12m-2-12l7 25m-4-4l6 15m2-26l12 37m-10-54l12 30m-11-2l4 12m2-7l6 19m5-21l7 19m-2-13l5 13m0-38l6 15m26-4l14 22m1-45l16 20m-6 3l11 14m-10-38l16 18m2-11l9 11m1258-9l23-20m5 19l27-32m-15 60l10-10m-5 10l13-14m-12 7l26-27m-10 37l15-18m10-17l6-11m0 46l19-38m-6 20l13-24m32 39l8-22m-3 2l9-18m-8 6l18-33m-14 45l9-22m-5 42l17-34m1 9l10-32m-4 31l12-30m1 28l9-33m-6 47l9-27m0 7l7-25m-11 71l6-16m-95 19l5-11m-14 5l3-8m-45 4l13-17"/>
<path stroke="#0577ee" stroke-width="2.5" d="M1504 778l11-8m-85 21l3 3m-72-16l3 4m-146 4l3 3m-76-26l4 12m-53 6l4 10m-21 4l-1 4m-50-6l2 5m-6-25l0 9m-61 15l6 10m-17-23l2 3m-134 8l1 3m-66-27l9 9m-118-9l5 5m-137 12l18 16m-10 28l28 28m123-38l8 9m220-4l7 9m13-23l5 12m15-24l3 8m-3 11l0 8m41-12l0 10m27-5l2 3m55 10l2 3m117-2l7 8m5-19l5 4m14-17l1 3m21 15l0 5m97-16l4 4m25 0l6 9m-5 8l4 8m169 25l9-8m-25-6l20-20m-24 23l32-26m-38 20l19-21m-243 28l5 9m-75-23l1 2m-38-5l2 5m-115 1l1 3m-127 7l1 2m-153-10l6 6m-61 11l3 4m-50-3l8 7m-58-5l9 6m-37-32l2 3m-16 22l8 8m-74-32l17 17m-46-3l30 23m26 19l10 2m369-1l1 7m13-18l1 9m111 15l2 11m74-37l1 4m80 22l5 2m4-28l0 2m33 17l3 4m34-25l2 2m48 21l4 1m111-8l3 3m74-19l21-21m45 72l19-21m-61 31l22-22m-32 13l16-18m-215 24l4 3m-19-2l5 4m-167-18l0 6m-8 2l1 3m-123-20l2 7m-312 1l4 8m-27 13l6 6m-52-24l4 7m-32-22l4 3m-51 6l8 10m-143 10l12 10m-26-16l29 24m-30-35l27 27m-31-24l20 16m-23 6l27 27m-28-32l17 13m-77-5l26 27m-4-6l18 12m-12 2l25 21m-15-51l15 13m-15-4l22 24m-9-21l10 10m11-21l31 28m-7-19l19 14m46 3l2 1m97-12l4 7m10-22l5 4m28 6l9 8m28-15l7 10m9 6l5 5m-2-13l6 10m44-15l5 8m62 15l8 10m84-40l1 7m45-3l2 6m16 15l0 10m245-3l5 5m1-37l2 4m57 25l7 6m31-38l2 6m23 9l2 2m285 12l13-20m54 55l14-25m-75 6l9-14m-30 11l14-22m-29 41l11-14m-33-9l8-11m-314 43l4 3m-118-36l1 6m-128-5l2 6m-27 7l3 5m-144-9l7 9m-187 11l8 4m-145-10l4 1m-59 9l9 4m-33-12l11 5m-18 7l7 3m-69-11l12 10m-17-20l14 11m-15-23l12 13m-14-5l15 13m-23-19l22 19m-33-10l28 25m-46-26l29 24m-32-15l11 11m-13-21l25 20m-54-29l9 8m-10 2l11 8m-37-3l21 18m-53-21l12 13m-48-4l6 11m-50-23l7 19m-66-11l-1 25m13-1l2 13m4-10l2 18m14-8l0 34m6-42l4 26m-4-27l3 28m29-25l7 27m11-23l6 25m2-42l5 16m-3-15l7 16m7-21l6 11m8 8l22 27m-20-30l27 30m10-37l12 13m-2-16l28 23m-19 3l25 20m-23-43l13 10m5-13l32 22m-25 1l15 13m120-8l15 7m27-24l6 2m16-10l6 2m240 24l15 0m110-25l3 1m11 16l3 0m65-4l7 0m14-5l12 1m154-7l6-1m177 6l8 0m154 11l7-5m-4 14l26-20m34-16l25-30m-22 62l18-18m18-11l10-16m42 12l20-34m29 72l7-35m12 11l2-11m4 5l5-19m35 51l4-20m-51 58l7-23m-71-2l8-16m-57 29l10-12m-19 20l12-14m-14-11l15-14m-33 29l11-12m-27 5l25-23m-37 22l29-27m-36 47l26-28m-46 12l16-15m-17 12l12-10m-23 3l13-12m-23 6l21-16m-638 12l18 3m-578 18l14 11m-19-10l20 13m-70-32l27 31m-49 0l18 22m-31-46l18 31m-27-37l14 19m-86-17l3 30m-6 2l7 39m-45-27l0 20m13-20l2 21m77-19l5 15m-4-3l12 26m1336-39l19-18m-19 24l15-15m-10 20l15-17m11-2l12-11m0 17l26-27m-23 22l18-19m-5 32l18-19m-15 6l12-14m-5 22l13-18m-5 17l17-30m11 20l9-18m28 19l16-30m-12 36l14-31m7 43l8-17m-3 1l13-40m10 63l11-30m3 40l11-24m-11 36l5-15m-64 17l7-17m-34 8l7-17m-66 17l11-17"/>
<path stroke="#0577ee" stroke-width="2" d="M1349 767l2 3m-49 10l2 2m-4-11l2 4m-96 21l3 3m-53-8l2 4m-99-21l3 4m-33 19l-1 6m-8-35l1 4m-41 1l1 4m-72 13l1 4m-14-3l3 2m-75 3l2 3m-125 29l3 2m110-6l2 3m41-12l1 3m1 12l4 3m25-14l1 5m191-9l1 5m185 8l4 4m40-25l2 4m-1 13l3 3m29-21l2 2m69 49l3 3m-175-2l3 4m-9 14l2 2m-69-32l1 3m-91 12l2 5m-126-23l2 6m-58 18l2 3m-118-26l2 3m-19 18l4 4m-46-9l1 2m-51-13l2 1m-20 13l5 1m183 42l2 1m31 11l1 4m46-13l0 3m50-17l1 2m-1 15l1 3m262-33l4 4m51 21l1 6m102-7l2 2m3-14l3 1m-171 30l3 5m-17-9l2 4m-53 2l2 4m-10 14l1 5m-150-25l1 3m-2 26l1 3m-88-27l2 6m-43-16l1 3m-56 21l2 5m-7 3l2 2m-60 3l3 4m-35-21l2 5m-32-19l2 3m-173 65l5 2m39-19l3 2m26 18l3 3m95-38l2 2m16 5l4 3m35 24l2 2m34-19l1 2m4 6l2 3m108 5l2 4m1-18l3 5m180 5l1 5m1-18l1 2m145 13l3 5m10-28l1 2m33 22l2 2m1-20l2 2m132 29l3 1m-94-2l2 3m-109 8l3 4m-183 2l2 5m-98-19l2 3m-41-10l2 3m-68 31l4 3m-14-7l3 2m-64-3l4 2m-13-28l1 5m-213 4l3 0m-15 7l4 2m-38 55l5 2m61-24l5 4m20 16l4 2m30-38l3 0m179 17l3 0m89-4l6 2m25 10l3 0m44-24l5 4m-1 30l8 0m12-4l6 0m74-20l2 0m39 8l5-1m112-8l4 0m176 26l8-2"/>
<path stroke="#0d84f4" stroke-width="12" d="M834 998l23-6"/>
<path stroke="#0d84f4" stroke-width="9" d="M860 823l20-3"/>
<path stroke="#0d84f4" stroke-width="8" d="M208 1292l148 0m69 0l54 0m537 0l43 0m221 0l146 0m0 0l66 0m107 0l66 0"/>
<path stroke="#0d84f4" stroke-width="6" d="M864 820l15-2m-17 99l15-2"/>
<path stroke="#0d84f4" stroke-width="5" d="M1478 1106l9-5m-585 9l14-22m-145 18l12 0m323 34l10 13m-286 20l8-7m-656 28l11 14m342 3l18 3m299 5l17-14m931 70l8-8m-117-3l14-9m-871-11l20-14"/>
<path stroke="#0d84f4" stroke-width="4.5" d="M457 1178l20 9m-127 8l17 14m-139 10l17 19m581-30l19-15m788 100l23-12"/>
<path stroke="#0d84f4" stroke-width="4" d="M1296 789l5 8m-34-23l7 10m-22-16l3 4m-226-4l2 12m-245 16l6 4m-33-19l4 10m-103-26l10 9m173 53l2 5m143-5l2 6m32-6l1 11m17-14l-1 12m79-35l0 9m139-8l4 10m69-8l7 7m60-5l6 11m-50 27l3 6m-30 13l3 4m-80 6l7 10m-57-11l2 4m-162 3l1 10m-184-11l2 10m-27-15l4 7m-104-40l5 5m-64 24l8 4m-18-29l9 3m-13 9l10 7m-72-12l3 4m93 55l4 3m106-31l6 4m-1 11l7 4m65 11l3 11m275 23l5 9m-66-21l5 9m-150-11l2 9m-102-2l3 5m-65 11l3 12m-115-31l9 7m-89 29l7 5m148 4l6 6m4-8l5 5m22-23l4 3m52 20l3 8m-2-20l4 7m109 7l4 10m-2-26l6 11m0 7l2 7m85-25l0 7m161-2l7 8m19-19l5 9m208 31l12 3m-152 18l10 8m-96-32l4 6m-29-7l8 10m-183 10l3 7m-457 13l8 6m29 14l10 1m57-15l10 4m25 7l8 3m225-1l16 1m35-12l14 2m-7-3l13 2m180 12l13-3m263 55l10-1m-251 5l10 9m-457-18l20 0m-35-10l16 0m-39 2l21 0m-61 13l25 1m-37 7l11 0m426 64l9 9m-383-20l5-3m-92 1l19-5m355 104l18 19m-135-14l15-1m701 5l23-12"/>
<path stroke="#0d84f4" stroke-width="3.5" d="M1376 789l4 9m-164-31l6 8m-377-4l8 10m-74 17l5 8m-63-31l5 5m-77 11l4 5m136 5l10 6m31 4l1 6m42 15l7 11m77-34l-1 10m31 14l2 8m203-26l1 5m199-17l7 8m-175 52l8 10m-271-6l0 5m-4-16l1 11m-92-1l5 11m-109-8l7 9m-84-21l8 8m-8 1l10 7m-31-18l8 10m-16-19l6 3m-12 8l6 5m-12 5l5 6m86 30l8 10m43-25l2 8m-2 4l5 9m105-14l6 9m50-3l-1 10m76-21l1 6m286-4l3 5m120 25l6 4m-105 10l3 6m-297-6l-1 11m-114 10l0 13m-150-34l8 11m-114 3l7 6m-70 41l11 6m77-16l3 5m6-13l4 4m156 6l7 10m72-7l1 10m114-4l0 5m57-38l4 12m37 9l5 12m58 18l6 6m-118-13l6 9m-44-9l4 10m-104-15l0 5m-140 24l7 4m-179-6l4 4m82 28l7 3m88-23l6 2m49 19l9 2m127-21l12-3m111 19l15 0m146-8l17-8m1 14l11-1m18 1l9-4m-6-13l5 1m-4 4l8-4m137 52l17-6m-231-6l10-5m-34 28l9-3m-23-10l9-5m-37 5l16-8m-23 17l13-6m-31 17l11-5m-45 8l10 12m-155-28l14-3m-51-12l10-1m-240 29l23 0m-119 7l15 0m471 40l11 12m-978 16l15 21m149 11l19 14m154-1l11 2m834 39l16 3m-903 21l140 0m807 0l66 0"/>
<path stroke="#0d84f4" stroke-width="3" d="M1496 784l22-16m-54 29l24-16m-86 0l7 4m-375-21l-1 9m-59 5l2 5m-28-3l6 11m-148 2l4 8m-89-22l4 5m-178 1l17 14m-23-31l13 10m-15-7l10 7m-17-10l22 16m-29-16l24 21m-34-6l27 22m-36-6l29 27m-44-52l33 23m-31 36l24 23m-18-22l11 9m-10-16l30 24m-20-22l21 17m-19-14l13 10m-13-31l15 16m-12-26l25 20m-18-11l16 12m-12-14l14 12m-13-11l12 10m-7-6l12 11m-3-19l12 8m121 5l10 7m33 5l6 7m0-30l9 4m-2 21l4 5m5-4l4 5m72-20l7 9m13-19l7 10m46 10l3 5m16-26l7 7m50-2l1 5m53 2l0 5m38-17l2 12m155 7l4 8m4 4l4 7m199-44l5 4m41 30l13-11m0-12l25-21m-10 24l31-25m-26 35l25-23m19 71l24-27m-46 31l21-19m-62 17l11-10m-404 12l2 6m-35-37l1 7m-70 24l4 6m-133-14l2 4m-56-7l6 9m-60-9l8 9m-95 3l9 4m-168-18l29 22m-31-13l30 22m-36-39l26 27m-54 29l10 10m-10-14l10 8m-8-34l12 11m23 7l14 11m40-19l9 4m91-3l5 6m29 2l8 6m113 11l3 6m15-30l3 6m96-9l0 6m23-6l2 7m120 15l0 9m137-8l1 8m15-8l7 11m248-44l8-6m-6 17l16-17m30 39l28-23m-20 8l13-15m-13 5l14-12m-11 38l28-29m-20 32l12-14m13 41l8-8m-27 11l18-18m-74 13l17-19m-20 2l5-4m-295 36l3 5m-125-38l2 10m-230 21l5 8m-352-40l19 16m-49-16l33 27m-36-15l24 18m-30-17l28 28m-29-38l21 19m-39-4l17 14m-35-7l16 15m-30 30l13 12m-6-22l9 8m-6-14l19 17m-16-10l21 19m-21-37l16 15m-14 7l30 26m-25-18l13 13m-13-29l19 21m-18-7l11 9m-6-33l27 23m-21-19l28 29m-23-15l13 14m-8-37l20 17m-20 0l9 8m6-9l12 12m134-15l8 1m71 18l6 10m67-15l8 11m209-13l4 11m122-14l8 11m201-33l5 10m19 11l3 6m159-27l14-17m41 31l28-32m-20 23l21-25m-3 43l17-24m2 10l21-27m5 29l25-33m15 49l17-26m1 14l10-16m71 65l4-13m-8 19l6-30m-18 23l6-19m-42 15l12-24m-20 18l5-11m-9 25l5-11m-14 6l9-16m-52-9l20-32m-59 33l21-27m-29 32l18-21m-24 32l12-11m-14 2l25-26m-27 24l18-22m-26 21l20-22m-23 33l25-28m-36 11l20-28m-80 35l10-10m-60 14l12 0m-31 23l11-1m-60 1l10 2m-392-30l0 8m-3-16l1 10m-17 27l7 4m-42-39l1 5m-195 15l10 7m-77-1l10 5m-51-2l9 5m-201-35l22 21m-44 11l18 16m-21-34l15 14m-27 4l10 9m-16-38l16 16m-19-13l25 27m-30-33l9 8m-11 21l11 10m-14-18l28 25m-29-18l26 21m-31-36l10 7m-15 18l28 25m-30-52l29 28m-36-34l26 22m-31 1l27 24m-29-27l13 8m-18-16l22 20m-25-31l26 25m-26-5l10 10m-11-21l22 20m-28-15l14 14m-21-16l11 9m-36-10l19 18m-77-5l15 19m-29-38l11 18m-23 7l10 23m-12-51l12 22m-63-1l2 14m-16-5l2 14m-15-20l3 17m-16-19l2 18m21 21l5 40m-1-63l2 22m-1 3l1 38m1-63l5 37m13-28l6 23m5 0l3 12m0-22l9 27m-4-28l12 27m-9-33l5 15m3-16l5 19m3-19l14 33m-13-34l6 16m1-15l16 37m-15-30l8 27m-4-35l5 15m9 0l7 14m13-10l20 25m-19-43l15 21m-8-27l11 14m-10 1l8 11m6-19l12 16m-11-36l27 23m-16-14l20 22m-12-18l21 18m-17-29l11 9m62-8l16 13m-13 1l17 11m-1-12l12 10m128 3l7 2m65-32l6 4m85 8l11 3m1-11l13 3m360 4l12-3m169 5l6-2m64 1l7-2m167 21l20-16m-12 19l18-15m-6 7l13-10m-10 11l36-22m-13 28l24-21m-10 23l25-28m-24-2l15-13m-1 38l19-18m-14-5l24-29m-24 57l23-25m-20 12l29-30m-10 43l14-14m7-17l13-27m2 26l9-16m-9 42l21-32m-17 31l16-25m-12-1l18-26m-15 59l16-28m-15 21l19-32m15 8l5-15m20 12l5-17m4 22l5-21m3 31l2-11m-2 3l4-19m12 11l5-16m23 52l5-26m-1 13l6-24m-3 71l3-10m-5 5l5-19m-12 17l11-40m-13 46l5-32m-14 4l3-22m-12 24l4-11m-8 33l8-29m-12 29l7-42m-34 19l5-30m-15 35l5-21m-21 30l8-18m-9 15l13-36m-26 61l6-12m-39-17l10-15m-25 19l13-13m-13 25l14-17m-79 1l14-12m-32 19l17-17m-29 27l22-19m-102-4l17-8m-360 10l16-6m-815 5l14 11m-23 10l8 8m-9-19l16 14m-23 6l12 14m-28-22l10 13m-13-23l20 28m-23-11l8 11m-10-8l9 11m-16-31l23 28m-27-23l20 25m-22-36l22 34m-36-21l17 27m-21-32l9 14m-9 0l19 35m-24-68l12 29m-12-24l8 16m-8-12l15 26m-16-26l22 31m-25-4l5 11m-8-44l19 35m-20-4l15 39m-26-39l10 34m-10-39l5 24m-9-35l5 17m-17-25l7 25m-11-21l7 19m-27-13l8 19m-10-38l10 30m-11-29l3 14m-4 23l6 23m-9-41l4 14m-8-35l4 23m-21 2l3 28m-7-18l1 14m-20-27l2 42m-9-63l3 30m-4-19l5 25m-5 29l1 19m13-17l2 14m-2-8l3 13m-1-43l3 19m3 7l3 27m-1-38l3 35m0-53l4 23m-2-7l3 34m10-23l5 16m12-20l11 30m-9-53l10 30m-7-31l7 31m16-25l11 39m8-31l19 43m-10-40l12 28m-4-26l11 14m36-17l13 17m1261-22l13-13m-11 18l27-29m-18 14l17-17m-15 40l20-20m-19 16l13-15m-10 24l19-20m-19-3l22-20m-8 30l21-21m-14 33l17-16m-16 20l15-16m-1 20l8-9m-6 12l10-12m-7 4l9-11m-7 18l16-22m-16-7l21-23m-12 27l22-26m-9 49l14-24m-13 14l19-35m-15 28l10-19m10 5l8-16m-8 40l12-23m-10 7l10-26m7 22l7-14m-4 14l14-24m-10 30l8-16m-7 15l15-37m-11 27l15-31m-7 48l8-16m14 6l10-22m-9 13l5-25m2 38l10-26m-1 40l6-15m-4-10l8-29m-2 46l11-29m5 35l6-15m-1-12l3-12m1 15l5-12m-13 56l7-20m-64 19l14-27m-36 26l11-29m-23 31l16-29"/>
<path stroke="#0d84f4" stroke-width="2.5" d="M1400 783l10 4m-40 12l2 3m-41-24l3 2m-41-13l3 4m-59 0l3 4m-23 10l3 9m-54-13l3 5m-104-8l-2 10m-12-18l-1 10m-27 1l1 12m-55-1l2 2m-13-1l5 9m-30-26l0 3m-19 19l1 3m-97-24l5 9m-55-5l5 3m-48-16l3 5m-178-5l14 11m-25 10l12 11m-21-11l29 25m-50-14l10 7m-7 27l26 24m111-48l8 7m12-7l5 7m77 3l3 4m5-14l4 11m98-15l3 4m68 26l2 3m53-10l1 4m15-8l3 7m31-10l3 11m32-8l4 11m28-15l3 8m67 4l2 5m38-2l1 3m49-20l1 2m104 7l5 4m94 2l15-15m27 15l23-23m-21 23l13-12m9 56l25-31m-188 23l5 4m-163-23l2 3m-55 14l4 4m-123 5l0 2m-90-19l2 3m-92 10l1 4m-85-17l3 5m-12 1l4 4m-11 7l8 8m-148-22l11 7m-118 2l9 8m-14-31l11 8m-15 20l26 27m-28-61l22 17m-28 15l21 15m-38 13l23 20m-10-8l29 23m129-56l5 4m69 25l9 8m-4-36l9 8m15-8l0 5m7 2l5 3m59 8l2 7m63 7l4 6m4-4l2 9m48-35l-1 6m76-11l7 9m10 20l0 6m101-30l2 5m1 4l3 5m36 6l7 7m137-26l9 9m42 16l7 5m139-34l25-20m-13 36l27-29m-79 61l7 9m-262 12l5 5m-70-37l2 8m-132-6l-3 10m-12-1l0 12m-56 7l1 4m-122-19l3 9m-20-18l3 8m-36 6l2 2m-11-22l4 3m-101-5l7 5m-9 9l3 3m-141-12l11 3m-118 43l17 16m-9-24l21 18m-4-11l26 22m3-17l10 9m29-12l10 4m234 18l5 7m29-19l10 6m-8-14l4 5m3-17l2 6m44 27l4 8m8-36l3 4m75 11l1 8m3-9l3 7m30-7l0 4m127-26l2 3m154 28l7 8m54-29l11 7m61-5l3 3m107 22l5 2m58-40l9-13m5 46l8-9m-6 6l11-15m-9 1l10-13m-4 32l21-21m22 2l20-27m-16 28l18-25m97 74l5-18m-59 26l8-14m-76 14l19-28m-39 30l9-10m-9-23l16-21m-158 50l3 1m-59-26l7 5m-223 17l2 2m-136-8l2 6m-147-6l3 7m-35 2l6 2m-130-25l5 4m-19 10l11 7m-32-29l7 6m-66 16l2 1m-8-18l5 3m-8-9l4 4m-27 12l8 2m-45-7l6 2m-34-13l6 5m-147 18l28 22m-39-28l13 12m-39-25l15 13m-36 1l20 20m-40-19l19 15m-40-20l11 9m-15 2l19 15m-81-19l24 34m-38-37l22 31m-23-12l13 22m-46-36l4 17m-10-5l8 39m-15-48l7 33m-7-27l9 33m-14-29l6 29m-35-34l2 20m-5-23l2 18m-10-33l5 39m-11-3l3 40m-1-46l0 32m25-9l3 34m7-30l2 26m-2-28l2 12m31-4l6 19m-4-35l5 15m10-14l4 13m4-27l13 31m6-6l13 27m42-44l20 17m18-32l10 8m1-9l11 8m4-5l15 13m-6 10l14 12m10-28l9 7m237-11l12 7m52 19l10 4m147-22l8 0m184 6l16-1m30 7l13-1m117-17l7-1m2 31l7-3m17-8l14-3m53-5l13-6m69 8l11-2m100 7l24-17m7 12l15-13m1 27l26-20m-26-4l31-28m-1 40l12-13m-6 21l15-21m-13-9l23-32m-14 41l12-16m16 42l20-27m49 11l12-40m-8 28l7-28m-3 34l12-40m42 58l4-23m2 4l7-23m-6 16l5-22m-2 26l6-26m-5 78l5-19m-51 8l9-26m-10 36l13-40m-17 20l4-28m-26 31l6-33m-34 68l8-16m-14-18l5-11m-49 20l12-13m-21 18l14-14m-36 19l21-21m-26 27l30-30m-64 26l23-19m-32 11l10-7m-19 9l13-12m-914-8l13 1m-373 36l12 15m-20-21l13 20m-26-18l13 20m-13-44l23 30m-26-21l10 15m-24-8l16 36m-23-34l12 32m-12-55l4 11m-15 6l8 20m-13-18l13 40m-34-62l7 19m-11-20l6 17m-47 15l1 16m-13-26l1 24m-9 10l2 26m3-7l3 18m4-28l1 16m0-31l3 34m17-19l3 20m4-32l3 16m6-13l7 36m10-20l7 19m-6-36l6 17m-4-13l8 24m-5-4l4 12m-3-32l11 31m67-48l7 12m4 4l13 17m1260-16l24-25m-19 7l16-18m14 21l16-21m-13 25l23-26m-12 40l25-25m-19 39l21-21m18 7l12-23m-4 37l18-34m-16-1l17-37m-8 73l8-13m2-15l16-28m12 31l17-39m-7 58l7-12m51-4l4-11m-11 44l8-20m-42 18l4-11m-15 14l7-15m-15 10l11-28m-75 32l18-31m-27 26l9-15m-15 15l15-22m-19 23l8-13m-30 9l13-18"/>
<path stroke="#0d84f4" stroke-width="2" d="M1285 794l4 4m-202-7l2 6m-210-2l1 3m-3-7l1 3m-2-6l0 3m-61-5l0 2m-8 3l5 4m-124 0l3 3m-13 4l2 1m123 30l3 3m28-3l4 4m40-3l1 4m30-31l4 3m-4 1l1 2m12-1l1 3m30 16l1 3m3-17l3 4m74-4l1 5m7-21l1 3m45 4l0 4m9 23l1 3m6-2l2 6m-2-8l1 3m21-3l1 4m67-14l3 5m24 7l0 3m9-7l1 5m47-13l1 3m0-10l3 3m-2-18l1 2m108 56l2 3m-88 3l2 4m-4-24l2 4m-78 21l2 2m-10-15l1 3m-78-12l2 3m-3 1l1 4m-112 18l1 4m-15-37l1 5m-5 13l0 4m-92-4l1 3m-103-16l3 3m-4-10l2 1m-16 21l2 5m-81-9l3 3m-109 33l2 3m127-16l1 4m135 7l2 4m31 0l2 3m63 2l1 5m1 10l1 4m57-22l1 2m6-14l1 3m68 10l0 3m1 2l2 5m124 3l1 4m13-32l2 3m28 12l1 3m117-3l3 2m22 23l3 3m-13-7l3 1m-28 20l2 3m-64-7l2 2m-197-5l1 3m-307-13l2 4m-7-2l2 4m-35 20l1 2m-15-28l2 3m-68-1l3 2m-58 6l3 2m-57-5l2 1m-18 38l3 1m170 13l5 3m173-7l2 3m137-13l1 5m61 22l1 2m4-35l1 6m19 7l4 4m90 0l2 4m48-2l3 2m16-5l2 1m66-1l3 4m57-21l4 3m-43 71l4 1m-23-20l2 1m-48 5l5 2m-18 1l2 2m-22-11l3 3m-33-2l5 3m-71 7l3 3m-37-28l4 4m-8 23l3 3m-125-10l2 5m-5-1l2 2m-27 3l2 4m-8-34l0 3m-52 3l1 2m-9 14l2 3m-14 1l2 5m-17-22l2 4m-92 15l4 3m-108-2l2 4m-193 39l7 2m3-8l3 1m105-17l4 3m30 19l6 1m217-3l8 0m33-21l3 2m45 5l4 0m22-4l4 1m9 6l4 0m106-1l6 0m52 4l5-2m24 4l8-1m13 8l6-4m132 5l6-2m64 1l8-4"/>
<path stroke="#1592f9" stroke-width="12" d="M823 1000l23-6"/>
<path stroke="#1592f9" stroke-width="9" d="M861 788l19-3m-9 36l16-2m-46 130l17-2"/>
<path stroke="#1592f9" stroke-width="8" d="M164 1292l44 0m148 0l69 0m194 0l44 0m0 0l41 0m0 0l158 0"/>
<path stroke="#1592f9" stroke-width="6" d="M865 787l11-2"/>
<path stroke="#1592f9" stroke-width="5" d="M1176 1098l15-4m-410 0l13 3m372 46l16 17m-273 4l9-11m-434 23l13 5m-255 1l18 22m1050 27l9 4m-510 17l17-10"/>
<path stroke="#1592f9" stroke-width="4.5" d="M1066 1098l12 21m696 75l8-9m-586-21l18 16m-412 82l19-11m833 48l22-12"/>
<path stroke="#1592f9" stroke-width="4" d="M1160 787l3 9m-157-4l0 9m-89-22l6 8m-150 7l8 7m-192 15l8 6m186-21l5 10m6-6l4 5m89-3l3 11m235-11l4 6m170 55l4 7m-58-13l1 6m-201-18l4 11m-180 9l6 11m-19-40l4 8m-7 8l5 6m-98-16l7 9m-45 16l7 7m-121 3l3 6m64-7l11 7m43 26l7 8m14-40l8 10m-2-11l8 7m401-8l1 8m139 30l4 4m40-16l3 4m-7 42l3 8m-6-20l1 5m-511 5l4 7m-63-8l8 4m-87-22l6 8m-158 22l5 1m33 0l12 3m95 22l6 5m140 5l8-3m130-5l0 11m19-34l4 8m118-11l7 10m26-7l2 5m148 28l2 4m25-27l4 5m107-1l4 5m53-15l10 8m-264 41l5 5m-45-6l3 6m-188 0l4 10m-11-5l2 5m-77-28l3 6m-16-8l2 6m-128-5l8 9m-41 10l7 5m-54-15l8 4m-161 53l16 3m252-33l6 2m31 7l6 2m58-9l7 5m56-8l8 4m70 18l10-1m18-5l8 0m82-6l10 2m280 1l10-3m-463 37l11 2m-188 6l30-1m-88 17l19 0m-65 2l24-1m-74-1l11 3m174 57l13-14m-28 47l12-11m-619 59l8 8m357 37l14-1m333-14l11-1"/>
<path stroke="#1592f9" stroke-width="3.5" d="M1039 788l-1 5m-21-4l2 10m-27-21l0 8m-3-2l5 11m-102-4l5 7m-33-23l3 6m-264 24l8 5m148 8l7 5m34 11l7 8m23-13l3 6m25-31l6 10m5 6l7-1m-3-9l3 6m146 2l0 12m366-4l5 4m-7 13l7 3m-25-2l4 4m-425 20l8 9m-374 10l10 3m173-8l4 9m76 28l2 5m8-44l0 6m178 18l1 12m1-20l1 7m19-7l7 9m-4 10l2 10m96-9l4 4m45-39l7 7m192 15l6 5m-5-13l9 7m32 3l11 6m-61 32l11 7m-191 3l0 9m-83-9l0 6m-163-25l1 12m-17-26l3 7m-74-1l3 11m-5 12l3 7m-33-24l2 6m-38 12l8 9m-13-15l11 4m-203-18l9 10m68 37l9 7m32-8l4 8m48-18l3 8m462 12l3 7m16-6l3 5m82-25l9 8m83 62l6 2m-300-31l6 8m-48-8l2 8m-71 23l8 1m-48-13l1 5m-7 2l12 5m-268-34l5 4m-153-4l6 7m-33 23l11 5m209 29l10 2m127-7l14 1m-12-13l13 2m349 24l11-5m-9 5l8-4m-7-1l15-7m-5 6l13-6m-12 11l16-8m14-21l9-4m-5 25l17-8m-54 20l12-6m-14 18l11-6m-13 9l10-5m-43-8l9-4m-20 13l17-8m-20 30l12-6m-15-14l17-8m-501-5l17 1m-68 29l17 0m-198-12l8 1m173 47l25-13m494-3l11-5m311 59l11-5m-146 82l28 1m-479-7l16-18"/>
<path stroke="#1592f9" stroke-width="3" d="M1457 787l22-19m-490 22l2 8m-67-11l4 4m-12-20l5 12m-103-8l6 8m-101-3l4 5m-20-20l10 7m-184 9l32 25m-35-27l34 23m-50-26l10 9m-8 33l19 15m-18-21l25 20m-23-21l9 7m-6-13l20 16m-19 12l13 11m-10-32l32 22m21-26l10 4m130-8l6 7m2 28l5 10m130-19l6 6m98-5l3 6m21-28l4 8m108-13l0 7m368 12l13-12m7-9l22-17m27 84l12-13m-16 6l10-9m-33-7l32-27m-68 30l16-12m-205 28l4 6m-67-23l6 8m-12 14l2 7m-378-27l3 9m-188 1l8 5m-137-20l9 8m-19 19l27 22m-30-30l19 15m-69-25l30 21m-17 38l33 25m-32-43l26 22m-19-28l28 31m-22-22l26 21m-20-5l26 24m-24-52l26 25m-24-15l20 16m-10-4l11 10m-7-3l10 9m111-28l9 4m151-12l6 8m197-8l0 6m171-4l2 5m135 19l5 4m229-2l18-18m-18-9l14-17m-6 47l19-15m-19-11l8-9m18 74l14-17m-17 16l11-14m-16-1l10-10m-14 20l14-14m-14 9l9-10m-12-15l9-9m-12 40l26-28m-31 1l9-9m-53 34l17-17m-23 10l15-15m-19-6l16-17m-306 51l4 4m-86-24l3 8m-377-11l9 9m-257-15l9 8m-24-16l31 28m-31-19l23 19m-37 8l12 11m-13-29l18 15m-18-27l15 13m-16-4l17 20m-20-33l30 30m-46-4l11 8m-13-1l11 9m-14-19l27 26m-31-15l31 28m-32-52l21 21m-27-21l21 21m-38 40l27 18m-15-37l13 10m-5-8l25 23m-19-2l31 25m-28-39l13 12m-4-30l9 8m-6 2l15 16m-5-19l11 9m60-2l11 5m365-12l1 8m206-13l2 8m203 3l3 4m172-20l16-14m-9 15l13-14m-12 15l23-23m40 37l17-19m-17 29l19-18m0 27l11-17m45-8l11-14m158 73l4-15m-22 5l0-4m-7 22l3-13m-24 8l6-21m-15 22l6-24m-12 8l4-11m-8 15l6-19m-27 25l14-25m-60 18l14-22m-15 35l16-32m-21 33l7-12m-8-5l12-25m-49 40l13-15m-26 1l15-18m-16 22l7-9m-29 8l27-27m-35 18l20-25m-364 46l12 3m-218-17l6 10m-601-22l25 28m-31-17l35 26m-78-12l24 24m-28-43l19 20m-25-16l25 20m-26-17l23 19m-32-24l21 19m-24 1l19 14m-19-22l25 21m-25-16l10 10m-11-34l26 25m-29-16l14 11m-26-3l17 13m-23-6l17 14m-20-18l25 23m-25-19l24 19m-45-25l31 28m-34-37l21 21m-24-2l26 22m-28-27l27 20m-65-16l12 16m-16-23l16 23m-24-32l8 16m-16-27l16 33m-17-30l12 22m-47-24l6 11m-24-5l8 35m-22-22l3 17m-5-15l3 28m-27-30l3 21m-16-33l2 21m-1 37l0 34m3-48l3 15m-2-30l0 32m11-30l4 37m-3-42l3 20m-1 8l3 30m2-31l1 12m2-37l2 14m11 10l4 40m4-44l4 26m6-25l6 21m-5-24l4 16m2-12l9 41m-6-33l5 11m5-25l9 28m-9-13l9 31m0-46l7 23m-4-17l10 26m-9-23l11 26m-11-30l13 31m-11-27l10 28m-6-58l3 6m9-4l15 24m-14 3l18 38m-17-53l14 31m8-11l21 23m-2-44l21 24m-19-27l21 22m-17-3l24 32m-21-53l31 28m-30-10l20 22m-19-26l8 9m-6-3l13 13m-6-15l9 8m-5-1l30 30m-24-44l16 12m-14-11l22 17m-20 1l9 10m31-16l26 18m3-50l13 12m266 13l10 3m101-19l9 4m259-4l14-5m123 21l11-1m319 8l7-2m11-1l17-15m-3 18l16-15m2-5l29-25m-18 47l17-14m-14-12l26-22m-22 27l13-12m10 32l19-17m-11 22l17-20m-13 11l11-11m-9 2l13-13m-12 29l22-20m-16 6l14-17m-7 18l17-20m-13-2l13-22m2 43l17-27m18 26l17-32m-15 18l20-36m-14 36l10-19m-7 30l5-13m-2-6l12-26m-7 48l12-27m-2 33l11-41m-10 21l3-11m-2 20l7-29m-6 39l10-36m-10 9l7-19m-4 24l10-32m-6 60l5-24m-4 16l3-14m3 24l3-11m1-15l7-31m-3 46l7-31m11 28l5-19m1 33l8-25m14 17l4-20m2 30l4-21m-4 11l9-39m-2 51l3-14m-2 4l3-15m-3 32l3-8m-10 2l8-33m-9 72l10-33m-20 1l4-12m-8 14l5-24m-7 40l7-23m-14 16l3-22m-3 17l4-18m-5 29l3-14m-11 6l3-11m-6 33l11-39m-19 37l13-36m-42 26l9-28m-15 18l6-42m-9 58l5-12m-8 6l6-11m-7 11l10-27m-13 10l14-39m-22 51l14-35m-17 21l13-32m-21 53l16-33m-30 36l20-37m-26 44l18-28m-21 18l11-17m-13-4l10-15m-16 42l25-31m-34 9l25-29m-30 46l22-23m-27 7l13-17m-13 35l23-23m-25-5l16-16m-21 50l26-27m-28 18l29-27m-38 10l17-16m-18 33l12-11m-28 3l13-13m-1109-5l11 5m-186 29l27 22m-44-53l30 28m-36-26l28 31m-40-15l7 10m-13 1l8 10m-8-11l26 33m-27-59l20 22m-34-27l20 25m-26 9l22 35m-32-42l17 32m-18-23l20 37m-20-69l18 24m-22-23l17 25m-29-21l10 37m-12-15l11 23m-14-48l9 41m-21-22l9 25m-21-33l5 16m-19-33l5 13m-12-3l8 32m-22-37l0 18m-1 8l4 30m-17-26l5 36m-24-68l4 34m-5-5l2 22m-4-23l1 28m-8-22l2 26m10-15l4 43m7-52l0 20m1-7l2 14m1-27l6 39m-6-14l3 19m9-31l3 12m-1-23l2 14m3-5l5 39m0-49l4 17m-1-1l12 33m-2-27l10 31m2-50l10 29m0-32l3 12m-2-2l13 38m-8-45l9 30m-7 3l5 12m-4-43l5 13m-3-10l6 21m-5-28l10 30m0-16l6 15m-4-7l10 29m-2-46l18 41m-15-46l7 16m0 6l8 12m5-33l20 32m-8-11l17 21m-12-46l17 24m-4-21l16 20m4-19l15 21m1232-18l25-30m-3 48l32-27m-28 24l12-12m-7 14l16-15m-5 15l8-9m-7 15l11-12m-10 16l27-23m-19 23l18-19m-18 14l28-32m-25 17l19-20m6 16l8-11m-4 26l13-18m-7 27l6-10m-5 14l15-33m-11 33l7-15m-6-6l8-16m-4 12l17-32m-13 33l17-36m-2 38l15-31m-12 19l10-17m5 33l9-16m-8 11l9-18m-5 17l8-13m2 0l18-35m-17 52l8-19m-7 12l7-14m1 21l20-37m-8 22l8-18m-4 40l11-21m-3-1l11-41m-10 55l15-39m-14 27l7-29m14 37l7-17m11 13l4-18m-27 57l14-41m-19 37l9-20m-30 28l12-28m-13 27l11-23m-13 19l17-35m-18 28l4-11m-48 11l6-14m-33 21l5-10m-7 5l18-37m-29 44l6-14m-38 8l10-12m-1481 9l1 10"/>
<path stroke="#1592f9" stroke-width="2.5" d="M1170 791l4 12m-45-27l2 4m-100 13l-1 7m-13-30l3 7m-23-4l1 6m-34-7l4 7m-79-7l3 4m-15 15l0 3m-37-24l4 11m-61-11l3 3m-248 14l16 15m-28-27l18 14m-28-12l34 25m-49 11l23 22m4-15l17 12m0-23l9 7m98 13l4 3m61-30l7 11m50 16l6 9m18-14l6 10m24 5l3 7m26-45l1 5m177 6l3 10m84-12l1 5m95-6l6 7m190 3l7 8m4-1l4 2m75-17l11-9m5 30l8-9m-8 40l14-15m-271 28l1 2m-97-4l2 7m-82-28l1 6m-9-9l3 9m-23-14l0 4m-4-7l-1 9m-110 1l3 10m-78 13l5 6m-48-6l7 7m-9-32l7 9m-132-12l6 11m-176 1l20 20m-22-31l20 17m-28-11l16 13m-20 16l19 17m-8 11l8 7m13-23l3 3m110-6l10 4m-7 18l3 4m101-12l4 10m115 2l1 2m110-16l2 3m95-11l2 5m90 9l2 5m162-8l8 10m100-3l6 4m30-10l7-8m29-4l24-19m18 77l12-13m-24-9l12-16m-14 4l18-20m-29 50l26-31m-64 32l18-15m-246-11l3 6m-34 19l4 5m-38-20l3 12m-165 6l-2 10m-52-4l5 11m-72-48l4 12m-52-2l2 5m-82 4l4 4m-146-4l11 6m-60-2l8 5m-51-20l7 5m-78 16l18 19m-24-45l24 21m-33 7l12 10m-35-26l20 13m-72 32l9 8m40-6l18 17m-12-10l15 17m243-40l6 7m33 19l2 4m18-17l2 4m3-19l5 7m63-12l5 8m89-4l0 5m50 12l1 11m159-33l4 11m65 3l5 11m23-25l2 3m127 5l3 2m34 4l4 3m163 2l16-20m-8 39l16-21m186 62l3-22m-81 19l22-41m-80 36l14-20m-32 27l20-32m-52 4l23-30m-33 42l23-22m-86 28l16-15m-80 19l11 1m-440-24l2 5m-19 4l3 5m-53-21l2 12m-6 22l5 5m-52-24l1 5m-91-15l2 2m-142 7l7 7m-26-17l10 7m-44 16l2 2m-214 5l24 18m-32-21l22 20m-22-39l31 25m-33-34l13 12m-21-6l18 17m-19-27l18 18m-79 0l22 17m-29-14l33 25m-46-12l22 18m-82-22l20 30m-65-43l10 27m-22-8l6 30m-12-29l5 38m-12 0l4 27m16-35l1 22m20-15l8 22m-5-37l4 14m30 5l16 30m-11-35l6 11m17-34l11 14m0-20l21 22m-17 11l19 23m-14-37l17 28m-17-33l8 8m5 4l21 19m-20-28l9 9m23-25l12 10m-9 19l24 21m48-54l18 16m-2 17l10 3m25-4l11 5m107-32l6 2m46-4l10 4m38 27l8 1m2-28l7 1m26 10l5 0m390-2l5-2m10-7l7 1m54 17l7-2m4 0l8-2m116 6l6-3m202-2l26-25m-26 17l15-12m-13 29l18-15m6-2l27-20m-16 20l16-15m-10 20l16-12m-15 18l9-8m-7-4l15-14m-14 12l16-14m-4 4l13-13m-4 43l13-14m11-3l17-29m-8 38l7-12m-7 17l14-18m11 13l19-37m-16 29l6-10m20 5l8-17m-1 23l10-32m-4 53l8-25m10 24l8-31m13 6l3-30m0 55l5-32m-1 10l3-19m5 31l5-25m-1 30l3-22m14 19l6-35m6 76l4-14m-40 19l9-29m-25 23l5-13m-20 9l9-22m-33 28l12-30m-17 21l7-21m-47 32l11-18m-29 23l7-9m-33-11l9-10m-17 25l8-9m-21-5l20-22m-21 17l17-18m-27 38l11-9m-36 3l9-9m-540-15l10-2m-192-1l8 1m-495 4l21 19m-39-9l29 20m-40-1l13 13m-23-30l12 14m-31-14l10 13m-24-1l22 28m-40-49l23 27m-25-30l23 28m-28-35l21 32m-21-30l10 15m-14 8l9 14m-16-24l23 34m-29-47l6 17m-20-6l7 19m-21-4l6 22m-25-34l11 28m-12-14l15 37m-51-34l1 20m0 19l2 12m23-37l10 30m0-25l3 12m-3-10l11 38m-4-23l6 19m-2-34l8 29m5-22l5 17m2-28l9 31m-7-15l5 13m22-24l15 31m-13-32l20 34m1320-18l22-24m-15 10l22-23m2 15l19-21m-11 39l16-19m6 18l21-34m-13 15l16-30m19 36l5-13m2 25l16-36m-3 34l18-38m13 50l22-35m-19 12l9-28m-6 31l5-11m30 44l5-11m-24 11l11-30m-23 29l13-27m-24 23l10-17m-18 21l17-35m-48 34l8-13m-34 18l14-31m-51 28l18-28"/>
<path stroke="#1592f9" stroke-width="2" d="M1258 767l4 4m-167 0l0 4m-80 22l1 3m-6-30l0 5m-113 17l3 4m-170-14l4 3m-23-12l4 1m-39 58l4 3m48-16l2 2m61-14l3 3m104-8l1 5m34 29l2 4m24-23l2 5m17-9l4 4m38-2l1 2m22 8l1 2m76 8l2 3m172-18l2 4m114 53l2 1m-30-35l3 4m-10 22l2 2m-17-22l2 4m-174 9l1 2m-182 10l1 5m-2-7l1 3m-15-28l1 3m-32 17l1 3m-50 0l1 2m-50-6l2 5m-53-4l2 3m-76-20l3 5m-30-13l3 3m-6-1l5 2m-15 20l3 1m-93-24l3 2m37 48l4 4m64-2l2 2m31-14l3 4m14 23l2 3m118-6l2 2m83 1l0 3m10-19l2 4m15 1l1 4m50-11l2 4m14-11l1 2m11 25l2 4m62-27l2 2m69 5l2 1m104-5l2 1m32 22l4 3m106-30l3 1m-46 56l4 3m-59-15l4 3m-118 7l3 2m-12-9l2 1m-138-16l1 5m-6 31l0 3m-39-17l-1 3m-162 2l-1 3m-58-4l2 4m-224 36l3 3m32-3l2 2m136-12l3 4m9 12l3 3m116-20l2 3m154-12l2 5m5 23l2 4m90 0l4 4m65-43l2 2m23 13l2 3m191 19l3 1m-20 21l3 3m-51-20l4 3m-58-1l3 3m-88 12l2 3m-45-15l3 3m-53 3l2 3m-108-16l2 3m-9 35l5 2m-16-24l0 4m-75 6l3 3m-153-11l2 2m-119-13l4 2m-180 3l3 1m109 36l4 0m37 14l5 1m5-24l4 3m91 12l4-1m48 14l7 0m279 1l6-1m109 10l5-2m35-22l5-2m131 1l4-1m40 6l5-4"/>
<path stroke="#1e9fff" stroke-width="8" d="M1059 1292l117 0m316 0l107 0"/>
<path stroke="#1e9fff" stroke-width="5" d="M349 1179l12 10m1297 51l15-9m-895 10l14-8m-591 58l8 9"/>
<path stroke="#1e9fff" stroke-width="4.5" d="M739 1189l14-7m-558 110l7 8"/>
<path stroke="#1e9fff" stroke-width="4" d="M1102 786l2 13m-288-22l6 11m-126 9l4 6m307 29l0 5m71-3l-1 12m35-8l1 7m88-45l6 6m-110 72l2 10m-93-29l5 5m-42-17l1 9m-68 6l6 3m-243 6l9 3m442 17l3 12m212-21l10 6m13 29l4 5m-36 34l6 7m-284-24l2 7m-73-21l1 6m-91 19l2 6m-183-15l7 2m-98 45l6 3m3-21l8 8m283 8l6 9m120-17l1 5m86-6l0 8m76 13l4 7m3-35l2 10m117 45l6 6m-81-28l6 8m-114 0l4 9m-13 6l4 8m-422-24l7 7m-177-12l5 3m251 60l11 1m537-10l7 1m63-1l14-3m-653 53l17 0m-28-10l17-1m-53 13l22 0m-74-10l17-1m57 20l30 1m-20 3l27 1m41 127l15-10m-489 45l17 10"/>
<path stroke="#1e9fff" stroke-width="3.5" d="M1286 777l5 5m-144 4l4 10m-23-8l1 5m-125-9l1 8m-136-6l9-1m-15-18l5 10m-55 16l4 4m-75-6l7 10m-36-29l7 7m-30-2l6 10m-100 21l10 4m70 17l11 7m203-14l-1 10m35-28l2 12m100 18l3 6m26-40l3 6m77 3l3 7m176-11l6 9m-139 65l3 6m-267-19l1 12m-33-6l7 9m-108-15l2 5m-19-1l5 4m-18-32l5 11m-16 62l9 9m115-8l6-1m126-23l2 7m23 12l2 10m429 20l4 4m-98-9l4 4m-615-1l5 11m-100 38l4 5m168 0l1 11m77-15l1 7m188-10l1 12m397 2l9 8m-125-6l5 6m-135 18l7 3m-102-13l1 7m-89-9l2 9m-84-1l4 6m-423-14l8 5m886 78l16-7m-169-4l11-5m-26 14l8-4m-15-11l17-8m-30 13l18-8m-57 37l14-2m-22-7l15-8m-416 1l10 0m-118 12l23 0m-25-6l12 0m-26 2l17 0m-59 6l17 0m-26 0l11 0m260 76l17-20m-768 18l12 18m412 19l16 0m12-1l16-1"/>
<path stroke="#1e9fff" stroke-width="3" d="M1488 789l26-21m-641 24l6 9m-137-14l8 4m-197-19l12 10m-23 1l16 10m-22-25l27 21m-29 5l25 19m-46-1l26 21m-16-22l33 29m-25-11l22 16m-17-13l16 13m133-14l7 6m74 1l5 6m62-36l3 4m295 0l4 9m299 18l4 4m59-27l27-27m-10 40l10-10m-9 12l20-20m-24 29l9-11m-25 34l21-21m-44-2l16-14m-299 18l-1 11m-201 20l1 6m-60-13l3 7m-8-14l3 5m-216-5l5 7m-139-1l11 4m-63-1l22 19m-30-49l22 17m-34-3l29 27m-46-6l23 22m-33 22l32 28m-26-33l20 17m-13-30l22 17m-20-2l10 9m-8-12l9 8m-7-32l9 8m4 4l11 8m-7-4l12 11m-8 3l14 12m89-51l8 7m249 27l4 8m86-5l0 9m162-10l4 6m228-5l6 10m22-26l6 3m58-20l5 5m32 17l14-13m-12 24l16-16m-14 6l12-13m41 41l25-25m-31 34l17-17m-52 16l20-21m-27 1l9-10m-153 12l5 7m-99 8l4 5m-142-19l1 5m-162 5l-4 12m-22-21l0 8m-74-2l4 9m-63-9l6 10m-301-16l22 20m-33 6l12 11m-18-38l9 7m-15 8l17 14m-19-34l22 20m-30-20l19 16m-23 20l16 15m-17-15l12 10m-14-12l11 11m-29-7l15 11m-46 29l22 18m-2-56l15 16m-15 14l15 13m-2-38l18 15m-14-4l16 18m-9-26l26 21m-23-8l30 26m47-13l9 7m126-25l6 4m16-16l6 6m20 28l4 5m145-20l3 9m9-20l1 8m27-3l3 6m20 9l-1 12m92-12l2 12m66-15l0 12m5-32l4 9m167-13l8 6m235 13l22-23m-18 32l20-19m-18 6l10-12m55 29l23-24m171 53l4-14m-26 0l4-8m-6 28l5-19m-23 17l16-25m-20 30l5-13m-10 7l18-29m-39 24l6-10m-22 17l19-30m-24 35l8-13m-11 12l21-37m-44 30l18-34m-20 22l9-18m-14 30l6-11m-34-2l13-15m-28 22l10-7m-22-12l15-16m-35 26l14-12m-19 24l10-9m-58-15l11-11m-25 48l10-4m-194-35l2 6m-248 3l0 7m-60 17l6 5m-109-16l5 3m-138 0l9 5m-29 1l6 5m-299-29l10 10m-19-16l10 9m-13-5l12 13m-23-11l32 27m-35-22l11 8m-12-9l24 17m-27-17l15 13m-16-6l25 23m-26-8l21 22m-23-27l9 8m-9-19l25 21m-34-34l22 18m-31-12l30 26m-41 3l11 9m-12-44l12 11m-16-10l19 20m-25-19l25 26m-47 2l19 21m-23-33l23 19m-26-32l22 24m-47-22l16 15m-22-13l24 21m-93-4l6 11m-8-12l6 17m-12-17l9 22m-9-43l18 25m-53-8l3 12m-7-11l9 32m-14-44l7 23m-7 0l6 23m-19-22l2 22m-6-28l4 23m-11-20l3 21m-12-23l4 24m-9-26l0 12m-5-25l4 40m-15-7l3 34m7-29l0 22m4-13l2 26m2-12l2 19m1-39l2 20m8-24l1 14m3-23l1 20m0 5l1 24m0-22l3 20m5-22l6 28m-3-35l3 26m-3-16l6 32m2-39l13 37m18-27l12 40m-6-59l12 23m20-37l13 17m-9 7l11 19m4-35l23 33m-17-9l22 26m-15-52l26 28m-15-19l24 32m-19-13l11 14m-4-52l14 11m-11 24l13 13m5-16l19 11m-6-21l14 11m-13 6l18 14m-9-52l21 16m-15-13l10 7m-9-1l15 10m-15 5l34 25m24-42l11 9m846-11l7-2m226 5l19-17m-14 14l8-6m-3 17l21-19m9 11l14-11m2 27l22-20m-15 15l9-8m-8-5l22-21m-16 39l19-19m-14 11l26-22m-20 11l13-11m-6 44l11-10m-8-10l29-28m-21 23l9-11m-8 31l25-26m-25 30l20-20m-19 9l8-8m2 13l23-33m-23 26l17-16m-15 6l9-11m-6 4l21-24m-10 32l10-15m-6 21l17-25m-1 19l19-31m-5 49l9-16m-3-12l18-25m-16 34l17-32m1 56l10-19m21 6l5-22m-5 6l5-29m-4 34l4-23m14 25l4-17m-1 38l6-29m-4 22l6-22m8 14l2-12m10 22l4-20m1 16l7-29m3 22l9-28m-1 50l1-14m-7 38l5-21m-12 20l6-31m-12 43l7-25m-23 13l9-39m-9 47l6-19m-10-4l6-27m-6 48l9-33m-14 24l7-35m-8 29l7-37m-15 54l4-11m-8 13l6-23m-16 18l10-28m-10 35l16-39m-21 28l7-21m-9 12l7-16m-18 11l10-38m-11 57l9-20m-47 20l17-36m-19 23l14-27m-19 38l13-22m-13-4l7-10m-20 42l15-18m-20 14l8-8m-8-4l20-19m-25 27l10-10m-14-6l21-22m-22 18l21-24m-22 26l11-9m-15 23l29-31m-34 28l13-14m-20 22l9-8m-12-8l22-26m-23 24l16-15m-26 30l12-11m-21-2l26-24m-34 43l18-20m-25 2l16-15m-1227 29l7 6m-31 3l8 6m-10-31l21 15m-35-20l21 15m-25-4l24 21m-28-12l8 9m-9-5l29 23m-31-44l17 14m-23 13l24 24m-29-56l23 25m-44-31l14 20m-17-7l11 14m-11-18l11 15m-13 6l16 18m-24-47l20 22m-25-11l24 27m-31-6l19 26m-20-41l17 24m-35-21l11 30m-16-16l11 30m-13-49l7 25m-11-21l11 36m-17-43l8 25m-12 1l14 39m-24-74l4 13m-6-10l7 23m-22-19l6 23m-8-14l15 39m-31-28l6 29m-10-55l12 38m-16-10l2 16m-14-26l0 22m-6-16l3 34m-7-58l1 16m-13-9l1 12m-2-16l3 39m-8-24l2 42m-7-12l2 20m4-31l3 41m11-15l2 13m-1-30l6 31m-2-11l3 21m7-26l4 25m-4-49l3 38m1-29l1 14m1 8l4 18m5-42l7 34m-1-15l4 18m-4-41l12 34m-12-28l10 29m-10-7l4 11m-3-41l5 24m4-6l6 19m-5-24l12 34m-12-47l14 35m-9-10l4 15m-3-14l5 22m-5-34l9 29m-5-44l11 34m-9-25l3 14m1-10l5 20m-3-17l9 33m-8-40l7 17m-1 8l7 17m8-40l8 22m-6-27l8 23m-7-9l9 28m-6-13l5 14m1-40l5 13m-3-10l13 36m-9-37l18 37m-1-36l15 27m6-40l9 13m-6 0l11 16m-3-1l9 12m-6-18l7 9m1276-24l29-30m-27 27l21-21m-8 33l8-8m-6-4l18-21m-15 45l7-7m-4 4l22-21m-12 34l21-22m-15 10l9-11m-6-15l15-16m1 23l11-12m-3 17l11-14m-11 27l21-31m-21 43l13-17m-4-14l8-12m1 13l15-30m-13 25l9-20m-1 35l7-12m-4-4l16-37m-11 55l14-27m-14 23l10-24m15 25l13-31m-10 40l8-18m-8 27l5-11m7 9l16-34m-9 1l6-11m-3 25l7-17m-3 31l17-38m-15 34l12-30m-11 35l13-23m-4-1l6-17m-2 41l13-20m-5 23l14-36m-11 11l6-19m2 26l7-27m0 35l13-30m-12 40l5-11m-11 29l9-25m-15 21l8-19m-29 21l14-37m-37 36l6-13m-45 19l8-18m-9 17l22-40m-28 38l16-42m-30 36l14-24m-20 24l12-20m-22 16l15-23m-20 25l17-29m-1519 27l1 10"/>
<path stroke="#1e9fff" stroke-width="2.5" d="M1071 777l0 5m-38-2l0 6m-103-1l0 3m-105-1l3 9m-41-28l6 6m-54-8l2 5m-208 34l14 11m-12-2l11 9m118 1l3 2m3-12l6 7m0-14l11 6m25 6l8 9m135-4l4 4m163-1l7 10m19 0l0 3m28-16l2 5m190-10l4 9m198 9l13-11m10-14l26-24m-1 51l23-22m9 60l9-10m-41 1l31-28m-357 15l0 8m-34-9l6 11m-160 14l0 3m-26-19l1 7m-35-27l3 4m-37 15l3 12m-9-5l5 4m-69-1l5 9m-141-24l4 3m-72 7l4 3m-70 2l10 6m-96 28l23 22m-19-25l19 15m-16-17l16 13m8-20l21 19m97-24l9 7m194 6l4 8m173 2l3 6m29-28l5 11m-3-10l1 12m61 5l1 6m120 3l8 9m95-46l3 5m13 10l2 3m189 1l11-10m8 63l7-10m-288-22l4 4m-264 13l2 4m-11 18l4 9m-129-43l6 8m-46-2l0 2m-132 3l9 9m-9 14l9 9m-126-48l3 1m-107 11l21 19m-32-25l21 16m-26 7l8 8m-14-14l30 25m-34-29l16 15m-44 10l20 19m-15 3l21 16m15-16l16 12m-4-38l25 24m-23-20l20 17m114-9l5 2m13 15l5 3m222-17l6 10m50-3l2 6m25-14l1 9m32-5l1 4m1-10l0 4m105-9l0 5m170 9l4 11m7 3l3 6m236-38l6-6m-1 15l20-22m10 37l18-16m-6-4l22-28m-21 27l19-21m-19 32l28-32m0 47l22-26m151 49l4-13m-7 27l4-16m-14 23l9-26m-64 10l17-29m-55 42l12-18m-16-2l8-11m-22 25l12-15m-189-1l5 2m-23-10l3 2m-232 33l5 2m-53-29l6 8m-71 3l2 2m-27-5l0 5m-34-19l1 6m-30 14l5 7m-49-23l4 5m-24-3l2 4m-77 11l7 6m-24 6l3 2m-46-8l3 3m-230-24l3 0m-131-2l16 13m-19 11l13 11m-33-19l29 20m-53-44l32 27m-61-3l27 22m-42-22l24 20m-89-21l10 11m-44-22l6 11m-48 1l7 22m-13-25l6 19m-42-8l3 26m-17-27l2 12m-7-25l2 12m18 14l5 40m-4-33l1 14m8-1l2 13m47-15l4 18m-2-13l8 25m6-42l14 30m-14-25l9 31m1-23l15 32m4-46l11 15m-5-19l14 17m-9 13l25 31m4-63l14 12m3 14l14 13m-11-29l28 22m-13-6l15 10m-4-10l34 25m7-52l14 11m151 9l4 3m63 2l4 1m20-16l3 4m37 10l4 1m9 11l13 1m114-37l6 2m14-3l5 0m-3 1l4 2m30 22l4 0m58-18l3 2m199 14l3-1m93-7l11-2m124-7l10-1m132-4l23-20m-8 42l18-16m29 11l26-19m2 26l25-25m-7 35l12-13m8 12l14-18m-11 21l10-10m-4-12l13-19m-6 26l24-32m-16 22l7-12m-4 35l11-17m7-13l12-27m-11 49l11-26m-5 26l15-33m-4 25l11-37m-2 40l5-20m-1 30l5-18m-1 1l5-22m-3 30l4-20m0 7l6-35m-4 29l5-17m-3 16l5-27m18 60l5-38m2 38l4-34m32 11l4-26m-6 78l7-33m-17 29l4-17m-8 14l4-18m-64 29l11-24m-50 5l9-18m-17 23l7-13m-8 7l8-16m-22 32l21-32m-36 23l12-13m-18 14l11-11m-27 22l19-15m-62-14l32-27m-50 57l8-7m-1255 10l17 18m-21-41l16 25m-18-12l27 32m-32-25l19 23m-26-19l24 34m-37-56l12 16m-20 9l26 33m-45-48l23 33m-28-42l15 37m-21-41l7 17m-10 10l11 28m-15-34l14 38m-77-54l8 41m-12-28l6 42m-6-50l1 16m-4-25l6 27m-33 38l2 16m0-33l5 31m1-18l2 19m2-39l3 22m5-28l4 32m0-6l2 18m1-32l6 36m-1-36l9 33m-7-45l5 26m5-27l7 25m30-28l3 11m5-13l7 21m14 1l17 26m1-41l10 15m1-11l14 17m-7-23l12 21m-10-11l8 11m1295-15l19-20m-16 29l9-9m6-4l26-28m-16 54l12-14m-4-10l12-11m-9 40l5-6m-4-16l10-10m-10 26l22-24m-20 10l20-19m8 17l20-34m-18 27l15-21m53 40l12-30m-10 37l17-35m-9 2l12-38m-8 67l9-18m-1 13l14-29m2 17l4-11m3-1l9-33m1 82l15-29m-23 29l8-17m-37 11l10-21m-20 26l18-30m-77 24l9-18m-48 20l13-17"/>
<path stroke="#1e9fff" stroke-width="2" d="M1340 791l2 2m-209-21l2 5m-134 7l0 2m-59-2l1 3m-14 12l1 5m-11-32l1 2m-7 0l3 5m-13 15l3 4m-78-22l2 4m-116 8l3 3m-44 3l3 5m-54 14l4 1m7-6l4 4m-2 14l3 2m95-5l4 4m124-23l2 2m0 22l1 5m16 5l3 4m62-20l2 4m13-5l4 4m34 6l0 3m51-22l1 5m112-2l0 3m4 3l2 2m108 52l3 4m-51-17l3 4m-99-24l2 3m-35 9l1 4m-50 12l0 3m-76-13l0 3m-38-22l1 3m-89 30l1 5m-57-20l3 3m-119 12l4 3m-32-3l5 3m-12-29l3 1m-20 62l5 2m125-11l2 2m7-3l4 4m14-4l2 3m34-18l2 3m74-9l0 4m24 7l1 4m10 10l-1 4m62-14l2 3m81 2l3 3m97-9l1 3m3-6l2 2m84 9l1 6m29-28l2 2m115 28l4 3m5-28l2 2m-269 34l1 3m-119 34l4 4m-40-22l0 3m-55-20l1 4m-1 28l0 4m-23-37l0 3m-69 28l2 3m-56-22l2 2m-31 21l2 3m-65-13l3 5m-91-22l2 1m-31-11l2 2m93 53l3 2m-1 4l2 2m150-15l2 4m15 10l1 4m109 7l1 3m78-30l2 4m16 16l1 4m269-6l2 5m136 12l3 2m-202 24l4 3m-25-6l3 3m-154 3l2 2m-49-18l3 4m-95 5l2 4m-180-23l2 4m-44 22l2 2m-17-20l4 4m-210 27l3 1m233-3l6 4m91 4l3 2m17 21l8 0m409-10l6-1m73 0l4-1m36 17l3-2"/>
<path stroke="#2ca7ff" stroke-width="6" d="M873 786l14-2m-22 4l15-2m-11 34l12-2m-33 132l15-2m-16 3l14-2"/>
<path stroke="#2ca7ff" stroke-width="5" d="M998 1090l20 0m-608 166l25 12m813 13l18 9"/>
<path stroke="#2ca7ff" stroke-width="4.5" d="M404 1122l18 16m87 18l9 4m91-1l4 0m830-5l14 0m-1028 91l22 10"/>
<path stroke="#2ca7ff" stroke-width="4" d="M692 837l11 4m14-38l6 6m87 2l5 9m42 9l7 11m433 23l7 6m-112 9l4 9m-14-31l4 8m-220-23l1 8m-212 44l8 8m266-12l2 9m206-9l8 9m153 35l9 9m-177 7l5 9m-80-12l1 8m-11-20l5 10m-259 15l3 12m-214-38l10 5m16 46l4 7m124 3l10-3m266-10l2 7m21 6l1 12m247-27l6 6m-144 16l3 9m-414 5l7 8m658 19l8 1m-222 40l10-2m-275 19l17 0m-212 8l17-1m-54-9l15 0m-20 1l29-1m-36 12l28-1m-160 0l9 2m-480 68l13 19m1584 60l18-17m-843 36l23-2m-38-23l16-15"/>
<path stroke="#2ca7ff" stroke-width="3.5" d="M1413 780l5 2m-276 9l3 11m-167-10l-1 6m-126 6l8 7m9 9l6-1m53-9l1 5m144 18l3 5m211-32l8 4m106 49l7 6m-206-17l8 7m-168-12l1 10m-108 8l5 11m-150 6l6 10m-33-35l6 3m-51 4l7 7m23 51l1 7m215-38l2 7m94 22l6 10m178 24l7 10m-18-18l7 8m-70-4l6 9m-201-3l1 9m-109-14l3 12m-11-39l4 4m-91 14l3 8m-46-3l5 5m253 42l0 11m460-29l7 3m-77 62l13-1m-231-35l2 10m-289 12l8 7m423 39l9-4m4 4l16-7m-9 14l14-7m20-23l13-3m-5 12l12-5m-110 48l11-5m-14 11l15-7m-18-2l13-6m-42 16l11-6m-177 6l6 12m-352-7l17 0m-26 1l23 0m-57 3l12 0m952 162l12-7"/>
<path stroke="#2ca7ff" stroke-width="3" d="M1343 775l7 9m-484-9l3 13m-78 10l5 6m-243-36l13 10m-19-10l21 15m-28 3l12 8m-14-26l15 13m-38 15l31 29m-60 14l21 18m-9-24l28 23m-26-31l31 26m-19-19l30 30m-13-61l11 9m-5-2l9 8m3-15l14 11m-11-7l12 10m177 5l5 10m73-20l4 4m642 0l11-11m-6 2l7-6m-3 27l18-15m2 2l31-26m-14 39l14-14m-11-11l15-13m-4 72l8-9m-9 20l9-8m-22-17l25-23m-549 31l3 7m-36 4l2 7m-74-11l3 7m-220-15l8 3m-107-4l6 6m-33-3l11 10m-19 4l16 14m-43-22l10 7m-40 51l28 23m-23-31l32 25m-29-19l31 25m-9-57l10 10m2-9l21 19m-14 9l15 14m-12-26l9 8m-4-25l16 13m-14-9l9 7m96 19l9 8m54-4l9 8m258-15l7 8m514-9l20-17m-19-5l7-8m-4 31l21-28m-17 24l4-4m6-7l13-13m0 0l14-15m-6 21l20-22m-7 29l24-21m-8 71l19-18m-28 16l14-16m-52 1l12-11m-175 40l9 8m-201-38l4 7m-231 20l1 9m-53-13l7 9m-42-11l2 5m-74 1l5 11m-60-18l6 7m-45-1l10 7m-19-19l4 4m-8-21l8 4m-26-3l8 6m-78 24l7 2m-71-28l23 19m-23-19l13 9m-14-9l19 16m-20-14l18 18m-43 7l25 20m-29-43l9 8m-10 4l10 10m-13 0l33 26m-33-44l24 22m-25-20l17 15m-19-23l17 17m-30-5l18 13m-53 40l18 15m-5-31l18 15m-5-26l9 10m12 13l16 12m-15-20l21 19m-13-13l27 24m-19-22l16 14m-14-15l15 14m-13-32l14 14m-8-8l10 8m187-23l7 3m139-8l3 5m6-5l2 4m40 30l2 12m49-33l3 7m107-4l2 9m151-23l3 7m161-3l12 2m129-8l11-12m-3 36l19-23m20 7l25-26m-4 25l8-9m-6 27l17-22m-7 31l15-21m-15 11l17-19m187 69l6-19m-14 23l2-14m-28-2l10-19m-41 17l16-23m-18 32l17-24m-24 24l17-33m-21 32l22-35m-23 28l16-26m-24 32l18-29m-30 29l15-28m-35 20l5-10m-32 21l11-15m-27 5l8-10m-9 12l11-14m-13 0l11-14m-23 22l19-20m-23 27l26-22m-213 11l8 8m-318-17l3 8m-327-10l8 10m-335 3l22 18m-25-25l12 11m-30 3l30 27m-31-12l16 13m-19-48l29 26m-35 4l32 30m-33-59l17 14m-23 3l13 13m-22-13l21 19m-24-16l31 26m-31-26l12 13m-17 0l16 14m-41-28l9 8m-14-5l22 17m-28-7l24 24m-24-32l29 27m-32-19l21 15m-26-47l22 21m-50 2l18 16m-92-3l8 19m-9-43l10 25m-49-29l10 39m-12-13l4 22m-11-34l3 11m-7-16l3 14m-4-22l5 21m-13-1l3 18m-8-16l7 33m-35-42l3 30m3 17l0 18m3-41l7 35m1-36l5 40m-2-27l4 34m-2-33l0 14m20-2l4 28m6-35l2 12m3 0l9 24m-4-25l10 41m-8-42l8 33m-6-64l13 36m-9-4l12 36m-12-37l5 13m0-39l6 20m-1 1l14 38m-8-41l8 25m6-34l10 30m3-22l15 35m-13-43l8 14m6-14l15 23m10-23l23 28m-16-37l14 14m-13-10l19 20m-12-6l20 23m-18-49l25 23m-24-5l26 22m-26-30l21 19m-12-5l16 16m-8-8l32 21m-23-48l26 20m-23-22l33 26m-21-25l28 24m-28-4l10 7m19 5l15 12m-10-43l11 10m-9 3l10 7m21-15l11 9m278-7l12-1m-11 23l9 4m803-32l7-7m3 22l27-19m-22 23l10-7m-8 5l30-23m-6 5l15-14m-6 17l9-7m9-1l8-9m-5 8l21-21m-21 26l19-21m-2 45l28-26m-16 24l28-29m-12 36l27-26m-25 7l15-24m-14 35l14-20m-6 3l13-20m-7 45l21-32m-20 27l14-16m-8 4l17-27m-13 13l17-32m-16 48l12-22m-3 4l6-10m-5 16l7-12m4 39l19-38m-9 6l18-31m-16 40l6-15m-3 25l5-13m7 6l3-15m-1-1l7-15m-3 27l9-39m-8 55l5-18m-4 10l10-37m-9 50l4-25m-4 4l4-18m1 12l8-31m13 35l3-20m18 21l4-13m17 2l5-19m-5 46l1-16m4 1l4-22m-4 80l9-40m-10 45l9-27m-10 31l4-16m-7-1l8-35m-20 36l2-16m-5 14l6-23m-11 18l3-18m-6 35l6-34m-6 35l4-15m-7 7l11-36m-21 33l5-15m-16 13l11-36m-27 48l8-31m-9 27l11-23m-11 17l10-28m-35 13l5-13m-8 7l9-22m-9 35l8-22m-17 8l6-11m-8 41l10-20m-14 22l16-30m-23 30l6-11m-6-4l8-12m-12-5l13-19m-13 23l15-23m-18 27l21-29m-24 39l10-15m-12 2l22-28m-24 28l14-17m-29 21l14-16m-21 29l25-26m-27 3l16-19m-27 42l9-8m-17-15l25-26m-29 59l9-8m-11-2l27-23m-68 11l24-22m-27 22l26-22m-1225 12l19 13m-47-4l29 26m-33-18l10 9m-13-17l12 11m-16 3l29 20m-42-16l10 10m-16-8l14 17m-16-45l8 9m-9-6l16 21m-17 2l16 20m-16-32l26 29m-40-32l19 24m-23-17l27 32m-50-14l13 18m-14-17l16 20m-21-40l20 37m-21-41l5 11m-14 4l8 18m-20-27l8 27m-38-15l6 17m-6-27l4 15m-6-36l12 30m-16-20l7 17m-16-18l12 41m-14-45l5 35m-18-22l9 35m-12-51l0 20m-1-17l2 27m-7-21l9 39m-12-35l3 32m-5-17l2 28m-17-35l1 12m-9-35l3 23m-4-8l3 32m-4-1l3 32m2-37l2 32m2-30l0 38m0-17l2 28m-2-27l4 23m0-30l3 33m5-52l2 18m3 5l2 26m25-25l5 23m-4-38l6 37m-5-44l5 11m9-14l10 28m-9-25l8 25m-5-7l3 14m-1-17l11 30m-7-14l5 11m-1-42l9 25m9-13l4 12m-2-18l16 36m-15-34l12 34m0-42l17 36m-12-30l10 26m-6-34l13 25m-13-19l18 29m-8-11l9 19m-9-19l11 20m5-30l12 14m-9-14l7 9m20-13l14 17m-9-25l24 20m1253-17l22-24m-9 50l27-26m-22 16l15-14m-10 3l28-29m-17 34l10-10m-9 0l13-15m-11 48l6-8m23 0l13-24m-13-6l6-10m-4 10l8-11m-3 29l18-31m-16 32l8-12m10 4l10-19m-9 14l15-33m-13 45l15-30m-14 26l17-36m-9 46l16-35m-10 39l11-21m-2 2l4-13m-2 22l13-27m-13 44l12-25m-4 13l5-11m-4 6l12-30m-7 45l13-29m0 20l6-12m3 7l6-10m-1 10l5-14m0 24l8-20m-6-1l11-31m14 44l8-26m-26 49l6-13m-8 16l15-43m-31 42l10-22m-12 21l6-16m-8 16l8-17m-15 21l11-22m-12 18l13-29m-13 35l19-37m-20 30l10-22m-69 25l15-31m-30 27l11-18m-14 19l7-12m-29 10l18-25m-21 23l8-10"/>
<path stroke="#2ca7ff" stroke-width="2.5" d="M1463 798l9-9m-115-21l10 5m-106-6l2 9m-110 15l2 5m-257-4l2 6m-134-19l2 2m-5-2l4 9m-118-9l3 4m-115 15l27 19m-40-30l31 25m-35-26l17 14m-3 20l20 14m-19-2l9 8m-6-29l25 19m-13-8l11 10m233-17l1 9m11 14l2 9m65-32l8 10m7-6l4 4m30 11l1 3m291-8l5 8m260 38l18-17m-170 0l10 4m-130 0l2 11m-187 5l3 5m-39-23l1 10m-46-3l1 7m-141-29l4 4m-8 11l4 3m-88 2l3 4m-214 2l33 21m-37-17l22 14m-22 9l24 21m-18-22l12 12m130 9l3 3m40-19l4 7m43-7l2 2m12 6l5 6m45-35l4 7m36 3l5 5m0 15l3 7m113-19l3 9m50 8l3 11m-2-15l1 5m113-6l5 9m347-33l19-18m44 39l16-17m18 68l9-11m-30-3l10-9m-58 17l16-17m-33-13l18-19m-218 16l8 9m-28 30l6 10m-200-22l3 11m-109-32l1 3m-78 22l2 2m-34-32l7 11m-140 18l3 3m-74-4l3 1m-16-23l4 1m-132 21l9 9m-18-32l18 18m-37-16l25 26m-30-12l20 20m-22-28l13 9m-38-23l33 26m-44-3l20 17m-35 38l21 23m137-47l3 2m26 2l3 3m51 9l6 7m96 1l8 10m36-30l3 5m22-5l1 3m29 3l1 4m16-15l2 4m66 18l4 7m31-20l2 9m52 7l0 5m58-41l4 6m9 18l0 4m66-9l2 7m14-28l2 4m48 10l1 2m88 9l3 3m97 7l2 2m88-1l8-9m5 4l17-26m1-4l14-20m210 95l3-12m-31 2l10-25m-13 27l6-17m-6 25l7-23m-9 11l8-17m-30 16l8-14m-21 14l12-24m-13 21l11-23m-20 19l10-17m-47 27l8-14m-33 15l16-23m-59-1l8-9m-16 20l19-19m-24 28l21-21m-449 29l4 2m-14-28l2 7m-119-10l0 5m-3 31l13 2m-88-27l4 8m-25 13l3 2m-74-17l2 5m-22-19l3 6m-27 12l7 7m-234-20l6 3m-123-9l15 13m-15-15l9 8m-69-2l22 17m-25 8l35 24m-35-23l16 16m-17-28l29 31m-83-24l31 25m-32-32l33 23m-127-7l12 21m-50-42l9 30m-14-29l5 14m-9-15l7 28m-10-26l9 34m-27-14l4 42m-7-46l1 36m-29-44l3 23m4 23l1 22m10-27l3 42m13-33l2 22m14-58l5 19m36 7l11 38m33-40l19 26m-17-18l26 34m43-50l27 20m-18-6l27 20m-24-30l10 7m-9 6l21 16m-8-15l17 10m23-21l19 15m95-39l3 2m77 1l6-1m42 22l3 1m11 13l16 0m-14-30l5 4m164 4l9 2m168-1l13 0m337 13l6-2m177-16l16-12m-6 29l18-15m-8-9l21-19m-8 37l17-17m-17 4l26-22m-16 24l30-26m1 33l28-31m-18 38l11-12m-9-7l8-11m4 30l21-22m-16 8l19-28m-17 37l15-29m2 39l19-30m18 30l7-22m2 12l10-34m4 15l7-27m-4 52l4-11m-1-1l3-20m13 34l2-18m10-4l3-20m17 48l4-20m5 32l4-26m-24 47l8-37m-26 13l7-33m-38 62l12-22m-34 21l5-11m-13 18l11-26m-35 24l13-18m-13 11l22-34m-46 13l8-9m-17 31l9-10m-16-12l23-25m-36 54l24-21m-30-6l22-23m-32 34l9-8m-1211-6l20 15m-117-13l21 27m-37-8l9 15m-29-26l23 33m-30-21l12 28m-49-56l6 31m-11-1l8 18m-16-45l7 23m-12-21l4 12m-17 3l3 20m-6-38l7 30m-23-14l1 12m-28 1l-3 32m5-24l3 22m5-10l2 37m2-42l5 34m14-11l7 26m10-50l8 27m-5-1l5 21m-5-47l4 13m6-17l7 19m-6-21l4 13m-1-7l7 35m9-18l7 21m-4-13l9 19m4-24l7 23m-4-19l9 26m-3-26l9 20m-8-30l13 25m-10-44l10 26m-1-24l18 29m-9-29l24 29m-21-23l18 26m12-34l19 26m-12-26l9 11m1278 5l15-18m-1 26l9-10m-8 4l13-10m-12 19l19-22m-17 13l21-27m-15 7l14-15m10 20l9-9m6 30l7-13m2 0l12-23m-11 29l19-38m-12 50l5-13m-4 3l11-20m6-1l12-27m-11 58l12-26m12 32l6-11m7 0l14-24m-8 2l12-38m6 36l7-15m-4 25l14-40m-11 32l6-18m-3 37l8-16m5 1l9-41m-3 34l7-31m-7 60l13-29m-10 13l12-29m-9 43l8-27m-6 33l7-21m-6 22l5-11m1 12l6-13m-19 18l8-18m-11 22l11-27m-70 28l7-15m-11 16l6-13m-41 14l7-16m-22 12l5-8m-20 6l16-28"/>
<path stroke="#2ca7ff" stroke-width="2" d="M1424 792l3 2m-84 0l3 5m-381 0l2 5m-14-38l1 5m-4-1l0 4m-200 0l4 2m-124-9l4 3m47 58l3 3m56 6l3 2m19-24l1 2m57 5l2 5m135-24l1 3m140 18l2 3m42 5l1 3m34-18l0 4m10 16l3 3m223-8l2 3m-148 38l0 3m-1-10l1 5m-221 0l3 5m-258-22l3 3m-190-11l3 4m-17-9l2 1m113 42l2 1m147 17l2 4m59-26l1 4m252 14l1 2m263-16l2 2m-339 60l1 3m-235 7l3 5m-30-40l5 3m-15 10l2 2m-19 18l2 5m-14-1l3 5m-93-27l2 3m-50 7l5 3m-66 9l4 1m-12 4l3 2m128 18l1 3m78 11l1 4m5-9l3 4m2-6l2 5m132-24l0 6m31 3l2 5m18-12l2 3m58 19l0 2m14-27l1 5m86 22l1 3m23-37l3 5m150 28l4 2m24-32l2 3m59 49l3 3m-74-11l3 3m-151 0l0 3m-241 4l2 2m-68-21l0 3m-10 20l2 1m-12-16l1 2m-111 28l6 3m-85-21l4 3m-66 7l2 1m-8-6l2 3m-53-18l5 3m-35 22l4 2m376 9l6 3m49 6l5-3m64 25l8-1m72-28l2 0m72 3l7-2m17 2l3-1"/>
<path stroke="#4ab3ff" stroke-width="7" d="M832 997l17-4"/>
<path stroke="#4ab3ff" stroke-width="5" d="M1415 1104l17-7m-531 19l8 1m181 64l18 21m-649 22l16 7m190 1l6-1m603-1l20 9m-540 31l9-4"/>
<path stroke="#4ab3ff" stroke-width="4.5" d="M450 1112l12 8m86 9l20 3m616 63l17 14m-131-42l8-16m-575 43l27 7m623 42l18 15m-684 12l2 0m1260 21l20-17"/>
<path stroke="#4ab3ff" stroke-width="4" d="M1299 795l8 5m-379-25l2 5m-152 11l7 11m-64-25l8 5m-13 14l7 8m-132 5l4 2m268-4l2 5m194 65l2 8m-109-25l3 6m-27 12l2 10m-286 26l11 2m67-2l8 10m40-5l4 8m0-31l3 6m173-21l2 12m177 6l2 10m328 29l9 6m-631-9l5 8m-157-4l4 5m65 19l4 6m61-3l2 6m132 20l3 8m260-12l3 9m-310 29l8 10m-162 9l8 1m158 4l13 4m220 50l16-3m-263 0l6 1m-77 5l29-1m-44-6l29-1m-40 7l13-1m-17 2l16-1m-47-7l17 0m-23 7l20-1m-27 2l25 0m-28 4l22-1m34 20l28 1m93 55l7-7m-13-19l10 20m-646-10l16 18m653 86l22-2"/>
<path stroke="#4ab3ff" stroke-width="3.5" d="M723 784l7 5m-141-18l5 3m389 45l6 10m271 7l3 5m-62 35l4 10m-143-20l3 5m-199-5l7-1m-181-22l5 4m-104 11l6 7m-40 52l9 4m377-12l0 12m125-25l2 8m200-14l5 9m195 47l5 4m-333-7l2 7m-470-30l4 4m259 72l7 11m327-32l5 12m122 48l7-3m-101-22l8 10m-655 14l10 3m-129 32l11 3m769-8l17-8m18 1l4-3m-57 29l12-5m-17 10l9-3m-14-1l13-5m-28 13l14 1m-35 13l12-6m-12 0l11-6m-23 13l8-4m-512-19l11 2m-21 23l23 0m-95 5l21 0m-23 0l10 0m-113 21l26 4m774 154l19 5m71-2l16 0"/>
<path stroke="#4ab3ff" stroke-width="3" d="M1499 795l23-22m-25 14l19-19m-28 7l8-7m-32 20l9-7m-14 1l15-12m-16 16l15-10m-364 17l2 12m-73-17l-1 5m-491-18l21 17m-26-22l11 9m-25 0l22 18m-31-28l9 7m-12 61l17 13m-9-17l20 17m-7-30l23 18m-14-11l13 12m90-38l9 8m43 10l9 9m109 1l5 11m62-35l1 12m188-5l4 6m385-7l18-17m-15 7l15-13m-14 17l11-8m-3 35l19-18m-16-12l13-12m-5 34l30-20m-28 10l33-24m-18 19l12-11m9 59l23-23m-36 25l22-26m-51 44l15-17m-100-6l4 6m-43 9l8 10m-18 0l4 8m-412-20l3 7m-48-15l3 5m-363-15l10 9m-12 7l16 15m-28-13l19 15m-20-30l27 23m-27-19l14 12m-17-25l36 26m-59-5l20 19m-18 16l14 11m3-19l10 7m-7-12l23 18m-15-10l15 10m-5-17l7 6m125 1l11 4m136 2l8 10m84-7l2 9m329-22l6 11m122 8l10 6m118-11l18-19m-16 23l14-14m-9 0l18-16m15 29l18-19m-8 24l22-26m-5 55l10-12m-13-1l13-16m-22 24l8-9m-25 11l22-21m-45 30l23-22m-25 31l19-22m-20 6l12-14m-12 17l13-14m-406-8l2 6m-82-1l3 4m-14 9l0 6m-58-2l4 10m-66-31l4 7m-176 22l7 6m-223-18l15 14m-24-25l23 19m-27-17l19 15m-32-12l19 18m-37-10l18 19m-30-18l18 18m-26-7l12 11m-52 23l24 21m-2-18l29 25m-4-16l9 8m-8-12l19 15m-8-35l20 19m-19 2l21 19m-15-52l31 28m-29 3l24 21m-24-36l22 20m-14-37l14 11m-13 24l14 13m-13-22l17 18m-14-14l13 12m-12-42l13 12m-13 21l15 13m166-36l10 6m306 14l0 8m548-6l13-13m-7-18l10-10m0 9l10-12m-2 15l8-9m7 35l18-19m-14 18l23-26m-22 16l9-10m20 29l22-26m153 64l3-15m-37 0l7-20m-39 31l11-19m-17 9l17-27m-19 16l6-10m-20 37l10-19m-33 17l16-28m-18 10l12-21m-12 29l19-31m-29 24l8-16m-18 31l10-15m-13 19l16-23m-17 11l19-34m-62 28l30-30m-35 37l22-24m-30 9l26-27m-42 27l26-28m-38 23l28-26m-38 24l18-16m-868 37l6 8m-143-34l7 3m-80-2l9 7m-19 11l13 9m-24-5l14 11m-28-31l13 10m-13 0l18 19m-24-16l11 9m-19-24l14 14m-16-9l32 24m-43 2l21 19m-22-35l24 19m-27 2l12 11m-18-15l31 28m-36-45l21 21m-27-6l14 15m-15-24l16 15m-17-2l23 19m-30-20l24 17m-37-21l27 24m-30-32l21 18m-28-15l15 14m-46-12l34 26m-35-20l9 8m-82-33l20 29m-32-22l8 16m-42-14l5 21m-11-3l4 20m-6-40l10 34m-15-35l5 28m-10-15l1 22m-15-11l2 12m-3-16l0 30m-7-29l1 18m-16-22l4 25m-10-20l4 28m-6-52l4 33m-1 15l4 37m3-50l-1 26m1-9l4 34m10-55l5 41m-4-8l1 18m2-40l1 14m-1-12l4 27m-1-30l2 20m-1-11l4 42m-3-38l0 12m1-14l4 35m-1-29l3 30m0-36l0 30m10-46l5 32m19-25l5 20m-3-30l10 36m-3-26l3 10m-3 8l11 26m-9-35l5 13m7-2l11 41m-7-40l10 26m67-48l29 24m-25-6l14 15m-12-12l25 23m-15-38l24 20m-23-33l12 10m-10 18l11 8m-9-21l13 12m-11-31l29 21m-22-5l23 15m-22-35l26 22m-23-6l13 9m-4-22l26 22m-17-23l24 20m-23 12l23 19m-21-42l21 18m-20 8l16 10m-12-45l18 16m-12-5l9 7m-3 0l12 10m3-10l10 6m-8-20l27 20m700-23l13 3m386 11l15-11m-13 21l21-17m-20 14l14-12m-7-9l21-13m-16 49l18-13m-14-6l21-18m-10 22l28-29m-7 15l27-24m-24 35l16-15m40-6l16-25m0 62l16-18m-14 0l13-23m-8 5l12-24m-4 30l9-18m-8 13l20-35m-11 40l20-37m-13 69l9-18m6-10l5-11m-5 11l13-31m-6 46l7-21m6 9l6-27m5 24l4-13m9 36l5-42m0 10l7-24m-5 28l6-26m-2 30l5-25m15 51l7-20m11 2l6-23m-4 43l5-25m-2 13l9-32m-5 15l5-17m-4 17l5-30m-3 68l2-7m-7 1l6-27m-11 59l11-41m-13 11l5-20m-9 31l5-27m-14 14l6-29m-13 64l4-14m-10 17l9-25m-10 10l2-20m-11 30l7-19m-24-1l3-13m-7 9l9-41m-41 37l7-17m-13 25l7-12m-8-1l16-38m-23 49l9-23m-29 25l9-13m-14 13l11-14m-17 13l8-9m-11 29l10-15m-17 15l22-28m-23 25l21-27m-22 19l18-20m-23 30l26-31m-27 4l18-21m-19 45l29-28m-45 9l21-22m-24 38l9-8m-11-11l18-19m-20 48l29-28m-31 1l29-30m-34 24l22-21m-23 51l17-17m-21-5l26-20m-32 22l8-9m-9 3l23-26m-602 22l15 4m-685 22l18 14m-30-36l27 27m-34 2l11 12m-18-31l9 11m-13 5l27 24m-33-55l28 31m-30-19l10 13m-20-17l25 31m-31-41l19 23m-27-6l14 19m-21-29l23 35m-26-11l18 24m-21-16l11 15m-11-18l15 26m-21-59l17 25m-27-26l22 34m-29-21l12 30m-28-41l12 41m-17-37l10 35m-15-31l10 33m-15-21l6 21m-11-35l12 36m-33-25l4 13m-12 3l7 32m-12-42l3 32m-5-50l0 32m-6-35l4 26m-12-27l2 28m-3 6l2 20m-3-45l3 36m-3-27l5 30m-25-34l1 40m-5-34l5 37m-7-29l2 29m-2-52l2 18m-1 27l5 34m20-16l3 18m-3-46l4 38m1-42l7 40m-7-16l2 12m1-29l3 26m6-27l4 28m-1-22l8 29m-5-19l5 15m-2-26l14 38m-8-46l8 35m8-25l3 14m6-13l6 15m-4-1l7 17m-2-34l6 22m-1-21l11 28m0-31l9 28m3-19l12 19m2-3l6 11m-4-23l17 25m-15-18l7 11m-3-11l11 19m-2-43l19 28m-16-32l11 14m17 8l13 15m-2-27l14 13m1252-20l21-19m1 16l8-9m0 18l22-28m-12 18l17-20m-12 30l21-21m-17 22l12-15m-9 32l15-16m-2 2l13-20m14 8l14-29m-12 58l11-26m6 20l9-20m-1 3l10-24m-3 23l15-37m1 45l10-20m11 39l8-12m-7 6l12-30m-7 22l4-13m3 13l10-30m-6 30l6-13m8 23l15-39m-14 41l7-17m-6 14l15-37m-15 29l8-29m-4 11l6-22m-2 22l4-20m-3 54l8-18m-31 29l14-44m-31 48l16-35m-23 23l7-20m-23 21l7-12m-12 20l14-29m-32 29l6-14m-6 14l12-30m-22 25l13-31m-35 32l11-26m-38 25l13-21m-26 20l11-13"/>
<path stroke="#4ab3ff" stroke-width="2.5" d="M1488 784l18-16m-18 9l10-9m-33 23l15-13m-193 7l2 3m-149 10l1 5m-228-20l2 10m-223-27l7 8m-36-6l4 3m-30 5l2 2m-14 2l3 2m-75 0l10 8m-10-6l10 8m-27-13l20 16m-27 33l23 19m-18-36l24 21m-16-2l11 10m0-34l9 9m95 6l7 4m46-7l6 11m59 6l2 2m121-27l4 5m86 13l1 3m28-24l1 3m21 17l0 6m133-8l2 12m21-4l0 7m270-11l26-24m-22 34l13-12m-2 36l10-11m-208 0l3 4m-122-5l5 6m-122-9l2 5m-215 22l1 3m-12-19l10 6m-103-25l5 7m-69-3l4 2m-140-4l14 10m-16 6l18 15m-19 1l17 14m-37-9l10 10m-1 8l23 21m155-7l2 2m481-11l1 2m199-17l3 10m107-9l10-11m-10 19l22-22m-17 38l22-21m-21 23l28-26m5 0l22-23m-17 16l21-21m-11 66l19-18m-38 17l21-21m-31 52l16-15m-20 6l13-14m-26-7l14-14m-199 38l1 3m-202-16l4 9m-39-15l2 3m-49 14l3 6m-22-10l1 4m-149-11l1 6m-297-4l6 2m-56-14l10 10m-11-11l22 17m-23 1l11 9m-13-11l14 16m-20-36l23 20m-25-17l19 17m-61 25l22 18m-18 5l16 12m-8-6l26 20m-20-41l16 15m-3-3l17 20m120-30l11 5m-1 10l8 7m160-8l1 2m154-32l2 8m249 3l5 10m342 10l17-17m-3-11l12-13m0 45l20-27m195 56l2-8m-71 8l14-25m-24 31l19-31m-70 12l8-14m-114 40l25-23m-47 12l16-14m-637-5l0 4m-36 3l3 8m-46 0l2 4m-14 3l12 5m-54 2l6 1m-233-11l7 2m-85-25l15 13m-46 10l26 23m-59-38l25 22m-41-3l28 23m-30-18l11 8m-19-16l23 18m-38-13l9 7m-30-5l11 8m-137-13l9 41m-16-43l8 37m-50-30l1 26m-10-11l0 26m3-17l4 20m-4-6l1 22m24-38l2 26m-1-23l1 14m33-14l3 11m1-6l9 24m36-18l25 31m-10-60l21 24m2 2l15 19m1-38l11 12m-1-5l18 17m-14-9l24 21m-9-15l22 17m10-27l11 9m-6-23l18 16m-11-16l27 24m-9-30l30 23m-23-13l15 11m115-12l14 5m135 4l4 1m252 1l7 0m418-5l12 0m141-5l19-15m20 26l28-23m-19 9l32-20m7 42l11-9m9-8l20-32m-15 29l24-34m-24 36l7-10m6 11l6-11m45 14l13-31m4 18l8-21m1 31l12-34m4 28l2-12m14 22l3-12m6 25l10-40m-9 20l6-28m19 67l6-25m-8 45l9-38m-19 18l5-32m-15 49l12-38m-34 52l10-35m-12 34l14-31m-18 10l5-17m-18 9l8-27m-57 28l11-18m-11 9l12-23m-26 54l21-29m-22-3l14-24m-26 57l21-21m-22 1l26-31m-40 50l27-27m-30 17l28-31m-34 21l19-18m-32 43l8-9m-17-7l27-24m-827 5l17 2m-451 12l12 11m-40 3l20 18m-72-42l24 32m-34-21l7 10m-22-17l13 16m-23-3l10 26m-13-19l9 20m-17-44l4 14m-6-11l12 38m-32-26l8 27m-19-19l4 12m-13-27l12 36m-13-34l4 17m-25 5l2 15m-7-40l2 16m-11 10l2 16m-30-8l5 38m16-42l5 40m25-42l12 41m-10-30l16 42m32-52l9 26m1-25l6 13m-3 18l10 20m-8-40l15 42m-15-27l10 20m1331-44l26-25m-11 43l19-15m-18 23l20-21m-15 1l18-18m-8 18l8-8m1 33l11-11m-3-3l15-16m4 11l16-30m-3 13l13-22m3 40l7-21m11 25l10-22m-9 36l13-29m-7-2l14-36m-8 47l12-25m18 28l11-26m-8 7l6-15m6 40l8-16m9 7l7-21m-19 58l13-29m-53 26l12-29m-23 26l11-25m-53 21l10-28m-15 29l15-31m-1426 28l3 8"/>
<path stroke="#4ab3ff" stroke-width="2" d="M1378 791l1 5m-190-18l3 3m-46-15l2 6m-92 11l1 3m-46-12l1 2m-216 21l3 3m-152-27l2 2m-36 59l3 2m124-1l2 2m18-24l2 5m30-16l4 4m48 4l3 3m11 4l3 4m378-18l3 5m84 27l3 1m7-17l2 2m27 4l4 4m-4 32l2 4m-78-1l3 5m-52-10l2 2m-199-4l1 5m-14-14l0 5m-63 4l1 4m-197-7l3 3m-75-5l5 3m-16 13l4 3m-5-12l4 4m-33-16l3 2m-20 26l4 2m-21-12l5 3m-17-9l4 3m189 51l3 3m17-13l1 3m65 11l2 2m43-12l1 4m31-21l3 5m45 11l1 5m34-23l1 4m26 2l0 4m302 20l3 3m103 17l3 4m-126 2l2 5m-25-11l2 2m-112 18l3 3m-55-24l0 2m-78 2l-1 4m-51-17l1 3m-11-11l2 4m-197 19l1 3m-105-10l2 4m-192-11l5 1m83 55l2 3m47-8l4 4m32-10l3 4m12 10l2 3m41 5l4 5m74-2l4 5m150-9l0 5m208-17l2 4m19-23l2 4m174 22l4 4m22 37l4 1m-18-23l3 2m-146 24l2 2m-30-37l3 3m-149 8l3 4m-42-11l1 3m-153 14l2 4m-14-12l3 4m-3 13l3 3m-198-4l4 3m-51 15l6 0m71-5l3 1m80 32l7 0m64-10l4 0m0-11l4 0m129-10l6-1m30 18l4-1m195-12l3-1"/>
<path stroke="#74c1ff" stroke-width="7" d="M832 998l16-4"/>
<path stroke="#74c1ff" stroke-width="5" d="M474 1086l19 11m158 52l11-3m1123 88l19-20m-1019 63l8-4"/>
<path stroke="#74c1ff" stroke-width="4.5" d="M541 1242l8 1"/>
<path stroke="#74c1ff" stroke-width="4" d="M1449 788l6 3m-625-11l6 6m-161 18l3 4m8-7l7 3m45 12l7 8m101 10l3 4m94-9l5 8m97-33l1 5m278 67l7 5m-247-39l5 6m-169 18l5 6m-223 33l3 7m290-20l1 5m288-11l9 7m179 55l5 6m-228-25l5 8m-5 10l5 10m-173-35l1 8m-3 11l4 8m-111-13l0 12m-147-22l5 7m-73 6l7 6m-200 11l9 6m82 31l6 5m197-33l5 8m340 15l3 6m121-28l3 5m-1 30l5 5m-8 9l10 7m-37-18l6 7m-368 22l8 5m-26-6l2 6m-76-35l6 6m-50-2l6 4m-105 0l7 7m-142 4l6 8m769 11l13 1m45 14l7-2m21 3l6-2m-518 39l14 0m-42 10l20-1m-39-4l16-1m-51 8l17-1m-53 2l13 0m-47 1l14-1m-18 2l11-1m-16-4l28-1m-36 1l28-1m-35 3l22-1m-32-3l24-1m-29 8l21-1m-59 3l24 1m1112 70l6-8m-1595 58l20 20m734 22l20-2m-62-28l19-21m-24 58l16-2"/>
<path stroke="#74c1ff" stroke-width="3.5" d="M876 794l3 6m-75-9l5 8m-48-6l8 8m-38 10l5 5m25 22l8 7m52-18l8 9m44-24l2 9m79-17l2 9m406 21l4 4m26-21l7 6m-30 38l6 3m-56-22l7 7m-116 28l4 6m-210-38l4 11m-33 4l0 5m-5 13l3 8m-398 16l5 2m245-17l7 11m193-3l4 9m53-22l8 10m163 22l4 4m11 14l7 8m-344 2l4 11m439 38l6 5m38-15l6 6m18-11l6 5m68 31l6 5m-237-1l3 5m-77-6l8 8m-156-23l3 7m-107 9l2 8m-409-13l7 4m306 59l18 5m3-35l6 4m369 11l10-2m31 17l16-7m34 7l13-4m39-30l11 0m48 70l24-3m-187-22l9-4m-21 13l16 12m-28-25l14-6m-39 34l9-4m-13 4l12-5m-21-2l17-7m-19 19l11-5m-278-26l16-1m-228 28l19 0m-331-10l19 13m173 54l27-5"/>
<path stroke="#74c1ff" stroke-width="3" d="M1494 785l15-14m-18 7l9-8m-13 18l19-18m-33 14l18-16m-24 17l11-9m-16 18l31-24m-628 5l8 9m-158-4l5 12m-122-14l11 5m-77 23l25 21m-20 11l18 15m-15-24l14 14m-12-34l15 11m115 19l8 6m138-17l6 10m15-12l3 8m160-18l1 6m168-10l3 4m2-5l5 10m313-19l31-29m-29 44l20-14m-17 6l27-24m-25 29l10-9m8 74l22-25m-49-4l31-29m-53 28l33-25m-970 48l13 10m-27-21l28 18m-31-5l25 22m-56 8l29 27m0-21l24 22m-21-37l23 22m-18-20l19 17m-14-30l14 12m124 18l9 8m63-32l5 3m181-11l1 12m459-2l10 8m101 10l10-10m-9 11l13-12m-12 15l18-19m-16 23l17-17m8-15l21-26m-20 35l24-31m-12 46l24-22m-22 28l17-16m-16 8l23-25m-21 20l13-14m14 69l8-9m-8 7l8-9m-27 0l26-31m-32 32l17-17m-23-3l20-22m-43 44l24-29m-34 22l10-10m-317 11l3 11m-149-27l-1 11m-37 18l-1 10m-100-25l0 7m-389-29l12 10m-27 1l18 15m-18 7l13 14m-14-47l25 27m-28-5l10 7m-12 8l18 16m-27-38l15 15m-19-6l33 26m-41-39l16 16m-21-8l20 17m-32 42l19 19m-13-48l27 21m-26-14l19 17m-7-17l24 21m-20-7l18 15m-5-34l13 13m228 9l3 4m772-26l19-19m-15 23l11-10m-10 10l12-10m-11 25l27-28m-26 24l14-14m-12 19l14-15m-13-11l27-27m-19 44l15-19m-14 25l21-24m-19 4l20-23m-18 47l13-13m-5-1l27-30m-14 46l25-25m-24 8l21-26m-18 40l26-30m-2 37l15-17m-11 13l19-28m-3 29l9-10m129 35l11-19m-19 26l10-18m-36 12l11-21m-24 32l16-28m-36 20l15-24m-49 35l18-24m-37 25l18-22m-25 17l21-24m-32 22l23-23m-26 27l15-13m-41 4l17-19m-18 20l28-31m-50 7l20-25m-24 55l13-15m-30 13l24-19m-32-3l14-19m-266 42l5 2m-230-19l4 11m-35 7l4 6m-79-30l1 6m-76 18l3 6m-9-28l3 10m-149-16l9 8m-201-9l6 3m-46-5l19 15m-20 8l6 6m-15-21l17 17m-25-10l13 12m-14-27l21 15m-21-15l20 17m-25 2l9 9m-10-15l27 23m-31-36l15 14m-26 11l27 24m-56-16l11 8m-35-6l15 14m-23-12l17 14m-32-41l27 27m-30-17l14 14m-22 4l10 6m-142-5l4 17m-5-18l6 19m-16-18l4 22m-11-43l6 29m-47-13l6 40m-9-31l1 9m3-10l1 16m18 14l1 18m2-37l2 11m22-17l2 12m7 7l12 30m-8-46l8 37m-3-36l11 39m-7-47l4 13m14 13l14 31m-9-38l11 32m-11-37l12 35m68-14l17 22m-15-32l29 30m-25-26l30 29m-25-43l27 17m-24-10l18 13m-16-19l28 22m-25-16l14 11m-12-23l23 19m-18-16l20 17m-7-13l16 14m-15-20l19 17m-1-13l24 16m-23-12l15 13m-11 4l26 19m22-51l16 14m-13-7l13 10m431-5l6 2m655 4l17-15m0 6l8-9m-5 21l29-27m-29 20l9-7m10-5l28-26m-1 30l27-27m-1 31l15-19m-1 32l23-28m-9 15l10-17m-6 28l23-36m-11 23l15-24m-8 43l17-27m-5-4l17-29m-8 56l17-34m-16 16l6-13m40 5l4-41m21 43l6-35m5 59l3-17m14 49l10-39m-10 23l5-17m-15 17l3-12m-3 18l5-18m-18 18l7-37m-7 47l5-22m-6 33l7-25m-16-8l6-21m-29 38l5-18m-37 3l7-15m-28 19l15-33m-15 45l7-15m-8 8l12-20m-22 16l6-10m-25 31l14-14m-17 0l21-26m-24 22l22-29m-28 40l23-26m-29 42l22-20m-31 20l13-13m-23 15l25-26m-31 18l26-24m-28 0l17-20m-24 42l16-13m-17 20l16-18m-1218-13l18 13m-33-5l13 10m-22-10l21 15m-23-8l22 17m-42-29l14 10m-17 12l18 14m-22-28l11 11m-12-12l36 27m-45-3l10 10m-21-15l17 22m-23-47l17 22m-21 8l19 20m-42-29l21 27m-88-24l8 25m-11-28l4 11m-6-26l6 15m-28-5l7 27m-19-39l4 30m-25-36l2 42m-32 22l5 20m-5-28l2 16m0-11l3 22m-2-12l3 18m7-40l1 14m9-30l1 17m4 8l3 15m3-38l6 29m0-19l4 31m-1-38l2 18m2-7l7 35m-1-50l6 29m4-13l9 37m-9-35l13 39m-8-49l9 35m0-22l6 22m-5-43l7 19m-3 0l3 14m16-19l17 42m-15-36l5 16m-4-26l10 31m-9-33l11 28m-4-20l4 12m-3-27l18 36m-14-24l16 36m-12-16l8 15m-6-23l9 18m-7-41l19 33m-16-24l5 15m8-9l11 20m-6-34l25 29m-14-27l17 22m-15-17l16 20m-15-5l14 20m-3-12l3 6m20-31l15 17m-8-18l11 12m-4-15l13 13m-5-9l6 5m1245-10l19-23m-14 22l23-23m-14 48l12-14m-6-11l27-27m-26 50l15-19m-7-5l30-27m-18 40l12-11m-4 3l18-21m0 21l7-10m-5 8l13-25m12 27l5-13m5 37l8-16m-6 8l6-15m-2 24l14-27m-1 6l8-21m-4 32l13-20m-12 27l19-38m3 32l11-31m-7 31l15-37m-12 21l15-39m-12 60l14-39m-2 28l7-35m1 45l12-32m-3 28l14-40m-25 62l8-22m-37 17l5-12m-6 21l12-27m-34 21l6-15m-18 24l10-22m-57 17l12-19m-33 12l15-23m-1470 25l3 12"/>
<path stroke="#74c1ff" stroke-width="2.5" d="M1472 798l17-14m-22 3l10-7m-167 13l5 9m-46-25l3 5m-51 7l2 6m-335-17l5 11m-49-18l4 3m-302-4l13 10m-20 1l16 12m-49 43l30 26m131-25l9 4m79-20l6 9m6-16l4 5m13-16l8 7m121-7l2 7m-2 13l2 6m334-8l3 7m221 8l12-10m-11 12l18-17m25 11l8-9m-1 56l18-15m-45-12l16-18m-42 10l14-12m-65 37l10 5m-77-14l9 5m-77-8l5 5m-84-16l7 6m-389 4l5 8m-320 27l26 25m-25-25l27 20m70-15l12 4m87-15l6 8m97 5l3 2m68 15l1 5m48-38l3 10m107-10l1 5m11 27l2 10m112-42l1 4m322 7l13-14m-4 31l12-10m3 7l26-28m-13 12l12-11m-4 16l12-11m-10 24l14-14m-5 21l11-10m-11 33l24-27m-70 8l14-15m-166 49l2 4m-156-5l1 9m-95-25l2 4m-64 0l5 8m-14-26l1 6m-131 16l7 5m-203 0l4 3m-25-15l4 3m-176-12l18 17m-29-13l16 15m-58 13l23 19m-21 6l26 22m10-29l15 13m36-30l2 0m53 11l3 2m86 13l3 3m64-2l3 8m32-35l2 1m55 11l2 3m114-4l3 5m1-3l2 7m1-10l5 10m29 0l3 6m0-8l6 8m22-10l0 7m94-16l8 9m105-11l3 3m42 18l4 7m260-23l19-21m0 27l12-16m-12 28l22-31m-12 24l12-13m67 55l19-35m-42 39l21-27m-51 33l23-21m-24 12l26-25m-37 25l21-20m-73-5l14-17m-327 19l2 3m-219 21l2 4m-98-25l2 3m-126-1l4 4m-93 17l4 4m-118 2l11 2m-131-24l10 10m-48 2l26 22m-47-28l23 19m-73-8l32 25m-40-19l30 26m-144-35l4 13m-34-23l4 23m-37-21l3 22m-10 31l1 18m38-46l2 19m2 6l1 16m6-42l8 33m0-34l3 14m13 9l10 35m20-32l8 31m-1-59l15 23m31 2l24 32m15-36l29 24m-17-30l32 28m-29-42l26 22m-24 2l17 14m-12-17l22 19m-13-9l30 23m-22-48l18 13m-15 7l14 11m13-33l33 29m148-14l4 1m860-9l4-1m99 11l30-27m-26 22l29-24m-21 12l20-16m42 49l13-13m-6-7l15-24m12 11l17-39m22 40l11-20m57 52l6-26m25 18l3-13m-22 24l3-25m-101 33l13-25m-28 42l10-15m-11 23l19-31m-53 13l10-9m-1288 6l14 11m-25-6l13 10m-16-12l18 18m-39-8l20 25m-112-27l8 25m-29-14l12 30m-29-39l4 19m-6-14l12 40m-27-44l7 41m-19-29l6 29m-12-31l2 18m5-6l2 41m40-36l10 32m-3-38l6 21m-5 3l7 20m0-26l8 18m24-7l5 13m3-31l12 25m-2-20l14 28m-9-37l20 27m16-15l12 15m-9-25l19 23m1273-23l21-22m-9 40l11-13m40 16l12-23m-4 14l18-33m16 28l13-25m-10 23l5-15m21 18l6-12m-3 19l5-13m31 6l9-18m-1 24l8-22m-3 9l9-26m-56 55l6-12"/>
<path stroke="#74c1ff" stroke-width="2" d="M1065 781l-1 4m-13-12l-1 4m-16-11l-1 5m-9 14l0 5m-65 6l2 4m-141-20l1 4m-95-15l1 2m-77 22l2 1m74 14l3 2m2 23l2 2m43-4l2 4m59-24l3 5m24 15l3 3m8 1l3 5m126-13l1 3m52-20l1 5m44-9l0 3m292-4l3 4m-171 41l2 4m-367 16l1 2m-19-20l1 4m-15-15l1 3m-2 33l3 3m-54-18l2 2m-25 5l4 4m-91 6l5 2m-88 7l5 1m64-6l2 2m7 10l2 3m64 15l3 4m23-33l0 3m33 16l2 4m110 12l1 4m33-30l0 3m99 11l1 6m25 5l1 5m147-40l3 3m120 9l4 4m72 5l3 3m-126 20l1 2m-66 10l1 5m-175-5l0 5m-227 8l4 4m-64-20l3 4m-71-16l3 3m-78 71l5 3m79-22l4 3m77 17l1 3m41-35l1 2m48 23l3 4m189 3l0 3m278-28l5 3m67 60l4 1m-302-28l0 4m-59 10l3 4m-124-2l1 3m-33 5l3 1m-226-27l2 1m-7 24l3 2m-15-3l2 2m-78 38l3 0m95-24l5 3m408 9l7 0m31-9l6-2m2 17l6-1m27-16l3 1m275 11l5-2m90 14l3-1m-40 10l7-4"/>
<path stroke="#99d0ff" stroke-width="7" d="M833 998l16-5"/>
<path stroke="#99d0ff" stroke-width="5" d="M511 1097l9 7m615 106l7 7m242 37l26 4"/>
<path stroke="#99d0ff" stroke-width="4" d="M1025 777l1 12m-344-3l9 6m685 27l8 11m-116 49l6 8m-213-12l3 11m-391 22l8 9m55-29l4 2m45-5l4 8m413 2l3 11m-5 28l2 8m-154 9l3 5m-39-19l0 13m-297-8l7 4m-1 16l7 5m107 29l8-2m14-7l1 5m126-30l4 10m231 18l3 11m53-40l2 6m1-4l4 5m126 8l10 6m-316 42l8 7m-238-26l4 9m-12 39l6 2m214-4l14-1m-238 48l11-1m-34 4l22-1m-85 5l28-1m-28 6l15-1m-21-1l10 0m-15-6l22-1m-44 2l16 0m-17 6l20-1m-120-1l27-1m297 171l19-1m-54 2l15-2m-291 18l20-3m259-8l24-2m6 0l23-2m471 1l10 0"/>
<path stroke="#99d0ff" stroke-width="3.5" d="M987 771l0 8m-50 15l2 10m-251-14l8 9m-27-11l11 5m454 7l1 6m104 30l8 9m142 29l5 9m-33-24l3 5m-136 2l3 8m-19 1l1 12m-396-47l9 8m-78 26l6 5m-33-12l7 10m-97-17l5 3m-22 9l9 5m79 42l7 9m-3-48l10 5m54 12l1 5m122-16l2 12m365-9l7 6m-300 55l3 9m-16-6l3 6m-95-8l4 8m-78-19l2 8m-86-24l5 8m-46-7l5 2m-13 32l9 4m-79-6l9 6m-20-13l8 2m234 9l1 7m17 11l5 12m231-12l5 7m222 4l4 7m13-30l9 6m15 65l9 3m-145-39l4 10m-213-1l2 8m-1 56l18 1m299-5l8-3m-7-7l11-5m-39 27l17-8m-46 31l14-7m-16 7l14-7m-309 12l14 3m-184-14l14-14m-257 32l14 4m118 5l14-5m985 42l3-2m-172 85l18-4"/>
<path stroke="#99d0ff" stroke-width="3" d="M1481 785l17-17m-508 22l1 5m-49-22l4 12m-81 10l5 4m-182-23l6 8m-138-16l10 9m-25 59l11 10m212-19l3 11m450-9l3 6m250 1l15-14m-2 7l10-9m-8-18l14-11m-9 32l32-27m-31 21l29-27m-27 16l23-17m-22 30l9-7m23 63l22-20m-36 23l15-15m-21-7l29-31m-39 33l25-26m-34 37l21-19m-28 29l24-26m-35-13l23-20m-490 31l2 9m-473 15l12 10m-52 32l17 13m4-30l22 21m-19-6l16 15m812-19l6 8m26-16l4 4m64-14l6 7m72 10l24-27m-21 11l26-24m-23 23l13-12m-11 32l25-23m-18 6l10-10m-7 13l19-18m-6 75l16-18m-20 6l12-10m-14-12l11-10m-36 44l15-14m-15 11l21-22m-26-3l18-19m-23 30l9-8m-12-8l21-15m-24 32l23-23m-24 24l15-16m-18 7l16-15m-336 12l0 10m-146 10l2 10m-166-9l2 5m-56-24l8 7m-13-9l5 9m-101 3l7 6m-213 8l9 8m-16-5l20 17m-23-20l17 15m-57-31l24 22m-38 15l17 16m4-6l26 22m-14-21l25 19m-21-39l21 19m-20-6l22 20m-7-35l11 9m-9 19l10 9m109-34l10 6m670 7l4 7m135 8l9 3m84-6l12-14m-7 16l27-31m-25 23l28-29m-13 3l15-21m-5 26l11-12m-11 33l17-18m-15 2l17-20m-11 35l16-19m126 61l14-26m-70 8l7-9m-71 14l19-22m-21 46l25-23m-29 0l15-16m-15 15l22-29m-35 45l23-20m-42 11l19-15m-20 7l21-18m-22 32l21-16m-32 24l22-19m-26 6l12-12m-12 14l15-13m-16 6l11-11m-13 9l13-13m-15 9l17-19m-283 27l5 4m-801-11l17 16m-23-23l9 8m-10-5l12 10m-14 13l9 7m-13-6l23 18m-25-14l21 18m-26-41l9 8m-10-9l22 21m-34 5l27 20m-30-39l17 17m-21-5l28 22m-34-17l10 7m-18-25l26 30m-37-23l10 8m-14-5l20 20m-26-16l14 12m-17-18l24 21m-150-35l11 21m-53-19l9 30m-29-9l4 28m-5-35l6 30m-11-23l3 24m-27-1l0 22m8-31l2 22m4-16l4 42m11-35l0 12m3-16l2 24m-1-12l6 36m5-63l3 14m53-2l18 33m34-39l25 28m-8-37l21 17m-20-12l21 19m-19-7l22 18m-18-8l26 22m-15-16l34 22m-31-46l30 20m-27-4l20 17m-16-31l23 22m-19-18l12 10m-11-22l29 24m-19 7l12 9m-9-25l31 22m-29-33l14 11m-10 3l13 10m-11 1l24 18m-13-41l33 26m-33-33l31 28m-21-15l15 13m-11-28l18 17m-17-2l34 25m1099-29l12-11m12 12l12-10m-7 13l8-9m1 4l28-23m-5 27l25-21m-15 22l22-25m-13 29l20-19m-3 37l28-31m-8 19l12-16m-6 7l7-12m-1 5l16-28m4 55l18-31m-5 31l8-17m12-14l6-17m11 18l15-39m-9 36l4-25m59 48l8-43m-8 75l9-28m-25 27l4-15m-14 25l6-19m-10 18l3-12m-3-14l6-36m-26 52l3-22m-13 44l7-19m-21 9l17-39m-22 30l15-35m-16 34l11-38m-26 51l8-18m-36-7l22-36m-30 66l17-25m-25 17l27-33m-45 37l19-21m-28 9l16-18m-38 12l24-27m-27 27l22-26m-1224 19l14 9m-51-4l25 17m-26-10l21 15m-25-15l9 8m-10-24l31 26m-45-21l32 25m-35-19l20 16m-24 3l16 17m-16-49l11 9m-21 18l27 28m-42-23l23 27m-24-32l26 32m-32-32l26 30m-29-38l21 32m-34-45l15 22m-58-20l11 25m-14-2l10 26m-17-54l7 19m-19 1l6 17m-38-15l9 20m-13-12l4 20m-6-51l5 25m-20-21l2 35m-4-14l6 42m-12-59l0 24m-18-12l0 22m-6-13l3 26m6 9l3 21m4-33l1 12m18-23l1 12m12 17l4 21m-2-26l5 25m0-26l5 23m14-49l9 24m-2-10l4 14m-2-14l4 13m19-3l11 25m-9-21l11 28m-10-24l7 17m3-49l10 22m-9 11l7 14m28-33l10 15m5-4l13 16m-4-39l24 24m-8-15l15 12m-9-18l16 15m1243 8l20-20m-18-5l23-27m-14 51l24-23m-23 22l14-16m0 2l11-11m-3 32l16-19m-6 10l20-25m-19 11l22-26m35 49l14-31m-5 26l12-32m-1 28l11-21m-8 29l14-26m9 3l19-37m20 27l7-21m2 38l9-33m-8 15l8-24m-47 69l16-30m-25 31l7-13m-52 16l9-19m-19 15l13-27m-17 25l7-17m-26 17l11-20"/>
<path stroke="#99d0ff" stroke-width="2.5" d="M1491 788l8-8m-338 9l1 4m-243-12l3 4m-41-9l3 8m-83 3l7 11m-274 32l19 16m240-22l3 5m91-19l2 5m104 15l1 7m267-19l5 8m204 8l34-27m-30 9l10-8m-5 16l30-27m-10 48l21-18m-45 14l19-15m-132 33l8 10m-125-6l0 3m-243 8l3 5m-198-9l4 6m-49-27l3 4m-41 21l3 3m-9-14l6 8m-196-25l22 18m-27 11l18 15m-21-2l19 17m29 7l12 4m354-13l0 13m1-5l2 8m160-38l1 4m389 8l21-23m-20 21l28-27m-25 31l20-19m-5 41l28-28m-23 13l30-29m-28 42l28-29m-9 43l22-23m-31 32l19-18m-33 26l13-15m-125 27l6 8m-61-24l1 2m-222 7l2 7m-121 1l3 6m-32-38l1 2m-33 19l3 12m-27-24l2 9m-86 7l2 3m-123-22l6 4m-14 4l3 1m-12-9l3 4m-88 13l6 3m-114-25l22 20m-53 7l26 22m-8 11l19 18m-19-35l22 20m-20-26l21 21m-9-5l11 9m342-17l3 6m53 11l6 9m-5-10l3 4m75-25l2 4m233-1l1 6m6 22l1 8m33-22l4 9m52-17l2 3m192-6l12-11m-11 6l21-21m-15 49l28-30m-8 2l27-32m-17 56l17-17m5 20l24-27m-20 24l11-14m-5 16l10-11m-3 6l9-11m159 36l2-8m-60 10l11-20m-38 39l6-10m-57-8l12-13m-14 23l20-23m-54 19l24-25m-25 21l25-23m-27 17l26-31m-30 44l16-13m-43 3l10-10m-14 32l25-21m-171 2l6 6m-91-26l10 5m-133 15l1 2m-176-19l3 7m-184-8l1 5m-124 22l8 2m-265-1l11 9m-30-11l8 8m-9-8l23 20m-232-32l9 20m-18-17l2 10m-38 5l1 9m-2-10l4 25m-15 12l1 14m0-8l4 23m33-45l5 26m17-3l11 30m-8-55l11 37m21-20l2 12m8-2l5 16m62-44l22 20m-19-8l17 14m10-19l28 19m-26-13l15 12m-13-29l22 16m-4 5l29 22m-27-19l29 25m-23-27l20 14m-18-16l27 22m-26-45l33 25m-24 2l18 14m-18-11l11 8m-9-41l17 17m-11-2l10 8m-9-10l29 20m-29-12l19 15m-17-3l25 19m-23-33l23 18m-18-35l13 10m-1 7l11 8m2-19l8 5m130-13l10 4m195 24l5 0m17-27l3 1m98 2l3 2m163 10l7 2m16-8l7 0m59 1l9 0m123 13l13-5m228-9l18-15m73 6l14-19m-7 29l14-17m-8 5l15-26m41 48l12-25m21 4l8-24m24 38l2-16m8 16l6-19m13 40l6-24m-12 63l4-11m-16-21l4-37m-118 53l13-15m-42 27l23-20m-1269 4l25 18m-29-22l12 8m-31 20l12 10m-25-29l36 23m-36-24l25 21m-124-15l3 11m-72-19l1 20m-9-15l2 14m-16-5l6 40m-19 8l2 14m29-43l3 22m74-5l5 15m-3-33l8 23m24-13l25 24m-15-29l21 26m-12-35l11 14m-8-3l9 13m26-29l15 13m-12-7l16 14m1288 12l8-9m122 29l10-19m-47 14l9-18m-9 23l5-12m-44 8l20-38"/>
<path stroke="#99d0ff" stroke-width="2" d="M1148 789l2 4m-117-12l0 3m-16 7l2 5m-27-15l0 3m-75-9l2 5m-30-7l2 2m-26 2l1 2m-142 3l2 2m-35-5l3 5m-95 25l4 2m199 25l3 4m26-10l1 3m2-24l1 2m89-4l1 5m66-1l2 4m29 6l0 6m5 9l1 2m108-27l1 3m251 30l3 1m-224 31l1 3m-223-24l1 4m-191-14l2 5m-46 13l3 3m-13-16l2 5m-44 6l4 2m-26 5l2 1m160 21l3 4m165 25l0 4m33-33l0 2m47 1l2 5m7 1l3 4m401 12l2 2m-100 20l1 2m-235 0l1 4m-160-6l1 6m-88-14l2 5m-3 17l1 3m-76-12l2 2m-189-11l4 4m-50-5l3 2m-29 47l5 2m542-15l0 3m9 2l2 4m55-14l2 5m103 16l2 5m5-1l1 2m85-21l4 4m132 29l4 4m-19 26l5 1m-439 6l4 0m-49-3l6 2m-129-11l3 3m-112 3l3 2m-70-17l3 3m-82 27l2 1m79 18l5 1m23 11l5 1m598-33l4-2"/>
<path stroke="#baddff" stroke-width="5" d="M569 1148l16 2m903-28l20-5m-444 85l9 10"/>
<path stroke="#baddff" stroke-width="4.5" d="M477 1187l9 4m5 38l11 4"/>
<path stroke="#baddff" stroke-width="4" d="M975 797l2 9m-293-36l3 6m-69 26l4 4m132 31l6 5m2-26l5 5m563-3l4 5m-349 32l3 5m-56-11l3 9m441 41l7 5m21 47l7 6m-615-2l7 6m-238-6l4 4m768 49l4 8m-49 10l9 9m-52-12l10 7m-245-28l-3 7m-89 47l12-1m-2-8l7 3m43 14l7 0m-154 39l12 0m-27 0l23-1m-42 2l13-1m-27-2l29-1m-29 7l19-1m-20-1l24-1m-25-2l10 0m-19 2l24-1m-30-1l15-1m-31 0l18-1m-45 9l23 0m-31-6l17 0"/>
<path stroke="#baddff" stroke-width="3.5" d="M1400 788l10 7m-95-20l6 12m-450-1l8-1m-177-16l5 7m-69 19l11 4m446 3l2 8m107 11l6 6m23-19l5 9m-110 50l7 10m-390-4l3 9m-124-15l12 5m271 9l1 12m28 12l7 10m308 0l3 6m-259 13l0 11m-147 5l7-1m199 48l-1 9m354 32l9 1m-666-28l6 7m-14-9l4 3m-35 0l4 6m-182-13l8 8m754 65l7-3m5 2l12-6m-10 4l8-4m-5 2l16-7m-10 5l11-6m-8 10l9-5m-7 5l10-5m-6 6l7-4m-52 18l15-7m-20 9l8-4m-13 5l8-3m-11 6l10-4m-22 6l13-6m-25 10l9-4m-35 18l18-9m-163 8l8 0m-578 3l19 7m-269 113l7 7"/>
<path stroke="#baddff" stroke-width="3" d="M1474 784l19-16m-30 19l20-19m-411 23l-1 13m-516-24l14 12m-23-18l23 18m-40 26l26 19m-18-29l21 17m95-16l8 5m34-6l3 5m185 22l10 6m98-7l0 13m478-36l10-8m-7 31l25-21m-22-11l10-7m-2 32l15-13m-14 6l10-7m-3 7l30-23m-16 19l9-8m18 69l11-9m-30-18l18-19m-34 21l16-17m-18 42l13-13m-17-16l31-25m-47 30l21-22m-301 31l4 6m-170-14l2 6m-217-6l2 5m-273-6l7 5m-14-1l12 11m-20 48l6 5m272-38l3 4m63 12l6 9m45 9l3 8m487-25l4 3m73-6l15-16m-15 16l33-30m-32 28l22-20m1 26l29-28m-28 19l24-26m-9 32l20-20m6 67l12-13m-14 25l15-19m-17 6l12-13m-20 5l11-11m-20 10l26-28m-53 18l19-18m-21 38l20-17m-23 9l22-19m-319 36l5 10m-275-6l4 5m-429-33l11 9m-13 2l14 13m-14-21l21 14m-26-18l22 21m-29 3l20 17m-25-25l34 25m-35-13l16 15m-17-24l31 27m-34-19l27 25m-49-7l9 8m9 15l20 17m-16-28l18 15m-13-5l13 10m-5-37l15 15m254-15l4 5m351 5l2 9m396-8l19-19m-16 25l17-17m-7 29l9-10m-4-18l8-9m3 37l10-11m-8-14l24-29m-13 19l10-12m-7 45l10-13m-9 12l21-34m74 62l16-23m-19 32l9-11m-10 10l9-15m-88-8l25-26m-31 57l29-22m-32 15l19-17m-21 0l8-8m-11 19l8-8m-13 12l22-18m-26 19l17-16m-18-5l15-16m-21 28l16-12m-20 29l13-11m-14-19l22-24m-28 51l17-13m-430 1l7 6m-283-3l5 5m-371-8l6 5m-18-14l17 15m-32-29l31 25m-40-15l26 25m-56-20l18 19m-19-35l33 26m-67 8l10 8m-162-13l5 17m-38 31l-1 36m2-34l0 14m3-32l5 38m-2-59l6 31m16-5l2 14m71-40l23 25m24 7l17 17m13-16l16 12m-15-21l28 19m-23-12l24 17m-18-9l31 22m-28-31l20 14m-19-27l27 24m-25-10l20 13m-7-31l17 11m-17-20l24 20m-21 15l29 21m-26-32l13 12m-11-19l22 17m-22-34l9 8m-1 8l31 25m-29-10l26 21m-25-29l25 17m-19-35l14 11m-11 12l16 10m-7-16l12 9m-10-10l15 9m893-16l13-2m179-6l29-26m-19 34l28-19m-15 2l22-20m-18 37l20-16m42 7l14-14m-10 38l23-22m-22 21l15-14m14-18l8-12m-7 45l9-11m12 13l7-10m31 11l15-35m6 22l7-25m-2 37l8-37m-2 11l11-30m31 56l2-12m18 2l4-21m-34 59l7-31m-29 13l7-35m-12 59l8-26m-29 2l5-28m-17 54l14-38m-25 37l6-10m-24-13l16-23m-84 52l26-28m-576 1l18-2m-671 7l14 8m-16-20l18 14m-26-4l20 13m-44-4l17 13m-24-13l15 10m-16-12l25 22m-35-22l30 21m-30-20l27 20m-172-34l11 34m-30-30l4 42m-7-15l9 37m-9-62l8 41m-15-24l5 30m-11-43l2 36m-13-52l-1 34m-12-11l3 34m-11-5l5 32m1-26l6 33m9-47l3 36m5-1l3 18m17-28l5 21m13-34l6 15m25-1l9 21m0-18l9 18m12-51l24 35m-17-1l7 10m-3-26l15 19m0-11l10 15m15-32l17 19m-16-15l15 16m-14-18l17 15m-14-23l20 21m-17-21l23 21m-23-12l14 13m-3-19l11 9m-1-12l10 8m1256 4l28-28m9 15l10-12m-1 34l13-23m10 0l11-28m3 60l10-17m-3 19l8-20m0-6l14-28m53 54l8-18m-29 30l10-23m-74 18l13-31m-15 32l7-18m-16 20l12-25"/>
<path stroke="#baddff" stroke-width="2.5" d="M1483 778l12-10m-22 24l21-19m-539-3l1 9m-175 10l5 10m-252-5l11 9m148 11l3 6m433-1l3 8m365 30l11-9m-15-7l20-17m-31 38l22-24m-22 31l20-22m-34-4l30-25m-167 47l9 8m-157-15l2 4m-70-2l3 7m-148-17l0 4m-66 9l2 1m-140-11l9 8m-240-19l16 14m-27-1l24 19m-21 20l14 12m116 7l5 4m126-10l8 5m71-9l7 7m200-2l1 6m153-19l6 7m5-10l4 3m99 0l6 6m7 18l2 2m147-19l24-26m9 13l18-18m-8 78l11-11m-27 12l31-28m-35 0l25-27m-34 46l14-15m-24 31l22-25m-24 17l17-15m-130 22l3 5m-492-12l3 12m-432 15l13 10m-13 12l25 23m-24-24l23 18m-19-44l30 28m-1-39l10 8m367 15l6 10m145-14l1 2m261-7l2 5m210-5l21-21m-12 23l25-27m-21 12l13-15m-3 16l26-25m-4 41l23-26m-2 25l9-10m15 38l12-14m-50 16l14-16m-27 41l19-20m-26 7l12-11m-354-8l1 3m-207 15l2 6m-83 8l5 3m-85-18l3 4m-119-9l3 3m-174-9l2 1m-63-5l10 10m-17-2l16 14m-27 9l11 10m-21-27l15 13m-20 2l22 20m-23-18l20 18m-32-23l28 19m-257-29l8 30m-38 15l2 30m179-45l26 21m-10-12l28 26m-5-30l11 10m-7-3l13 10m-3-27l22 13m-15-3l33 28m743-40l13 4m76 25l12-2m116-6l12-4m130-4l31-19m57 9l11-14m100 17l10-30m18 49l4-28m45 30l3-22m-114 53l11-19m-41 33l14-17m-31-2l10-9m-41-4l15-14m-23 29l19-21m-26 18l19-20m-1213 9l18 13m-48 7l15 10m-17-10l17 12m-18-3l13 9m-33-35l24 18m-31 14l17 14m-57-50l22 23m-85 37l9 33m1368-24l24-26m0 34l18-19m13 16l11-23m26 11l15-31m-11 45l5-13m12 8l17-36m31 19l9-20m-88 54l16-32"/>
<path stroke="#baddff" stroke-width="2" d="M1360 770l5 2m-78 6l2 3m-146 13l1 5m-16-10l1 3m-125-6l0 4m-140-20l3 4m-41 15l2 5m-14 0l2 2m-137 13l5 3m-5 19l5 3m30-12l4 4m359-1l1 2m138 4l2 3m-26 23l0 3m-204 16l0 3m-47-10l1 3m-31-7l1 6m-25 3l3 4m-121-7l2 2m-106-19l4 1m-96 19l5 3m57 14l4 3m-1 23l4 4m104-3l4 4m213-33l1 3m36 2l0 3m14 16l1 3m115 2l2 3m259-19l2 1m62-17l2 2m-195 53l2 3m-32-24l4 4m-360 31l3 4m-16-23l2 4m-6-19l2 1m-56 14l2 4m-233 17l3 1m310 17l1 4m106 6l1 4m15-28l2 4m39 14l1 4m133 0l2 3m88-19l4 3m98 33l3 3m-355 28l2 2m-152 6l3 0m435 4l3-2"/>
<path stroke="#d7e9ff" stroke-width="4" d="M747 783l8 10m-28 39l5 8m608-12l3 7m-57 21l1 7m-125-15l1 6m-138 25l5 9m-310 6l8 7m220-2l2 8m183-7l2 7m71 12l4 10m-4 101l8 2m-61 7l12 4m-94-42l-5 8m-123 5l1 8m-324 1l12 3m198 29l15 2m-10 45l24-1m-30-1l17-1m-28 0l26-1m-30 7l21 0m-27-1l17 0m-70 2l21-1m-22 3l11-1m-30 1l29-1m-30 1l20-1m-26-1l13 0m-42 1l23 0m213 174l24-2m-10 1l14-1"/>
<path stroke="#d7e9ff" stroke-width="3.5" d="M1231 796l2 7m-378-36l7 5m175 57l-1 7m16 9l3 5m-114 21l2 8m-184-25l8 6m29 23l3 6m585 57l7 3m-378-2l1 11m-164-9l8-1m-232-16l5 5m188 48l2 6m129 33l3 6m-229-16l6 4m469 36l12 1m74 28l12-5m-22 15l16-7m-25 6l16-8m-595 0l9 2m-57 51l23-5"/>
<path stroke="#d7e9ff" stroke-width="3" d="M1486 787l17-17m-29 24l18-13m-31-1l12-12m-936 12l28 22m-32 35l19 16m-16-52l22 15m155 4l4 5m754 4l31-29m-28 16l16-14m-7 28l24-18m-17 26l26-21m-25 9l22-17m-15 27l18-16m0 34l9-8m-18 25l29-28m-33 7l29-31m-40 32l16-15m-20 23l30-28m-34 11l11-12m-12 36l26-22m-30 34l18-19m-19 1l23-22m-25 10l20-17m-359 37l2 6m-358-1l5 5m-104-25l8 9m-170 16l19 14m951 14l27-26m-25 39l27-31m-23 7l9-8m-8-5l12-11m-4 34l19-18m-16 12l26-21m-8 26l11-10m-6 17l19-20m-5 67l9-9m-24-29l31-28m-32 58l23-24m-24 14l15-11m-18 10l28-23m-30 22l29-28m-35 36l13-15m-21-4l13-15m-14 8l17-20m-26 24l21-19m-565 40l2 13m-444-22l12 11m-39 5l30 22m-37-1l30 22m-17-21l21 19m-13 4l7 6m42-28l5 3m28 2l10 8m925-18l15-15m-13 18l22-25m-17 22l20-25m-17 42l20-19m-11 5l12-13m-2 17l15-16m-15 30l27-26m-26 21l17-18m-9 15l14-19m-11 8l17-20m-9 47l17-21m189 56l4-22m-34 20l5-11m-144 2l11-12m-15 20l16-15m-36 4l23-19m-25 19l23-28m-24 10l11-11m-19 26l21-19m-21 14l26-28m-28 16l27-32m-33 37l19-21m-21 51l18-17m-18 8l23-22m-24 4l24-27m-24 50l10-10m-15-4l13-13m-17-3l16-17m-19 27l25-26m-25 51l12-11m-22-4l19-19m-571 20l5 4m-235 0l5 3m-195 4l10 3m-85-26l9 8m-16 2l11 9m-15-25l18 16m-22 14l8 7m-33-8l13 10m-54-11l24 24m-184 10l4 16m75-11l17 21m21-24l33 26m-31-22l25 21m-23-48l14 12m-5 6l30 26m-28-15l23 19m-22-28l20 20m-14-28l17 14m-10-29l34 25m-33-15l14 12m-10 1l20 17m-15-14l14 8m-9-9l9 7m1-12l14 9m-11 1l22 14m-14-38l20 13m-18 17l22 17m-15-33l14 11m-10-19l16 11m-14-9l17 14m-16-1l14 12m-3-26l9 7m95-13l7 3m981 2l14-12m-5 18l21-16m2-4l16-12m-11 32l18-15m-18-4l9-7m-8 21l27-23m92 38l10-19m-10 17l9-17m21 27l9-30m16-1l4-18m59 17l5-25m0 36l8-40m-60 83l6-34m-36 33l8-29m-106 15l20-16m-37 49l9-8m-15-9l15-17m-1207-1l18 14m-20-4l11 8m-12-20l11 8m-35 3l21 13m-21-20l28 18m-30-7l14 10m-14-7l11 11m-27 5l15 12m-28-24l27 27m-28-11l9 8m-14-26l9 8m-10-17l31 25m-40-32l12 11m-15 9l19 23m-132-38l7 18m-16 48l3 12m46-14l11 23m4-25l13 17m32-34l16 21m-6-10l11 10m-5-29l9 8m-1 1l7 7m1254-17l17-14m60 34l21-29m31 40l15-31m-1 26l21-32m14 19l9-28m7 50l14-30"/>
<path stroke="#d7e9ff" stroke-width="2.5" d="M1303 795l1 7m-3-6l4 3m-262-21l1 8m-146-2l5 10m-185 4l3 4m-5-13l7 6m-186 3l22 16m159-9l3 2m746-7l9-7m-3 41l14-11m-7 5l26-25m-20 12l27-24m-4 84l18-21m-51-4l24-20m-213 24l3 6m-404 17l3 13m-362-29l20 19m-49 28l10 9m208-32l10 5m-2 26l4 5m69-25l4 4m99-13l3 12m26-18l1 4m582-4l22-21m14 94l14-17m-16 22l12-13m-22-15l11-10m-30 3l20-16m-28 44l26-24m-28 16l14-13m-116 17l9 8m-182-4l2 4m-88-19l3 4m-467-21l5 5m-174 28l9 8m-21 11l12 10m150-6l5 2m443 5l0 3m423 5l15-16m24 24l15-18m149 58l6-13m-160-22l15-19m-45 38l14-12m-16 0l27-24m-39 35l14-13m-21-5l19-16m-307 15l1 4m-569 14l10 7m-46-16l6 1m-188 24l15 13m-18-11l17 14m-17-15l15 15m-57-21l20 23m-68-2l9 7m35-10l9 8m18 7l22 15m-16-12l10 5m2-31l15 13m177-6l10 5m239-11l6 1m648 3l12-11m-3 9l29-25m-19 25l28-23m12 29l9-8m48 2l9-16m-35 64l11-12m-482-1l16-8m-755 9l11 9m-13-6l14 7m-24-2l17 14m-23-15l27 20m-28-11l17 14m-19-28l17 11m-18-2l21 13m-32-2l20 14m-21-16l21 13m-23-28l31 21m-67 4l25 23m-30-27l30 35m-31-60l21 19m-140-16l4 14m-22-4l4 30m-6-17l3 15m-7-8l2 16m84 13l13 24m-9-10l6 8m-6-11l5 14m-1-25l18 24m18-25l18 20m-5-36l15 16m4-19l14 14m1262-1l13-15m4 25l15-16m44 12l7-17m62 12l12-30"/>
<path stroke="#d7e9ff" stroke-width="2" d="M1345 778l3 4m-310 7l0 3m-60 2l-1 2m-185 4l2 2m25 30l2 5m386 28l1 5m-222-14l1 3m-106 4l1 3m-57-5l4 3m132 37l2 4m52 14l1 5m333-43l2 4m25 5l2 4m-84 29l4 4m-53 26l3 4m-136-34l1 2m-93 16l0 2m-93 15l0 4m-61-12l2 5m-205-28l3 2m-101 10l3 1m127 27l3 1m243 31l3 5m16-7l2 3m243-35l1 3m-249 47l2 4m-182-19l3 5m-213-4l3 2m126 75l7 0m657-33l5-1m27 25l3 0"/>
<path stroke="#eaf3ff" stroke-width="4" d="M1195 1006l5 7m-378 89l28-1m-40 2l15-1m-42 2l24-1m-56 5l24-1m-36-3l12 0m-23 1l22 0"/>
<path stroke="#eaf3ff" stroke-width="3.5" d="M878 956l1 5m423 116l10-5m-3 4l11-5m-9 6l14-7m-31 16l9-4m-44 19l15-7m-17 4l9-4m-45 18l15-7"/>
<path stroke="#eaf3ff" stroke-width="3" d="M558 779l12 8m-28 9l18 16m-24 0l24 17m-16 9l8 7m916-37l18-14m-15 26l23-19m-14 22l10-7m1 2l23-19m15 75l13-13m-31-19l9-8m-23 44l8-9m-11-16l23-19m-23 36l23-21m-25 26l19-20m-22-8l23-22m-32 34l26-27m-31 11l19-16m-966 57l12 11m483 11l2 12m478 1l13-15m-11-5l11-11m-10-8l20-21m-2 60l8-10m5 36l11-9m-19 12l14-17m-20 22l20-25m-24 2l26-24m-32 29l8-8m-20 14l25-31m-1029 41l27 21m-50 26l13 13m1030-26l18-21m-14 3l12-13m0 25l10-10m-8 18l15-16m-13-2l19-20m-15 11l15-16m-11 43l21-26m0 29l12-13m-9 15l13-16m3 1l13-15m73 71l13-22m-57 1l9-13m-36 16l23-20m-28 26l17-17m-40-2l27-27m-28 44l22-21m-27 6l9-9m-19 44l12-10m-15 7l13-9m-24 6l21-20m-27 9l14-11m-14 4l18-21m-22 13l12-12m-13 13l23-23m-25 23l12-11m-1052 13l9 9m-10-17l11 12m-15-13l19 17m-23-5l18 16m-44 2l20 18m-27-21l26 22m-60-17l32 27m-234 3l2 34m178-24l28 16m-14-22l23 16m-22-33l17 16m-12-22l10 10m10 10l17 15m-8-18l17 11m-15-29l28 23m-24-24l25 19m1084-18l15-14m14 21l20-16m112 9l12-25m-24 85l8-14m-59 20l23-22m-28-1l21-21m-1255 34l11 8m-24 6l11 8m-44-19l24 18m-29-9l17 19m-184 10l3 16m17-12l11 33m80-30l12 17m-2-14l8 13m-6-23l13 20m-9-7l7 8m3-23l17 25m9-36l14 17m1402 22l12-31m-12 32l17-31m-49 26l7-14"/>
<path stroke="#eaf3ff" stroke-width="2.5" d="M1486 798l20-16m-23 0l10-7m-520 20l1 10m-426-20l14 13m382 33l3 4m550 0l32-27m-14 61l9-8m-16-3l23-23m-25 30l11-14m-28 18l12-13m-441 23l1 4m-358 24l1 3m425-8l1 5m399-1l10-10m-13 38l26-28m-39 39l11-9m-62 4l4 2m-216-11l3 4m-226 14l1 11m-257-39l2 4m-284 54l15 14m4-18l7 8m702 7l1 4m331-31l12-13m1 24l27-32m-22 41l22-24m52 63l17-22m-75 7l15-19m-20 47l30-27m-31 27l28-32m-34 29l19-14m-54-3l7-8m-213-5l2 3m-628 8l3 3m-212-9l6 6m-19 6l9 10m-48-1l26 24m-103-2l26 23m-25-16l18 16m-16-28l19 15m-18-16l29 25m-9 3l24 21m2-49l16 11m-5 1l20 14m478-19l6 2m646-5l24-24m1 16l10-7m175 10l5-17m-1399 66l27 19m-49 6l18 17m-87-18l21 29m-104-58l7 38m-17 8l4 28m76-14l10 22m31-26l13 19m-6-35l24 28m1306-13l21-25m12 30l6-10"/>
<path stroke="#eaf3ff" stroke-width="2" d="M845 772l2 1m-130 10l2 5m-7 33l2 5m72-21l3 3m110 3l2 3m84 8l3 4m87-13l2 4m118 18l0 3m203 18l2 2m-192-10l3 3m-9 28l2 4m-199-35l2 5m-277-11l3 3m-139 15l3 3m-21 40l2 1m237-1l4 4m87-2l1 5m566 37l3 2m-284 6l0 5m-47-15l0 3m-107-5l2 3m-13 4l1 2m-298 1l3 3m-56-35l2 2m-49 55l5 2m325-17l2 4m6 10l1 3m82 36l2 5m-168-4l2 4m-184 8l3 4m-44 2l4 1m232 23l3 1"/>
<path stroke="#fafcff" stroke-width="4" d="M1059 785l1 7m-24 7l1 6m-245 18l4 8m174-10l0 11m274-13l4 6m-411 77l1 5m-22 195l21-1m-32 2l16 0m-24-3l25-1m-33 3l16-1m-17 3l25-1"/>
<path stroke="#fafcff" stroke-width="3.5" d="M791 892l4 7m-21 22l7 9m121 65l3 11m402 71l11-5m-7 7l14-7m8-5l10-5m-78 33l8-4"/>
<path stroke="#fafcff" stroke-width="3" d="M1486 787l21-18m-25 25l25-19m-28 18l12-10m-14 5l14-12m-16 12l26-19m-32 15l14-11m-475-4l3 8m-139 3l5 7m-213-15l10 6m-117-9l9 6m-15-5l14 11m-21 1l10 7m-10-10l24 21m-24 10l15 12m-11 0l14 10m906 2l33-29m-29-5l26-19m-26 21l31-28m-22 37l26-24m-22 51l17-14m-15 14l21-21m-13 21l9-8m-6-19l18-15m-3 81l17-17m-17 5l21-21m-23 18l10-10m-18-7l9-11m-11 24l18-13m-18 21l27-27m-33 40l19-19m-22 19l14-14m-15-6l14-14m-15 26l17-20m-19-7l24-25m-29 30l26-23m-27 50l29-37m-30 11l25-24m-28 19l20-16m-981 81l19 16m437-26l2 11m232-17l1 5m281-7l29-26m-26 16l16-15m-11 30l13-15m-13 37l20-18m-18-21l14-15m-10 15l31-25m-28 52l22-25m-22 13l27-30m-26 36l24-21m-21 13l12-12m-6 25l28-31m16 81l17-24m-21 20l12-14m-27 19l19-21m-35 5l24-24m-30 8l21-15m-21 34l25-25m-28 39l16-16m-17 0l23-23m-23 7l18-19m-21 31l27-26m-521 31l1 7m-177 0l3 5m-325-26l9 8m-19-7l16 16m-38 51l12 11m-11-23l17 19m-14-31l18 19m-13-13l12 11m-9-28l16 14m996-16l29-29m-19 52l26-30m-26 7l17-19m-14 24l16-16m-14 43l22-26m-20 4l23-22m-20 28l26-27m-26 24l23-25m-23 27l8-8m-7-6l28-31m-23 68l18-16m-17 17l19-21m-19-10l26-30m-24 55l12-13m-9 4l15-19m-14 0l20-23m-18 35l11-12m-7 28l10-12m-9 9l23-25m-23 27l13-15m-6-1l15-16m-15 34l27-27m-8 28l7-9m15 31l9-8m-15-3l8-9m-11 13l14-14m-17 43l11-9m-14-26l12-13m-12 46l18-15m-20-2l30-30m-30 31l29-30m-31 26l11-11m-14 11l19-17m-20 26l16-15m-19 28l25-20m-26 16l16-12m-17-20l16-18m-18 44l17-15m-24 23l23-20m-25-8l16-17m-17 34l26-25m-28 23l13-10m-14 9l13-9m-16-1l14-11m-14 11l20-17m-26 41l14-14m-19 11l22-18m-23 16l27-26m-38 12l17-14m-20 11l27-27m-1070 15l13 12m-14-2l10 8m-29 7l16 13m-51-5l35 29m-99-16l19 14m-1-3l15 10m-11-9l34 24m-34-29l12 10m-8 13l26 19m-17-45l27 20m-15 4l21 16m-14-18l30 21m-17-44l9 8m-6-16l14 11m-14 3l27 17m-27-13l11 8m-4-18l19 15m391-4l15-7m674-16l23-22m-18 22l16-15m-15 22l35-28m-19 26l13-13m-9 16l13-11m-12 4l14-11m-9 26l30-26m-22 12l31-26m-31 26l9-7m1 12l15-13m8 9l21-24m4 55l26-28m-13 33l16-19m155 39l4-23m-91 37l9-23m-124 22l24-30m-1201 3l9 8m-12-13l10 8m-21-7l22 15m-32-5l15 11m-20-20l15 10m-19 6l14 10m-21-2l12 7m-15-11l11 6m-14-19l23 19m-26-25l13 10m-20 19l12 10m-13-27l33 21m-39-19l29 23m-30-31l27 18m-27-17l21 16m-22-16l17 13m-18 1l15 11m-17 4l13 11m-13-15l16 14m-23-38l35 24m-142-18l8 27m-6 2l10 32m9-14l5 11m10-4l9 15m-7-17l11 20m19-18l6 10m1403 2l16-33"/>
<path stroke="#fafcff" stroke-width="2.5" d="M1486 793l15-10m-15 9l16-15m-34 9l25-17m-26 10l14-11m-21 30l32-29m-41 20l2 1m-428-9l1 5m-485 11l19 18m-18 13l12 10m121-33l2 2m79 31l3 3m4-24l3 2m27 6l2 4m175-5l0 5m5-29l1 3m496 28l23-18m-23 8l15-17m-11 2l30-24m-26 18l19-17m-17 32l21-18m-9 28l25-17m-25 12l10-9m9 67l11-11m-12-3l15-13m-18 28l22-17m-29 3l16-18m-18 15l15-13m-19 9l14-15m-16 5l20-20m-42 28l31-26m-341 20l0 3m-229-2l1 5m-12 12l2 2m-402 35l13 11m-11-15l14 12m957-28l12-14m-5 15l21-21m-21 21l18-19m-18 43l17-20m-11 12l8-8m-5 14l26-22m-25 28l14-15m-3-18l14-14m-14 16l10-10m-7 23l23-22m-6 80l12-14m-14 15l9-11m-15 5l16-13m-18-9l12-11m-16 10l9-8m-13 3l9-8m-11 43l10-11m-11-11l20-20m-25 28l25-31m-29 12l17-19m-19 24l16-18m-276 40l2 4m-172-29l1 3m-33 24l1 2m-223-26l2 3m-31 26l3 2m-235-3l2 2m-2 0l5 3m-59-26l17 17m-21 3l14 13m-17-18l15 13m-13 1l10 7m340 17l0 2m364-14l6 9m49-22l0 2m135 13l4 3m95-12l24-26m-17 35l25-24m-9 14l27-26m-23 40l15-17m-11 31l28-31m-19 6l21-22m-20 33l20-22m-17 19l11-11m-9 7l19-26m-11 48l23-36m11 65l19-17m-23 16l15-14m-32 24l21-21m-27 12l12-10m-12 5l27-27m-32 43l16-14m-19 1l10-10m-18-7l25-31m-26 44l24-27m-28 18l13-12m-15 18l19-20m-20 18l24-22m-27 17l19-18m-23 35l19-18m-30-7l21-20m-255 46l3 5m-47-8l5 3m-48 3l4 0m-142-28l-2 4m-149 26l2 3m-48-28l1 4m-401-10l25 21m-32 3l16 13m-37-18l25 22m-266 17l3 19m180-25l21 18m-3-4l19 15m-13-40l27 27m-18-2l33 23m-10-37l21 19m-19-2l10 7m-7-21l14 8m372-9l7 1m25-3l2 0m57 2l6 0m631-11l10-9m13 8l14-12m-12 16l9-8m59 6l17-24m-1235 58l17 13m-23-3l10 7m-17-17l24 16m-61 0l25 19m-26-12l25 20m-42-10l21 17m-153-34l13 36m42 15l15 22m1396-19l15-39"/>
<path stroke="#fafcff" stroke-width="2" d="M1402 789l5 4m-90-15l2 5m-311-12l2 4m-23-2l0 3m-88 11l3 4m-25 5l1 3m-12-3l3 2m-12-29l3 2m-78 21l2 5m-94-4l4 4m-22-7l5 1m-76-11l5 2m162 33l2 2m50 14l3 4m0-6l4 4m47-19l0 4m39-13l2 3m215 13l1 4m46-11l2 4m56-7l2 4m126 20l2 2m25 40l2 4m-104-25l1 2m-3 0l3 2m-93 4l2 3m-145-21l1 3m-25 7l1 3m-28-6l1 5m-195 13l2 3m-28 0l2 3m-21-37l4 3m-21 33l1 4m-24-10l3 4m-116 23l6 2m123-8l2 1m29 6l1 2m27-3l2 2m69 6l3 3m15-27l1 5m13 4l1 6m22 23l1 4m99-14l0 6m238-24l4 2m78 3l2 3m48 59l1 2m-214-28l0 5m-154 15l1 5m-33-20l0 5m-27 10l1 5m-32 2l2 3m-21-24l0 5m-6 1l0 3m-34 11l1 2m-16-7l2 4m-151-23l2 2m-14 15l2 1m66 18l2 3m44-10l1 3m3 20l1 3m15-7l2 5m19-12l1 2m56 16l2 4m89-13l1 2m262 1l2 5m30-17l1 2m15-8l5 2m78-11l2 4m40 33l4 1m-39 23l3 3m-68 15l4 1m-112-38l1 3m-31-1l2 5m-77 16l3 3m-108-23l1 3m-40 15l2 2m-26-7l0 4m-16-14l1 3m-30 22l2 1m-53-22l1 4m-122-6l2 1m-19 4l2 2m-49 6l4 3m-91 9l5 1m-31-2l4 1m-35-28l4 4m23 39l3 1m84 0l4 2m466-2l3 0m50 27l8-4m5-22l4 0m169 6l6-2"/>
<ellipse cx="192" cy="1020" rx="15" ry="14" fill="#000"/>
<ellipse cx="252" cy="1036" rx="11" ry="25" fill="#000"/>
<ellipse cx="296" cy="1014" rx="8" ry="14" fill="#000"/>
<ellipse cx="1811" cy="1032" rx="9" ry="22" fill="#000"/>
<ellipse cx="1790" cy="1014" rx="6" ry="10" fill="#000"/></g>
<path d="M164.3 768.9V1301.3M233.2 768.9V1301.3M302.9 768.9V1301.3M372.6 768.9V1301.3M442.3 768.9V1301.3M512 768.9V1301.3M581.8 768.9V1301.3M651.5 768.9V1301.3M721.2 768.9V1301.3M790.9 768.9V1301.3M860.6 768.9V1301.3M930.3 768.9V1301.3M1069.7 768.9V1301.3M1139.4 768.9V1301.3M1209.1 768.9V1301.3M1278.8 768.9V1301.3M1348.5 768.9V1301.3M1418.2 768.9V1301.3M1488 768.9V1301.3M1557.7 768.9V1301.3M1627.4 768.9V1301.3M1697.1 768.9V1301.3M1766.8 768.9V1301.3M1835.5 768.9V1301.3" stroke="#fff" stroke-width="3" stroke-dasharray="3 8.02" fill="none"/>
<path d="M163.8 834H1836.5M163.8 900.8H1836.5M163.8 967.5H1836.5M163.8 1034.3H1836.5M163.8 1101H1836.5M163.8 1167.8H1836.5M163.8 1234.5H1836.5" stroke="#fff" stroke-width="3" stroke-dasharray="3.6 7.42" fill="none"/>
<path d="M1357.6 1033.9V767.3" stroke="#fff" stroke-width="3.6" stroke-dasharray="15.5 7.9 3.8 8.2" fill="none"/>
<path d="M1357.6 1167.4V1301.3" stroke="#fff" stroke-width="3.6" stroke-dasharray="3.7 7.8 15.8 8.1" fill="none"/>
<path d="M1000.1 767.3V1301.3" stroke="#dc400c" stroke-width="4.2" fill="none"/>
<rect x="818.8" y="887.4" width="69.7" height="80.1" stroke="#fff" stroke-width="3" fill="none"/>
<path d="M163.5 767.3H1836.5M163.5 1301.3H1836.5" stroke="#000" stroke-width="1.6" fill="none"/>
<path d="M163.5 767.3V1301.3" stroke="#000" stroke-width="1.2" fill="none"/>
<path d="M138.3 767.3H163.5M151.2 780.6H163.5M151.2 794H163.5M151.2 807.3H163.5M151.2 820.7H163.5M151.2 834H163.5M151.2 847.4H163.5M151.2 860.8H163.5M151.2 874.1H163.5M151.2 887.4H163.5M138.3 900.8H163.5M151.2 914.1H163.5M151.2 927.5H163.5M151.2 940.8H163.5M151.2 954.2H163.5M151.2 967.5H163.5M151.2 980.9H163.5M151.2 994.2H163.5M151.2 1007.6H163.5M151.2 1020.9H163.5M138.3 1034.3H163.5M151.2 1047.7H163.5M151.2 1061H163.5M151.2 1074.3H163.5M151.2 1087.7H163.5M151.2 1101H163.5M151.2 1114.4H163.5M151.2 1127.8H163.5M151.2 1141.1H163.5M151.2 1154.4H163.5M138.3 1167.8H163.5M151.2 1181.2H163.5M151.2 1194.5H163.5M151.2 1207.8H163.5M151.2 1221.2H163.5M151.2 1234.5H163.5M151.2 1247.9H163.5M151.2 1261.2H163.5M151.2 1274.6H163.5M151.2 1287.9H163.5M138.3 1301.3H163.5" stroke="#222" stroke-width="1.4" fill="none"/>
<path d="M163.5 1301.3v7.6M233.2 1301.3v3.6M302.9 1301.3v3.6M372.6 1301.3v7.6M442.3 1301.3v3.6M512 1301.3v3.6M581.8 1301.3v7.6M651.5 1301.3v3.6M721.2 1301.3v3.6M790.9 1301.3v7.6M860.6 1301.3v3.6M930.3 1301.3v3.6M1000 1301.3v7.6M1069.7 1301.3v3.6M1139.4 1301.3v3.6M1209.1 1301.3v7.6M1278.8 1301.3v3.6M1348.5 1301.3v3.6M1418.2 1301.3v7.6M1488 1301.3v3.6M1557.7 1301.3v3.6M1627.4 1301.3v7.6M1697.1 1301.3v3.6M1766.8 1301.3v3.6M1836.5 1301.3v7.6" stroke="#333" stroke-width="1.3" fill="none"/>
<text x="128.4" y="788.5" text-anchor="end" font-size="36.5">-50</text>
<text x="128.4" y="913.8" text-anchor="end" font-size="36.5">-60</text>
<text x="128.4" y="1047.3" text-anchor="end" font-size="36.5">-70</text>
<text x="128.4" y="1180.8" text-anchor="end" font-size="36.5">-80</text>
<text x="128.4" y="1301" text-anchor="end" font-size="36.5">-90</text>
<text x="163.5" y="1354.9" text-anchor="middle" font-size="36.5">0</text>
<text x="372.6" y="1354.9" text-anchor="middle" font-size="36.5">3</text>
<text x="581.8" y="1354.9" text-anchor="middle" font-size="36.5">6</text>
<text x="790.9" y="1354.9" text-anchor="middle" font-size="36.5">9</text>
<text x="1000" y="1354.9" text-anchor="middle" font-size="36.5">12</text>
<text x="1209.1" y="1354.9" text-anchor="middle" font-size="36.5">15</text>
<text x="1418.2" y="1354.9" text-anchor="middle" font-size="36.5">18</text>
<text x="1627.4" y="1354.9" text-anchor="middle" font-size="36.5">21</text>
<text x="1836.5" y="1354.9" text-anchor="middle" font-size="36.5">24</text>
<text x="1000" y="1395.3" text-anchor="middle" font-size="37">Local Time (hours)</text>
<text transform="translate(46.8 1034.3) rotate(-90)" x="0" y="0" text-anchor="middle" font-size="37">Latitude (<tspan font-size="17" dy="-17">o</tspan><tspan dy="17">)</tspan></text>
<text x="1000" y="751" text-anchor="middle" font-size="42">Southern hemisphere</text>
</svg></body></html>
